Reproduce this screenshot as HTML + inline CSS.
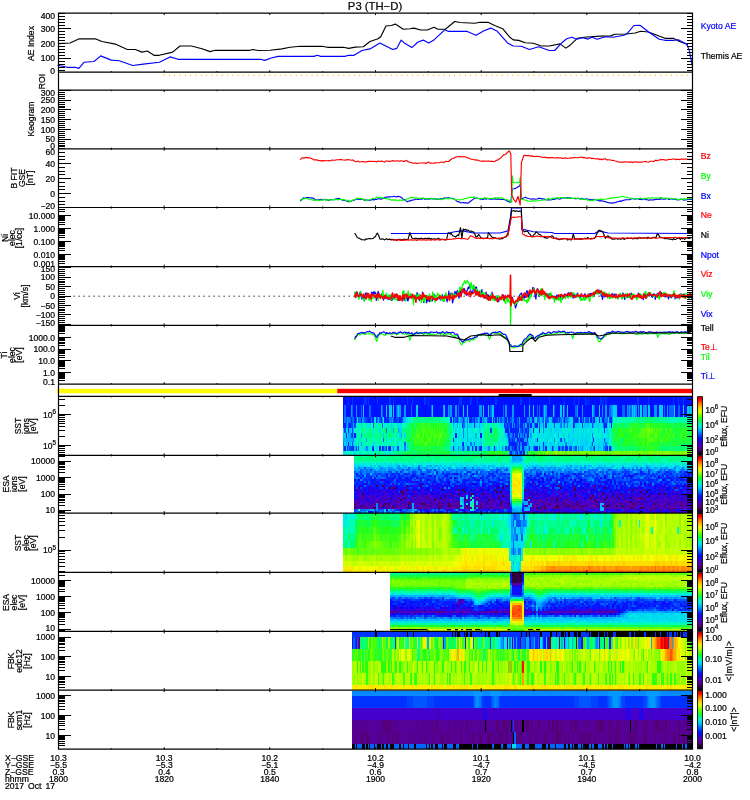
<!DOCTYPE html>
<html lang="en"><head><meta charset="utf-8"><title>P3 (TH-D) summary plot</title>
<style>html,body{margin:0;padding:0;background:#fff}#p{position:relative;width:750px;height:800px;overflow:hidden;background:#fff}#p i{position:absolute;display:block}#p svg{position:absolute;left:0;top:0}text{white-space:pre}</style></head><body>
<div id="p">
<i style="left:343px;top:396px;width:349.5px;height:9px;background:linear-gradient(90deg,#01f 0 5px,#03f 0 6.2px,#01f 0 8.8px,#03f 0 10px,#01f 0 21.2px,#03f 0 23.8px,#01f 0 25px,#03f 0 26.2px,#01f 0 33.8px,#03f 0 35px,#01f 0 46.2px,#03f 0 47.5px,#01f 0 50px,#03f 0 51.2px,#01f 0 63.8px,#03f 0 65px,#01f 0 68.8px,#03f 0 70px,#01f 0 81.2px,#03f 0 82.5px,#01f 0 85px,#03f 0 86.2px,#01f 0 116.2px,#03f 0 118.8px,#01f 0 127.5px,#03f 0 128.8px,#01f 0 133.8px,#03f 0 135px,#01f 0 152.5px,#03f 0 153.8px,#01f 0 177.5px,#03f 0 178.8px,#01f 0 186.2px,#03f 0 187.5px,#01f 0 206.2px,#03f 0 207.5px,#01f 0 221.2px,#03f 0 222.5px,#01f 0 231.2px,#03f 0 232.5px,#01f 0 235px,#03f 0 236.2px,#01f 0 242.5px,#03f 0 243.8px,#01f 0 245px,#03f 0 246.2px,#01f 0 257.5px,#03f 0 258.8px,#01f 0 260px,#03f 0 261.2px,#01f 0 262.5px,#03f 0 263.8px,#01f 0 293.8px,#03f 0 296.2px,#01f 0 305px,#03f 0 306.2px,#01f 0 330px,#03f 0 331.2px,#01f 0 335px,#03f 0 336.2px,#01f 0 340px,#03f 0 341.2px,#01f 0 349.5px)"></i>
<i style="left:343px;top:405px;width:349.5px;height:12px;background:linear-gradient(90deg,#01f 0 1.2px,#06f 0 2.5px,#01f 0 7.5px,#09f 0 8.8px,#06f 0 10px,#01f 0 12.5px,#09f 0 13.8px,#01f 0 17.5px,#06f 0 18.8px,#01f 0 20px,#0cf 0 21.2px,#01f 0 26.2px,#06f 0 27.5px,#01f 0 37.5px,#09f 0 38.8px,#06f 0 40px,#01f 0 42.5px,#0cf 0 43.8px,#01f 0 46.2px,#0cf 0 48.8px,#01f 0 50px,#0cf 0 51.2px,#01f 0 52.5px,#06f 0 53.8px,#09f 0 55px,#0cf 0 56.2px,#09f 0 57.5px,#01f 0 61.2px,#09f 0 62.5px,#01f 0 67.5px,#06f 0 68.8px,#01f 0 72.5px,#0cf 0 75px,#01f 0 87.5px,#06f 0 88.8px,#0cf 0 90px,#01f 0 100px,#09f 0 101.2px,#0cf 0 102.5px,#01f 0 105px,#09f 0 106.2px,#06f 0 107.5px,#09f 0 108.8px,#01f 0 112.5px,#09f 0 113.8px,#01f 0 115px,#06f 0 116.2px,#01f 0 120px,#0cf 0 121.2px,#01f 0 123.8px,#0cf 0 125px,#01f 0 136.2px,#09f 0 138.8px,#01f 0 140px,#0cf 0 141.2px,#01f 0 145px,#0cf 0 146.2px,#01f 0 147.5px,#06f 0 148.8px,#0cf 0 151.2px,#01f 0 160px,#06f 0 161.2px,#01f 0 162.5px,#09f 0 163.8px,#01f 0 168.8px,#09f 0 171.2px,#01f 0 181.2px,#09f 0 182.5px,#01f 0 186.2px,#0cf 0 187.5px,#01f 0 190px,#0cf 0 191.2px,#01f 0 193.8px,#06f 0 195px,#01f 0 196.2px,#06f 0 197.5px,#01f 0 200px,#06f 0 201.2px,#0cf 0 202.5px,#09f 0 203.8px,#01f 0 210px,#0cf 0 211.2px,#06f 0 212.5px,#01f 0 217.5px,#0cf 0 218.8px,#01f 0 220px,#0cf 0 221.2px,#06f 0 222.5px,#01f 0 223.8px,#0cf 0 225px,#01f 0 232.5px,#06f 0 233.8px,#09f 0 235px,#01f 0 238.8px,#09f 0 240px,#01f 0 248.8px,#0cf 0 250px,#09f 0 251.2px,#06f 0 252.5px,#01f 0 256.2px,#0cf 0 257.5px,#01f 0 258.8px,#09f 0 260px,#01f 0 262.5px,#09f 0 263.8px,#01f 0 266.2px,#06f 0 267.5px,#09f 0 270px,#0cf 0 273.8px,#01f 0 278.8px,#06f 0 282.5px,#01f 0 283.8px,#09f 0 285px,#06f 0 286.2px,#09f 0 287.5px,#06f 0 288.8px,#0cf 0 290px,#09f 0 291.2px,#0cf 0 292.5px,#09f 0 293.8px,#01f 0 295px,#09f 0 296.2px,#01f 0 297.5px,#0cf 0 298.8px,#01f 0 300px,#09f 0 303.8px,#01f 0 305px,#0cf 0 307.5px,#01f 0 311.2px,#09f 0 313.8px,#01f 0 316.2px,#0cf 0 320px,#01f 0 321.2px,#06f 0 322.5px,#01f 0 323.8px,#09f 0 325px,#01f 0 326.2px,#06f 0 331.2px,#0cf 0 332.5px,#01f 0 335px,#06f 0 337.5px,#01f 0 340px,#0cf 0 341.2px,#01f 0 343.8px,#0cf 0 346.2px,#09f 0 347.5px,#0cf 0 349.5px)"></i>
<i style="left:343px;top:417px;width:349.5px;height:6px;background:linear-gradient(90deg,#02f 0 1.2px,#07f 0 2.5px,#05f 0 3.8px,#09f 0 5px,#07f 0 7.5px,#02f 0 8.8px,#05f 0 10px,#07f 0 11.2px,#02f 0 12.5px,#05f 0 13.8px,#0de 0 15px,#05f 0 16.2px,#07f 0 17.5px,#02f 0 18.8px,#09f 0 21.2px,#05f 0 22.5px,#03f 0 25px,#02f 0 27.5px,#07f 0 28.8px,#03f 0 30px,#02f 0 31.2px,#0de 0 32.5px,#03f 0 33.8px,#07f 0 35px,#0bf 0 36.2px,#05f 0 37.5px,#02f 0 38.8px,#09f 0 40px,#0de 0 41.2px,#02f 0 42.5px,#03f 0 43.8px,#02f 0 46.2px,#07f 0 48.8px,#09f 0 50px,#05f 0 51.2px,#02f 0 52.5px,#03f 0 53.8px,#05f 0 56.2px,#02f 0 57.5px,#03f 0 58.8px,#05f 0 60px,#0bf 0 62.5px,#0de 0 65px,#0ed 0 67.5px,#0fa 0 70px,#0f9 0 71.2px,#0f7 0 73.8px,#0f9 0 75px,#0f6 0 76.2px,#0f8 0 77.5px,#0f7 0 78.8px,#0f9 0 80px,#0f8 0 81.2px,#0f7 0 82.5px,#0f8 0 83.8px,#0f7 0 86.2px,#0f8 0 87.5px,#0f7 0 88.8px,#0f6 0 90px,#0f8 0 95px,#0f7 0 96.2px,#0f6 0 97.5px,#0f9 0 100px,#0fb 0 101.2px,#0fa 0 103.8px,#0fb 0 107.5px,#02f 0 108.8px,#0de 0 110px,#02f 0 111.2px,#07f 0 112.5px,#05f 0 113.8px,#03f 0 115px,#07f 0 116.2px,#0bf 0 117.5px,#09f 0 118.8px,#07f 0 120px,#03f 0 121.2px,#07f 0 122.5px,#0bf 0 123.8px,#07f 0 125px,#0de 0 126.2px,#02f 0 128.8px,#05f 0 131.2px,#02f 0 132.5px,#07f 0 135px,#0bf 0 136.2px,#09f 0 137.5px,#02f 0 138.8px,#09f 0 140px,#07f 0 141.2px,#09f 0 142.5px,#0bf 0 143.8px,#05f 0 145px,#03f 0 147.5px,#02f 0 148.8px,#0de 0 150px,#03f 0 151.2px,#07f 0 152.5px,#02f 0 153.8px,#0bf 0 155px,#02f 0 156.2px,#09f 0 157.5px,#05f 0 158.8px,#08f 0 161.2px,#05f 0 162.5px,#02f 0 163.8px,#08f 0 165px,#02f 0 167.5px,#05f 0 168.8px,#08f 0 171.2px,#02f 0 173.8px,#05f 0 175px,#02f 0 176.2px,#0af 0 177.5px,#02f 0 183.8px,#08f 0 186.2px,#05f 0 187.5px,#0af 0 188.8px,#02f 0 191.2px,#09f 0 192.5px,#0de 0 193.8px,#05f 0 195px,#07f 0 197.5px,#0bf 0 198.8px,#07f 0 200px,#05f 0 201.2px,#0de 0 202.5px,#05f 0 205px,#07f 0 206.2px,#0de 0 207.5px,#0bf 0 208.8px,#05f 0 210px,#02f 0 212.5px,#03f 0 215px,#07f 0 216.2px,#03f 0 217.5px,#07f 0 218.8px,#0bf 0 220px,#07f 0 221.2px,#02f 0 222.5px,#07f 0 225px,#09f 0 226.2px,#0bf 0 227.5px,#0de 0 230px,#03f 0 232.5px,#02f 0 235px,#05f 0 236.2px,#0de 0 237.5px,#02f 0 238.8px,#07f 0 240px,#03f 0 241.2px,#0bf 0 242.5px,#05f 0 245px,#03f 0 246.2px,#0bf 0 247.5px,#02f 0 248.8px,#07f 0 250px,#03f 0 251.2px,#02f 0 252.5px,#0bf 0 253.8px,#0de 0 256.2px,#02f 0 257.5px,#0bf 0 258.8px,#02f 0 261.2px,#05f 0 262.5px,#07f 0 265px,#0de 0 266.2px,#03f 0 268.8px,#09f 0 270px,#0fc 0 271.2px,#0fb 0 272.5px,#0ec 0 273.8px,#0fb 0 275px,#0fc 0 276.2px,#0fa 0 280px,#0fb 0 282.5px,#0fa 0 285px,#0f9 0 286.2px,#0fa 0 288.8px,#0fb 0 290px,#0f9 0 291.2px,#0fa 0 292.5px,#0f9 0 293.8px,#0f8 0 295px,#0f7 0 297.5px,#0f9 0 298.8px,#0f7 0 300px,#0f8 0 302.5px,#0f6 0 303.8px,#0f7 0 305px,#1f4 0 306.2px,#0f7 0 307.5px,#0f6 0 308.8px,#0f7 0 310px,#0f8 0 311.2px,#0f7 0 313.8px,#0f9 0 315px,#0f7 0 316.2px,#0fa 0 317.5px,#0f8 0 320px,#0fa 0 321.2px,#0f9 0 323.8px,#0fa 0 326.2px,#0f9 0 327.5px,#0fb 0 331.2px,#0f9 0 332.5px,#0fb 0 335px,#0fa 0 337.5px,#0f9 0 338.8px,#0fa 0 343.8px,#0f9 0 345px,#0fb 0 346.2px,#0ec 0 347.5px,#0fa 0 349.5px)"></i>
<i style="left:343px;top:423px;width:349.5px;height:5px;background:linear-gradient(90deg,#02f 0 2.5px,#07f 0 3.8px,#0af 0 5px,#04f 0 6.2px,#02f 0 7.5px,#04f 0 10px,#0af 0 11.2px,#04f 0 12.5px,#0ed 0 15px,#0fb 0 16.2px,#0f9 0 17.5px,#0de 0 18.8px,#0f9 0 20px,#0fa 0 21.2px,#0fb 0 22.5px,#0de 0 23.8px,#0f9 0 25px,#0ed 0 26.2px,#0de 0 27.5px,#0fc 0 28.8px,#0fb 0 30px,#05f 0 31.2px,#0f8 0 32.5px,#0ed 0 35px,#0f8 0 36.2px,#0fa 0 38.8px,#05f 0 40px,#0fb 0 41.2px,#0ed 0 42.5px,#0fb 0 43.8px,#0ed 0 45px,#0de 0 46.2px,#0f9 0 47.5px,#0cf 0 48.8px,#0f9 0 50px,#0de 0 51.2px,#0fb 0 52.5px,#0fa 0 53.8px,#0de 0 58.8px,#0fb 0 62.5px,#0f9 0 65px,#1f5 0 66.2px,#0f7 0 67.5px,#1f4 0 68.8px,#1f3 0 70px,#1f4 0 71.2px,#1f5 0 72.5px,#2f2 0 73.8px,#1f3 0 75px,#2f2 0 76.2px,#2f3 0 77.5px,#3f1 0 78.8px,#4f1 0 81.2px,#3f1 0 82.5px,#1f5 0 83.8px,#1f4 0 85px,#5f1 0 86.2px,#2f3 0 87.5px,#3f1 0 88.8px,#1f4 0 90px,#2f1 0 91.2px,#2f3 0 92.5px,#2f1 0 93.8px,#4f1 0 95px,#1f5 0 96.2px,#3f1 0 97.5px,#2f3 0 98.8px,#2f2 0 100px,#2f3 0 101.2px,#1f3 0 102.5px,#2f3 0 103.8px,#1f4 0 105px,#0f7 0 106.2px,#0f9 0 108.8px,#0fc 0 110px,#0af 0 111.2px,#0ed 0 113.8px,#0af 0 115px,#0fc 0 116.2px,#0cf 0 117.5px,#0ed 0 118.8px,#02f 0 120px,#07f 0 122.5px,#0dd 0 123.8px,#0af 0 125px,#0de 0 126.2px,#0bf 0 127.5px,#0cf 0 128.8px,#0de 0 130px,#0ed 0 131.2px,#02f 0 132.5px,#0cf 0 133.8px,#0de 0 136.2px,#0af 0 137.5px,#0de 0 138.8px,#0ec 0 140px,#0de 0 141.2px,#0fb 0 143.8px,#0f9 0 146.2px,#0f8 0 147.5px,#0ed 0 148.8px,#0f7 0 150px,#0fa 0 153.8px,#0f9 0 155px,#0ed 0 157.5px,#0de 0 160px,#0ec 0 161.2px,#02f 0 162.5px,#05f 0 163.8px,#02f 0 165px,#05f 0 167.5px,#02f 0 168.8px,#0af 0 170px,#02f 0 171.2px,#08f 0 172.5px,#02f 0 173.8px,#05f 0 175px,#02f 0 176.2px,#08f 0 177.5px,#02f 0 180px,#08f 0 181.2px,#05f 0 182.5px,#0af 0 183.8px,#02f 0 186.2px,#08f 0 187.5px,#02f 0 188.8px,#0cf 0 191.2px,#07f 0 192.5px,#02f 0 195px,#0de 0 196.2px,#04f 0 197.5px,#0cf 0 198.8px,#0de 0 200px,#07f 0 201.2px,#0de 0 202.5px,#02f 0 203.8px,#0ed 0 205px,#0cf 0 206.2px,#0de 0 211.2px,#04f 0 212.5px,#0de 0 215px,#0cf 0 217.5px,#07f 0 218.8px,#0dd 0 220px,#0af 0 221.2px,#07f 0 222.5px,#0ce 0 223.8px,#07f 0 225px,#0de 0 226.2px,#0dd 0 227.5px,#0de 0 228.8px,#0cf 0 230px,#02f 0 231.2px,#04f 0 232.5px,#0ce 0 233.8px,#0cf 0 235px,#0de 0 236.2px,#0cf 0 237.5px,#0ed 0 238.8px,#02f 0 240px,#0de 0 241.2px,#0bf 0 242.5px,#0cf 0 243.8px,#0ce 0 246.2px,#0cf 0 247.5px,#0de 0 248.8px,#04f 0 250px,#0af 0 251.2px,#0cf 0 252.5px,#0de 0 253.8px,#0ce 0 255px,#0cf 0 256.2px,#0de 0 260px,#07f 0 261.2px,#02f 0 263.8px,#0cf 0 265px,#0ed 0 266.2px,#0de 0 267.5px,#02f 0 268.8px,#0fa 0 270px,#0f7 0 271.2px,#0f6 0 272.5px,#0f7 0 273.8px,#2f2 0 275px,#1f4 0 276.2px,#1f5 0 277.5px,#0f7 0 278.8px,#1f4 0 281.2px,#0f7 0 283.8px,#1f5 0 285px,#2f2 0 286.2px,#1f5 0 287.5px,#2f3 0 288.8px,#1f4 0 290px,#2f3 0 291.2px,#2f2 0 292.5px,#3f1 0 293.8px,#2f1 0 295px,#1f4 0 296.2px,#1f5 0 297.5px,#1f4 0 298.8px,#1f5 0 300px,#2f2 0 301.2px,#3f1 0 302.5px,#2f3 0 303.8px,#6f1 0 305px,#4f1 0 306.2px,#5f1 0 307.5px,#2f2 0 308.8px,#2f3 0 310px,#2f2 0 311.2px,#4f1 0 312.5px,#2f3 0 313.8px,#2f2 0 317.5px,#2f3 0 318.8px,#2f2 0 320px,#1f4 0 322.5px,#2f1 0 323.8px,#1f3 0 325px,#1f4 0 328.8px,#2f3 0 330px,#1f6 0 331.2px,#2f3 0 332.5px,#1f4 0 333.8px,#1f5 0 335px,#1f4 0 336.2px,#1f5 0 337.5px,#1f3 0 338.8px,#0f6 0 340px,#1f4 0 341.2px,#1f5 0 342.5px,#1f4 0 343.8px,#1f5 0 345px,#1f4 0 348.8px,#2f2 0 349.5px)"></i>
<i style="left:343px;top:428px;width:349.5px;height:5px;background:linear-gradient(90deg,#0cf 0 1.2px,#04f 0 2.5px,#0ce 0 3.8px,#0cf 0 5px,#02f 0 6.2px,#0bf 0 7.5px,#0cf 0 8.8px,#04f 0 10px,#0af 0 11.2px,#0ed 0 12.5px,#0fb 0 15px,#0de 0 16.2px,#0fa 0 18.8px,#0f6 0 20px,#0f9 0 22.5px,#0fc 0 23.8px,#0fa 0 25px,#0f9 0 26.2px,#0f8 0 27.5px,#0f9 0 30px,#0de 0 31.2px,#0fa 0 33.8px,#0f7 0 35px,#0fa 0 36.2px,#0de 0 37.5px,#0fa 0 38.8px,#0f8 0 41.2px,#0f7 0 42.5px,#05f 0 43.8px,#0f7 0 45px,#0f9 0 46.2px,#0f8 0 47.5px,#0de 0 48.8px,#0f6 0 50px,#09f 0 51.2px,#0f8 0 52.5px,#0f9 0 53.8px,#0f7 0 55px,#09f 0 56.2px,#0cf 0 57.5px,#0de 0 58.8px,#0f9 0 60px,#0f7 0 62.5px,#1f5 0 63.8px,#0f9 0 65px,#0f6 0 66.2px,#1f5 0 68.8px,#2f2 0 70px,#1f4 0 71.2px,#1f3 0 72.5px,#4f1 0 73.8px,#3f1 0 76.2px,#2f3 0 77.5px,#4f1 0 78.8px,#3f1 0 80px,#5f1 0 81.2px,#4f1 0 82.5px,#3f1 0 86.2px,#4f1 0 87.5px,#3f1 0 88.8px,#4f1 0 90px,#3f1 0 91.2px,#4f1 0 92.5px,#2f2 0 93.8px,#4f1 0 95px,#2f1 0 96.2px,#4f1 0 97.5px,#3f1 0 98.8px,#4f1 0 100px,#2f3 0 101.2px,#1f3 0 102.5px,#2f1 0 103.8px,#1f5 0 105px,#0f8 0 106.2px,#0f7 0 108.8px,#0fb 0 110px,#0ec 0 111.2px,#0ed 0 112.5px,#0de 0 113.8px,#0fc 0 115px,#0ec 0 116.2px,#0de 0 117.5px,#0ed 0 120px,#07f 0 121.2px,#0ed 0 123.8px,#0af 0 125px,#0ed 0 128.8px,#0dd 0 130px,#0ed 0 132.5px,#0fb 0 133.8px,#0ed 0 136.2px,#0de 0 137.5px,#0ed 0 138.8px,#0fb 0 141.2px,#0f7 0 142.5px,#0fa 0 143.8px,#0f7 0 145px,#0f6 0 146.2px,#0f8 0 147.5px,#04f 0 148.8px,#0f7 0 150px,#0f9 0 151.2px,#1f3 0 152.5px,#0f6 0 153.8px,#0f8 0 155px,#0fa 0 157.5px,#0fb 0 158.8px,#0ec 0 160px,#0f9 0 161.2px,#0de 0 162.5px,#02f 0 166.2px,#08f 0 167.5px,#02f 0 176.2px,#0af 0 177.5px,#05f 0 178.8px,#02f 0 180px,#05f 0 181.2px,#08f 0 182.5px,#02f 0 183.8px,#05f 0 185px,#02f 0 186.2px,#0af 0 187.5px,#0cf 0 188.8px,#0ed 0 190px,#02f 0 191.2px,#0de 0 192.5px,#0ed 0 193.8px,#0de 0 195px,#0ed 0 196.2px,#02f 0 197.5px,#0ec 0 198.8px,#0fc 0 200px,#07f 0 201.2px,#0de 0 205px,#0ec 0 207.5px,#0ce 0 208.8px,#0ed 0 210px,#0de 0 212.5px,#0cf 0 213.8px,#0de 0 220px,#0fb 0 221.2px,#0de 0 222.5px,#0ed 0 223.8px,#0ec 0 225px,#0de 0 226.2px,#0ed 0 227.5px,#0de 0 228.8px,#0dd 0 230px,#0ce 0 231.2px,#0de 0 233.8px,#0ed 0 235px,#0de 0 236.2px,#0ed 0 237.5px,#0de 0 238.8px,#0ed 0 240px,#0ce 0 241.2px,#0ed 0 242.5px,#0de 0 243.8px,#0ec 0 245px,#0ed 0 247.5px,#0de 0 250px,#0ed 0 255px,#0ce 0 256.2px,#0ec 0 257.5px,#0ed 0 258.8px,#0de 0 260px,#0ed 0 261.2px,#02f 0 262.5px,#0de 0 263.8px,#0cf 0 265px,#0ec 0 266.2px,#0ed 0 267.5px,#0f7 0 268.8px,#1f4 0 271.2px,#1f3 0 272.5px,#1f4 0 275px,#2f2 0 276.2px,#3f1 0 278.8px,#1f4 0 280px,#2f2 0 283.8px,#2f3 0 285px,#3f1 0 287.5px,#5f1 0 288.8px,#1f4 0 290px,#3f1 0 292.5px,#2f2 0 295px,#4f1 0 296.2px,#2f2 0 297.5px,#4f1 0 298.8px,#6f1 0 300px,#4f1 0 301.2px,#5f1 0 303.8px,#6f0 0 305px,#8f0 0 307.5px,#6f0 0 308.8px,#6f1 0 310px,#4f1 0 311.2px,#5f1 0 312.5px,#3f1 0 313.8px,#5f1 0 315px,#3f1 0 316.2px,#4f1 0 318.8px,#2f3 0 320px,#2f2 0 321.2px,#1f4 0 322.5px,#5f1 0 323.8px,#1f4 0 325px,#2f2 0 326.2px,#2f3 0 327.5px,#4f1 0 328.8px,#2f2 0 330px,#1f5 0 331.2px,#2f2 0 332.5px,#1f4 0 333.8px,#2f2 0 335px,#2f3 0 336.2px,#2f2 0 337.5px,#1f4 0 338.8px,#3f1 0 341.2px,#2f2 0 342.5px,#2f3 0 343.8px,#3f1 0 345px,#2f2 0 346.2px,#0f7 0 347.5px,#3f1 0 348.8px,#1f6 0 349.5px)"></i>
<i style="left:343px;top:433px;width:349.5px;height:5px;background:linear-gradient(90deg,#0cf 0 2.5px,#02f 0 3.8px,#0de 0 5px,#0af 0 7.5px,#04f 0 8.8px,#02f 0 10px,#0af 0 11.2px,#02f 0 12.5px,#0cf 0 13.8px,#0f8 0 15px,#0f9 0 16.2px,#0fa 0 17.5px,#09f 0 18.8px,#0f9 0 20px,#0fa 0 21.2px,#0f8 0 22.5px,#0f6 0 23.8px,#0fa 0 25px,#0f8 0 26.2px,#0f7 0 28.8px,#0f9 0 30px,#0ec 0 31.2px,#0f9 0 32.5px,#0fc 0 33.8px,#1f5 0 35px,#0fa 0 36.2px,#0f8 0 40px,#0cf 0 41.2px,#0f8 0 42.5px,#0de 0 43.8px,#0f8 0 45px,#0f7 0 48.8px,#0f8 0 50px,#0f9 0 51.2px,#0fa 0 52.5px,#0de 0 53.8px,#0f9 0 55px,#0f8 0 56.2px,#0de 0 57.5px,#09f 0 58.8px,#0fb 0 60px,#0f8 0 61.2px,#0de 0 62.5px,#0f8 0 63.8px,#1f3 0 65px,#0f8 0 66.2px,#1f4 0 67.5px,#1f5 0 68.8px,#3f1 0 70px,#2f2 0 71.2px,#2f3 0 72.5px,#4f1 0 75px,#6f1 0 76.2px,#3f1 0 77.5px,#2f1 0 78.8px,#4f1 0 80px,#6f1 0 81.2px,#2f1 0 82.5px,#6f1 0 83.8px,#3f1 0 85px,#2f2 0 86.2px,#3f1 0 87.5px,#5f1 0 88.8px,#3f1 0 90px,#4f1 0 92.5px,#5f1 0 93.8px,#2f1 0 95px,#4f1 0 96.2px,#5f1 0 97.5px,#6f1 0 98.8px,#2f3 0 100px,#3f1 0 102.5px,#2f3 0 103.8px,#1f5 0 105px,#1f6 0 106.2px,#1f4 0 107.5px,#0fa 0 108.8px,#0fb 0 110px,#0f9 0 111.2px,#0ed 0 112.5px,#02f 0 113.8px,#0ed 0 115px,#0de 0 116.2px,#0ec 0 117.5px,#0de 0 118.8px,#0fc 0 120px,#07f 0 121.2px,#0de 0 122.5px,#0ed 0 123.8px,#0af 0 125px,#0ed 0 126.2px,#0fc 0 127.5px,#0ed 0 130px,#0de 0 131.2px,#0fb 0 132.5px,#0af 0 133.8px,#0ed 0 135px,#0fc 0 136.2px,#0ed 0 137.5px,#02f 0 138.8px,#0fc 0 140px,#0fb 0 141.2px,#0f8 0 142.5px,#1f6 0 143.8px,#0f7 0 146.2px,#0f9 0 147.5px,#0f6 0 148.8px,#0f8 0 150px,#0f7 0 151.2px,#0f6 0 152.5px,#1f4 0 153.8px,#0f8 0 156.2px,#0fb 0 160px,#0ec 0 161.2px,#0de 0 162.5px,#0cf 0 163.8px,#08f 0 165px,#02f 0 166.2px,#05f 0 167.5px,#08f 0 168.8px,#05f 0 170px,#02f 0 171.2px,#08f 0 172.5px,#02f 0 175px,#0af 0 176.2px,#02f 0 177.5px,#08f 0 178.8px,#05f 0 180px,#08f 0 181.2px,#02f 0 182.5px,#08f 0 183.8px,#02f 0 186.2px,#0ec 0 187.5px,#09f 0 188.8px,#0ed 0 190px,#0ec 0 191.2px,#0de 0 192.5px,#0ed 0 193.8px,#0de 0 197.5px,#0ed 0 198.8px,#0de 0 201.2px,#0ed 0 203.8px,#0de 0 210px,#0ed 0 213.8px,#0de 0 215px,#0af 0 216.2px,#0ed 0 218.8px,#0de 0 222.5px,#0ec 0 223.8px,#0ed 0 225px,#0bf 0 226.2px,#0de 0 232.5px,#0ec 0 233.8px,#0de 0 236.2px,#0ed 0 237.5px,#0de 0 241.2px,#0ed 0 242.5px,#0de 0 247.5px,#0ed 0 248.8px,#07f 0 250px,#0de 0 251.2px,#0fc 0 252.5px,#0ed 0 258.8px,#0cf 0 260px,#0ed 0 263.8px,#0de 0 265px,#0ce 0 266.2px,#0fa 0 267.5px,#0f9 0 268.8px,#1f6 0 270px,#0f6 0 271.2px,#1f6 0 272.5px,#1f4 0 273.8px,#2f1 0 276.2px,#2f3 0 277.5px,#3f1 0 280px,#2f2 0 281.2px,#1f4 0 282.5px,#1f3 0 283.8px,#2f3 0 285px,#3f1 0 286.2px,#2f2 0 290px,#3f1 0 291.2px,#4f1 0 292.5px,#3f1 0 293.8px,#2f3 0 295px,#4f1 0 297.5px,#5f1 0 298.8px,#4f1 0 300px,#5f1 0 302.5px,#4f1 0 303.8px,#6f0 0 305px,#7f0 0 306.2px,#6f1 0 307.5px,#3f1 0 308.8px,#4f1 0 310px,#2f3 0 311.2px,#4f1 0 312.5px,#6f1 0 313.8px,#3f1 0 317.5px,#2f2 0 318.8px,#2f3 0 320px,#2f2 0 321.2px,#2f3 0 322.5px,#3f1 0 325px,#4f1 0 327.5px,#2f2 0 328.8px,#3f1 0 330px,#5f1 0 331.2px,#1f5 0 332.5px,#1f3 0 333.8px,#1f4 0 335px,#2f2 0 336.2px,#1f4 0 337.5px,#4f1 0 338.8px,#2f2 0 340px,#1f3 0 341.2px,#2f1 0 342.5px,#2f3 0 343.8px,#3f1 0 345px,#2f2 0 346.2px,#0f7 0 347.5px,#2f2 0 348.8px,#1f4 0 349.5px)"></i>
<i style="left:343px;top:438px;width:349.5px;height:4px;background:linear-gradient(90deg,#0af 0 1.2px,#0bf 0 2.5px,#0af 0 5px,#0bf 0 6.2px,#0af 0 10px,#07f 0 11.2px,#0de 0 12.5px,#0fb 0 15px,#0f7 0 16.2px,#0de 0 17.5px,#0fa 0 18.8px,#0f9 0 20px,#0fa 0 21.2px,#0fb 0 22.5px,#09f 0 23.8px,#0f9 0 25px,#0fa 0 26.2px,#0f9 0 27.5px,#0fa 0 28.8px,#0f9 0 31.2px,#0fa 0 33.8px,#0f8 0 35px,#0fb 0 36.2px,#0f8 0 37.5px,#0f9 0 38.8px,#0fb 0 40px,#05f 0 41.2px,#0f9 0 42.5px,#0de 0 43.8px,#0fa 0 45px,#0f9 0 46.2px,#0fb 0 47.5px,#0de 0 48.8px,#0f9 0 50px,#0de 0 51.2px,#0fc 0 52.5px,#0f8 0 53.8px,#0f9 0 56.2px,#0de 0 57.5px,#0f9 0 58.8px,#0fa 0 60px,#0f9 0 61.2px,#0f7 0 63.8px,#0f9 0 65px,#0f6 0 66.2px,#1f4 0 67.5px,#3f1 0 68.8px,#1f4 0 71.2px,#4f1 0 72.5px,#2f2 0 73.8px,#5f1 0 75px,#2f2 0 76.2px,#3f1 0 77.5px,#5f1 0 80px,#3f1 0 81.2px,#2f1 0 82.5px,#3f1 0 83.8px,#2f2 0 85px,#6f0 0 86.2px,#5f1 0 87.5px,#3f1 0 88.8px,#2f2 0 90px,#3f1 0 91.2px,#6f1 0 92.5px,#2f2 0 95px,#5f1 0 97.5px,#2f2 0 98.8px,#3f1 0 100px,#2f3 0 101.2px,#2f2 0 102.5px,#1f5 0 103.8px,#2f2 0 105px,#0f7 0 106.2px,#1f5 0 107.5px,#0f9 0 108.8px,#0fa 0 110px,#02f 0 111.2px,#0ed 0 112.5px,#0de 0 113.8px,#0fc 0 115px,#0de 0 116.2px,#0ed 0 118.8px,#0ce 0 120px,#0de 0 121.2px,#0ed 0 123.8px,#0af 0 125px,#0de 0 128.8px,#0ed 0 131.2px,#0de 0 133.8px,#0ed 0 135px,#0de 0 136.2px,#0ed 0 137.5px,#0dd 0 138.8px,#0fb 0 140px,#0ed 0 141.2px,#0fb 0 142.5px,#0f7 0 143.8px,#0f8 0 145px,#0f9 0 146.2px,#1f5 0 147.5px,#0f7 0 148.8px,#0f8 0 150px,#0f6 0 151.2px,#0f7 0 153.8px,#0f9 0 155px,#0f8 0 156.2px,#0fa 0 157.5px,#0ed 0 158.8px,#0ec 0 161.2px,#0fa 0 162.5px,#0de 0 163.8px,#0ec 0 165px,#05f 0 166.2px,#02f 0 167.5px,#05f 0 168.8px,#02f 0 170px,#05f 0 171.2px,#02f 0 172.5px,#0af 0 173.8px,#02f 0 176.2px,#05f 0 177.5px,#02f 0 181.2px,#0af 0 183.8px,#02f 0 185px,#0cf 0 186.2px,#0de 0 187.5px,#0cf 0 188.8px,#0de 0 190px,#0ed 0 192.5px,#0ce 0 193.8px,#02f 0 195px,#0de 0 196.2px,#0ed 0 198.8px,#0de 0 200px,#0ed 0 201.2px,#0de 0 203.8px,#0ce 0 205px,#0ed 0 208.8px,#0cf 0 210px,#0ed 0 211.2px,#07f 0 212.5px,#0ed 0 216.2px,#0cf 0 217.5px,#04f 0 218.8px,#0de 0 220px,#0cf 0 221.2px,#07f 0 222.5px,#0de 0 223.8px,#0ed 0 225px,#0de 0 226.2px,#0ce 0 227.5px,#0de 0 228.8px,#0cf 0 231.2px,#0de 0 233.8px,#0ce 0 235px,#0de 0 236.2px,#0ed 0 237.5px,#0de 0 238.8px,#0cf 0 240px,#0de 0 242.5px,#0cf 0 243.8px,#0de 0 247.5px,#0ed 0 248.8px,#0cf 0 250px,#02f 0 251.2px,#0de 0 252.5px,#0ed 0 253.8px,#0ce 0 255px,#0de 0 261.2px,#04f 0 262.5px,#0ce 0 263.8px,#0de 0 266.2px,#0ed 0 267.5px,#0fa 0 268.8px,#0f9 0 270px,#2f3 0 271.2px,#1f5 0 272.5px,#2f3 0 273.8px,#2f2 0 275px,#2f3 0 276.2px,#2f2 0 277.5px,#0f7 0 278.8px,#0f6 0 281.2px,#2f2 0 282.5px,#3f1 0 283.8px,#1f4 0 285px,#2f2 0 286.2px,#2f1 0 287.5px,#2f2 0 288.8px,#1f4 0 290px,#4f1 0 291.2px,#3f1 0 292.5px,#2f3 0 293.8px,#2f2 0 295px,#2f1 0 296.2px,#3f1 0 298.8px,#2f2 0 300px,#4f1 0 301.2px,#3f1 0 302.5px,#2f1 0 303.8px,#4f1 0 305px,#7f0 0 306.2px,#2f3 0 307.5px,#6f1 0 308.8px,#4f1 0 310px,#5f1 0 311.2px,#3f1 0 312.5px,#4f1 0 313.8px,#2f2 0 316.2px,#3f1 0 317.5px,#5f1 0 318.8px,#3f1 0 321.2px,#1f4 0 322.5px,#3f1 0 323.8px,#4f1 0 325px,#3f1 0 326.2px,#2f2 0 327.5px,#2f3 0 328.8px,#1f4 0 330px,#1f5 0 331.2px,#2f3 0 332.5px,#2f2 0 333.8px,#1f5 0 336.2px,#2f2 0 337.5px,#2f3 0 338.8px,#2f2 0 340px,#1f4 0 341.2px,#2f3 0 342.5px,#2f2 0 343.8px,#1f5 0 345px,#2f3 0 346.2px,#1f4 0 347.5px,#1f5 0 348.8px,#2f1 0 349.5px)"></i>
<i style="left:343px;top:442px;width:349.5px;height:4px;background:linear-gradient(90deg,#07f 0 1.2px,#0cf 0 2.5px,#0af 0 3.8px,#0cf 0 5px,#02f 0 6.2px,#0bf 0 7.5px,#0cf 0 8.8px,#04f 0 10px,#0cf 0 11.2px,#0dd 0 12.5px,#0ed 0 13.8px,#0f9 0 15px,#0cf 0 16.2px,#0f9 0 17.5px,#09f 0 18.8px,#0ed 0 20px,#0f9 0 21.2px,#0ec 0 22.5px,#0f9 0 23.8px,#0fb 0 25px,#0f9 0 26.2px,#0fa 0 28.8px,#0de 0 31.2px,#0ec 0 32.5px,#0fb 0 33.8px,#0ec 0 35px,#0fa 0 36.2px,#0ec 0 38.8px,#0fa 0 40px,#0f8 0 41.2px,#0ed 0 42.5px,#0f9 0 43.8px,#0fa 0 45px,#0fb 0 46.2px,#0f9 0 47.5px,#0ec 0 48.8px,#0fa 0 51.2px,#0f9 0 53.8px,#0de 0 56.2px,#0fc 0 57.5px,#0de 0 58.8px,#0fa 0 61.2px,#05f 0 62.5px,#0fa 0 63.8px,#0de 0 65px,#0f6 0 66.2px,#1f5 0 70px,#0f7 0 71.2px,#3f1 0 72.5px,#2f2 0 73.8px,#4f1 0 75px,#2f2 0 76.2px,#3f1 0 77.5px,#2f2 0 80px,#2f1 0 81.2px,#5f1 0 82.5px,#7f0 0 83.8px,#2f2 0 86.2px,#3f1 0 87.5px,#1f5 0 88.8px,#3f1 0 90px,#2f2 0 93.8px,#5f1 0 95px,#3f1 0 96.2px,#2f2 0 98.8px,#2f3 0 100px,#2f2 0 102.5px,#0f6 0 105px,#1f5 0 106.2px,#0f7 0 107.5px,#0fa 0 108.8px,#0fc 0 110px,#0ed 0 111.2px,#0de 0 113.8px,#0ed 0 118.8px,#04f 0 120px,#02f 0 121.2px,#0ed 0 122.5px,#0cf 0 123.8px,#0ce 0 125px,#0ed 0 126.2px,#0de 0 127.5px,#07f 0 128.8px,#0de 0 130px,#0cf 0 131.2px,#07f 0 132.5px,#0de 0 133.8px,#0ed 0 135px,#0de 0 137.5px,#0ce 0 138.8px,#0fc 0 140px,#0ec 0 141.2px,#0f9 0 142.5px,#0f8 0 143.8px,#0f9 0 145px,#0f8 0 146.2px,#0f7 0 147.5px,#0f8 0 148.8px,#0fa 0 151.2px,#0f9 0 152.5px,#0fa 0 153.8px,#0fb 0 155px,#0ed 0 156.2px,#0de 0 157.5px,#0fc 0 158.8px,#0fa 0 160px,#0ed 0 161.2px,#0fb 0 162.5px,#0ec 0 163.8px,#0ed 0 165px,#09f 0 166.2px,#02f 0 173.8px,#05f 0 175px,#08f 0 176.2px,#02f 0 177.5px,#08f 0 178.8px,#02f 0 183.8px,#09f 0 186.2px,#0de 0 190px,#0cf 0 192.5px,#0de 0 200px,#02f 0 201.2px,#0cf 0 203.8px,#0de 0 205px,#0ed 0 206.2px,#0cf 0 208.8px,#0de 0 211.2px,#0ce 0 212.5px,#0ed 0 213.8px,#0de 0 215px,#0af 0 216.2px,#0de 0 218.8px,#0ce 0 220px,#0de 0 221.2px,#0ed 0 222.5px,#07f 0 223.8px,#0de 0 225px,#0cf 0 226.2px,#0de 0 227.5px,#0cf 0 230px,#0ed 0 231.2px,#0de 0 233.8px,#0cf 0 235px,#0de 0 236.2px,#0ed 0 237.5px,#0cf 0 238.8px,#0de 0 240px,#0cf 0 241.2px,#0de 0 242.5px,#0cf 0 245px,#0de 0 246.2px,#0ed 0 247.5px,#0cf 0 248.8px,#04f 0 250px,#0ed 0 251.2px,#0cf 0 252.5px,#0de 0 253.8px,#0ed 0 255px,#0cf 0 257.5px,#0de 0 260px,#0af 0 261.2px,#0ce 0 262.5px,#07f 0 263.8px,#0bf 0 265px,#0de 0 266.2px,#0ed 0 267.5px,#0f9 0 268.8px,#0f8 0 270px,#1f6 0 271.2px,#0f6 0 273.8px,#1f6 0 276.2px,#2f2 0 277.5px,#0f6 0 278.8px,#2f3 0 280px,#1f3 0 281.2px,#2f1 0 283.8px,#2f3 0 285px,#1f4 0 286.2px,#1f3 0 287.5px,#1f4 0 288.8px,#2f2 0 290px,#1f4 0 291.2px,#2f2 0 292.5px,#3f1 0 293.8px,#1f4 0 295px,#2f1 0 296.2px,#2f3 0 297.5px,#2f1 0 298.8px,#4f1 0 301.2px,#2f1 0 302.5px,#2f2 0 303.8px,#5f1 0 305px,#3f1 0 306.2px,#2f2 0 308.8px,#2f3 0 310px,#2f2 0 312.5px,#2f3 0 313.8px,#3f1 0 315px,#2f2 0 317.5px,#1f5 0 318.8px,#1f4 0 320px,#1f5 0 321.2px,#2f2 0 322.5px,#2f3 0 323.8px,#1f4 0 326.2px,#2f3 0 327.5px,#1f5 0 328.8px,#2f3 0 331.2px,#1f4 0 332.5px,#2f2 0 333.8px,#1f5 0 336.2px,#2f2 0 337.5px,#1f5 0 338.8px,#1f6 0 340px,#0f6 0 341.2px,#1f4 0 342.5px,#1f5 0 343.8px,#1f3 0 345px,#0f6 0 346.2px,#1f4 0 347.5px,#2f3 0 349.5px)"></i>
<i style="left:343px;top:446px;width:349.5px;height:5px;background:linear-gradient(90deg,#08f 0 1.2px,#02f 0 2.5px,#0cf 0 3.8px,#02f 0 5px,#08f 0 6.2px,#04f 0 10px,#02f 0 11.2px,#0bf 0 12.5px,#02f 0 13.8px,#0de 0 15px,#04f 0 16.2px,#0ed 0 18.8px,#0de 0 20px,#0fb 0 21.2px,#0cf 0 22.5px,#08f 0 25px,#0de 0 26.2px,#0ed 0 28.8px,#04f 0 30px,#02f 0 31.2px,#0ed 0 32.5px,#0de 0 35px,#0ed 0 36.2px,#02f 0 37.5px,#0de 0 38.8px,#02f 0 40px,#04f 0 41.2px,#08f 0 42.5px,#02f 0 43.8px,#0ed 0 45px,#04f 0 46.2px,#02f 0 47.5px,#0de 0 48.8px,#0cf 0 50px,#08f 0 51.2px,#0de 0 53.8px,#04f 0 56.2px,#0ed 0 58.8px,#0ec 0 60px,#0ed 0 61.2px,#08f 0 62.5px,#0ed 0 63.8px,#0cf 0 65px,#0f8 0 66.2px,#0f7 0 68.8px,#1f4 0 70px,#0f7 0 71.2px,#1f4 0 72.5px,#1f5 0 75px,#2f2 0 76.2px,#1f5 0 77.5px,#2f3 0 78.8px,#1f3 0 80px,#2f3 0 81.2px,#1f4 0 82.5px,#2f3 0 83.8px,#1f4 0 85px,#2f2 0 86.2px,#2f3 0 87.5px,#1f4 0 88.8px,#2f3 0 90px,#1f4 0 92.5px,#0f6 0 93.8px,#1f5 0 95px,#1f4 0 97.5px,#2f3 0 98.8px,#1f5 0 100px,#0f6 0 101.2px,#1f6 0 102.5px,#0f7 0 103.8px,#0f8 0 107.5px,#0de 0 108.8px,#0ed 0 110px,#02f 0 111.2px,#0cf 0 112.5px,#0de 0 113.8px,#0ed 0 115px,#08f 0 116.2px,#0cf 0 118.8px,#08f 0 120px,#04f 0 121.2px,#0bf 0 122.5px,#0de 0 123.8px,#04f 0 126.2px,#08f 0 127.5px,#0ed 0 128.8px,#02f 0 130px,#0bf 0 131.2px,#0de 0 132.5px,#02f 0 133.8px,#0de 0 135px,#0af 0 136.2px,#04f 0 137.5px,#02f 0 138.8px,#0ed 0 140px,#0ec 0 141.2px,#0ce 0 142.5px,#0de 0 143.8px,#0cf 0 145px,#08f 0 147.5px,#0de 0 148.8px,#0fb 0 150px,#0de 0 151.2px,#02f 0 152.5px,#0ce 0 153.8px,#0ed 0 155px,#0de 0 157.5px,#0ed 0 158.8px,#08f 0 160px,#0cf 0 161.2px,#0de 0 162.5px,#04f 0 163.8px,#09f 0 165px,#02f 0 166.2px,#04f 0 167.5px,#08f 0 168.8px,#02f 0 170px,#05f 0 171.2px,#02f 0 173.8px,#08f 0 175px,#05f 0 176.2px,#02f 0 177.5px,#0af 0 178.8px,#02f 0 181.2px,#08f 0 182.5px,#0af 0 183.8px,#0cf 0 185px,#09f 0 186.2px,#04f 0 187.5px,#0cf 0 188.8px,#0de 0 190px,#08f 0 191.2px,#04f 0 192.5px,#02f 0 195px,#0de 0 196.2px,#02f 0 197.5px,#0de 0 198.8px,#0cf 0 200px,#04f 0 201.2px,#0bf 0 202.5px,#02f 0 203.8px,#0de 0 207.5px,#0ce 0 208.8px,#02f 0 210px,#08f 0 211.2px,#0de 0 212.5px,#0cf 0 213.8px,#0de 0 215px,#04f 0 216.2px,#02f 0 217.5px,#08f 0 218.8px,#04f 0 221.2px,#0bf 0 222.5px,#02f 0 223.8px,#04f 0 225px,#0cf 0 226.2px,#04f 0 228.8px,#0ce 0 230px,#0af 0 231.2px,#08f 0 232.5px,#04f 0 233.8px,#0ed 0 235px,#08f 0 236.2px,#0cf 0 237.5px,#0bf 0 238.8px,#08f 0 240px,#0cf 0 241.2px,#0de 0 243.8px,#0cf 0 245px,#0ed 0 246.2px,#0cf 0 247.5px,#0af 0 248.8px,#0ce 0 250px,#08f 0 251.2px,#02f 0 252.5px,#0de 0 255px,#0af 0 256.2px,#0cf 0 258.8px,#0ed 0 260px,#08f 0 262.5px,#04f 0 263.8px,#02f 0 265px,#0de 0 266.2px,#02f 0 267.5px,#09f 0 268.8px,#0ed 0 270px,#0f7 0 271.2px,#0f9 0 272.5px,#0f7 0 273.8px,#0f8 0 275px,#0f6 0 276.2px,#0f8 0 277.5px,#0f7 0 278.8px,#0f8 0 280px,#1f5 0 281.2px,#1f6 0 282.5px,#0f7 0 283.8px,#1f6 0 285px,#1f5 0 287.5px,#0f7 0 288.8px,#1f4 0 290px,#1f5 0 291.2px,#0f7 0 292.5px,#1f6 0 293.8px,#1f5 0 296.2px,#2f2 0 297.5px,#2f3 0 298.8px,#1f5 0 300px,#1f4 0 301.2px,#2f1 0 302.5px,#2f3 0 305px,#3f1 0 306.2px,#1f4 0 307.5px,#3f1 0 308.8px,#2f3 0 310px,#4f1 0 311.2px,#1f4 0 312.5px,#2f2 0 313.8px,#1f6 0 315px,#1f5 0 318.8px,#0f6 0 320px,#0f7 0 322.5px,#0f6 0 323.8px,#0f8 0 325px,#0f7 0 326.2px,#0f8 0 327.5px,#1f6 0 330px,#0f6 0 331.2px,#0f7 0 336.2px,#0f6 0 338.8px,#1f5 0 340px,#0f6 0 341.2px,#0f7 0 342.5px,#0f8 0 343.8px,#1f4 0 345px,#1f5 0 346.2px,#0f6 0 349.5px)"></i>
<i style="left:343px;top:451px;width:349.5px;height:4px;background:linear-gradient(90deg,#0ed 0 3.8px,#0fc 0 5px,#0fb 0 10px,#0ed 0 11.2px,#0de 0 12.5px,#0fa 0 13.8px,#0fb 0 16.2px,#0ec 0 18.8px,#0fb 0 22.5px,#0f9 0 23.8px,#0fa 0 25px,#0ed 0 26.2px,#0fc 0 27.5px,#0fa 0 28.8px,#0fc 0 30px,#0fa 0 31.2px,#0f8 0 32.5px,#0fb 0 35px,#0ec 0 36.2px,#0f7 0 37.5px,#0f9 0 38.8px,#0fb 0 40px,#0f8 0 41.2px,#0ed 0 42.5px,#0fc 0 43.8px,#0fb 0 45px,#0fa 0 46.2px,#0ed 0 47.5px,#0fb 0 48.8px,#0fa 0 51.2px,#0f9 0 52.5px,#0f7 0 53.8px,#0f8 0 55px,#0f7 0 56.2px,#0f8 0 58.8px,#0f6 0 60px,#0f7 0 61.2px,#1f5 0 65px,#1f4 0 66.2px,#1f5 0 67.5px,#0f7 0 68.8px,#0f8 0 70px,#1f6 0 71.2px,#0f6 0 72.5px,#1f5 0 73.8px,#2f3 0 75px,#1f5 0 76.2px,#0f6 0 77.5px,#1f3 0 78.8px,#1f5 0 80px,#1f4 0 81.2px,#1f5 0 83.8px,#2f3 0 85px,#1f5 0 86.2px,#1f4 0 88.8px,#1f5 0 90px,#1f4 0 91.2px,#2f3 0 92.5px,#1f5 0 95px,#0f6 0 96.2px,#2f2 0 97.5px,#1f3 0 98.8px,#1f5 0 101.2px,#1f4 0 102.5px,#2f2 0 103.8px,#1f4 0 107.5px,#0f6 0 108.8px,#1f5 0 110px,#0fa 0 111.2px,#0f8 0 112.5px,#0f9 0 113.8px,#0fa 0 115px,#0f9 0 117.5px,#1f6 0 118.8px,#0f9 0 120px,#0f8 0 122.5px,#0f6 0 123.8px,#0f8 0 125px,#0f6 0 126.2px,#1f6 0 127.5px,#0f9 0 128.8px,#0f6 0 131.2px,#0f8 0 133.8px,#0f6 0 135px,#1f5 0 136.2px,#0f9 0 137.5px,#1f6 0 138.8px,#0f7 0 141.2px,#0f6 0 142.5px,#1f4 0 145px,#2f3 0 146.2px,#2f2 0 147.5px,#3f1 0 150px,#1f3 0 151.2px,#2f2 0 152.5px,#3f1 0 153.8px,#1f3 0 155px,#4f1 0 156.2px,#2f1 0 157.5px,#2f2 0 158.8px,#2f3 0 160px,#2f2 0 161.2px,#1f5 0 163.8px,#2f3 0 166.2px,#09f 0 167.5px,#02f 0 168.8px,#08f 0 171.2px,#0af 0 172.5px,#05f 0 173.8px,#02f 0 175px,#0af 0 176.2px,#05f 0 177.5px,#02f 0 178.8px,#08f 0 180px,#02f 0 182.5px,#2f2 0 183.8px,#09f 0 185px,#2f3 0 186.2px,#3f1 0 187.5px,#2f3 0 191.2px,#3f1 0 192.5px,#2f3 0 193.8px,#3f1 0 195px,#4f1 0 196.2px,#7f0 0 197.5px,#3f1 0 198.8px,#4f1 0 200px,#7f0 0 201.2px,#3f1 0 202.5px,#6f0 0 203.8px,#9f0 0 205px,#5f1 0 206.2px,#8f0 0 207.5px,#6f1 0 208.8px,#7f0 0 210px,#6f1 0 211.2px,#6f0 0 212.5px,#af0 0 213.8px,#8f0 0 215px,#7f0 0 216.2px,#6f1 0 217.5px,#8f0 0 218.8px,#6f1 0 220px,#8f0 0 221.2px,#6f0 0 222.5px,#5f1 0 223.8px,#7f0 0 225px,#8f0 0 226.2px,#7f0 0 228.8px,#9f0 0 230px,#5f1 0 231.2px,#7f0 0 232.5px,#6f1 0 233.8px,#7f0 0 235px,#6f1 0 236.2px,#7f0 0 238.8px,#8f0 0 241.2px,#7f0 0 242.5px,#9f0 0 243.8px,#7f0 0 245px,#6f1 0 246.2px,#8f0 0 247.5px,#6f0 0 248.8px,#7f0 0 252.5px,#9f0 0 253.8px,#6f0 0 255px,#8f0 0 256.2px,#7f0 0 258.8px,#6f0 0 260px,#8f0 0 262.5px,#6f0 0 265px,#7f0 0 266.2px,#5f1 0 267.5px,#7f0 0 268.8px,#6f0 0 270px,#8f0 0 271.2px,#6f1 0 272.5px,#8f0 0 273.8px,#7f0 0 275px,#af0 0 276.2px,#7f0 0 278.8px,#6f0 0 280px,#8f0 0 282.5px,#6f0 0 283.8px,#7f0 0 285px,#8f0 0 286.2px,#7f0 0 287.5px,#9f0 0 288.8px,#5f1 0 290px,#8f0 0 292.5px,#6f0 0 293.8px,#7f0 0 298.8px,#6f1 0 300px,#7f0 0 301.2px,#5f1 0 302.5px,#7f0 0 303.8px,#5f1 0 305px,#7f0 0 307.5px,#8f0 0 310px,#7f0 0 311.2px,#5f1 0 312.5px,#8f0 0 316.2px,#6f1 0 317.5px,#9f0 0 318.8px,#5f1 0 320px,#8f0 0 321.2px,#7f0 0 322.5px,#9f0 0 325px,#8f0 0 326.2px,#9f0 0 327.5px,#7f0 0 328.8px,#6f1 0 330px,#8f0 0 331.2px,#7f0 0 335px,#6f1 0 336.2px,#7f0 0 337.5px,#9f0 0 338.8px,#6f0 0 340px,#7f0 0 341.2px,#9f0 0 343.8px,#8f0 0 345px,#7f0 0 347.5px,#8f0 0 349.5px)"></i>
<i style="left:354px;top:455px;width:338.5px;height:2px;background:linear-gradient(90deg,#0f7 0 2px,#0f9 0 4px,#0f8 0 6px,#0f7 0 8px,#0f9 0 10px,#0fa 0 12px,#0f9 0 14px,#0f6 0 18px,#0f7 0 22px,#0f6 0 24px,#0f9 0 28px,#0fa 0 30px,#0f8 0 34px,#0f7 0 36px,#0f9 0 38px,#0f7 0 42px,#0f8 0 44px,#0f7 0 46px,#0f6 0 48px,#0f9 0 50px,#0f7 0 56px,#1f5 0 58px,#0f9 0 60px,#0f7 0 62px,#0f8 0 64px,#0f7 0 70px,#0f8 0 72px,#0f7 0 78px,#0f8 0 80px,#0f6 0 82px,#0f7 0 84px,#0f8 0 90px,#1f5 0 92px,#0f6 0 94px,#0f7 0 96px,#0f8 0 98px,#0f7 0 102px,#0f6 0 104px,#0f9 0 106px,#0f7 0 108px,#0f8 0 110px,#0f7 0 112px,#0f8 0 116px,#0f9 0 118px,#1f5 0 120px,#0f7 0 124px,#1f4 0 126px,#0f8 0 128px,#0fa 0 130px,#1f5 0 134px,#1f6 0 136px,#0f6 0 138px,#1f5 0 140px,#0f9 0 142px,#0fa 0 144px,#0f8 0 146px,#1f6 0 148px,#0f7 0 150px,#0f8 0 152px,#0f7 0 154px,#0f6 0 156px,#0ed 0 158px,#09f 0 164px,#0af 0 166px,#09f 0 168px,#0ed 0 170px,#0f6 0 172px,#0f8 0 174px,#0f7 0 178px,#0f8 0 180px,#0f9 0 182px,#0f7 0 184px,#0f6 0 188px,#0f7 0 192px,#0f9 0 194px,#0f7 0 196px,#0f8 0 206px,#0f9 0 208px,#0f7 0 212px,#0f6 0 216px,#0f7 0 218px,#1f6 0 220px,#0f8 0 222px,#0fa 0 224px,#0f7 0 226px,#0f8 0 228px,#0f9 0 232px,#1f6 0 234px,#0f8 0 240px,#0f7 0 244px,#0f6 0 246px,#0f9 0 248px,#0f8 0 252px,#0f7 0 254px,#0f8 0 258px,#1f6 0 260px,#0f8 0 264px,#0f6 0 266px,#1f6 0 268px,#0fa 0 270px,#0f8 0 272px,#0f9 0 274px,#0f7 0 276px,#0f8 0 280px,#0f7 0 282px,#0f6 0 284px,#0f7 0 286px,#0f9 0 288px,#0f8 0 290px,#0f9 0 292px,#1f5 0 294px,#0f7 0 296px,#0f9 0 298px,#0f7 0 300px,#1f5 0 302px,#0f8 0 304px,#0f9 0 306px,#0f7 0 310px,#0f6 0 312px,#1f5 0 314px,#0f9 0 316px,#0f7 0 318px,#0f8 0 320px,#0f9 0 322px,#0f7 0 330px,#0f6 0 332px,#0f7 0 334px,#0f6 0 336px,#0f7 0 338.5px)"></i>
<i style="left:354px;top:457px;width:338.5px;height:2px;background:linear-gradient(90deg,#0f9 0 2px,#0f7 0 6px,#0f6 0 8px,#0f7 0 10px,#0f9 0 12px,#0f6 0 14px,#0f7 0 18px,#0f9 0 20px,#0f8 0 24px,#0f9 0 26px,#0f8 0 28px,#0f9 0 32px,#0f7 0 34px,#0f9 0 36px,#1f6 0 38px,#0f8 0 40px,#0f9 0 42px,#0f7 0 44px,#0f9 0 46px,#0f7 0 48px,#0f9 0 50px,#0f7 0 52px,#0f8 0 54px,#0f9 0 56px,#0f6 0 58px,#0f7 0 60px,#0f8 0 64px,#0f9 0 66px,#0f8 0 68px,#0f7 0 70px,#0f8 0 74px,#0fa 0 76px,#0f7 0 78px,#0f9 0 80px,#0f7 0 82px,#0f6 0 84px,#0f8 0 92px,#0f9 0 94px,#0f8 0 96px,#0fa 0 98px,#0f7 0 100px,#0f8 0 102px,#0f6 0 104px,#0f8 0 108px,#0f7 0 110px,#0f8 0 112px,#0f6 0 114px,#0f8 0 118px,#0f7 0 120px,#0f8 0 122px,#0f7 0 124px,#0f9 0 126px,#0f7 0 128px,#0fa 0 130px,#0f8 0 132px,#0f9 0 136px,#0f8 0 142px,#0f9 0 144px,#0f6 0 146px,#0f8 0 152px,#0f7 0 154px,#0f9 0 156px,#0ed 0 158px,#09f 0 160px,#0af 0 168px,#0de 0 170px,#0f9 0 172px,#0f8 0 174px,#0f7 0 180px,#0fa 0 182px,#1f6 0 184px,#0f7 0 186px,#0f6 0 188px,#0f7 0 190px,#0f8 0 192px,#0f9 0 194px,#0f8 0 196px,#0fb 0 198px,#0f8 0 200px,#0f9 0 202px,#0f8 0 204px,#0f7 0 206px,#0f8 0 212px,#0f6 0 214px,#0f9 0 216px,#0f7 0 218px,#0fa 0 220px,#0f7 0 222px,#0f8 0 228px,#0f7 0 230px,#0f8 0 234px,#0f6 0 240px,#0f9 0 242px,#0f7 0 244px,#0f8 0 250px,#0f7 0 252px,#0f8 0 254px,#0f9 0 256px,#0f8 0 258px,#0f7 0 260px,#0f9 0 262px,#0f8 0 268px,#0fa 0 270px,#0f9 0 272px,#0f8 0 274px,#0f7 0 276px,#0f8 0 280px,#0f9 0 282px,#0f8 0 284px,#0f7 0 290px,#0f9 0 292px,#0f8 0 294px,#0f6 0 296px,#0f7 0 298px,#0f8 0 306px,#0f7 0 308px,#0f9 0 312px,#0f8 0 314px,#0f9 0 316px,#0f8 0 322px,#0f7 0 326px,#0f8 0 328px,#0f7 0 330px,#0f9 0 332px,#0f7 0 334px,#0f9 0 336px,#0f6 0 338px,#0f8 0 338.5px)"></i>
<i style="left:354px;top:459px;width:338.5px;height:2px;background:linear-gradient(90deg,#0f8 0 2px,#0f9 0 4px,#0f8 0 8px,#0f9 0 12px,#0f7 0 16px,#0f9 0 18px,#0f7 0 20px,#0f9 0 26px,#0f8 0 28px,#0f6 0 30px,#0fa 0 32px,#0f8 0 34px,#0f7 0 36px,#0f9 0 38px,#0f8 0 40px,#0f6 0 42px,#0f9 0 44px,#0f7 0 46px,#0f6 0 48px,#0f7 0 50px,#0fa 0 52px,#0f8 0 58px,#0f9 0 60px,#0f8 0 62px,#0f9 0 66px,#0f8 0 68px,#0f9 0 72px,#0f6 0 74px,#0f7 0 76px,#0f8 0 78px,#0fa 0 80px,#0f9 0 82px,#0f7 0 84px,#0f9 0 88px,#0f8 0 90px,#0f9 0 92px,#0f8 0 94px,#0f7 0 96px,#0fa 0 98px,#0f8 0 100px,#0f9 0 102px,#0fa 0 106px,#0f7 0 108px,#0f9 0 110px,#0f8 0 114px,#0f6 0 118px,#0f8 0 120px,#0fa 0 122px,#0fc 0 124px,#0f7 0 126px,#0f9 0 134px,#1f6 0 136px,#0fa 0 138px,#0f7 0 140px,#0f8 0 144px,#0f7 0 146px,#0fa 0 148px,#0f8 0 150px,#0fa 0 152px,#0f8 0 154px,#0f7 0 156px,#0de 0 158px,#0af 0 160px,#09f 0 162px,#0bf 0 164px,#0af 0 166px,#09f 0 168px,#0de 0 170px,#0f8 0 172px,#0f9 0 174px,#0f8 0 178px,#0fa 0 180px,#0f6 0 182px,#0fa 0 184px,#0f7 0 186px,#0f8 0 190px,#0fa 0 192px,#0f7 0 194px,#0f9 0 196px,#0f7 0 198px,#0f8 0 200px,#0fb 0 202px,#0f7 0 204px,#0f8 0 208px,#0f9 0 210px,#0f7 0 212px,#0f6 0 214px,#0f8 0 216px,#0f7 0 218px,#0f8 0 220px,#0fa 0 222px,#0f8 0 224px,#0f9 0 226px,#0fa 0 228px,#0f9 0 232px,#0f6 0 236px,#0fa 0 240px,#0f8 0 242px,#0f7 0 244px,#0f9 0 248px,#0f8 0 250px,#0f6 0 252px,#0f7 0 256px,#0f8 0 258px,#0f7 0 260px,#0fb 0 262px,#0f7 0 264px,#0f8 0 266px,#0fa 0 268px,#0f9 0 270px,#0f8 0 272px,#0f7 0 274px,#0f8 0 280px,#0fa 0 282px,#0f7 0 284px,#0f9 0 286px,#0f8 0 288px,#0fa 0 290px,#0f8 0 292px,#0f7 0 294px,#0f8 0 296px,#0f7 0 298px,#0f8 0 300px,#0fa 0 302px,#0f8 0 306px,#0f9 0 308px,#0fa 0 310px,#0f9 0 314px,#0f8 0 316px,#0f7 0 318px,#0f8 0 320px,#0f7 0 322px,#0f8 0 324px,#0f9 0 326px,#0f8 0 328px,#0f9 0 330px,#0f7 0 332px,#0fa 0 334px,#0f9 0 336px,#0fb 0 338px,#0f6 0 338.5px)"></i>
<i style="left:354px;top:461px;width:338.5px;height:2px;background:linear-gradient(90deg,#0fb 0 2px,#0f9 0 4px,#0f8 0 6px,#0fa 0 12px,#0fb 0 14px,#0fa 0 16px,#0fb 0 18px,#0fa 0 22px,#0f8 0 24px,#0fc 0 26px,#0f9 0 28px,#0fb 0 30px,#0fa 0 32px,#0fb 0 34px,#0fa 0 36px,#0f9 0 38px,#0fb 0 42px,#0f9 0 44px,#0fa 0 50px,#0f9 0 52px,#0fa 0 54px,#0f8 0 56px,#0fa 0 58px,#0fb 0 60px,#0f9 0 64px,#0fa 0 66px,#0f8 0 68px,#0f9 0 70px,#0fb 0 72px,#0ec 0 74px,#0f9 0 76px,#0ed 0 78px,#0fa 0 80px,#0fb 0 82px,#0f9 0 84px,#0fa 0 86px,#0fb 0 88px,#0fa 0 90px,#0fb 0 92px,#0fa 0 94px,#0fb 0 100px,#0fa 0 102px,#0ec 0 104px,#0fc 0 106px,#0fa 0 108px,#0fb 0 110px,#0f9 0 112px,#0ec 0 116px,#0f9 0 118px,#0fa 0 124px,#0fb 0 126px,#0f9 0 130px,#0fa 0 134px,#0fb 0 136px,#0f9 0 138px,#0fb 0 142px,#0f9 0 144px,#0fb 0 146px,#0fa 0 148px,#0f9 0 150px,#0fa 0 156px,#0de 0 158px,#0bf 0 160px,#0ce 0 162px,#0cf 0 168px,#0ed 0 170px,#0f9 0 174px,#0fa 0 178px,#0ed 0 180px,#0fa 0 184px,#0f9 0 186px,#0f8 0 188px,#0fa 0 190px,#0fb 0 192px,#0f9 0 194px,#0fa 0 196px,#0ec 0 198px,#0fb 0 200px,#0f9 0 202px,#0fa 0 208px,#0fb 0 210px,#0f8 0 212px,#0fa 0 220px,#0fb 0 222px,#0f7 0 224px,#0fb 0 226px,#0fa 0 228px,#0fb 0 238px,#0f9 0 240px,#0fa 0 242px,#0fc 0 244px,#0fa 0 246px,#0fb 0 248px,#0fa 0 252px,#0fb 0 254px,#0f9 0 256px,#0fa 0 260px,#0fb 0 262px,#0f9 0 264px,#0fc 0 266px,#0f9 0 268px,#0fa 0 270px,#0f8 0 272px,#0fb 0 274px,#0fa 0 276px,#0f9 0 278px,#0fa 0 280px,#0ec 0 282px,#0fa 0 284px,#0f9 0 290px,#0fa 0 292px,#0fb 0 294px,#0fa 0 296px,#0f8 0 298px,#0f9 0 304px,#0f8 0 306px,#0f9 0 308px,#0fb 0 314px,#0fa 0 316px,#0f9 0 318px,#0fa 0 322px,#0f9 0 324px,#0fa 0 334px,#0fb 0 336px,#0fc 0 338px,#0f9 0 338.5px)"></i>
<i style="left:354px;top:463px;width:338.5px;height:2px;background:linear-gradient(90deg,#0ec 0 2px,#0de 0 4px,#0ed 0 8px,#0de 0 10px,#0ed 0 20px,#0fc 0 22px,#0de 0 24px,#0ed 0 30px,#0dd 0 32px,#0ed 0 34px,#0de 0 38px,#0ed 0 40px,#0ec 0 42px,#0ce 0 44px,#0ed 0 48px,#0de 0 50px,#0ec 0 52px,#0ed 0 56px,#0ec 0 58px,#0ed 0 60px,#0fc 0 62px,#0ed 0 66px,#0de 0 68px,#0ed 0 78px,#0ec 0 80px,#0ed 0 82px,#0ec 0 84px,#0ed 0 86px,#0de 0 88px,#0ed 0 96px,#0ec 0 98px,#0de 0 102px,#0ed 0 106px,#0de 0 108px,#0ed 0 110px,#0de 0 112px,#0ed 0 120px,#0ec 0 122px,#0ed 0 124px,#0fc 0 126px,#0de 0 128px,#0ed 0 134px,#0fc 0 136px,#0ed 0 144px,#0fb 0 146px,#0de 0 148px,#0ec 0 150px,#0ed 0 172px,#0fb 0 174px,#0de 0 176px,#0ed 0 192px,#0ec 0 194px,#0ed 0 214px,#0de 0 216px,#0ed 0 234px,#0ec 0 236px,#0ed 0 242px,#0ec 0 244px,#0ed 0 250px,#0de 0 252px,#0ec 0 254px,#0de 0 256px,#0ed 0 266px,#0ec 0 268px,#0ed 0 270px,#0de 0 272px,#0ed 0 278px,#0de 0 280px,#0ed 0 288px,#0ec 0 290px,#0de 0 292px,#0ec 0 294px,#0ed 0 298px,#0de 0 300px,#0ed 0 304px,#0ec 0 306px,#0de 0 308px,#0ec 0 312px,#0fc 0 314px,#0de 0 316px,#0fb 0 318px,#0ed 0 320px,#0ec 0 322px,#0ed 0 326px,#0fa 0 328px,#0de 0 330px,#0ed 0 336px,#0de 0 338px,#0ed 0 338.5px)"></i>
<i style="left:354px;top:465px;width:338.5px;height:2px;background:linear-gradient(90deg,#0de 0 4px,#0ce 0 6px,#0cf 0 8px,#0de 0 14px,#0ed 0 16px,#0cf 0 18px,#0ec 0 20px,#0ce 0 22px,#0fb 0 24px,#0af 0 26px,#0cf 0 28px,#0de 0 30px,#0ec 0 32px,#0de 0 34px,#0cf 0 36px,#0ce 0 38px,#0de 0 42px,#0bf 0 44px,#09f 0 46px,#0ed 0 48px,#0bf 0 50px,#0af 0 52px,#0cf 0 54px,#0ed 0 56px,#0de 0 58px,#0ce 0 60px,#0ed 0 62px,#0de 0 64px,#08f 0 66px,#0bf 0 68px,#0de 0 70px,#0ed 0 72px,#0bf 0 76px,#09f 0 78px,#0de 0 80px,#0bf 0 82px,#0af 0 84px,#0cf 0 86px,#0bf 0 88px,#0ed 0 90px,#0cf 0 92px,#0de 0 94px,#0ed 0 96px,#0cf 0 98px,#0fb 0 100px,#0de 0 106px,#0cf 0 108px,#0de 0 110px,#0ed 0 112px,#0bf 0 114px,#0ed 0 116px,#0de 0 120px,#0cf 0 122px,#0ce 0 124px,#0de 0 128px,#0cf 0 130px,#0bf 0 132px,#0ed 0 134px,#0af 0 136px,#0cf 0 138px,#0bf 0 140px,#0dd 0 142px,#0ed 0 148px,#0cf 0 150px,#0ec 0 152px,#0ed 0 158px,#0f9 0 164px,#0f8 0 166px,#0f9 0 168px,#0ed 0 172px,#0bf 0 174px,#0de 0 176px,#0cf 0 178px,#0bf 0 180px,#0cf 0 182px,#0bf 0 184px,#0cf 0 186px,#0ce 0 188px,#0fa 0 190px,#0cf 0 194px,#0ed 0 196px,#0ce 0 198px,#0cf 0 200px,#0ce 0 202px,#0ec 0 206px,#0de 0 208px,#0cf 0 210px,#0de 0 212px,#0af 0 214px,#0de 0 216px,#08f 0 218px,#0de 0 220px,#0cf 0 222px,#0bf 0 224px,#0ce 0 226px,#0cf 0 228px,#0ed 0 230px,#0af 0 232px,#0cf 0 234px,#0bf 0 238px,#0ed 0 240px,#0de 0 242px,#0ed 0 244px,#0bf 0 246px,#0cf 0 248px,#0de 0 250px,#0bf 0 252px,#0ed 0 256px,#0de 0 258px,#0bf 0 260px,#0de 0 262px,#0ed 0 264px,#0de 0 266px,#0ed 0 268px,#0bf 0 270px,#0ed 0 272px,#0ec 0 274px,#0ed 0 276px,#0de 0 280px,#0bf 0 284px,#0de 0 286px,#0dd 0 288px,#0ed 0 290px,#0de 0 292px,#0af 0 294px,#0cf 0 298px,#0de 0 302px,#0ec 0 304px,#0de 0 308px,#0ed 0 312px,#0cf 0 314px,#0ed 0 316px,#0de 0 318px,#0ed 0 320px,#0cf 0 322px,#0bf 0 324px,#0cf 0 326px,#0fb 0 328px,#0de 0 332px,#0ce 0 334px,#0cf 0 338px,#0ce 0 338.5px)"></i>
<i style="left:354px;top:467px;width:338.5px;height:2px;background:linear-gradient(90deg,#0af 0 2px,#0ce 0 4px,#08f 0 6px,#0af 0 10px,#05f 0 12px,#0af 0 14px,#09f 0 18px,#0af 0 20px,#0de 0 22px,#0bf 0 24px,#0cf 0 26px,#07f 0 28px,#0af 0 32px,#0bf 0 34px,#09f 0 38px,#0af 0 40px,#0de 0 42px,#0af 0 44px,#07f 0 46px,#09f 0 48px,#0bf 0 50px,#0af 0 52px,#0bf 0 54px,#05f 0 56px,#0af 0 60px,#0bf 0 62px,#0af 0 64px,#04f 0 66px,#0bf 0 68px,#0af 0 70px,#08f 0 72px,#0af 0 74px,#0cf 0 78px,#0af 0 80px,#0cf 0 82px,#0ed 0 84px,#09f 0 86px,#0de 0 88px,#0af 0 90px,#0cf 0 94px,#08f 0 96px,#0af 0 98px,#0ed 0 100px,#0de 0 102px,#0af 0 104px,#0bf 0 108px,#0af 0 110px,#05f 0 112px,#0bf 0 114px,#0af 0 116px,#0ce 0 118px,#07f 0 120px,#0cf 0 122px,#0af 0 126px,#0ce 0 128px,#0bf 0 132px,#0cf 0 134px,#0af 0 136px,#0ed 0 138px,#0bf 0 140px,#0cf 0 142px,#08f 0 144px,#0bf 0 146px,#08f 0 148px,#09f 0 150px,#0af 0 152px,#08f 0 154px,#0bf 0 156px,#0fc 0 158px,#1f4 0 160px,#2f3 0 166px,#1f3 0 168px,#0ec 0 170px,#0cf 0 172px,#0de 0 174px,#0af 0 176px,#0cf 0 178px,#0af 0 180px,#05f 0 182px,#0bf 0 186px,#09f 0 188px,#08f 0 190px,#0bf 0 192px,#0af 0 194px,#08f 0 196px,#09f 0 198px,#0af 0 200px,#08f 0 202px,#0bf 0 204px,#0af 0 208px,#0bf 0 210px,#0cf 0 212px,#09f 0 216px,#0af 0 218px,#0de 0 220px,#0af 0 222px,#0bf 0 224px,#0dd 0 226px,#08f 0 228px,#0af 0 230px,#08f 0 232px,#0cf 0 234px,#0ce 0 236px,#0de 0 238px,#0bf 0 240px,#0cf 0 242px,#09f 0 250px,#0bf 0 252px,#0af 0 254px,#0bf 0 256px,#0af 0 258px,#0dd 0 260px,#0ed 0 262px,#0bf 0 264px,#0de 0 266px,#0cf 0 268px,#06f 0 270px,#0af 0 272px,#0cf 0 274px,#0af 0 276px,#0cf 0 278px,#08f 0 280px,#0de 0 282px,#08f 0 284px,#0cf 0 286px,#08f 0 288px,#0af 0 290px,#0cf 0 292px,#07f 0 294px,#09f 0 296px,#0cf 0 298px,#0dd 0 300px,#09f 0 302px,#0af 0 304px,#0cf 0 306px,#09f 0 308px,#0af 0 310px,#09f 0 312px,#08f 0 314px,#0de 0 316px,#0cf 0 320px,#08f 0 322px,#0cf 0 324px,#0bf 0 326px,#0cf 0 328px,#07f 0 330px,#0cf 0 332px,#0de 0 334px,#0bf 0 338px,#0af 0 338.5px)"></i>
<i style="left:354px;top:469px;width:338.5px;height:2px;background:linear-gradient(90deg,#0af 0 6px,#05f 0 8px,#07f 0 10px,#08f 0 12px,#06f 0 14px,#08f 0 16px,#04f 0 18px,#08f 0 20px,#09f 0 22px,#0bf 0 24px,#09f 0 26px,#08f 0 28px,#09f 0 30px,#08f 0 32px,#0bf 0 34px,#07f 0 36px,#08f 0 42px,#0bf 0 44px,#09f 0 46px,#08f 0 48px,#04f 0 50px,#0af 0 52px,#05f 0 54px,#06f 0 56px,#0af 0 58px,#08f 0 60px,#07f 0 62px,#09f 0 64px,#05f 0 68px,#0cf 0 70px,#0bf 0 72px,#05f 0 74px,#07f 0 76px,#05f 0 78px,#09f 0 80px,#03f 0 82px,#07f 0 84px,#09f 0 86px,#0af 0 88px,#0cf 0 90px,#06f 0 92px,#0cf 0 94px,#0af 0 96px,#08f 0 98px,#07f 0 100px,#09f 0 102px,#07f 0 104px,#08f 0 108px,#07f 0 114px,#0af 0 116px,#08f 0 118px,#06f 0 120px,#08f 0 122px,#07f 0 124px,#06f 0 126px,#07f 0 130px,#09f 0 132px,#0bf 0 134px,#0cf 0 136px,#06f 0 138px,#07f 0 140px,#08f 0 142px,#05f 0 144px,#04f 0 146px,#08f 0 148px,#0af 0 150px,#06f 0 152px,#03f 0 154px,#0bf 0 156px,#0fa 0 158px,#5f1 0 162px,#6f1 0 168px,#0fb 0 170px,#09f 0 172px,#07f 0 174px,#0af 0 176px,#05f 0 178px,#07f 0 180px,#06f 0 182px,#07f 0 184px,#06f 0 186px,#09f 0 188px,#08f 0 190px,#0af 0 194px,#07f 0 196px,#0bf 0 198px,#09f 0 200px,#08f 0 202px,#0af 0 204px,#07f 0 208px,#0de 0 210px,#07f 0 212px,#09f 0 214px,#08f 0 218px,#0af 0 220px,#07f 0 224px,#0af 0 226px,#08f 0 228px,#09f 0 230px,#0af 0 234px,#06f 0 236px,#07f 0 238px,#06f 0 240px,#07f 0 242px,#05f 0 244px,#0cf 0 246px,#0bf 0 248px,#07f 0 250px,#0af 0 252px,#08f 0 254px,#04f 0 256px,#06f 0 258px,#08f 0 260px,#07f 0 262px,#09f 0 264px,#0bf 0 266px,#08f 0 268px,#07f 0 270px,#04f 0 272px,#07f 0 274px,#06f 0 276px,#0af 0 278px,#05f 0 280px,#08f 0 282px,#07f 0 284px,#06f 0 286px,#05f 0 288px,#0bf 0 290px,#08f 0 292px,#0af 0 294px,#04f 0 296px,#07f 0 298px,#08f 0 300px,#0bf 0 304px,#0af 0 306px,#05f 0 308px,#09f 0 310px,#06f 0 312px,#0af 0 314px,#05f 0 316px,#06f 0 318px,#07f 0 320px,#09f 0 322px,#0de 0 324px,#0bf 0 326px,#07f 0 328px,#06f 0 330px,#09f 0 334px,#0af 0 336px,#08f 0 338px,#05f 0 338.5px)"></i>
<i style="left:354px;top:471px;width:338.5px;height:2px;background:linear-gradient(90deg,#05f 0 2px,#09f 0 4px,#07f 0 6px,#04f 0 8px,#07f 0 10px,#08f 0 12px,#06f 0 14px,#07f 0 18px,#09f 0 20px,#05f 0 22px,#07f 0 28px,#08f 0 30px,#07f 0 32px,#08f 0 34px,#04f 0 38px,#0af 0 40px,#07f 0 42px,#03f 0 44px,#09f 0 46px,#02f 0 48px,#07f 0 50px,#09f 0 52px,#0af 0 54px,#06f 0 56px,#08f 0 58px,#03f 0 60px,#04f 0 62px,#06f 0 64px,#09f 0 66px,#04f 0 68px,#07f 0 72px,#06f 0 74px,#03f 0 76px,#07f 0 78px,#08f 0 80px,#0af 0 82px,#02f 0 84px,#07f 0 86px,#0af 0 88px,#04f 0 90px,#07f 0 92px,#05f 0 96px,#07f 0 98px,#09f 0 100px,#08f 0 102px,#06f 0 104px,#09f 0 106px,#05f 0 108px,#08f 0 110px,#0bf 0 112px,#05f 0 114px,#11f 0 116px,#05f 0 118px,#0af 0 120px,#08f 0 122px,#03f 0 124px,#0bf 0 126px,#05f 0 128px,#06f 0 130px,#07f 0 132px,#06f 0 134px,#04f 0 136px,#07f 0 138px,#05f 0 142px,#01f 0 144px,#09f 0 146px,#03f 0 148px,#08f 0 150px,#09f 0 152px,#0af 0 154px,#0bf 0 156px,#0fa 0 158px,#9f0 0 160px,#af0 0 164px,#9f0 0 168px,#0fb 0 170px,#04f 0 172px,#0af 0 174px,#08f 0 176px,#05f 0 178px,#09f 0 182px,#04f 0 184px,#07f 0 186px,#03f 0 188px,#0af 0 190px,#06f 0 192px,#07f 0 194px,#06f 0 196px,#05f 0 198px,#02f 0 200px,#08f 0 202px,#07f 0 204px,#09f 0 206px,#07f 0 208px,#09f 0 210px,#07f 0 214px,#04f 0 216px,#06f 0 218px,#07f 0 220px,#0af 0 222px,#09f 0 224px,#06f 0 226px,#05f 0 228px,#0bf 0 230px,#03f 0 232px,#06f 0 234px,#04f 0 236px,#07f 0 240px,#04f 0 242px,#0af 0 244px,#07f 0 246px,#04f 0 248px,#05f 0 250px,#08f 0 252px,#04f 0 254px,#08f 0 256px,#09f 0 258px,#03f 0 260px,#05f 0 262px,#07f 0 266px,#05f 0 268px,#04f 0 272px,#02f 0 274px,#04f 0 276px,#06f 0 278px,#08f 0 280px,#0bf 0 282px,#09f 0 284px,#07f 0 286px,#11f 0 288px,#03f 0 290px,#08f 0 294px,#02f 0 296px,#08f 0 300px,#09f 0 302px,#06f 0 304px,#01f 0 306px,#06f 0 308px,#07f 0 310px,#04f 0 312px,#02f 0 314px,#03f 0 316px,#04f 0 318px,#05f 0 322px,#0bf 0 324px,#06f 0 326px,#03f 0 328px,#06f 0 330px,#02f 0 332px,#10e 0 334px,#07f 0 336px,#05f 0 338.5px)"></i>
<i style="left:354px;top:473px;width:338.5px;height:2px;background:linear-gradient(90deg,#06f 0 2px,#01f 0 4px,#07f 0 6px,#03f 0 8px,#07f 0 10px,#08f 0 12px,#04f 0 14px,#03f 0 16px,#0cf 0 18px,#06f 0 20px,#04f 0 22px,#05f 0 24px,#04f 0 28px,#06f 0 30px,#04f 0 32px,#02f 0 34px,#07f 0 36px,#03f 0 38px,#11f 0 40px,#04f 0 42px,#03f 0 44px,#02f 0 46px,#07f 0 48px,#05f 0 50px,#02f 0 54px,#03f 0 56px,#06f 0 58px,#03f 0 60px,#02f 0 62px,#07f 0 64px,#08f 0 66px,#03f 0 68px,#01f 0 70px,#04f 0 72px,#06f 0 74px,#07f 0 76px,#09f 0 78px,#05f 0 80px,#0bf 0 82px,#03f 0 84px,#07f 0 86px,#06f 0 88px,#03f 0 90px,#04f 0 92px,#02f 0 96px,#05f 0 98px,#03f 0 100px,#11f 0 104px,#04f 0 108px,#08f 0 110px,#03f 0 112px,#04f 0 114px,#0af 0 116px,#05f 0 118px,#01f 0 120px,#05f 0 122px,#03f 0 124px,#06f 0 126px,#04f 0 128px,#06f 0 130px,#05f 0 132px,#08f 0 134px,#03f 0 136px,#11f 0 138px,#02f 0 140px,#06f 0 144px,#04f 0 146px,#03f 0 150px,#02f 0 152px,#05f 0 154px,#02f 0 156px,#0f9 0 158px,#df0 0 160px,#ef0 0 166px,#df0 0 168px,#0f9 0 170px,#04f 0 174px,#06f 0 178px,#07f 0 182px,#02f 0 188px,#09f 0 190px,#20e 0 192px,#08f 0 194px,#03f 0 196px,#0af 0 198px,#04f 0 200px,#07f 0 202px,#03f 0 204px,#08f 0 206px,#02f 0 210px,#06f 0 212px,#04f 0 216px,#05f 0 218px,#03f 0 220px,#11f 0 222px,#04f 0 224px,#11f 0 226px,#03f 0 228px,#04f 0 230px,#05f 0 232px,#07f 0 234px,#04f 0 236px,#05f 0 238px,#07f 0 240px,#06f 0 242px,#11f 0 244px,#07f 0 246px,#08f 0 248px,#04f 0 250px,#08f 0 252px,#04f 0 254px,#05f 0 256px,#08f 0 258px,#03f 0 260px,#02f 0 262px,#05f 0 264px,#02f 0 266px,#05f 0 268px,#07f 0 270px,#02f 0 272px,#05f 0 274px,#03f 0 276px,#06f 0 278px,#05f 0 280px,#02f 0 282px,#01f 0 284px,#05f 0 286px,#02f 0 292px,#05f 0 294px,#02f 0 296px,#07f 0 298px,#02f 0 300px,#06f 0 302px,#03f 0 304px,#07f 0 306px,#06f 0 308px,#04f 0 310px,#02f 0 312px,#04f 0 314px,#03f 0 316px,#02f 0 318px,#06f 0 322px,#04f 0 324px,#06f 0 326px,#04f 0 328px,#03f 0 334px,#11e 0 336px,#02f 0 338px,#05f 0 338.5px)"></i>
<i style="left:354px;top:475px;width:338.5px;height:2px;background:linear-gradient(90deg,#07f 0 2px,#04f 0 4px,#02f 0 6px,#04f 0 8px,#02f 0 10px,#0af 0 12px,#02f 0 14px,#03f 0 16px,#04f 0 18px,#05f 0 20px,#07f 0 22px,#11f 0 24px,#08f 0 26px,#05f 0 28px,#03f 0 30px,#04f 0 32px,#02f 0 34px,#06f 0 36px,#03f 0 38px,#04f 0 40px,#11f 0 42px,#05f 0 44px,#02f 0 46px,#03f 0 48px,#02f 0 50px,#05f 0 52px,#04f 0 54px,#05f 0 56px,#03f 0 58px,#10e 0 60px,#02f 0 62px,#03f 0 64px,#05f 0 68px,#03f 0 70px,#06f 0 72px,#04f 0 74px,#02f 0 76px,#11f 0 78px,#05f 0 80px,#11f 0 82px,#07f 0 84px,#05f 0 86px,#06f 0 90px,#02f 0 92px,#01f 0 94px,#05f 0 96px,#06f 0 100px,#07f 0 102px,#05f 0 104px,#07f 0 106px,#11f 0 108px,#06f 0 110px,#05f 0 114px,#07f 0 116px,#02f 0 118px,#06f 0 120px,#0af 0 122px,#08f 0 124px,#05f 0 126px,#07f 0 128px,#02f 0 130px,#07f 0 132px,#03f 0 134px,#02f 0 136px,#05f 0 138px,#02f 0 142px,#07f 0 144px,#05f 0 146px,#04f 0 148px,#05f 0 150px,#04f 0 152px,#06f 0 154px,#05f 0 156px,#0f8 0 158px,#fe0 0 162px,#ef0 0 166px,#fe0 0 168px,#0f9 0 170px,#05f 0 172px,#04f 0 174px,#06f 0 176px,#11f 0 178px,#06f 0 180px,#04f 0 182px,#02f 0 184px,#11f 0 186px,#07f 0 190px,#03f 0 196px,#04f 0 198px,#02f 0 200px,#06f 0 202px,#04f 0 204px,#07f 0 206px,#04f 0 208px,#02f 0 212px,#01f 0 214px,#11f 0 216px,#05f 0 218px,#07f 0 220px,#05f 0 222px,#11f 0 224px,#04f 0 228px,#0af 0 230px,#03f 0 234px,#04f 0 238px,#03f 0 240px,#06f 0 242px,#04f 0 246px,#07f 0 248px,#06f 0 250px,#10e 0 252px,#04f 0 254px,#07f 0 256px,#09f 0 258px,#02f 0 260px,#08f 0 262px,#05f 0 266px,#07f 0 268px,#03f 0 270px,#02f 0 274px,#11f 0 276px,#20e 0 278px,#11e 0 280px,#04f 0 282px,#06f 0 286px,#04f 0 288px,#06f 0 290px,#07f 0 292px,#03f 0 294px,#05f 0 296px,#02f 0 298px,#04f 0 300px,#02f 0 302px,#06f 0 304px,#11f 0 306px,#04f 0 308px,#11f 0 310px,#08f 0 312px,#11f 0 314px,#04f 0 318px,#03f 0 320px,#06f 0 322px,#03f 0 324px,#06f 0 326px,#11f 0 328px,#04f 0 330px,#11f 0 332px,#02f 0 334px,#01f 0 336px,#04f 0 338px,#05f 0 338.5px)"></i>
<i style="left:354px;top:477px;width:338.5px;height:2px;background:linear-gradient(90deg,#06f 0 2px,#08f 0 4px,#06f 0 6px,#01f 0 8px,#06f 0 10px,#03f 0 12px,#04f 0 14px,#03f 0 16px,#02f 0 18px,#07f 0 20px,#02f 0 22px,#06f 0 24px,#05f 0 26px,#06f 0 32px,#02f 0 38px,#11f 0 40px,#02f 0 42px,#05f 0 44px,#01f 0 46px,#11f 0 48px,#05f 0 50px,#02f 0 52px,#01f 0 54px,#03f 0 56px,#11e 0 58px,#03f 0 60px,#05f 0 62px,#11e 0 64px,#03f 0 66px,#02f 0 68px,#03f 0 82px,#08f 0 84px,#03f 0 86px,#05f 0 88px,#02f 0 90px,#06f 0 92px,#03f 0 94px,#04f 0 96px,#10e 0 98px,#07f 0 100px,#01f 0 102px,#03f 0 104px,#07f 0 106px,#05f 0 108px,#06f 0 110px,#05f 0 112px,#07f 0 114px,#04f 0 116px,#03f 0 118px,#02f 0 122px,#05f 0 126px,#10e 0 128px,#03f 0 130px,#04f 0 132px,#02f 0 134px,#04f 0 136px,#07f 0 138px,#02f 0 140px,#06f 0 142px,#03f 0 144px,#02f 0 146px,#08f 0 148px,#04f 0 154px,#02f 0 156px,#0f9 0 158px,#ee0 0 164px,#ef0 0 166px,#fe0 0 168px,#0f9 0 170px,#08f 0 172px,#02f 0 174px,#01f 0 176px,#03f 0 178px,#04f 0 180px,#11f 0 182px,#05f 0 184px,#04f 0 186px,#01f 0 188px,#11e 0 190px,#07f 0 192px,#02f 0 194px,#04f 0 196px,#11f 0 198px,#02f 0 200px,#04f 0 202px,#03f 0 204px,#06f 0 206px,#02f 0 208px,#11f 0 210px,#04f 0 212px,#02f 0 214px,#06f 0 216px,#03f 0 218px,#08f 0 220px,#05f 0 222px,#04f 0 224px,#11f 0 226px,#02f 0 228px,#05f 0 234px,#06f 0 236px,#08f 0 238px,#05f 0 240px,#04f 0 242px,#02f 0 244px,#05f 0 246px,#01f 0 248px,#04f 0 250px,#10e 0 252px,#04f 0 254px,#06f 0 256px,#08f 0 258px,#11e 0 260px,#04f 0 262px,#03f 0 264px,#04f 0 268px,#02f 0 270px,#07f 0 272px,#03f 0 274px,#06f 0 276px,#01f 0 278px,#04f 0 280px,#07f 0 282px,#04f 0 286px,#08f 0 290px,#02f 0 292px,#04f 0 294px,#03f 0 296px,#05f 0 298px,#07f 0 300px,#05f 0 302px,#03f 0 304px,#10e 0 306px,#03f 0 312px,#02f 0 314px,#11e 0 316px,#02f 0 318px,#03f 0 324px,#11e 0 326px,#11f 0 328px,#03f 0 330px,#07f 0 332px,#02f 0 334px,#09f 0 336px,#11f 0 338px,#06f 0 338.5px)"></i>
<i style="left:354px;top:479px;width:338.5px;height:2px;background:linear-gradient(90deg,#01f 0 2px,#04f 0 4px,#10e 0 6px,#09f 0 8px,#04f 0 10px,#02f 0 12px,#03f 0 16px,#11f 0 20px,#11e 0 22px,#03f 0 26px,#20e 0 28px,#30d 0 30px,#01f 0 32px,#02f 0 36px,#11f 0 40px,#07f 0 42px,#20e 0 44px,#02f 0 46px,#11f 0 48px,#02f 0 50px,#11e 0 54px,#01f 0 56px,#02f 0 58px,#06f 0 60px,#04f 0 62px,#06f 0 64px,#04f 0 66px,#11e 0 68px,#08f 0 70px,#04f 0 72px,#01f 0 76px,#03f 0 80px,#02f 0 82px,#07f 0 84px,#03f 0 86px,#11e 0 88px,#04f 0 90px,#07f 0 92px,#11f 0 94px,#02f 0 96px,#07f 0 98px,#06f 0 100px,#03f 0 104px,#08f 0 106px,#07f 0 108px,#02f 0 110px,#01f 0 112px,#02f 0 116px,#04f 0 118px,#03f 0 120px,#11f 0 124px,#01f 0 126px,#06f 0 128px,#11f 0 130px,#04f 0 132px,#05f 0 134px,#02f 0 136px,#05f 0 142px,#04f 0 144px,#02f 0 146px,#11f 0 148px,#02f 0 150px,#03f 0 152px,#06f 0 154px,#04f 0 156px,#0f8 0 158px,#ee0 0 160px,#fe0 0 162px,#fd0 0 164px,#fe0 0 168px,#0f9 0 170px,#04f 0 172px,#03f 0 176px,#01f 0 178px,#20e 0 180px,#10e 0 182px,#02f 0 184px,#11f 0 186px,#04f 0 188px,#10e 0 190px,#05f 0 192px,#11e 0 194px,#02f 0 196px,#20e 0 198px,#07f 0 200px,#05f 0 202px,#01f 0 204px,#11f 0 206px,#02f 0 208px,#01f 0 210px,#04f 0 214px,#05f 0 216px,#11e 0 218px,#05f 0 220px,#10e 0 222px,#05f 0 224px,#04f 0 226px,#10e 0 228px,#02f 0 230px,#11e 0 232px,#04f 0 234px,#08f 0 236px,#07f 0 238px,#0af 0 240px,#02f 0 242px,#03f 0 244px,#11f 0 246px,#04f 0 248px,#05f 0 252px,#11f 0 254px,#10e 0 256px,#02f 0 258px,#03f 0 260px,#02f 0 262px,#05f 0 264px,#04f 0 268px,#05f 0 270px,#06f 0 272px,#04f 0 274px,#05f 0 276px,#03f 0 278px,#02f 0 280px,#11f 0 282px,#03f 0 284px,#02f 0 286px,#03f 0 288px,#02f 0 290px,#04f 0 292px,#03f 0 294px,#11e 0 296px,#02f 0 298px,#11f 0 300px,#04f 0 302px,#02f 0 304px,#07f 0 306px,#09f 0 308px,#10e 0 310px,#01f 0 312px,#05f 0 314px,#07f 0 316px,#11f 0 320px,#05f 0 322px,#11e 0 324px,#04f 0 326px,#01f 0 330px,#11f 0 334px,#02f 0 336px,#01f 0 338px,#06f 0 338.5px)"></i>
<i style="left:354px;top:481px;width:338.5px;height:2px;background:linear-gradient(90deg,#04f 0 2px,#11e 0 4px,#03f 0 6px,#02f 0 10px,#06f 0 12px,#11e 0 14px,#05f 0 16px,#02f 0 18px,#01f 0 20px,#02f 0 22px,#11f 0 24px,#02f 0 26px,#04f 0 30px,#11f 0 32px,#10e 0 36px,#02f 0 38px,#04f 0 40px,#05f 0 42px,#02f 0 46px,#03f 0 48px,#02f 0 50px,#03f 0 52px,#11f 0 54px,#02f 0 56px,#11f 0 58px,#30d 0 60px,#02f 0 62px,#20e 0 64px,#02f 0 68px,#04f 0 70px,#02f 0 72px,#03f 0 74px,#06f 0 76px,#03f 0 78px,#02f 0 80px,#10e 0 82px,#04f 0 84px,#05f 0 86px,#02f 0 88px,#11f 0 90px,#03f 0 92px,#11f 0 94px,#10e 0 96px,#03f 0 98px,#07f 0 100px,#04f 0 102px,#02f 0 104px,#11f 0 106px,#07f 0 108px,#11f 0 112px,#04f 0 116px,#02f 0 118px,#05f 0 120px,#07f 0 122px,#02f 0 124px,#03f 0 126px,#0af 0 128px,#02f 0 130px,#05f 0 134px,#11f 0 136px,#02f 0 140px,#01f 0 142px,#02f 0 144px,#03f 0 146px,#07f 0 148px,#04f 0 152px,#03f 0 154px,#11f 0 156px,#0f9 0 158px,#fe0 0 164px,#fd0 0 166px,#ee0 0 168px,#0f9 0 170px,#04f 0 174px,#02f 0 176px,#06f 0 178px,#10e 0 180px,#04f 0 184px,#10e 0 186px,#11f 0 188px,#01f 0 190px,#02f 0 192px,#04f 0 194px,#11f 0 196px,#05f 0 200px,#04f 0 202px,#30d 0 204px,#0af 0 206px,#02f 0 208px,#04f 0 210px,#01f 0 212px,#02f 0 214px,#03f 0 216px,#07f 0 218px,#11e 0 220px,#02f 0 222px,#11f 0 224px,#20d 0 226px,#01f 0 228px,#03f 0 230px,#02f 0 232px,#03f 0 234px,#04f 0 236px,#02f 0 238px,#05f 0 240px,#03f 0 242px,#04f 0 244px,#01f 0 246px,#02f 0 250px,#10e 0 252px,#01f 0 254px,#03f 0 256px,#10e 0 258px,#05f 0 260px,#01f 0 262px,#04f 0 264px,#02f 0 266px,#11f 0 268px,#03f 0 270px,#02f 0 272px,#04f 0 274px,#02f 0 278px,#04f 0 280px,#06f 0 282px,#07f 0 284px,#05f 0 286px,#02f 0 288px,#04f 0 290px,#02f 0 292px,#07f 0 294px,#03f 0 296px,#02f 0 298px,#04f 0 300px,#03f 0 302px,#04f 0 304px,#06f 0 306px,#11f 0 308px,#03f 0 312px,#11f 0 316px,#04f 0 318px,#07f 0 320px,#03f 0 322px,#05f 0 324px,#03f 0 326px,#05f 0 328px,#04f 0 330px,#06f 0 332px,#02f 0 334px,#05f 0 336px,#03f 0 338px,#02f 0 338.5px)"></i>
<i style="left:354px;top:483px;width:338.5px;height:2px;background:linear-gradient(90deg,#03f 0 2px,#11f 0 4px,#03f 0 6px,#02f 0 8px,#11f 0 10px,#10e 0 12px,#11f 0 14px,#04f 0 16px,#02f 0 18px,#11f 0 22px,#02f 0 24px,#11f 0 26px,#02f 0 30px,#01f 0 32px,#02f 0 34px,#11f 0 36px,#05f 0 38px,#40c 0 40px,#04f 0 42px,#02f 0 44px,#06f 0 46px,#01f 0 48px,#03f 0 50px,#04f 0 52px,#07f 0 54px,#05f 0 56px,#04f 0 60px,#03f 0 64px,#01f 0 66px,#30d 0 68px,#10e 0 70px,#03f 0 72px,#11e 0 74px,#02f 0 76px,#04f 0 78px,#11f 0 80px,#03f 0 82px,#11e 0 84px,#11f 0 88px,#04f 0 90px,#11f 0 92px,#02f 0 94px,#10e 0 96px,#06f 0 98px,#02f 0 102px,#04f 0 104px,#05f 0 106px,#02f 0 110px,#11e 0 112px,#04f 0 114px,#11f 0 118px,#10e 0 122px,#01f 0 124px,#03f 0 126px,#08f 0 128px,#11f 0 132px,#03f 0 134px,#04f 0 136px,#06f 0 138px,#02f 0 142px,#30d 0 144px,#11e 0 146px,#02f 0 148px,#01f 0 150px,#04f 0 152px,#08f 0 154px,#11f 0 156px,#0f9 0 158px,#fd0 0 162px,#fe0 0 164px,#fd0 0 166px,#fe0 0 168px,#0f9 0 170px,#05f 0 172px,#01f 0 174px,#11e 0 180px,#50a 0 182px,#06f 0 184px,#11f 0 188px,#02f 0 190px,#03f 0 192px,#11f 0 194px,#03f 0 198px,#11f 0 200px,#11e 0 202px,#03f 0 206px,#20e 0 208px,#05f 0 210px,#20e 0 212px,#03f 0 214px,#02f 0 218px,#20e 0 220px,#05f 0 222px,#11f 0 224px,#02f 0 226px,#01f 0 230px,#20e 0 232px,#30c 0 234px,#10e 0 236px,#03f 0 238px,#02f 0 240px,#03f 0 244px,#04f 0 246px,#02f 0 248px,#05f 0 250px,#11f 0 254px,#02f 0 256px,#11f 0 258px,#05f 0 260px,#01f 0 262px,#05f 0 264px,#11e 0 266px,#11f 0 268px,#05f 0 270px,#20e 0 272px,#08f 0 274px,#02f 0 276px,#04f 0 278px,#02f 0 280px,#03f 0 282px,#01f 0 284px,#05f 0 286px,#10e 0 288px,#04f 0 290px,#10e 0 292px,#03f 0 294px,#11e 0 296px,#20e 0 298px,#09f 0 300px,#02f 0 302px,#11e 0 304px,#11f 0 308px,#03f 0 310px,#20e 0 312px,#02f 0 314px,#03f 0 316px,#04f 0 318px,#06f 0 322px,#11f 0 324px,#04f 0 326px,#02f 0 328px,#05f 0 330px,#11f 0 332px,#04f 0 334px,#03f 0 336px,#11e 0 338px,#01f 0 338.5px)"></i>
<i style="left:354px;top:485px;width:338.5px;height:2px;background:linear-gradient(90deg,#01f 0 2px,#03f 0 4px,#11f 0 6px,#30d 0 8px,#01f 0 10px,#07f 0 12px,#02f 0 14px,#11f 0 16px,#30d 0 18px,#03f 0 20px,#11f 0 22px,#405 0 24px,#02f 0 28px,#405 0 30px,#20e 0 32px,#11e 0 34px,#02f 0 36px,#11f 0 40px,#30c 0 42px,#01f 0 44px,#02f 0 48px,#11f 0 50px,#03f 0 52px,#405 0 54px,#11f 0 58px,#10e 0 60px,#11f 0 64px,#01f 0 66px,#405 0 68px,#04f 0 70px,#03f 0 72px,#07f 0 74px,#01f 0 76px,#11f 0 78px,#20e 0 80px,#11e 0 82px,#20e 0 84px,#11f 0 86px,#11e 0 88px,#20e 0 90px,#11e 0 92px,#20e 0 94px,#11f 0 96px,#02f 0 98px,#05f 0 100px,#11e 0 102px,#20e 0 104px,#11e 0 106px,#40c 0 108px,#01f 0 112px,#11f 0 114px,#02f 0 116px,#01f 0 118px,#04f 0 120px,#11f 0 124px,#02f 0 126px,#05f 0 128px,#20e 0 130px,#30d 0 132px,#04f 0 134px,#01f 0 136px,#20e 0 138px,#40c 0 140px,#10e 0 146px,#06f 0 148px,#10e 0 150px,#11f 0 152px,#405 0 154px,#11f 0 156px,#0fa 0 158px,#fd0 0 164px,#fe0 0 168px,#0fa 0 170px,#03f 0 172px,#02f 0 174px,#11f 0 176px,#01f 0 178px,#11f 0 184px,#01f 0 186px,#06f 0 188px,#20e 0 190px,#02f 0 192px,#05f 0 194px,#04f 0 196px,#20e 0 200px,#11f 0 202px,#20e 0 204px,#405 0 206px,#11e 0 208px,#02f 0 212px,#01f 0 216px,#03f 0 218px,#20e 0 220px,#30d 0 222px,#11f 0 224px,#07f 0 226px,#10e 0 228px,#03f 0 230px,#11e 0 232px,#20e 0 234px,#01f 0 236px,#04f 0 238px,#30d 0 240px,#405 0 242px,#02f 0 244px,#20e 0 246px,#30d 0 248px,#20e 0 250px,#11f 0 252px,#03f 0 254px,#20e 0 256px,#11f 0 258px,#01f 0 260px,#04f 0 262px,#20e 0 264px,#03f 0 266px,#11e 0 268px,#11f 0 270px,#02f 0 274px,#07f 0 276px,#11f 0 278px,#01f 0 280px,#05f 0 284px,#11f 0 286px,#02f 0 288px,#06f 0 290px,#11f 0 294px,#20e 0 296px,#11f 0 298px,#04f 0 300px,#10e 0 302px,#01f 0 304px,#11e 0 306px,#20e 0 308px,#11f 0 310px,#20e 0 312px,#04f 0 314px,#20e 0 316px,#02f 0 322px,#20e 0 324px,#01f 0 326px,#11e 0 328px,#20e 0 330px,#10e 0 332px,#50a 0 334px,#405 0 336px,#03f 0 338px,#02f 0 338.5px)"></i>
<i style="left:354px;top:487px;width:338.5px;height:2px;background:linear-gradient(90deg,#20e 0 2px,#04f 0 4px,#405 0 6px,#04f 0 8px,#11f 0 10px,#20e 0 12px,#11f 0 14px,#20e 0 20px,#11f 0 22px,#10e 0 24px,#11f 0 26px,#03f 0 28px,#11e 0 30px,#20e 0 32px,#04f 0 34px,#405 0 36px,#30d 0 38px,#405 0 42px,#10e 0 44px,#11f 0 46px,#01f 0 48px,#11f 0 50px,#20e 0 52px,#11f 0 54px,#02f 0 56px,#04f 0 58px,#01f 0 60px,#20e 0 62px,#01f 0 64px,#06f 0 66px,#20e 0 70px,#02f 0 72px,#10e 0 74px,#20e 0 76px,#02f 0 78px,#11f 0 80px,#30d 0 82px,#01f 0 84px,#20d 0 86px,#11f 0 88px,#11e 0 90px,#08f 0 92px,#11e 0 94px,#08f 0 96px,#01f 0 98px,#20e 0 104px,#02f 0 106px,#01f 0 110px,#20d 0 112px,#01f 0 114px,#11e 0 116px,#02f 0 118px,#01f 0 120px,#02f 0 122px,#11f 0 126px,#20e 0 128px,#11e 0 130px,#02f 0 134px,#20e 0 136px,#02f 0 138px,#20e 0 140px,#03f 0 142px,#20d 0 144px,#405 0 146px,#11f 0 148px,#405 0 150px,#11e 0 152px,#02f 0 154px,#11e 0 156px,#0fb 0 158px,#fe0 0 168px,#0fb 0 170px,#03f 0 172px,#01f 0 174px,#11e 0 176px,#02f 0 178px,#11e 0 180px,#20e 0 182px,#30d 0 184px,#03f 0 186px,#20d 0 188px,#30d 0 190px,#20d 0 192px,#01f 0 194px,#11f 0 196px,#05f 0 198px,#10e 0 200px,#04f 0 202px,#06f 0 204px,#05f 0 206px,#405 0 208px,#11f 0 210px,#01f 0 212px,#02f 0 214px,#20e 0 216px,#11f 0 218px,#20e 0 220px,#405 0 222px,#02f 0 224px,#10e 0 226px,#20e 0 228px,#10e 0 230px,#11f 0 232px,#11e 0 234px,#40c 0 236px,#11f 0 240px,#50b 0 242px,#02f 0 244px,#11f 0 246px,#02f 0 248px,#10e 0 250px,#405 0 252px,#10e 0 256px,#11f 0 260px,#04f 0 262px,#02f 0 264px,#05f 0 266px,#10e 0 268px,#11f 0 270px,#11e 0 272px,#11f 0 274px,#02f 0 276px,#20e 0 278px,#11f 0 280px,#10e 0 282px,#20e 0 290px,#04f 0 292px,#02f 0 298px,#30d 0 300px,#10e 0 302px,#02f 0 304px,#30d 0 306px,#20e 0 308px,#20d 0 310px,#11f 0 312px,#10e 0 316px,#11f 0 318px,#03f 0 320px,#405 0 322px,#40c 0 324px,#02f 0 326px,#04f 0 328px,#11e 0 330px,#11f 0 332px,#20e 0 336px,#04f 0 338px,#20e 0 338.5px)"></i>
<i style="left:354px;top:489px;width:338.5px;height:2px;background:linear-gradient(90deg,#20e 0 4px,#50a 0 6px,#11e 0 8px,#11f 0 10px,#10e 0 12px,#11f 0 14px,#20e 0 16px,#30d 0 22px,#11e 0 24px,#30d 0 26px,#20e 0 28px,#11f 0 30px,#30d 0 32px,#20e 0 36px,#30d 0 38px,#20e 0 44px,#11f 0 46px,#20e 0 48px,#30d 0 52px,#405 0 54px,#20e 0 56px,#11f 0 58px,#20e 0 62px,#01f 0 66px,#20e 0 68px,#40c 0 70px,#20e 0 74px,#10e 0 76px,#05f 0 78px,#10e 0 80px,#11e 0 82px,#11f 0 86px,#20e 0 88px,#405 0 90px,#30d 0 92px,#11e 0 94px,#10e 0 96px,#30d 0 98px,#11f 0 100px,#20e 0 102px,#11e 0 104px,#405 0 106px,#20e 0 108px,#405 0 110px,#10e 0 114px,#02f 0 116px,#10e 0 118px,#02f 0 120px,#20e 0 122px,#40c 0 124px,#30d 0 126px,#10e 0 128px,#20e 0 130px,#11e 0 132px,#20e 0 134px,#10e 0 136px,#03f 0 138px,#02f 0 140px,#405 0 142px,#20e 0 144px,#11f 0 146px,#11e 0 148px,#10e 0 150px,#30d 0 152px,#02f 0 154px,#11f 0 156px,#0fc 0 158px,#fe0 0 160px,#ee0 0 162px,#fe0 0 164px,#ee0 0 168px,#0fb 0 170px,#405 0 172px,#50b 0 174px,#20e 0 176px,#30d 0 178px,#11f 0 180px,#11e 0 182px,#20e 0 186px,#03f 0 188px,#20e 0 190px,#40c 0 192px,#20e 0 194px,#11e 0 198px,#30d 0 200px,#20e 0 202px,#03f 0 204px,#10e 0 206px,#11f 0 208px,#02f 0 210px,#20e 0 212px,#10e 0 214px,#11f 0 216px,#11e 0 218px,#20d 0 220px,#405 0 222px,#10e 0 224px,#30d 0 226px,#10e 0 228px,#40c 0 230px,#20e 0 234px,#40c 0 236px,#20e 0 238px,#10e 0 240px,#20e 0 242px,#01f 0 244px,#04f 0 246px,#11f 0 248px,#11e 0 250px,#01f 0 252px,#11e 0 254px,#02f 0 256px,#10e 0 258px,#02f 0 260px,#20e 0 262px,#10e 0 264px,#20e 0 266px,#01f 0 268px,#11e 0 270px,#20e 0 276px,#30d 0 278px,#405 0 280px,#20e 0 282px,#30d 0 286px,#11f 0 288px,#50b 0 290px,#30d 0 292px,#10e 0 296px,#20e 0 298px,#02f 0 300px,#11e 0 304px,#30d 0 308px,#50a 0 310px,#11f 0 312px,#10e 0 314px,#01f 0 316px,#11f 0 318px,#20d 0 320px,#04f 0 322px,#06f 0 324px,#11f 0 326px,#10e 0 328px,#20e 0 330px,#11e 0 332px,#20e 0 334px,#11e 0 336px,#20e 0 338px,#11f 0 338.5px)"></i>
<i style="left:354px;top:491px;width:338.5px;height:2px;background:linear-gradient(90deg,#02f 0 2px,#20e 0 4px,#30d 0 6px,#11f 0 8px,#30d 0 10px,#20e 0 12px,#11f 0 14px,#20d 0 16px,#20e 0 20px,#30d 0 22px,#20e 0 24px,#10e 0 26px,#40c 0 28px,#30d 0 30px,#40c 0 32px,#20e 0 38px,#40b 0 40px,#11f 0 42px,#20d 0 44px,#03f 0 46px,#405 0 50px,#30d 0 52px,#40c 0 54px,#11e 0 56px,#11f 0 58px,#30d 0 60px,#50a 0 62px,#40c 0 64px,#01f 0 66px,#20e 0 68px,#40c 0 70px,#11f 0 72px,#20e 0 74px,#11f 0 76px,#20e 0 80px,#30d 0 82px,#01f 0 84px,#20e 0 86px,#02f 0 88px,#11f 0 92px,#01f 0 94px,#30d 0 96px,#20e 0 98px,#11e 0 100px,#20e 0 102px,#40c 0 106px,#10e 0 108px,#11e 0 110px,#405 0 112px,#02f 0 114px,#20e 0 116px,#02f 0 118px,#30d 0 122px,#11f 0 124px,#20e 0 126px,#01f 0 128px,#30d 0 130px,#20e 0 134px,#11f 0 136px,#01f 0 138px,#10e 0 140px,#40c 0 142px,#405 0 144px,#20e 0 146px,#405 0 148px,#30c 0 150px,#40c 0 152px,#20e 0 154px,#10e 0 156px,#0ed 0 158px,#fd0 0 160px,#fe0 0 166px,#ee0 0 168px,#0ec 0 170px,#30d 0 172px,#11e 0 174px,#30d 0 178px,#01f 0 180px,#50b 0 182px,#30d 0 184px,#11e 0 186px,#10e 0 188px,#20e 0 192px,#11e 0 194px,#03f 0 196px,#20e 0 198px,#30d 0 200px,#02f 0 202px,#40b 0 204px,#50b 0 206px,#11f 0 208px,#30d 0 210px,#20e 0 212px,#30d 0 214px,#11e 0 216px,#20e 0 218px,#40c 0 220px,#30d 0 228px,#20e 0 230px,#30d 0 234px,#04f 0 236px,#10e 0 238px,#20e 0 240px,#11f 0 242px,#20d 0 244px,#30d 0 246px,#10e 0 248px,#20e 0 250px,#11e 0 252px,#11f 0 254px,#40c 0 256px,#20e 0 258px,#01f 0 260px,#40c 0 264px,#11f 0 268px,#02f 0 270px,#20e 0 274px,#04f 0 276px,#20e 0 278px,#20d 0 280px,#02f 0 282px,#40c 0 284px,#20e 0 286px,#405 0 288px,#11e 0 290px,#11f 0 292px,#405 0 294px,#11e 0 296px,#20e 0 298px,#01f 0 300px,#20e 0 302px,#11f 0 306px,#11e 0 308px,#20e 0 310px,#40c 0 312px,#02f 0 314px,#20e 0 316px,#11f 0 318px,#30d 0 320px,#50b 0 322px,#20e 0 324px,#30d 0 326px,#20e 0 328px,#11f 0 330px,#04f 0 332px,#30d 0 334px,#40c 0 336px,#20e 0 338px,#50b 0 338.5px)"></i>
<i style="left:354px;top:493px;width:338.5px;height:2px;background:linear-gradient(90deg,#11f 0 2px,#20d 0 4px,#30d 0 6px,#40c 0 8px,#405 0 10px,#20e 0 16px,#11f 0 18px,#20e 0 20px,#40c 0 22px,#11f 0 24px,#30c 0 26px,#11e 0 28px,#20e 0 30px,#40c 0 32px,#11f 0 34px,#11e 0 36px,#20e 0 38px,#10e 0 40px,#40c 0 44px,#10e 0 46px,#30d 0 48px,#405 0 50px,#20e 0 54px,#30d 0 56px,#10e 0 58px,#20e 0 62px,#30d 0 64px,#11f 0 66px,#11e 0 68px,#20e 0 70px,#30d 0 72px,#20e 0 74px,#50a 0 76px,#20e 0 78px,#10e 0 80px,#30d 0 82px,#10e 0 84px,#20d 0 86px,#40c 0 88px,#20e 0 90px,#20d 0 92px,#50a 0 94px,#11e 0 96px,#508 0 98px,#10e 0 100px,#30d 0 102px,#11f 0 104px,#405 0 106px,#20e 0 108px,#40c 0 110px,#20e 0 112px,#30d 0 114px,#20e 0 116px,#405 0 120px,#11e 0 122px,#40c 0 124px,#02f 0 126px,#40c 0 128px,#405 0 130px,#40c 0 132px,#30d 0 134px,#30c 0 136px,#40c 0 138px,#20d 0 140px,#11e 0 144px,#20e 0 146px,#40c 0 148px,#30d 0 150px,#11f 0 152px,#30d 0 154px,#50a 0 156px,#0ed 0 158px,#ee0 0 160px,#ef0 0 166px,#ee0 0 168px,#0ed 0 170px,#20e 0 172px,#30d 0 174px,#20e 0 178px,#405 0 180px,#30d 0 182px,#20e 0 184px,#40c 0 186px,#30d 0 190px,#20e 0 192px,#30d 0 194px,#30c 0 196px,#02f 0 198px,#30d 0 200px,#20e 0 202px,#03f 0 204px,#30d 0 206px,#509 0 208px,#10e 0 210px,#50b 0 214px,#02f 0 216px,#20e 0 218px,#30d 0 220px,#20d 0 222px,#50b 0 224px,#11e 0 226px,#11f 0 228px,#20e 0 230px,#01f 0 232px,#20e 0 234px,#30d 0 236px,#40c 0 238px,#20e 0 240px,#03f 0 242px,#20e 0 244px,#40c 0 246px,#30d 0 248px,#405 0 250px,#30d 0 252px,#40c 0 254px,#50b 0 256px,#02f 0 258px,#20e 0 260px,#30d 0 262px,#40c 0 264px,#20e 0 266px,#405 0 268px,#30d 0 270px,#20e 0 274px,#40b 0 276px,#11e 0 278px,#40c 0 280px,#30d 0 282px,#20d 0 284px,#20e 0 286px,#30d 0 288px,#508 0 290px,#10e 0 292px,#11e 0 294px,#30d 0 296px,#10e 0 298px,#20e 0 302px,#30d 0 304px,#405 0 306px,#30d 0 308px,#20d 0 310px,#405 0 312px,#30d 0 314px,#20e 0 318px,#10e 0 320px,#30d 0 322px,#10e 0 324px,#30d 0 326px,#11e 0 328px,#20e 0 330px,#30c 0 332px,#20e 0 334px,#01f 0 336px,#10e 0 338px,#30c 0 338.5px)"></i>
<i style="left:354px;top:495px;width:338.5px;height:2px;background:linear-gradient(90deg,#11e 0 4px,#40c 0 8px,#30d 0 10px,#20d 0 12px,#40c 0 18px,#20d 0 20px,#50b 0 22px,#10e 0 24px,#30d 0 30px,#50b 0 32px,#40c 0 36px,#01f 0 38px,#50a 0 40px,#30d 0 42px,#40c 0 44px,#20e 0 46px,#40c 0 48px,#50b 0 50px,#50a 0 52px,#30d 0 54px,#03f 0 56px,#30d 0 60px,#508 0 62px,#30d 0 64px,#50b 0 66px,#509 0 68px,#20e 0 70px,#509 0 72px,#50b 0 74px,#30d 0 76px,#40c 0 78px,#30d 0 80px,#20e 0 84px,#40c 0 86px,#20e 0 88px,#20d 0 90px,#405 0 92px,#30d 0 94px,#20e 0 96px,#30d 0 98px,#405 0 100px,#40c 0 104px,#20e 0 106px,#50a 0 108px,#40c 0 110px,#11f 0 112px,#0ce 0 114px,#30d 0 116px,#11f 0 118px,#0ec 0 120px,#20e 0 122px,#11f 0 124px,#20e 0 126px,#30d 0 128px,#40c 0 130px,#30d 0 132px,#20e 0 134px,#40c 0 138px,#10e 0 140px,#11e 0 142px,#30d 0 144px,#509 0 146px,#30d 0 148px,#405 0 150px,#30c 0 152px,#50b 0 154px,#30d 0 156px,#0dd 0 158px,#ef0 0 160px,#df0 0 162px,#ef0 0 166px,#df0 0 168px,#0de 0 170px,#40c 0 172px,#11e 0 174px,#20e 0 176px,#40b 0 178px,#20e 0 182px,#50a 0 184px,#40c 0 186px,#30d 0 190px,#20e 0 196px,#30d 0 200px,#50b 0 202px,#20e 0 204px,#30d 0 206px,#40c 0 210px,#20e 0 212px,#40c 0 214px,#11f 0 216px,#20e 0 220px,#405 0 222px,#40c 0 224px,#50b 0 228px,#11f 0 230px,#30d 0 232px,#11f 0 234px,#20e 0 236px,#50b 0 238px,#405 0 240px,#50b 0 242px,#02f 0 244px,#50a 0 246px,#20d 0 248px,#40c 0 250px,#11f 0 252px,#30c 0 254px,#11e 0 256px,#40c 0 258px,#405 0 260px,#11e 0 262px,#508 0 264px,#30d 0 266px,#40c 0 268px,#30c 0 270px,#30d 0 272px,#11e 0 274px,#30d 0 276px,#20e 0 280px,#40c 0 282px,#20e 0 284px,#30d 0 288px,#50b 0 290px,#30d 0 292px,#30c 0 294px,#405 0 296px,#40c 0 298px,#50b 0 300px,#40c 0 302px,#30d 0 306px,#40c 0 308px,#50a 0 310px,#40c 0 312px,#11e 0 314px,#10e 0 316px,#40c 0 322px,#50a 0 324px,#11e 0 326px,#50b 0 328px,#20e 0 330px,#40c 0 332px,#11f 0 334px,#30d 0 336px,#50b 0 338.5px)"></i>
<i style="left:354px;top:497px;width:338.5px;height:2px;background:linear-gradient(90deg,#11e 0 2px,#20e 0 4px,#30d 0 6px,#50b 0 8px,#508 0 10px,#40c 0 12px,#20e 0 14px,#30d 0 16px,#50a 0 18px,#40c 0 20px,#30d 0 26px,#40c 0 28px,#40b 0 30px,#20e 0 32px,#50b 0 34px,#509 0 36px,#10e 0 38px,#20e 0 40px,#40c 0 42px,#30d 0 44px,#508 0 46px,#50b 0 48px,#20e 0 50px,#405 0 52px,#50b 0 54px,#11f 0 56px,#40c 0 58px,#508 0 60px,#11f 0 62px,#40c 0 66px,#50b 0 68px,#40c 0 72px,#508 0 74px,#50a 0 76px,#30d 0 78px,#50a 0 80px,#30c 0 82px,#30d 0 84px,#20d 0 86px,#405 0 88px,#20e 0 90px,#30d 0 92px,#40c 0 94px,#20e 0 98px,#40c 0 100px,#11e 0 104px,#40c 0 106px,#0de 0 108px,#0ce 0 110px,#30d 0 112px,#0ec 0 114px,#30d 0 116px,#0f7 0 118px,#20d 0 120px,#50b 0 122px,#50a 0 124px,#50b 0 126px,#30d 0 128px,#01f 0 130px,#10e 0 132px,#30d 0 134px,#40c 0 136px,#50b 0 138px,#20e 0 142px,#30d 0 144px,#405 0 146px,#40c 0 148px,#20e 0 152px,#30d 0 154px,#508 0 156px,#0de 0 158px,#bf0 0 160px,#af0 0 162px,#bf0 0 164px,#cf0 0 166px,#bf0 0 168px,#0de 0 170px,#40c 0 172px,#40b 0 174px,#405 0 176px,#509 0 178px,#20e 0 180px,#30d 0 182px,#20e 0 186px,#11f 0 188px,#30d 0 190px,#20e 0 192px,#50a 0 194px,#50b 0 196px,#509 0 198px,#40c 0 200px,#30d 0 202px,#405 0 204px,#40c 0 208px,#20e 0 210px,#30d 0 214px,#50b 0 216px,#40c 0 218px,#30d 0 222px,#20e 0 228px,#30c 0 230px,#10e 0 232px,#20d 0 234px,#40c 0 236px,#405 0 238px,#50b 0 240px,#20e 0 244px,#40c 0 246px,#30d 0 248px,#509 0 250px,#20e 0 252px,#405 0 254px,#40c 0 260px,#50b 0 262px,#30d 0 264px,#405 0 266px,#11f 0 268px,#509 0 270px,#20d 0 272px,#30c 0 274px,#11e 0 276px,#405 0 278px,#50a 0 282px,#50b 0 284px,#50a 0 286px,#509 0 288px,#405 0 290px,#40c 0 292px,#30d 0 294px,#11e 0 296px,#40c 0 298px,#30d 0 300px,#20e 0 302px,#30d 0 308px,#20e 0 310px,#50b 0 312px,#40c 0 314px,#30d 0 316px,#30c 0 318px,#50b 0 320px,#40c 0 322px,#20e 0 324px,#509 0 326px,#20e 0 328px,#40c 0 330px,#50a 0 332px,#20e 0 334px,#30d 0 336px,#20e 0 338px,#30d 0 338.5px)"></i>
<i style="left:354px;top:499px;width:338.5px;height:2px;background:linear-gradient(90deg,#30d 0 2px,#40c 0 4px,#50a 0 6px,#20e 0 8px,#50b 0 10px,#30d 0 12px,#20e 0 16px,#40c 0 18px,#30d 0 20px,#40c 0 22px,#50a 0 24px,#30d 0 28px,#40c 0 30px,#509 0 32px,#40c 0 36px,#20e 0 38px,#50b 0 40px,#509 0 42px,#40c 0 44px,#40b 0 46px,#405 0 48px,#50b 0 50px,#20e 0 52px,#50b 0 54px,#40c 0 56px,#20e 0 58px,#40c 0 60px,#40b 0 62px,#50b 0 64px,#30d 0 66px,#40c 0 68px,#509 0 70px,#30d 0 72px,#50b 0 74px,#40c 0 76px,#50a 0 78px,#30d 0 80px,#405 0 82px,#50b 0 84px,#509 0 86px,#20e 0 88px,#50b 0 90px,#509 0 92px,#30c 0 94px,#50b 0 98px,#30d 0 100px,#50b 0 102px,#30d 0 104px,#11e 0 106px,#0ce 0 108px,#0af 0 110px,#405 0 112px,#50a 0 114px,#30d 0 116px,#50a 0 118px,#0fc 0 120px,#40c 0 122px,#50b 0 124px,#30c 0 126px,#30d 0 128px,#40c 0 132px,#11e 0 134px,#405 0 136px,#50a 0 138px,#509 0 140px,#30d 0 142px,#50b 0 144px,#30d 0 146px,#20e 0 148px,#40c 0 150px,#11f 0 152px,#20e 0 154px,#50a 0 156px,#0bf 0 158px,#5f1 0 164px,#4f1 0 166px,#6f0 0 168px,#0af 0 170px,#20e 0 172px,#50b 0 174px,#0af 0 176px,#20e 0 178px,#40c 0 180px,#50a 0 182px,#30d 0 184px,#509 0 186px,#50b 0 190px,#40c 0 194px,#10e 0 196px,#509 0 198px,#50a 0 200px,#30d 0 202px,#405 0 204px,#30d 0 206px,#10e 0 208px,#50a 0 210px,#40c 0 212px,#508 0 214px,#30d 0 218px,#11e 0 220px,#30d 0 222px,#20e 0 224px,#40c 0 226px,#50a 0 228px,#50b 0 230px,#10e 0 232px,#50b 0 236px,#50a 0 240px,#405 0 242px,#50a 0 244px,#50b 0 246px,#30d 0 248px,#40c 0 250px,#405 0 252px,#40c 0 254px,#30d 0 256px,#50b 0 260px,#508 0 262px,#11e 0 264px,#50a 0 266px,#30d 0 270px,#40c 0 272px,#50b 0 274px,#20e 0 276px,#11f 0 278px,#50a 0 280px,#40c 0 282px,#50b 0 286px,#50a 0 288px,#40c 0 290px,#509 0 292px,#30d 0 296px,#50a 0 298px,#40c 0 300px,#30d 0 302px,#509 0 304px,#50b 0 306px,#20e 0 308px,#40c 0 310px,#50b 0 314px,#50a 0 316px,#30d 0 318px,#40c 0 320px,#30d 0 324px,#40c 0 326px,#20e 0 330px,#40c 0 334px,#405 0 336px,#40c 0 338px,#10e 0 338.5px)"></i>
<i style="left:354px;top:501px;width:338.5px;height:2px;background:linear-gradient(90deg,#50b 0 2px,#50a 0 4px,#30d 0 6px,#40c 0 12px,#30d 0 14px,#20e 0 16px,#30d 0 20px,#40c 0 22px,#509 0 24px,#508 0 26px,#40c 0 30px,#30d 0 32px,#40c 0 34px,#20e 0 36px,#20d 0 38px,#40c 0 40px,#50a 0 42px,#509 0 44px,#50b 0 46px,#40c 0 48px,#30d 0 50px,#40c 0 54px,#507 0 56px,#40c 0 60px,#50b 0 62px,#50a 0 64px,#30d 0 66px,#509 0 68px,#50b 0 70px,#40c 0 72px,#20e 0 74px,#30d 0 76px,#508 0 78px,#40c 0 80px,#50b 0 84px,#508 0 86px,#50a 0 88px,#20d 0 90px,#40c 0 92px,#30d 0 94px,#40b 0 96px,#40c 0 98px,#50b 0 100px,#40c 0 102px,#508 0 104px,#50a 0 106px,#0de 0 108px,#0af 0 110px,#40c 0 112px,#30d 0 114px,#11e 0 116px,#0ed 0 118px,#0ec 0 120px,#40c 0 122px,#0bf 0 124px,#50a 0 126px,#40c 0 128px,#50a 0 130px,#40c 0 132px,#20d 0 134px,#509 0 136px,#50b 0 138px,#40b 0 140px,#50b 0 142px,#40c 0 144px,#30d 0 146px,#405 0 148px,#50a 0 150px,#50b 0 152px,#40c 0 156px,#08f 0 158px,#2f3 0 160px,#2f2 0 162px,#1f5 0 164px,#1f4 0 166px,#1f5 0 168px,#09f 0 170px,#0af 0 174px,#50b 0 176px,#509 0 178px,#50b 0 180px,#20e 0 182px,#50b 0 186px,#50a 0 188px,#508 0 190px,#50b 0 196px,#30d 0 198px,#509 0 200px,#30d 0 202px,#40b 0 204px,#509 0 206px,#40c 0 208px,#50a 0 212px,#40c 0 214px,#50b 0 216px,#40b 0 218px,#50a 0 220px,#40c 0 222px,#508 0 224px,#30d 0 228px,#40c 0 230px,#50b 0 232px,#30d 0 234px,#50b 0 236px,#40c 0 238px,#50b 0 240px,#40c 0 242px,#405 0 244px,#30d 0 246px,#50b 0 248px,#40c 0 252px,#30d 0 254px,#509 0 256px,#40c 0 262px,#30d 0 264px,#50b 0 268px,#20e 0 270px,#50a 0 272px,#50b 0 274px,#508 0 276px,#405 0 278px,#30d 0 280px,#50a 0 282px,#20e 0 284px,#507 0 286px,#20e 0 288px,#30d 0 290px,#40b 0 292px,#30d 0 294px,#40c 0 296px,#20e 0 298px,#30c 0 300px,#50a 0 302px,#30d 0 304px,#40c 0 306px,#50a 0 308px,#30c 0 310px,#50a 0 312px,#30d 0 314px,#50b 0 316px,#40c 0 318px,#30d 0 320px,#50a 0 322px,#50b 0 324px,#50a 0 326px,#508 0 328px,#509 0 330px,#30d 0 332px,#40c 0 334px,#50a 0 336px,#40c 0 338px,#30d 0 338.5px)"></i>
<i style="left:354px;top:503px;width:338.5px;height:2px;background:linear-gradient(90deg,#507 0 2px,#509 0 4px,#30c 0 6px,#50b 0 8px,#40c 0 10px,#30d 0 12px,#50b 0 14px,#508 0 16px,#40c 0 18px,#508 0 20px,#50a 0 22px,#08f 0 24px,#50a 0 26px,#40c 0 30px,#405 0 32px,#508 0 34px,#405 0 36px,#40c 0 42px,#40b 0 44px,#50b 0 46px,#20d 0 48px,#509 0 50px,#508 0 52px,#50b 0 54px,#305 0 56px,#50b 0 58px,#0af 0 60px,#50a 0 62px,#40c 0 64px,#509 0 66px,#508 0 68px,#405 0 72px,#50a 0 74px,#508 0 76px,#30d 0 78px,#509 0 80px,#50a 0 82px,#20e 0 84px,#508 0 86px,#509 0 90px,#40c 0 92px,#508 0 94px,#405 0 96px,#50a 0 98px,#50b 0 100px,#50a 0 102px,#509 0 104px,#507 0 106px,#0ec 0 108px,#0cf 0 110px,#30d 0 112px,#0ed 0 114px,#40c 0 116px,#0ec 0 118px,#0f8 0 120px,#40b 0 122px,#0cf 0 124px,#30d 0 126px,#509 0 128px,#50b 0 130px,#50a 0 132px,#507 0 134px,#30d 0 136px,#50b 0 138px,#40c 0 140px,#50b 0 142px,#30d 0 146px,#405 0 148px,#50b 0 150px,#10e 0 152px,#30d 0 154px,#405 0 156px,#06f 0 158px,#0f8 0 160px,#0f9 0 162px,#0f8 0 164px,#0f9 0 168px,#05f 0 170px,#0af 0 174px,#50b 0 176px,#0af 0 178px,#50b 0 180px,#50a 0 182px,#509 0 184px,#50b 0 186px,#40c 0 188px,#20e 0 190px,#50b 0 192px,#50a 0 194px,#508 0 196px,#50b 0 198px,#50a 0 200px,#40c 0 202px,#50a 0 204px,#509 0 206px,#30d 0 208px,#507 0 210px,#509 0 212px,#40c 0 214px,#50a 0 218px,#40c 0 220px,#40b 0 222px,#405 0 224px,#50b 0 226px,#30d 0 228px,#50b 0 230px,#40c 0 232px,#50b 0 236px,#30d 0 238px,#50a 0 240px,#509 0 242px,#50a 0 244px,#40c 0 246px,#0bf 0 250px,#509 0 252px,#40c 0 254px,#509 0 256px,#40b 0 258px,#50a 0 260px,#40b 0 262px,#50b 0 264px,#50a 0 266px,#405 0 268px,#50a 0 270px,#30d 0 272px,#50b 0 278px,#405 0 280px,#508 0 282px,#509 0 284px,#50a 0 286px,#508 0 288px,#50a 0 290px,#30d 0 292px,#40c 0 296px,#20e 0 298px,#40c 0 300px,#405 0 302px,#509 0 304px,#40c 0 306px,#50b 0 312px,#40c 0 314px,#405 0 316px,#30d 0 318px,#50a 0 320px,#509 0 322px,#40c 0 324px,#50a 0 326px,#508 0 328px,#50a 0 330px,#40c 0 332px,#507 0 334px,#30d 0 336px,#20e 0 338px,#509 0 338.5px)"></i>
<i style="left:354px;top:505px;width:338.5px;height:2px;background:linear-gradient(90deg,#508 0 2px,#50b 0 4px,#40c 0 6px,#406 0 8px,#509 0 12px,#50b 0 14px,#40c 0 16px,#50b 0 18px,#50a 0 20px,#40c 0 22px,#08f 0 24px,#508 0 28px,#406 0 30px,#50a 0 32px,#509 0 34px,#40b 0 36px,#50b 0 38px,#405 0 40px,#30d 0 42px,#509 0 44px,#50a 0 48px,#50b 0 50px,#509 0 54px,#10e 0 56px,#509 0 58px,#0af 0 60px,#50b 0 62px,#40c 0 68px,#50b 0 72px,#507 0 74px,#509 0 76px,#508 0 78px,#50b 0 80px,#50a 0 82px,#40c 0 84px,#508 0 86px,#507 0 88px,#30c 0 90px,#40c 0 92px,#50b 0 94px,#405 0 96px,#507 0 98px,#509 0 100px,#507 0 102px,#40c 0 104px,#50a 0 106px,#509 0 108px,#0af 0 110px,#40c 0 112px,#405 0 114px,#40c 0 116px,#1f5 0 118px,#0fb 0 120px,#50a 0 122px,#50b 0 124px,#508 0 126px,#406 0 128px,#50a 0 130px,#20d 0 132px,#50b 0 136px,#50a 0 138px,#40c 0 140px,#50b 0 142px,#30c 0 144px,#40c 0 146px,#508 0 148px,#50b 0 150px,#40c 0 154px,#508 0 156px,#04f 0 158px,#0ed 0 166px,#0ec 0 168px,#04f 0 170px,#20e 0 172px,#50a 0 174px,#0af 0 178px,#50a 0 180px,#509 0 182px,#40c 0 184px,#30d 0 186px,#50a 0 188px,#30c 0 190px,#406 0 192px,#50b 0 194px,#30d 0 196px,#50b 0 202px,#304 0 204px,#509 0 206px,#40c 0 208px,#50a 0 210px,#507 0 212px,#508 0 214px,#405 0 216px,#509 0 218px,#508 0 220px,#509 0 222px,#50a 0 224px,#507 0 226px,#509 0 228px,#507 0 230px,#40b 0 232px,#508 0 234px,#50a 0 236px,#50b 0 238px,#50a 0 242px,#508 0 246px,#0bf 0 248px,#50a 0 250px,#509 0 252px,#304 0 254px,#405 0 256px,#30d 0 258px,#50a 0 260px,#50b 0 262px,#406 0 264px,#50b 0 266px,#11e 0 268px,#405 0 270px,#40c 0 272px,#50a 0 274px,#508 0 276px,#50a 0 278px,#508 0 280px,#50a 0 282px,#50b 0 284px,#20e 0 286px,#50b 0 288px,#50a 0 290px,#11e 0 292px,#50a 0 294px,#40c 0 296px,#20e 0 298px,#50a 0 302px,#40c 0 304px,#507 0 306px,#50a 0 308px,#50b 0 310px,#508 0 312px,#40c 0 314px,#50b 0 316px,#50a 0 318px,#40b 0 320px,#50b 0 324px,#40c 0 326px,#509 0 330px,#50b 0 334px,#509 0 336px,#507 0 338px,#509 0 338.5px)"></i>
<i style="left:354px;top:507px;width:338.5px;height:2px;background:linear-gradient(90deg,#405 0 2px,#50b 0 4px,#509 0 6px,#40c 0 8px,#508 0 12px,#509 0 14px,#50a 0 16px,#50b 0 18px,#405 0 22px,#08f 0 24px,#50a 0 26px,#509 0 28px,#20e 0 30px,#30d 0 32px,#508 0 34px,#50a 0 36px,#50b 0 38px,#508 0 40px,#50a 0 42px,#509 0 46px,#40c 0 52px,#50a 0 54px,#405 0 56px,#50a 0 58px,#0af 0 60px,#50b 0 62px,#509 0 66px,#508 0 68px,#50b 0 70px,#508 0 72px,#40c 0 74px,#50a 0 76px,#40c 0 80px,#30d 0 82px,#40c 0 84px,#304 0 86px,#508 0 88px,#40c 0 90px,#40b 0 92px,#30d 0 94px,#50b 0 96px,#509 0 98px,#50b 0 102px,#40b 0 104px,#508 0 106px,#0ce 0 108px,#0de 0 110px,#50b 0 112px,#509 0 114px,#40b 0 116px,#508 0 118px,#0ed 0 120px,#508 0 122px,#09f 0 124px,#50a 0 126px,#508 0 128px,#50a 0 130px,#20e 0 132px,#509 0 136px,#508 0 138px,#50b 0 140px,#40c 0 142px,#50a 0 144px,#40c 0 146px,#50b 0 150px,#50a 0 152px,#509 0 154px,#20e 0 156px,#02f 0 158px,#0cf 0 164px,#0ce 0 168px,#02f 0 170px,#0af 0 176px,#30d 0 178px,#509 0 180px,#40c 0 182px,#405 0 184px,#20e 0 186px,#508 0 188px,#507 0 190px,#405 0 192px,#50b 0 194px,#30d 0 196px,#50b 0 198px,#508 0 204px,#506 0 206px,#50b 0 208px,#40c 0 210px,#30d 0 212px,#40c 0 214px,#30d 0 216px,#509 0 220px,#508 0 222px,#50a 0 224px,#50b 0 226px,#508 0 228px,#40c 0 232px,#30d 0 234px,#50b 0 236px,#40c 0 240px,#50b 0 242px,#50a 0 244px,#30d 0 246px,#0bf 0 250px,#508 0 252px,#50a 0 254px,#50b 0 256px,#40c 0 258px,#50b 0 260px,#40c 0 262px,#509 0 264px,#50b 0 266px,#509 0 272px,#50b 0 276px,#405 0 278px,#509 0 280px,#50a 0 282px,#30d 0 286px,#405 0 290px,#40c 0 294px,#50b 0 296px,#40c 0 298px,#509 0 300px,#508 0 302px,#30d 0 304px,#50a 0 306px,#50b 0 308px,#20e 0 310px,#50a 0 312px,#50b 0 314px,#508 0 316px,#50a 0 318px,#509 0 320px,#508 0 322px,#40c 0 324px,#30d 0 326px,#50a 0 328px,#509 0 330px,#50b 0 332px,#40c 0 336px,#304 0 338px,#50b 0 338.5px)"></i>
<i style="left:354px;top:509px;width:338.5px;height:2px;background:linear-gradient(90deg,#04f 0 2px,#05f 0 4px,#0fb 0 6px,#06f 0 10px,#07f 0 16px,#0af 0 18px,#0bf 0 20px,#04f 0 22px,#08f 0 24px,#05f 0 28px,#06f 0 30px,#0ce 0 32px,#20e 0 34px,#0bf 0 36px,#06f 0 38px,#08f 0 40px,#03f 0 42px,#02f 0 46px,#10e 0 48px,#05f 0 50px,#07f 0 52px,#04f 0 54px,#06f 0 56px,#07f 0 58px,#0af 0 62px,#07f 0 64px,#03f 0 66px,#30d 0 68px,#02f 0 70px,#11e 0 72px,#01f 0 74px,#40c 0 76px,#03f 0 78px,#06f 0 80px,#03f 0 82px,#06f 0 84px,#02f 0 86px,#05f 0 90px,#03f 0 92px,#50a 0 94px,#20e 0 98px,#11f 0 100px,#05f 0 102px,#09f 0 104px,#02f 0 106px,#11f 0 108px,#20e 0 112px,#04f 0 114px,#40c 0 116px,#0ed 0 118px,#0fb 0 120px,#06f 0 122px,#11f 0 124px,#11e 0 126px,#02f 0 128px,#11f 0 134px,#11e 0 136px,#03f 0 138px,#11f 0 140px,#10e 0 142px,#02f 0 144px,#01f 0 146px,#02f 0 150px,#06f 0 152px,#03f 0 154px,#02f 0 156px,#11f 0 158px,#09f 0 160px,#0af 0 164px,#0cf 0 166px,#0af 0 168px,#11f 0 170px,#0af 0 176px,#20e 0 178px,#30d 0 182px,#40b 0 184px,#509 0 188px,#40c 0 190px,#30d 0 192px,#509 0 194px,#02f 0 196px,#20e 0 206px,#30c 0 208px,#40c 0 210px,#20e 0 212px,#40b 0 214px,#20e 0 216px,#11e 0 218px,#40c 0 220px,#30d 0 222px,#20e 0 224px,#30d 0 226px,#508 0 230px,#40c 0 232px,#50b 0 234px,#11f 0 238px,#11e 0 240px,#20e 0 244px,#11f 0 246px,#0bf 0 250px,#40b 0 252px,#20e 0 256px,#30d 0 258px,#11e 0 260px,#30d 0 264px,#20e 0 266px,#11e 0 268px,#03f 0 270px,#40c 0 272px,#30c 0 274px,#40c 0 276px,#20e 0 278px,#11f 0 280px,#20e 0 282px,#50a 0 284px,#10e 0 286px,#30d 0 288px,#01f 0 290px,#30d 0 292px,#10e 0 294px,#50b 0 296px,#507 0 298px,#40c 0 300px,#30d 0 302px,#11e 0 304px,#10e 0 306px,#509 0 308px,#30d 0 310px,#40c 0 312px,#20e 0 314px,#20d 0 316px,#509 0 318px,#20e 0 320px,#30d 0 322px,#11f 0 324px,#30d 0 326px,#11f 0 328px,#30d 0 330px,#05f 0 332px,#50a 0 334px,#10e 0 336px,#11f 0 338px,#20e 0 338.5px)"></i>
<i style="left:354px;top:511px;width:338.5px;height:2px;background:linear-gradient(90deg,#05f 0 2px,#07f 0 4px,#05f 0 6px,#07f 0 8px,#0af 0 10px,#07f 0 12px,#0de 0 14px,#11f 0 16px,#10e 0 18px,#04f 0 20px,#0bf 0 22px,#03f 0 24px,#05f 0 26px,#08f 0 28px,#04f 0 30px,#0de 0 32px,#05f 0 36px,#0af 0 38px,#04f 0 40px,#07f 0 42px,#0bf 0 44px,#08f 0 46px,#04f 0 50px,#03f 0 52px,#07f 0 56px,#08f 0 58px,#0de 0 60px,#02f 0 64px,#0af 0 66px,#40c 0 68px,#05f 0 70px,#02f 0 72px,#20e 0 74px,#01f 0 76px,#04f 0 78px,#05f 0 80px,#30d 0 82px,#04f 0 84px,#11e 0 86px,#10e 0 88px,#02f 0 90px,#06f 0 92px,#11e 0 94px,#05f 0 96px,#02f 0 98px,#20e 0 100px,#30d 0 102px,#20e 0 104px,#05f 0 106px,#07f 0 108px,#02f 0 110px,#10e 0 112px,#50b 0 114px,#05f 0 116px,#02f 0 118px,#11e 0 120px,#01f 0 122px,#02f 0 124px,#04f 0 126px,#20e 0 128px,#04f 0 130px,#05f 0 132px,#10e 0 134px,#07f 0 136px,#11e 0 138px,#11f 0 140px,#03f 0 142px,#05f 0 144px,#02f 0 146px,#11f 0 150px,#04f 0 152px,#03f 0 154px,#20e 0 156px,#02f 0 158px,#0af 0 166px,#09f 0 168px,#02f 0 170px,#50b 0 172px,#30d 0 174px,#20d 0 176px,#40c 0 178px,#50b 0 180px,#30d 0 182px,#10e 0 184px,#20d 0 186px,#20e 0 188px,#50b 0 190px,#20d 0 192px,#50a 0 194px,#40c 0 196px,#11e 0 198px,#50a 0 200px,#30d 0 202px,#20e 0 204px,#508 0 206px,#40c 0 208px,#11e 0 210px,#50b 0 212px,#20e 0 216px,#11e 0 218px,#20e 0 220px,#02f 0 222px,#30d 0 224px,#40c 0 226px,#01f 0 228px,#30d 0 230px,#20e 0 238px,#40c 0 242px,#03f 0 244px,#30d 0 248px,#11f 0 250px,#40c 0 252px,#30d 0 254px,#03f 0 256px,#11f 0 258px,#40c 0 260px,#11f 0 262px,#11e 0 264px,#20e 0 266px,#40c 0 270px,#40b 0 272px,#40c 0 274px,#01f 0 276px,#20e 0 278px,#10e 0 280px,#02f 0 282px,#20e 0 284px,#02f 0 286px,#203 0 288px,#20e 0 290px,#40c 0 292px,#11e 0 294px,#20e 0 296px,#11f 0 298px,#509 0 300px,#30d 0 306px,#10e 0 308px,#11f 0 310px,#30d 0 312px,#10e 0 314px,#11f 0 316px,#40b 0 318px,#509 0 320px,#507 0 322px,#30d 0 324px,#10e 0 326px,#30d 0 328px,#40c 0 330px,#30d 0 332px,#20d 0 334px,#50b 0 336px,#30d 0 338px,#20e 0 338.5px)"></i>
<i style="left:343px;top:513px;width:349.5px;height:7px;background:linear-gradient(90deg,#0ed 0 1.8px,#0de 0 3.5px,#0ed 0 5.2px,#0fb 0 7px,#0ed 0 12.2px,#0f9 0 14px,#0f7 0 15.8px,#1f4 0 17.5px,#1f5 0 19.2px,#0f7 0 22.8px,#0f6 0 24.5px,#0f7 0 26.2px,#1f5 0 28px,#0f6 0 29.8px,#1f4 0 31.5px,#4f1 0 33.2px,#1f4 0 35px,#1f5 0 36.8px,#1f6 0 38.5px,#0f6 0 40.2px,#1f5 0 42px,#0f7 0 43.8px,#1f4 0 45.5px,#0f6 0 47.2px,#0f8 0 49px,#0f6 0 50.8px,#0f8 0 52.5px,#0f7 0 54.2px,#0f8 0 56px,#1f6 0 57.8px,#3f1 0 59.5px,#1f4 0 61.2px,#1f5 0 63px,#2f2 0 66.5px,#af0 0 68.2px,#8f0 0 70px,#af0 0 73.5px,#bf0 0 75.2px,#cf0 0 77px,#bf0 0 78.8px,#cf0 0 82.2px,#af0 0 85.8px,#bf0 0 87.5px,#af0 0 89.2px,#9f0 0 91px,#bf0 0 92.8px,#9f0 0 98px,#af0 0 99.8px,#bf0 0 101.5px,#cf0 0 103.2px,#af0 0 105px,#9f0 0 106.8px,#4f1 0 108.5px,#0fb 0 110.2px,#0f9 0 112px,#0f8 0 115.5px,#0fa 0 117.2px,#0f9 0 119px,#0fa 0 120.8px,#0f9 0 122.5px,#0f7 0 124.2px,#0f9 0 126px,#0fb 0 127.8px,#0f9 0 129.5px,#0fa 0 131.2px,#0fb 0 134.8px,#0f8 0 136.5px,#0f9 0 138.2px,#0ed 0 141.8px,#0f8 0 143.5px,#0f9 0 147px,#0fa 0 148.8px,#0fb 0 150.5px,#0ec 0 152.2px,#0fa 0 154px,#0fb 0 157.5px,#0fc 0 159.2px,#0ed 0 161px,#0fc 0 162.8px,#0fb 0 164.5px,#0de 0 168px,#09f 0 169.8px,#07f 0 171.5px,#05f 0 173.2px,#07f 0 176.8px,#0de 0 180.2px,#05f 0 182px,#0de 0 183.8px,#0ed 0 185.5px,#0fb 0 187.2px,#0f8 0 189px,#0f9 0 190.8px,#0f8 0 192.5px,#0fb 0 194.2px,#0fa 0 196px,#0fb 0 197.8px,#0f7 0 199.5px,#0fb 0 201.2px,#0ec 0 203px,#0f8 0 204.8px,#0ed 0 206.5px,#0fa 0 208.2px,#0fb 0 210px,#0ed 0 211.8px,#0ec 0 213.5px,#0fa 0 215.2px,#0f7 0 217px,#0fb 0 218.8px,#0fa 0 220.5px,#0f9 0 222.2px,#0f8 0 224px,#0f9 0 227.5px,#0f8 0 229.2px,#0fa 0 231px,#0f8 0 232.8px,#0f9 0 234.5px,#0fa 0 236.2px,#0ed 0 238px,#0ec 0 239.8px,#0f9 0 241.5px,#0f8 0 243.2px,#0fb 0 245px,#1f6 0 246.8px,#0fa 0 248.5px,#0fb 0 250.2px,#0fa 0 252px,#0f9 0 253.8px,#0ed 0 255.5px,#0f9 0 257.2px,#0ed 0 259px,#0fa 0 260.8px,#1f5 0 262.5px,#0f8 0 264.2px,#0fa 0 267.8px,#1f5 0 269.5px,#4f1 0 271.2px,#7f0 0 273px,#9f0 0 276.5px,#af0 0 283.5px,#8f0 0 285.2px,#cf0 0 287px,#9f0 0 288.8px,#af0 0 290.5px,#bf0 0 292.2px,#af0 0 294px,#bf0 0 297.5px,#cf0 0 299.2px,#bf0 0 301px,#cf0 0 302.8px,#ef0 0 306.2px,#cf0 0 308px,#bf0 0 309.8px,#9f0 0 311.5px,#df0 0 313.2px,#af0 0 315px,#bf0 0 316.8px,#af0 0 318.5px,#bf0 0 320.2px,#cf0 0 322px,#8f0 0 323.8px,#cf0 0 325.5px,#bf0 0 329px,#af0 0 330.8px,#bf0 0 334.2px,#cf0 0 336px,#8f0 0 337.8px,#bf0 0 346.5px,#af0 0 349.5px)"></i>
<i style="left:343px;top:520px;width:349.5px;height:7px;background:linear-gradient(90deg,#0ed 0 5.2px,#0fa 0 7px,#0fb 0 10.5px,#0fc 0 12.2px,#0f6 0 14px,#1f4 0 15.8px,#2f2 0 19.2px,#1f4 0 22.8px,#1f3 0 24.5px,#1f4 0 26.2px,#1f5 0 28px,#2f2 0 29.8px,#2f1 0 31.5px,#4f1 0 33.2px,#2f2 0 35px,#2f3 0 36.8px,#1f4 0 38.5px,#2f2 0 40.2px,#1f4 0 43.8px,#2f1 0 45.5px,#1f3 0 47.2px,#1f5 0 52.5px,#1f4 0 54.2px,#1f6 0 56px,#2f3 0 57.8px,#5f1 0 59.5px,#3f1 0 61.2px,#2f2 0 63px,#4f1 0 66.5px,#af0 0 68.2px,#9f0 0 70px,#bf0 0 71.8px,#8f0 0 73.5px,#df0 0 75.2px,#ef0 0 77px,#af0 0 78.8px,#cf0 0 80.5px,#bf0 0 82.2px,#9f0 0 84px,#af0 0 85.8px,#bf0 0 87.5px,#af0 0 89.2px,#8f0 0 91px,#cf0 0 92.8px,#9f0 0 94.5px,#af0 0 96.2px,#9f0 0 98px,#bf0 0 103.2px,#af0 0 105px,#9f0 0 106.8px,#5f1 0 110.2px,#1f3 0 112px,#1f5 0 115.5px,#0fb 0 117.2px,#0f7 0 120.8px,#0ed 0 122.5px,#0f6 0 124.2px,#0f7 0 126px,#0f8 0 127.8px,#0ed 0 129.5px,#0f9 0 131.2px,#0f8 0 134.8px,#0f6 0 136.5px,#0f7 0 138.2px,#0fb 0 140px,#0f7 0 141.8px,#0f9 0 145.2px,#0f8 0 147px,#0f9 0 148.8px,#0ed 0 150.5px,#0f9 0 152.2px,#0f7 0 154px,#0fa 0 155.8px,#0f8 0 157.5px,#0f9 0 161px,#0fa 0 162.8px,#0ed 0 166.2px,#0de 0 168px,#09f 0 169.8px,#05f 0 171.5px,#0de 0 173.2px,#05f 0 178.5px,#09f 0 180.2px,#07f 0 182px,#09f 0 183.8px,#0ed 0 185.5px,#0fb 0 187.2px,#1f6 0 189px,#0f6 0 192.5px,#0f8 0 196px,#0fb 0 197.8px,#1f5 0 199.5px,#0f8 0 201.2px,#0fb 0 203px,#0f8 0 204.8px,#0f9 0 206.5px,#0f8 0 208.2px,#0f9 0 211.8px,#0f8 0 213.5px,#0f9 0 215.2px,#0f7 0 217px,#0f9 0 218.8px,#0f7 0 220.5px,#0f8 0 222.2px,#1f6 0 224px,#0f7 0 225.8px,#0f9 0 227.5px,#0fb 0 229.2px,#0f9 0 231px,#0fb 0 232.8px,#0f7 0 234.5px,#0f8 0 238px,#0f9 0 239.8px,#0f7 0 241.5px,#0f9 0 245px,#1f3 0 246.8px,#0f8 0 248.5px,#0fb 0 250.2px,#0f8 0 252px,#0f6 0 255.5px,#0f8 0 257.2px,#0ed 0 259px,#0f8 0 260.8px,#0f9 0 262.5px,#1f6 0 264.2px,#0f8 0 266px,#0f6 0 267.8px,#2f3 0 269.5px,#2f2 0 271.2px,#8f0 0 273px,#9f0 0 276.5px,#0fb 0 278.2px,#af0 0 281.8px,#9f0 0 285.2px,#bf0 0 287px,#8f0 0 288.8px,#9f0 0 290.5px,#bf0 0 292.2px,#8f0 0 294px,#bf0 0 295.8px,#0ed 0 297.5px,#bf0 0 299.2px,#af0 0 301px,#cf0 0 302.8px,#df0 0 306.2px,#cf0 0 308px,#df0 0 309.8px,#af0 0 311.5px,#ef0 0 313.2px,#cf0 0 315px,#bf0 0 316.8px,#af0 0 320.2px,#df0 0 322px,#9f0 0 323.8px,#bf0 0 329px,#af0 0 332.5px,#bf0 0 336px,#8f0 0 337.8px,#cf0 0 339.5px,#bf0 0 341.2px,#af0 0 343px,#9f0 0 344.8px,#bf0 0 346.5px,#af0 0 349.5px)"></i>
<i style="left:343px;top:527px;width:349.5px;height:7px;background:linear-gradient(90deg,#0f9 0 1.8px,#0fb 0 3.5px,#0fc 0 5.2px,#0f9 0 7px,#0fb 0 10.5px,#0fa 0 12.2px,#1f4 0 15.8px,#3f1 0 19.2px,#2f1 0 21px,#2f3 0 22.8px,#2f1 0 24.5px,#3f1 0 26.2px,#2f3 0 28px,#2f2 0 29.8px,#5f1 0 31.5px,#6f0 0 33.2px,#3f1 0 36.8px,#2f2 0 40.2px,#2f1 0 47.2px,#2f3 0 49px,#2f1 0 50.8px,#2f2 0 52.5px,#3f1 0 54.2px,#2f2 0 56px,#3f1 0 57.8px,#5f1 0 59.5px,#4f1 0 61.2px,#3f1 0 63px,#7f0 0 64.8px,#6f0 0 66.5px,#9f0 0 68.2px,#7f0 0 70px,#af0 0 73.5px,#cf0 0 75.2px,#df0 0 77px,#af0 0 78.8px,#cf0 0 80.5px,#bf0 0 82.2px,#af0 0 85.8px,#cf0 0 87.5px,#bf0 0 89.2px,#8f0 0 91px,#cf0 0 92.8px,#af0 0 96.2px,#7f0 0 98px,#9f0 0 99.8px,#cf0 0 101.5px,#bf0 0 103.2px,#af0 0 105px,#8f0 0 106.8px,#6f1 0 108.5px,#3f1 0 110.2px,#0fb 0 112px,#0f9 0 113.8px,#1f5 0 117.2px,#1f4 0 119px,#0fb 0 120.8px,#1f4 0 122.5px,#0ed 0 124.2px,#0f7 0 126px,#0f6 0 127.8px,#0f7 0 129.5px,#0ed 0 131.2px,#0f7 0 133px,#0f9 0 134.8px,#1f5 0 136.5px,#0f9 0 138.2px,#0fb 0 140px,#1f3 0 141.8px,#0ed 0 143.5px,#0f7 0 145.2px,#0fb 0 147px,#0f6 0 150.5px,#0f7 0 152.2px,#0f6 0 154px,#0f7 0 155.8px,#0fb 0 161px,#0f9 0 164.5px,#0fb 0 166.2px,#0ed 0 168px,#09f 0 169.8px,#0cf 0 171.5px,#07f 0 173.2px,#0de 0 175px,#0cf 0 176.8px,#09f 0 180.2px,#0cf 0 182px,#0ed 0 183.8px,#0f6 0 185.5px,#0f7 0 187.2px,#1f5 0 190.8px,#0f9 0 192.5px,#0f7 0 194.2px,#0fb 0 196px,#0f8 0 197.8px,#0f9 0 199.5px,#0f8 0 201.2px,#0ed 0 203px,#0fb 0 204.8px,#0f7 0 206.5px,#0f6 0 211.8px,#0f7 0 215.2px,#0f9 0 217px,#0f7 0 218.8px,#0f6 0 220.5px,#0f7 0 222.2px,#0fb 0 225.8px,#1f6 0 227.5px,#1f4 0 229.2px,#0fb 0 231px,#1f4 0 234.5px,#0f6 0 236.2px,#1f5 0 238px,#0f9 0 239.8px,#0fb 0 243.2px,#0f6 0 245px,#2f3 0 246.8px,#1f6 0 248.5px,#1f5 0 250.2px,#0f9 0 252px,#0f6 0 253.8px,#1f5 0 255.5px,#1f6 0 257.2px,#0f9 0 259px,#1f5 0 260.8px,#3f1 0 262.5px,#1f5 0 264.2px,#0f6 0 266px,#0f7 0 267.8px,#0fb 0 269.5px,#3f1 0 271.2px,#7f0 0 273px,#af0 0 274.8px,#9f0 0 276.5px,#af0 0 278.2px,#9f0 0 280px,#bf0 0 281.8px,#af0 0 283.5px,#9f0 0 285.2px,#bf0 0 287px,#9f0 0 290.5px,#af0 0 292.2px,#9f0 0 294px,#af0 0 297.5px,#bf0 0 299.2px,#9f0 0 301px,#cf0 0 302.8px,#df0 0 306.2px,#bf0 0 308px,#0fb 0 309.8px,#af0 0 311.5px,#ef0 0 313.2px,#cf0 0 315px,#af0 0 318.5px,#bf0 0 320.2px,#df0 0 322px,#af0 0 323.8px,#bf0 0 325.5px,#af0 0 329px,#bf0 0 334.2px,#0fb 0 336px,#9f0 0 337.8px,#bf0 0 339.5px,#af0 0 341.2px,#bf0 0 343px,#af0 0 344.8px,#bf0 0 346.5px,#af0 0 349.5px)"></i>
<i style="left:343px;top:534px;width:349.5px;height:7px;background:linear-gradient(90deg,#0f9 0 1.8px,#0fb 0 3.5px,#0f9 0 5.2px,#1f4 0 7px,#0f9 0 8.8px,#0f8 0 12.2px,#1f4 0 14px,#3f1 0 15.8px,#6f1 0 17.5px,#3f1 0 22.8px,#4f1 0 28px,#3f1 0 29.8px,#6f1 0 31.5px,#8f0 0 33.2px,#5f1 0 36.8px,#3f1 0 38.5px,#4f1 0 42px,#3f1 0 43.8px,#5f1 0 45.5px,#2f2 0 47.2px,#3f1 0 54.2px,#4f1 0 56px,#5f1 0 57.8px,#8f0 0 59.5px,#6f1 0 61.2px,#5f1 0 63px,#9f0 0 64.8px,#8f0 0 66.5px,#bf0 0 68.2px,#9f0 0 70px,#bf0 0 71.8px,#9f0 0 73.5px,#df0 0 75.2px,#ef0 0 77px,#af0 0 78.8px,#df0 0 80.5px,#bf0 0 82.2px,#9f0 0 84px,#af0 0 85.8px,#cf0 0 87.5px,#bf0 0 89.2px,#8f0 0 91px,#cf0 0 92.8px,#af0 0 96.2px,#7f0 0 98px,#af0 0 99.8px,#bf0 0 103.2px,#af0 0 106.8px,#6f1 0 108.5px,#4f1 0 110.2px,#3f1 0 112px,#2f3 0 115.5px,#1f4 0 117.2px,#1f6 0 119px,#1f4 0 120.8px,#2f3 0 122.5px,#2f2 0 124.2px,#1f4 0 126px,#1f5 0 127.8px,#0fb 0 129.5px,#1f4 0 131.2px,#1f5 0 136.5px,#2f2 0 138.2px,#0f7 0 140px,#3f1 0 141.8px,#1f4 0 147px,#1f5 0 148.8px,#1f4 0 150.5px,#0f6 0 152.2px,#1f6 0 154px,#0fb 0 155.8px,#1f5 0 157.5px,#0ed 0 161px,#0f9 0 162.8px,#0fa 0 164.5px,#0fb 0 168px,#09f 0 173.2px,#05f 0 175px,#0de 0 178.5px,#05f 0 180.2px,#0fb 0 183.8px,#1f5 0 185.5px,#1f6 0 187.2px,#2f1 0 189px,#2f2 0 190.8px,#2f3 0 192.5px,#1f4 0 196px,#0f7 0 197.8px,#2f3 0 199.5px,#0f7 0 201.2px,#0f6 0 203px,#1f4 0 208.2px,#1f3 0 210px,#1f4 0 211.8px,#0f6 0 213.5px,#1f6 0 215.2px,#1f3 0 217px,#1f5 0 218.8px,#2f2 0 220.5px,#1f5 0 222.2px,#2f3 0 224px,#1f4 0 227.5px,#2f3 0 229.2px,#1f5 0 231px,#2f3 0 236.2px,#1f3 0 238px,#0f6 0 239.8px,#2f1 0 241.5px,#1f3 0 243.2px,#0fb 0 245px,#2f2 0 246.8px,#1f4 0 248.5px,#2f3 0 252px,#1f4 0 253.8px,#0f9 0 255.5px,#1f4 0 260.8px,#2f2 0 262.5px,#2f3 0 264.2px,#1f4 0 266px,#1f5 0 267.8px,#4f1 0 269.5px,#3f1 0 271.2px,#6f1 0 273px,#af0 0 276.5px,#bf0 0 278.2px,#9f0 0 280px,#bf0 0 281.8px,#af0 0 283.5px,#9f0 0 285.2px,#bf0 0 287px,#8f0 0 288.8px,#bf0 0 292.2px,#9f0 0 294px,#bf0 0 295.8px,#af0 0 297.5px,#cf0 0 299.2px,#bf0 0 301px,#df0 0 304.5px,#ef0 0 306.2px,#bf0 0 308px,#cf0 0 309.8px,#bf0 0 311.5px,#df0 0 313.2px,#af0 0 315px,#bf0 0 316.8px,#cf0 0 320.2px,#bf0 0 322px,#9f0 0 323.8px,#af0 0 325.5px,#bf0 0 327.2px,#af0 0 329px,#bf0 0 330.8px,#af0 0 332.5px,#bf0 0 336px,#af0 0 337.8px,#cf0 0 339.5px,#bf0 0 341.2px,#9f0 0 343px,#af0 0 344.8px,#bf0 0 346.5px,#8f0 0 348.2px,#af0 0 349.5px)"></i>
<i style="left:343px;top:541px;width:349.5px;height:7px;background:linear-gradient(90deg,#0f7 0 1.8px,#0f8 0 3.5px,#0f7 0 5.2px,#0fb 0 7px,#0f6 0 8.8px,#0f7 0 10.5px,#0f8 0 12.2px,#2f1 0 14px,#4f1 0 15.8px,#6f1 0 17.5px,#4f1 0 21px,#3f1 0 22.8px,#6f0 0 24.5px,#5f1 0 26.2px,#6f1 0 28px,#7f0 0 31.5px,#af0 0 33.2px,#7f0 0 36.8px,#6f1 0 38.5px,#7f0 0 40.2px,#5f1 0 45.5px,#4f1 0 47.2px,#3f1 0 49px,#6f1 0 50.8px,#4f1 0 52.5px,#6f0 0 54.2px,#4f1 0 56px,#6f1 0 57.8px,#8f0 0 59.5px,#7f0 0 63px,#af0 0 64.8px,#9f0 0 66.5px,#af0 0 68.2px,#7f0 0 70px,#bf0 0 71.8px,#8f0 0 73.5px,#cf0 0 75.2px,#ef0 0 77px,#af0 0 78.8px,#cf0 0 82.2px,#bf0 0 84px,#af0 0 85.8px,#cf0 0 87.5px,#bf0 0 89.2px,#7f0 0 91px,#bf0 0 92.8px,#af0 0 94.5px,#bf0 0 96.2px,#af0 0 99.8px,#cf0 0 101.5px,#bf0 0 103.2px,#af0 0 105px,#8f0 0 106.8px,#6f0 0 108.5px,#4f1 0 113.8px,#2f3 0 115.5px,#2f2 0 117.2px,#2f1 0 119px,#2f3 0 120.8px,#2f2 0 122.5px,#3f1 0 124.2px,#2f2 0 126px,#1f4 0 127.8px,#1f3 0 129.5px,#1f5 0 131.2px,#1f3 0 133px,#1f4 0 134.8px,#2f2 0 136.5px,#1f4 0 140px,#3f1 0 141.8px,#0f9 0 143.5px,#2f3 0 145.2px,#2f2 0 147px,#1f4 0 148.8px,#2f3 0 150.5px,#1f3 0 152.2px,#2f2 0 154px,#1f5 0 155.8px,#1f4 0 157.5px,#0f7 0 159.2px,#0f9 0 161px,#0fa 0 162.8px,#0fb 0 164.5px,#0f8 0 166.2px,#0ed 0 168px,#0cf 0 169.8px,#05f 0 171.5px,#0de 0 180.2px,#0ec 0 182px,#1f4 0 183.8px,#1f5 0 185.5px,#2f3 0 187.2px,#0ed 0 189px,#3f1 0 192.5px,#1f4 0 194.2px,#2f2 0 196px,#1f4 0 197.8px,#4f1 0 199.5px,#1f5 0 201.2px,#1f6 0 203px,#2f1 0 204.8px,#2f2 0 206.5px,#2f1 0 208.2px,#2f2 0 210px,#0fb 0 211.8px,#1f4 0 215.2px,#2f2 0 217px,#1f4 0 218.8px,#2f3 0 220.5px,#1f4 0 222.2px,#2f1 0 224px,#2f2 0 229.2px,#2f1 0 231px,#2f3 0 232.8px,#2f2 0 236.2px,#1f3 0 238px,#0fb 0 239.8px,#3f1 0 241.5px,#2f1 0 243.2px,#2f2 0 245px,#4f1 0 246.8px,#2f3 0 248.5px,#3f1 0 250.2px,#1f3 0 252px,#2f1 0 253.8px,#0fb 0 255.5px,#2f3 0 257.2px,#2f1 0 259px,#2f2 0 260.8px,#6f1 0 262.5px,#3f1 0 264.2px,#2f3 0 266px,#2f2 0 267.8px,#5f1 0 269.5px,#2f2 0 271.2px,#7f0 0 273px,#af0 0 274.8px,#8f0 0 276.5px,#cf0 0 278.2px,#9f0 0 280px,#bf0 0 281.8px,#af0 0 283.5px,#9f0 0 285.2px,#cf0 0 287px,#9f0 0 288.8px,#af0 0 290.5px,#bf0 0 292.2px,#9f0 0 294px,#af0 0 297.5px,#bf0 0 299.2px,#af0 0 301px,#cf0 0 302.8px,#df0 0 304.5px,#ef0 0 306.2px,#bf0 0 308px,#df0 0 309.8px,#bf0 0 311.5px,#df0 0 313.2px,#bf0 0 315px,#9f0 0 316.8px,#af0 0 318.5px,#cf0 0 320.2px,#df0 0 322px,#9f0 0 323.8px,#af0 0 325.5px,#9f0 0 327.2px,#bf0 0 330.8px,#9f0 0 332.5px,#bf0 0 334.2px,#cf0 0 336px,#8f0 0 337.8px,#cf0 0 339.5px,#bf0 0 343px,#9f0 0 344.8px,#bf0 0 346.5px,#9f0 0 348.2px,#af0 0 349.5px)"></i>
<i style="left:343px;top:548px;width:349.5px;height:7px;background:linear-gradient(90deg,#7f0 0 1.8px,#5f1 0 3.5px,#6f0 0 5.2px,#8f0 0 7px,#6f0 0 10.5px,#5f1 0 12.2px,#6f1 0 14px,#4f1 0 15.8px,#6f0 0 17.5px,#5f1 0 19.2px,#6f1 0 21px,#5f1 0 22.8px,#6f0 0 24.5px,#6f1 0 28px,#5f1 0 29.8px,#6f0 0 31.5px,#7f0 0 33.2px,#6f1 0 35px,#6f0 0 36.8px,#6f1 0 38.5px,#7f0 0 40.2px,#6f0 0 45.5px,#6f1 0 47.2px,#6f0 0 49px,#6f1 0 52.5px,#7f0 0 54.2px,#6f1 0 56px,#7f0 0 57.8px,#8f0 0 59.5px,#7f0 0 63px,#8f0 0 64.8px,#7f0 0 66.5px,#8f0 0 68.2px,#6f1 0 70px,#8f0 0 71.8px,#7f0 0 73.5px,#8f0 0 77px,#7f0 0 78.8px,#9f0 0 82.2px,#7f0 0 84px,#8f0 0 85.8px,#9f0 0 89.2px,#8f0 0 91px,#af0 0 92.8px,#8f0 0 94.5px,#9f0 0 96.2px,#8f0 0 98px,#af0 0 101.5px,#bf0 0 103.2px,#af0 0 105px,#9f0 0 106.8px,#af0 0 113.8px,#9f0 0 117.2px,#cf0 0 119px,#df0 0 122.5px,#ee0 0 124.2px,#ef0 0 126px,#df0 0 127.8px,#ef0 0 131.2px,#df0 0 134.8px,#ef0 0 140px,#ee0 0 141.8px,#ef0 0 143.5px,#df0 0 145.2px,#ef0 0 147px,#df0 0 148.8px,#ef0 0 150.5px,#df0 0 152.2px,#ef0 0 154px,#df0 0 155.8px,#ef0 0 161px,#df0 0 162.8px,#ef0 0 164.5px,#df0 0 166.2px,#0ed 0 168px,#09f 0 169.8px,#05f 0 171.5px,#09f 0 173.2px,#0cf 0 175px,#07f 0 178.5px,#0ec 0 180.2px,#bf0 0 182px,#8f0 0 183.8px,#9f0 0 185.5px,#8f0 0 187.2px,#9f0 0 189px,#8f0 0 190.8px,#9f0 0 192.5px,#8f0 0 194.2px,#9f0 0 196px,#7f0 0 197.8px,#9f0 0 199.5px,#8f0 0 201.2px,#6f1 0 203px,#9f0 0 206.5px,#8f0 0 210px,#9f0 0 211.8px,#8f0 0 215.2px,#9f0 0 217px,#8f0 0 222.2px,#9f0 0 224px,#8f0 0 227.5px,#9f0 0 229.2px,#8f0 0 231px,#9f0 0 236.2px,#8f0 0 238px,#7f0 0 239.8px,#9f0 0 243.2px,#8f0 0 245px,#af0 0 246.8px,#9f0 0 250.2px,#8f0 0 252px,#9f0 0 253.8px,#8f0 0 255.5px,#9f0 0 257.2px,#8f0 0 260.8px,#af0 0 262.5px,#9f0 0 264.2px,#8f0 0 267.8px,#9f0 0 271.2px,#af0 0 273px,#cf0 0 274.8px,#bf0 0 280px,#cf0 0 281.8px,#bf0 0 283.5px,#af0 0 285.2px,#cf0 0 287px,#af0 0 288.8px,#bf0 0 290.5px,#cf0 0 292.2px,#bf0 0 299.2px,#af0 0 301px,#cf0 0 308px,#bf0 0 311.5px,#df0 0 313.2px,#bf0 0 315px,#cf0 0 316.8px,#bf0 0 318.5px,#cf0 0 322px,#bf0 0 327.2px,#cf0 0 329px,#bf0 0 330.8px,#cf0 0 334.2px,#bf0 0 339.5px,#df0 0 341.2px,#cf0 0 343px,#bf0 0 344.8px,#cf0 0 346.5px,#bf0 0 349.5px)"></i>
<i style="left:343px;top:555px;width:349.5px;height:6px;background:linear-gradient(90deg,#bf0 0 1.8px,#9f0 0 3.5px,#af0 0 5.2px,#bf0 0 7px,#af0 0 8.8px,#9f0 0 10.5px,#af0 0 12.2px,#9f0 0 15.8px,#bf0 0 17.5px,#af0 0 21px,#8f0 0 22.8px,#9f0 0 26.2px,#af0 0 29.8px,#bf0 0 33.2px,#9f0 0 35px,#af0 0 36.8px,#9f0 0 38.5px,#af0 0 45.5px,#9f0 0 47.2px,#af0 0 49px,#9f0 0 52.5px,#af0 0 54.2px,#9f0 0 56px,#af0 0 57.8px,#bf0 0 61.2px,#af0 0 63px,#bf0 0 64.8px,#af0 0 66.5px,#bf0 0 68.2px,#af0 0 73.5px,#bf0 0 77px,#af0 0 78.8px,#bf0 0 82.2px,#af0 0 85.8px,#cf0 0 87.5px,#bf0 0 89.2px,#af0 0 91px,#cf0 0 92.8px,#bf0 0 96.2px,#af0 0 98px,#bf0 0 99.8px,#cf0 0 105px,#bf0 0 110.2px,#cf0 0 112px,#df0 0 115.5px,#ef0 0 117.2px,#ee0 0 119px,#ef0 0 120.8px,#ee0 0 122.5px,#fe0 0 126px,#ef0 0 127.8px,#ee0 0 131.2px,#ef0 0 133px,#ee0 0 136.5px,#fe0 0 138.2px,#ef0 0 140px,#fd0 0 141.8px,#ee0 0 145.2px,#fe0 0 147px,#ee0 0 150.5px,#ef0 0 152.2px,#ee0 0 154px,#ef0 0 155.8px,#ee0 0 157.5px,#ef0 0 159.2px,#ee0 0 161px,#ef0 0 162.8px,#fe0 0 164.5px,#ef0 0 166.2px,#0ec 0 168px,#0ed 0 169.8px,#0fb 0 171.5px,#0de 0 173.2px,#0fb 0 176.8px,#0af 0 178.5px,#0fa 0 180.2px,#fe0 0 182px,#ef0 0 187.2px,#fe0 0 189px,#ee0 0 190.8px,#fe0 0 192.5px,#ef0 0 197.8px,#fe0 0 199.5px,#ef0 0 201.2px,#df0 0 203px,#ee0 0 204.8px,#ef0 0 215.2px,#ee0 0 217px,#ef0 0 220.5px,#ee0 0 225.8px,#ef0 0 227.5px,#ee0 0 234.5px,#ef0 0 239.8px,#ee0 0 241.5px,#ef0 0 245px,#fe0 0 246.8px,#ee0 0 250.2px,#ef0 0 252px,#ee0 0 255.5px,#ef0 0 260.8px,#fd0 0 262.5px,#ef0 0 267.8px,#ee0 0 269.5px,#df0 0 271.2px,#ef0 0 273px,#fe0 0 274.8px,#ef0 0 278.2px,#ee0 0 280px,#fe0 0 281.8px,#ef0 0 285.2px,#fe0 0 287px,#ef0 0 290.5px,#ee0 0 292.2px,#ef0 0 294px,#ee0 0 295.8px,#ef0 0 297.5px,#ee0 0 299.2px,#ef0 0 304.5px,#ee0 0 306.2px,#ef0 0 311.5px,#fe0 0 313.2px,#ee0 0 315px,#fe0 0 316.8px,#ef0 0 318.5px,#ee0 0 320.2px,#fe0 0 322px,#ef0 0 325.5px,#ee0 0 329px,#fe0 0 330.8px,#ef0 0 332.5px,#ee0 0 334.2px,#fe0 0 336px,#ef0 0 339.5px,#fe0 0 341.2px,#ee0 0 343px,#fe0 0 346.5px,#ef0 0 348.2px,#ee0 0 349.5px)"></i>
<i style="left:343px;top:561px;width:349.5px;height:5px;background:linear-gradient(90deg,#df0 0 1.8px,#cf0 0 5.2px,#df0 0 7px,#cf0 0 8.8px,#bf0 0 14px,#cf0 0 15.8px,#df0 0 17.5px,#cf0 0 24.5px,#bf0 0 26.2px,#cf0 0 28px,#bf0 0 29.8px,#cf0 0 31.5px,#df0 0 33.2px,#bf0 0 35px,#cf0 0 38.5px,#df0 0 40.2px,#bf0 0 42px,#cf0 0 43.8px,#df0 0 45.5px,#bf0 0 49px,#cf0 0 50.8px,#bf0 0 52.5px,#cf0 0 57.8px,#ef0 0 59.5px,#df0 0 61.2px,#cf0 0 63px,#df0 0 64.8px,#cf0 0 66.5px,#df0 0 68.2px,#cf0 0 70px,#df0 0 71.8px,#cf0 0 73.5px,#df0 0 77px,#cf0 0 78.8px,#df0 0 80.5px,#cf0 0 84px,#df0 0 89.2px,#cf0 0 91px,#df0 0 96.2px,#cf0 0 98px,#df0 0 110.2px,#ef0 0 117.2px,#fe0 0 122.5px,#fd0 0 124.2px,#fe0 0 134.8px,#fd0 0 136.5px,#fe0 0 138.2px,#ee0 0 140px,#fd0 0 141.8px,#fe0 0 148.8px,#fd0 0 150.5px,#fe0 0 152.2px,#fd0 0 154px,#fe0 0 159.2px,#fd0 0 161px,#ee0 0 162.8px,#fe0 0 168px,#0ed 0 169.8px,#0af 0 171.5px,#0fb 0 173.2px,#0ed 0 175px,#0de 0 176.8px,#0ed 0 178.5px,#fe0 0 182px,#ee0 0 183.8px,#fe0 0 187.2px,#fd0 0 189px,#fe0 0 190.8px,#fd0 0 192.5px,#fe0 0 194.2px,#fd0 0 196px,#fe0 0 197.8px,#fd0 0 201.2px,#fe0 0 203px,#fc0 0 206.5px,#fd0 0 210px,#fc0 0 211.8px,#fd0 0 215.2px,#fc0 0 217px,#fd0 0 227.5px,#fc0 0 229.2px,#fd0 0 245px,#fc0 0 246.8px,#fd0 0 248.5px,#fc0 0 250.2px,#fd0 0 253.8px,#fc0 0 255.5px,#fd0 0 260.8px,#fc0 0 262.5px,#fd0 0 267.8px,#fc0 0 269.5px,#fd0 0 274.8px,#fc0 0 276.5px,#fd0 0 280px,#fc0 0 281.8px,#fd0 0 311.5px,#fc0 0 316.8px,#fd0 0 320.2px,#fc0 0 322px,#fd0 0 327.2px,#fc0 0 329px,#fd0 0 332.5px,#fc0 0 334.2px,#fd0 0 339.5px,#fc0 0 341.2px,#fd0 0 344.8px,#fc0 0 346.5px,#fd0 0 348.2px,#fc0 0 349.5px)"></i>
<i style="left:343px;top:566px;width:349.5px;height:4px;background:linear-gradient(90deg,#fe0 0 1.8px,#ee0 0 5.2px,#fe0 0 7px,#ee0 0 10.5px,#ef0 0 15.8px,#ee0 0 17.5px,#ef0 0 31.5px,#ee0 0 33.2px,#ef0 0 35px,#ee0 0 40.2px,#ef0 0 43.8px,#ee0 0 45.5px,#ef0 0 50.8px,#df0 0 52.5px,#ef0 0 54.2px,#df0 0 56px,#ef0 0 57.8px,#fe0 0 61.2px,#ef0 0 63px,#fe0 0 64.8px,#ef0 0 66.5px,#ee0 0 68.2px,#df0 0 70px,#ee0 0 71.8px,#ef0 0 73.5px,#ee0 0 75.2px,#fe0 0 77px,#ef0 0 78.8px,#ee0 0 80.5px,#fe0 0 82.2px,#ef0 0 84px,#ee0 0 85.8px,#fe0 0 89.2px,#df0 0 91px,#ee0 0 94.5px,#ef0 0 98px,#fe0 0 103.2px,#ee0 0 105px,#ef0 0 108.5px,#fe0 0 119px,#fd0 0 127.8px,#fe0 0 129.5px,#fd0 0 138.2px,#fe0 0 140px,#fc0 0 141.8px,#fd0 0 154px,#fe0 0 155.8px,#fd0 0 157.5px,#fe0 0 162.8px,#fd0 0 164.5px,#fe0 0 166.2px,#fd0 0 168px,#0de 0 169.8px,#0ed 0 175px,#0de 0 176.8px,#0ed 0 178.5px,#fd0 0 190.8px,#fc0 0 197.8px,#fa0 0 199.5px,#fb0 0 203px,#f90 0 208.2px,#f80 0 211.8px,#f90 0 227.5px,#f80 0 229.2px,#f90 0 231px,#f80 0 232.8px,#f90 0 239.8px,#f80 0 241.5px,#f90 0 245px,#f70 0 246.8px,#f80 0 250.2px,#f90 0 255.5px,#f80 0 257.2px,#fa0 0 259px,#f90 0 260.8px,#f70 0 262.5px,#f90 0 264.2px,#fa0 0 266px,#f90 0 269.5px,#fa0 0 271.2px,#f90 0 273px,#f80 0 276.5px,#f90 0 287px,#fa0 0 288.8px,#f90 0 297.5px,#f80 0 299.2px,#f90 0 304.5px,#f80 0 306.2px,#f90 0 308px,#f80 0 309.8px,#fa0 0 311.5px,#f70 0 313.2px,#f90 0 315px,#f80 0 316.8px,#f90 0 320.2px,#f70 0 322px,#f90 0 323.8px,#f80 0 327.2px,#f90 0 329px,#f80 0 332.5px,#f90 0 334.2px,#f80 0 336px,#fa0 0 337.8px,#f80 0 343px,#f90 0 344.8px,#f80 0 346.5px,#f90 0 348.2px,#f80 0 349.5px)"></i>
<i style="left:343px;top:570px;width:349.5px;height:2px;background:linear-gradient(90deg,#fd0 0 5.2px,#fc0 0 7px,#fd0 0 8.8px,#fe0 0 12.2px,#fd0 0 14px,#fe0 0 15.8px,#fd0 0 17.5px,#fe0 0 22.8px,#fd0 0 26.2px,#fe0 0 29.8px,#fd0 0 35px,#fe0 0 38.5px,#fd0 0 42px,#fe0 0 43.8px,#fd0 0 45.5px,#fe0 0 49px,#fd0 0 50.8px,#fe0 0 52.5px,#fd0 0 54.2px,#fe0 0 56px,#fd0 0 68.2px,#fe0 0 70px,#fd0 0 71.8px,#fe0 0 73.5px,#fd0 0 77px,#fe0 0 78.8px,#fd0 0 82.2px,#fe0 0 84px,#fd0 0 89.2px,#fe0 0 91px,#fd0 0 96.2px,#fe0 0 98px,#fd0 0 99.8px,#fc0 0 103.2px,#fd0 0 106.8px,#fe0 0 108.5px,#fd0 0 110.2px,#fc0 0 120.8px,#fb0 0 124.2px,#fc0 0 134.8px,#fb0 0 136.5px,#fc0 0 140px,#fb0 0 141.8px,#fc0 0 143.5px,#fb0 0 147px,#fc0 0 148.8px,#fb0 0 150.5px,#fc0 0 159.2px,#fb0 0 161px,#fc0 0 168px,#0ed 0 169.8px,#0fb 0 171.5px,#0ed 0 173.2px,#0fb 0 175px,#0af 0 176.8px,#0dd 0 178.5px,#fc0 0 180.2px,#fb0 0 182px,#fc0 0 183.8px,#fb0 0 185.5px,#fc0 0 187.2px,#fb0 0 190.8px,#fa0 0 192.5px,#fb0 0 194.2px,#fa0 0 197.8px,#f80 0 201.2px,#f90 0 203px,#f70 0 210px,#f60 0 211.8px,#f70 0 215.2px,#f60 0 217px,#f70 0 222.2px,#f60 0 224px,#f70 0 227.5px,#f60 0 229.2px,#f70 0 236.2px,#f60 0 238px,#f80 0 239.8px,#f60 0 246.8px,#f70 0 248.5px,#f60 0 250.2px,#f70 0 253.8px,#f60 0 255.5px,#f70 0 257.2px,#f80 0 259px,#f70 0 260.8px,#f60 0 262.5px,#f70 0 266px,#f80 0 267.8px,#f70 0 269.5px,#f80 0 271.2px,#f70 0 273px,#f60 0 274.8px,#f70 0 276.5px,#f60 0 280px,#f70 0 285.2px,#f60 0 287px,#f70 0 288.8px,#f80 0 290.5px,#f70 0 295.8px,#f80 0 297.5px,#f60 0 299.2px,#f70 0 309.8px,#f80 0 311.5px,#f60 0 313.2px,#f70 0 320.2px,#f60 0 322px,#f70 0 329px,#f60 0 330.8px,#f70 0 339.5px,#f60 0 341.2px,#f70 0 344.8px,#f60 0 346.5px,#f70 0 349.5px)"></i>
<i style="left:390px;top:573px;width:302.5px;height:2px;background:linear-gradient(90deg,#0f7 0 2px,#0f8 0 8px,#0f9 0 10px,#0f8 0 16px,#0f7 0 18px,#0f9 0 22px,#0f8 0 26px,#0f7 0 28px,#0f8 0 32px,#0f7 0 40px,#0f8 0 44px,#0f9 0 46px,#0f7 0 48px,#0f8 0 56px,#0f7 0 58px,#0f8 0 60px,#0f9 0 64px,#0f8 0 70px,#0f9 0 72px,#0f8 0 74px,#0f7 0 76px,#1f6 0 78px,#1f4 0 80px,#1f5 0 90px,#1f4 0 92px,#1f6 0 94px,#1f5 0 96px,#1f4 0 98px,#1f5 0 108px,#0f7 0 110px,#1f5 0 114px,#0f7 0 116px,#1f4 0 118px,#1f5 0 120px,#20e 0 122px,#303 0 126px,#405 0 128px,#203 0 130px,#304 0 132px,#10e 0 134px,#4f1 0 136px,#2f2 0 138px,#3f1 0 142px,#4f1 0 144px,#2f2 0 146px,#5f1 0 148px,#4f1 0 154px,#3f1 0 158px,#4f1 0 162px,#3f1 0 164px,#4f1 0 170px,#2f1 0 172px,#4f1 0 174px,#3f1 0 176px,#4f1 0 182px,#3f1 0 188px,#2f1 0 190px,#3f1 0 194px,#4f1 0 196px,#2f2 0 198px,#4f1 0 202px,#3f1 0 206px,#4f1 0 212px,#3f1 0 218px,#4f1 0 220px,#5f1 0 222px,#3f1 0 224px,#5f1 0 226px,#4f1 0 230px,#3f1 0 232px,#5f1 0 238px,#6f1 0 244px,#5f1 0 248px,#6f0 0 252px,#6f1 0 254px,#5f1 0 256px,#6f1 0 260px,#5f1 0 262px,#6f1 0 264px,#5f1 0 268px,#7f0 0 270px,#5f1 0 274px,#6f1 0 276px,#7f0 0 280px,#4f1 0 282px,#6f1 0 286px,#5f1 0 296px,#4f1 0 298px,#7f0 0 300px,#5f1 0 302.5px)"></i>
<i style="left:390px;top:575px;width:302.5px;height:2px;background:linear-gradient(90deg,#1f5 0 2px,#1f4 0 4px,#1f5 0 6px,#1f4 0 8px,#1f5 0 12px,#1f4 0 14px,#1f5 0 16px,#1f4 0 18px,#1f5 0 22px,#1f4 0 24px,#2f3 0 26px,#1f4 0 32px,#1f5 0 34px,#1f4 0 36px,#0f6 0 38px,#1f5 0 40px,#1f4 0 46px,#2f3 0 48px,#1f4 0 54px,#2f3 0 56px,#1f5 0 58px,#1f4 0 60px,#1f3 0 62px,#1f4 0 68px,#2f1 0 70px,#1f5 0 72px,#2f3 0 74px,#1f4 0 76px,#2f2 0 78px,#2f3 0 80px,#2f1 0 82px,#2f2 0 86px,#2f1 0 90px,#2f2 0 92px,#2f3 0 94px,#2f2 0 100px,#3f1 0 102px,#2f2 0 104px,#2f1 0 106px,#3f1 0 108px,#2f2 0 110px,#2f1 0 112px,#3f1 0 114px,#2f2 0 116px,#3f1 0 120px,#11e 0 122px,#203 0 124px,#304 0 130px,#203 0 132px,#11f 0 134px,#7f0 0 136px,#9f0 0 138px,#8f0 0 140px,#6f0 0 142px,#8f0 0 144px,#7f0 0 146px,#8f0 0 150px,#7f0 0 152px,#8f0 0 158px,#9f0 0 160px,#8f0 0 162px,#7f0 0 164px,#9f0 0 166px,#8f0 0 168px,#9f0 0 170px,#7f0 0 172px,#9f0 0 178px,#8f0 0 180px,#9f0 0 182px,#8f0 0 188px,#9f0 0 190px,#7f0 0 192px,#9f0 0 198px,#8f0 0 202px,#9f0 0 204px,#8f0 0 208px,#9f0 0 210px,#8f0 0 214px,#9f0 0 216px,#7f0 0 218px,#8f0 0 222px,#9f0 0 228px,#8f0 0 230px,#9f0 0 234px,#bf0 0 236px,#af0 0 240px,#bf0 0 242px,#af0 0 248px,#bf0 0 250px,#af0 0 252px,#9f0 0 254px,#bf0 0 256px,#af0 0 258px,#bf0 0 260px,#af0 0 262px,#cf0 0 264px,#af0 0 268px,#9f0 0 270px,#af0 0 272px,#bf0 0 274px,#af0 0 276px,#bf0 0 278px,#af0 0 282px,#9f0 0 284px,#8f0 0 286px,#9f0 0 288px,#af0 0 290px,#bf0 0 292px,#af0 0 294px,#bf0 0 296px,#af0 0 298px,#bf0 0 300px,#af0 0 302px,#bf0 0 302.5px)"></i>
<i style="left:390px;top:577px;width:302.5px;height:2px;background:linear-gradient(90deg,#2f2 0 2px,#4f1 0 4px,#3f1 0 10px,#4f1 0 12px,#2f2 0 14px,#5f1 0 16px,#3f1 0 20px,#2f1 0 22px,#3f1 0 26px,#2f1 0 30px,#3f1 0 32px,#5f1 0 34px,#4f1 0 36px,#5f1 0 38px,#3f1 0 40px,#4f1 0 42px,#3f1 0 46px,#4f1 0 48px,#2f1 0 50px,#3f1 0 52px,#4f1 0 54px,#3f1 0 58px,#4f1 0 60px,#3f1 0 62px,#4f1 0 64px,#3f1 0 66px,#4f1 0 68px,#3f1 0 70px,#2f1 0 72px,#4f1 0 74px,#3f1 0 76px,#4f1 0 78px,#6f1 0 80px,#5f1 0 84px,#7f0 0 86px,#6f1 0 88px,#7f0 0 90px,#5f1 0 92px,#6f0 0 94px,#7f0 0 96px,#5f1 0 98px,#6f0 0 100px,#6f1 0 102px,#5f1 0 104px,#6f1 0 106px,#6f0 0 108px,#6f1 0 110px,#7f0 0 112px,#5f1 0 114px,#6f0 0 116px,#5f1 0 118px,#6f1 0 120px,#02f 0 122px,#304 0 132px,#01f 0 134px,#9f0 0 138px,#8f0 0 140px,#af0 0 142px,#9f0 0 146px,#af0 0 154px,#9f0 0 156px,#af0 0 162px,#9f0 0 166px,#af0 0 168px,#9f0 0 170px,#bf0 0 172px,#af0 0 174px,#bf0 0 176px,#af0 0 182px,#9f0 0 188px,#af0 0 194px,#9f0 0 196px,#af0 0 198px,#9f0 0 200px,#af0 0 202px,#8f0 0 204px,#af0 0 206px,#9f0 0 208px,#af0 0 212px,#9f0 0 216px,#bf0 0 218px,#9f0 0 220px,#af0 0 222px,#bf0 0 224px,#af0 0 226px,#bf0 0 228px,#af0 0 230px,#bf0 0 234px,#af0 0 236px,#bf0 0 238px,#cf0 0 242px,#bf0 0 244px,#df0 0 246px,#cf0 0 248px,#bf0 0 250px,#cf0 0 252px,#bf0 0 256px,#cf0 0 262px,#bf0 0 264px,#cf0 0 266px,#bf0 0 268px,#cf0 0 270px,#bf0 0 276px,#af0 0 278px,#bf0 0 280px,#cf0 0 284px,#bf0 0 286px,#cf0 0 288px,#bf0 0 294px,#df0 0 296px,#cf0 0 300px,#bf0 0 302px,#cf0 0 302.5px)"></i>
<i style="left:390px;top:579px;width:302.5px;height:2px;background:linear-gradient(90deg,#6f1 0 2px,#8f0 0 4px,#6f0 0 6px,#6f1 0 8px,#7f0 0 10px,#6f1 0 12px,#7f0 0 14px,#5f1 0 16px,#7f0 0 18px,#5f1 0 20px,#7f0 0 24px,#4f1 0 26px,#5f1 0 28px,#7f0 0 30px,#5f1 0 32px,#6f1 0 34px,#7f0 0 36px,#5f1 0 38px,#6f0 0 40px,#6f1 0 44px,#6f0 0 46px,#8f0 0 48px,#6f0 0 50px,#5f1 0 52px,#6f1 0 54px,#7f0 0 60px,#6f0 0 62px,#5f1 0 64px,#6f0 0 66px,#6f1 0 68px,#7f0 0 70px,#6f0 0 72px,#5f1 0 76px,#af0 0 80px,#9f0 0 82px,#8f0 0 84px,#9f0 0 86px,#8f0 0 88px,#9f0 0 94px,#7f0 0 96px,#8f0 0 98px,#9f0 0 100px,#8f0 0 104px,#9f0 0 106px,#8f0 0 112px,#af0 0 114px,#8f0 0 116px,#9f0 0 120px,#02f 0 122px,#304 0 126px,#303 0 128px,#304 0 132px,#01f 0 134px,#bf0 0 136px,#9f0 0 138px,#8f0 0 140px,#af0 0 146px,#9f0 0 148px,#8f0 0 150px,#af0 0 154px,#9f0 0 158px,#8f0 0 160px,#9f0 0 162px,#bf0 0 164px,#9f0 0 166px,#bf0 0 168px,#af0 0 170px,#bf0 0 174px,#9f0 0 176px,#af0 0 178px,#9f0 0 180px,#af0 0 184px,#9f0 0 186px,#af0 0 190px,#9f0 0 192px,#bf0 0 194px,#9f0 0 202px,#af0 0 206px,#9f0 0 208px,#af0 0 210px,#9f0 0 212px,#af0 0 214px,#9f0 0 216px,#af0 0 224px,#bf0 0 226px,#af0 0 238px,#bf0 0 240px,#af0 0 244px,#bf0 0 246px,#af0 0 248px,#bf0 0 256px,#af0 0 258px,#cf0 0 260px,#af0 0 264px,#bf0 0 268px,#af0 0 270px,#bf0 0 272px,#af0 0 274px,#bf0 0 276px,#af0 0 278px,#bf0 0 282px,#af0 0 284px,#cf0 0 286px,#bf0 0 288px,#af0 0 290px,#9f0 0 292px,#bf0 0 296px,#af0 0 298px,#cf0 0 300px,#af0 0 302px,#bf0 0 302.5px)"></i>
<i style="left:390px;top:581px;width:302.5px;height:2px;background:linear-gradient(90deg,#6f0 0 2px,#8f0 0 4px,#7f0 0 8px,#8f0 0 10px,#6f0 0 12px,#8f0 0 14px,#7f0 0 22px,#8f0 0 24px,#9f0 0 26px,#7f0 0 32px,#8f0 0 34px,#7f0 0 38px,#6f0 0 40px,#8f0 0 42px,#7f0 0 46px,#6f0 0 50px,#7f0 0 52px,#8f0 0 54px,#5f1 0 56px,#8f0 0 58px,#7f0 0 66px,#8f0 0 68px,#7f0 0 70px,#8f0 0 72px,#6f0 0 74px,#7f0 0 76px,#9f0 0 80px,#bf0 0 82px,#9f0 0 84px,#af0 0 86px,#8f0 0 88px,#9f0 0 90px,#af0 0 92px,#9f0 0 110px,#af0 0 116px,#9f0 0 120px,#02f 0 122px,#304 0 124px,#305 0 126px,#304 0 130px,#406 0 132px,#02f 0 134px,#9f0 0 136px,#af0 0 138px,#bf0 0 140px,#9f0 0 142px,#af0 0 148px,#9f0 0 154px,#bf0 0 156px,#9f0 0 160px,#af0 0 162px,#9f0 0 164px,#af0 0 166px,#9f0 0 168px,#af0 0 172px,#cf0 0 174px,#af0 0 178px,#9f0 0 180px,#af0 0 186px,#8f0 0 188px,#9f0 0 190px,#af0 0 192px,#9f0 0 196px,#8f0 0 198px,#af0 0 200px,#9f0 0 202px,#af0 0 206px,#9f0 0 208px,#af0 0 210px,#bf0 0 212px,#af0 0 224px,#9f0 0 226px,#bf0 0 228px,#af0 0 230px,#8f0 0 232px,#9f0 0 238px,#af0 0 242px,#9f0 0 248px,#af0 0 252px,#9f0 0 256px,#af0 0 258px,#bf0 0 260px,#9f0 0 262px,#af0 0 266px,#9f0 0 268px,#af0 0 270px,#9f0 0 272px,#af0 0 276px,#9f0 0 278px,#af0 0 280px,#bf0 0 282px,#9f0 0 288px,#af0 0 292px,#bf0 0 294px,#9f0 0 302px,#af0 0 302.5px)"></i>
<i style="left:390px;top:583px;width:302.5px;height:2px;background:linear-gradient(90deg,#6f1 0 2px,#7f0 0 4px,#8f0 0 6px,#6f0 0 10px,#9f0 0 12px,#8f0 0 14px,#6f1 0 16px,#7f0 0 18px,#8f0 0 20px,#7f0 0 28px,#6f1 0 30px,#7f0 0 32px,#8f0 0 34px,#7f0 0 36px,#8f0 0 38px,#7f0 0 40px,#8f0 0 48px,#6f0 0 50px,#7f0 0 56px,#6f0 0 58px,#7f0 0 62px,#6f0 0 64px,#8f0 0 66px,#7f0 0 68px,#9f0 0 70px,#6f0 0 72px,#7f0 0 74px,#8f0 0 76px,#af0 0 78px,#9f0 0 80px,#af0 0 82px,#bf0 0 84px,#af0 0 86px,#bf0 0 92px,#9f0 0 94px,#af0 0 98px,#9f0 0 100px,#af0 0 102px,#bf0 0 108px,#af0 0 112px,#bf0 0 116px,#af0 0 120px,#05f 0 122px,#509 0 124px,#508 0 128px,#50a 0 130px,#509 0 132px,#05f 0 134px,#9f0 0 138px,#af0 0 140px,#9f0 0 142px,#bf0 0 144px,#af0 0 146px,#bf0 0 148px,#af0 0 150px,#8f0 0 152px,#af0 0 154px,#9f0 0 156px,#af0 0 158px,#9f0 0 162px,#bf0 0 164px,#8f0 0 166px,#9f0 0 168px,#8f0 0 170px,#af0 0 174px,#9f0 0 182px,#af0 0 186px,#9f0 0 188px,#af0 0 190px,#bf0 0 192px,#af0 0 196px,#9f0 0 198px,#bf0 0 200px,#9f0 0 202px,#af0 0 210px,#8f0 0 212px,#af0 0 216px,#bf0 0 218px,#af0 0 222px,#8f0 0 224px,#9f0 0 226px,#af0 0 228px,#9f0 0 230px,#af0 0 238px,#9f0 0 240px,#8f0 0 242px,#af0 0 248px,#9f0 0 250px,#af0 0 252px,#9f0 0 256px,#af0 0 260px,#8f0 0 264px,#af0 0 268px,#9f0 0 270px,#bf0 0 272px,#9f0 0 276px,#af0 0 278px,#9f0 0 284px,#af0 0 290px,#9f0 0 292px,#af0 0 298px,#9f0 0 300px,#af0 0 302px,#9f0 0 302.5px)"></i>
<i style="left:390px;top:585px;width:302.5px;height:2px;background:linear-gradient(90deg,#4f1 0 2px,#6f0 0 4px,#7f0 0 8px,#6f0 0 12px,#7f0 0 14px,#5f1 0 18px,#6f0 0 24px,#6f1 0 26px,#7f0 0 28px,#5f1 0 30px,#7f0 0 34px,#6f0 0 36px,#5f1 0 38px,#6f1 0 42px,#6f0 0 44px,#6f1 0 46px,#7f0 0 48px,#5f1 0 50px,#6f0 0 52px,#7f0 0 60px,#6f0 0 62px,#6f1 0 66px,#7f0 0 68px,#8f0 0 72px,#7f0 0 76px,#af0 0 82px,#9f0 0 90px,#af0 0 92px,#9f0 0 94px,#af0 0 96px,#8f0 0 98px,#af0 0 106px,#9f0 0 108px,#af0 0 112px,#bf0 0 116px,#af0 0 118px,#9f0 0 120px,#0af 0 122px,#20d 0 124px,#20e 0 128px,#20d 0 130px,#20e 0 132px,#09f 0 134px,#9f0 0 140px,#af0 0 142px,#bf0 0 144px,#9f0 0 146px,#8f0 0 148px,#af0 0 152px,#9f0 0 154px,#af0 0 160px,#9f0 0 162px,#af0 0 170px,#9f0 0 174px,#af0 0 176px,#9f0 0 180px,#af0 0 184px,#9f0 0 192px,#af0 0 194px,#9f0 0 198px,#af0 0 200px,#9f0 0 204px,#af0 0 206px,#9f0 0 214px,#bf0 0 216px,#8f0 0 218px,#af0 0 220px,#9f0 0 222px,#af0 0 224px,#9f0 0 232px,#af0 0 234px,#9f0 0 238px,#bf0 0 240px,#8f0 0 242px,#af0 0 246px,#9f0 0 254px,#af0 0 256px,#9f0 0 258px,#af0 0 260px,#bf0 0 264px,#9f0 0 266px,#af0 0 268px,#bf0 0 270px,#af0 0 274px,#9f0 0 280px,#af0 0 284px,#8f0 0 286px,#9f0 0 288px,#af0 0 302px,#9f0 0 302.5px)"></i>
<i style="left:390px;top:587px;width:302.5px;height:2px;background:linear-gradient(90deg,#3f1 0 4px,#2f2 0 6px,#2f3 0 8px,#2f1 0 10px,#2f2 0 12px,#3f1 0 16px,#2f1 0 18px,#3f1 0 20px,#2f1 0 22px,#3f1 0 26px,#2f2 0 28px,#3f1 0 30px,#2f1 0 32px,#3f1 0 38px,#2f1 0 40px,#2f2 0 42px,#2f1 0 44px,#2f2 0 50px,#2f1 0 52px,#2f2 0 54px,#3f1 0 58px,#2f2 0 60px,#3f1 0 62px,#2f2 0 64px,#5f1 0 66px,#7f0 0 68px,#5f1 0 70px,#6f0 0 72px,#7f0 0 74px,#6f0 0 76px,#af0 0 78px,#9f0 0 84px,#8f0 0 86px,#9f0 0 90px,#8f0 0 94px,#9f0 0 96px,#8f0 0 98px,#af0 0 100px,#9f0 0 104px,#af0 0 106px,#9f0 0 112px,#af0 0 114px,#8f0 0 116px,#9f0 0 118px,#af0 0 120px,#0af 0 122px,#11f 0 130px,#11e 0 132px,#0af 0 134px,#7f0 0 136px,#5f1 0 138px,#6f1 0 142px,#7f0 0 146px,#9f0 0 148px,#8f0 0 150px,#9f0 0 152px,#8f0 0 154px,#7f0 0 156px,#5f1 0 158px,#7f0 0 160px,#6f0 0 162px,#6f1 0 164px,#7f0 0 166px,#6f1 0 168px,#7f0 0 170px,#5f1 0 174px,#7f0 0 176px,#6f1 0 178px,#7f0 0 182px,#5f1 0 186px,#6f1 0 188px,#7f0 0 192px,#6f0 0 194px,#5f1 0 196px,#6f1 0 198px,#5f1 0 200px,#4f1 0 202px,#5f1 0 204px,#6f0 0 206px,#8f0 0 208px,#5f1 0 210px,#7f0 0 212px,#5f1 0 214px,#6f0 0 216px,#6f1 0 222px,#5f1 0 224px,#6f1 0 228px,#7f0 0 232px,#6f1 0 234px,#6f0 0 236px,#6f1 0 238px,#6f0 0 242px,#7f0 0 244px,#6f1 0 248px,#5f1 0 250px,#6f1 0 252px,#6f0 0 256px,#8f0 0 258px,#7f0 0 262px,#6f1 0 264px,#5f1 0 266px,#8f0 0 268px,#5f1 0 270px,#7f0 0 272px,#6f1 0 274px,#7f0 0 276px,#6f0 0 280px,#6f1 0 284px,#7f0 0 286px,#6f0 0 288px,#7f0 0 292px,#6f1 0 294px,#7f0 0 296px,#6f1 0 298px,#7f0 0 300px,#6f1 0 302px,#6f0 0 302.5px)"></i>
<i style="left:390px;top:589px;width:302.5px;height:2px;background:linear-gradient(90deg,#1f4 0 2px,#0f7 0 4px,#1f3 0 6px,#1f5 0 8px,#1f4 0 10px,#0f6 0 16px,#2f3 0 18px,#1f5 0 24px,#1f6 0 26px,#1f5 0 28px,#0f6 0 30px,#1f5 0 34px,#0f6 0 36px,#0f7 0 40px,#1f5 0 42px,#1f6 0 44px,#1f5 0 46px,#0f6 0 50px,#1f5 0 54px,#1f4 0 56px,#1f5 0 58px,#0f6 0 60px,#1f5 0 64px,#1f3 0 66px,#1f4 0 68px,#3f1 0 70px,#2f1 0 74px,#3f1 0 76px,#2f2 0 80px,#4f1 0 82px,#5f1 0 86px,#6f0 0 88px,#6f1 0 90px,#6f0 0 94px,#6f1 0 96px,#4f1 0 100px,#3f1 0 104px,#2f1 0 106px,#3f1 0 110px,#2f2 0 120px,#08f 0 122px,#11f 0 128px,#11e 0 130px,#01f 0 132px,#08f 0 134px,#2f3 0 138px,#1f4 0 140px,#2f2 0 144px,#3f1 0 146px,#4f1 0 152px,#2f1 0 156px,#2f2 0 158px,#2f3 0 160px,#2f2 0 162px,#2f3 0 170px,#2f1 0 172px,#2f3 0 174px,#1f3 0 176px,#2f2 0 178px,#2f3 0 180px,#1f3 0 182px,#2f2 0 186px,#2f1 0 188px,#2f3 0 190px,#1f3 0 192px,#2f2 0 196px,#1f3 0 198px,#2f1 0 200px,#2f2 0 202px,#1f3 0 204px,#2f2 0 206px,#2f3 0 208px,#1f4 0 212px,#2f3 0 214px,#1f4 0 216px,#2f2 0 218px,#2f3 0 220px,#2f2 0 222px,#1f3 0 224px,#2f3 0 226px,#1f4 0 228px,#2f2 0 232px,#2f1 0 234px,#2f2 0 238px,#2f3 0 246px,#2f2 0 250px,#2f3 0 252px,#1f4 0 254px,#2f2 0 260px,#2f3 0 262px,#2f2 0 264px,#1f4 0 266px,#2f3 0 268px,#1f3 0 270px,#1f4 0 272px,#2f3 0 274px,#1f3 0 276px,#2f2 0 280px,#2f3 0 284px,#2f2 0 288px,#1f3 0 290px,#2f3 0 292px,#2f1 0 294px,#2f3 0 296px,#1f3 0 298px,#2f2 0 300px,#2f3 0 302px,#2f1 0 302.5px)"></i>
<i style="left:390px;top:591px;width:302.5px;height:2px;background:linear-gradient(90deg,#0fb 0 2px,#0f9 0 4px,#0fa 0 12px,#0fb 0 14px,#0f9 0 18px,#0fb 0 20px,#0f9 0 26px,#0fa 0 30px,#0f9 0 32px,#0f8 0 34px,#0fa 0 38px,#0f9 0 40px,#0fa 0 44px,#0f9 0 46px,#0fa 0 48px,#0fb 0 52px,#0fa 0 54px,#0f9 0 56px,#0fa 0 62px,#0fb 0 64px,#0f9 0 66px,#0f8 0 68px,#0f6 0 70px,#1f4 0 74px,#1f6 0 76px,#1f4 0 78px,#1f5 0 80px,#0f7 0 82px,#1f4 0 84px,#2f3 0 86px,#4f1 0 88px,#3f1 0 90px,#2f3 0 92px,#2f2 0 96px,#1f4 0 98px,#1f5 0 100px,#0f6 0 104px,#1f5 0 108px,#1f6 0 110px,#1f5 0 114px,#1f6 0 116px,#0f6 0 118px,#1f5 0 120px,#08f 0 122px,#11e 0 124px,#11f 0 126px,#01f 0 128px,#11f 0 132px,#08f 0 134px,#0f6 0 136px,#0f8 0 138px,#1f6 0 140px,#0f7 0 142px,#0f6 0 144px,#1f3 0 146px,#2f2 0 148px,#2f1 0 150px,#2f3 0 152px,#2f2 0 154px,#2f3 0 156px,#1f5 0 158px,#0f6 0 164px,#0f8 0 166px,#0f7 0 168px,#0f6 0 170px,#0f7 0 174px,#0f8 0 176px,#0f7 0 182px,#0f6 0 186px,#0f7 0 188px,#0f9 0 190px,#0f7 0 194px,#0f8 0 196px,#1f6 0 198px,#0f7 0 200px,#0f6 0 202px,#0f7 0 204px,#1f6 0 206px,#0f7 0 208px,#0f8 0 210px,#0f7 0 212px,#0f8 0 214px,#0f7 0 220px,#0f6 0 222px,#1f6 0 224px,#0f6 0 226px,#0f7 0 230px,#0f8 0 234px,#0f7 0 238px,#1f6 0 240px,#0f7 0 242px,#0f8 0 244px,#0f7 0 248px,#1f6 0 250px,#0f7 0 252px,#0f8 0 254px,#1f6 0 256px,#0f7 0 258px,#0f6 0 260px,#0f7 0 262px,#0f8 0 264px,#0f6 0 266px,#0f7 0 268px,#0f8 0 270px,#0f7 0 272px,#1f5 0 274px,#0f8 0 276px,#1f5 0 278px,#0f7 0 284px,#0f6 0 286px,#0f7 0 288px,#0f8 0 290px,#0f7 0 292px,#0f9 0 294px,#0f6 0 296px,#0f8 0 298px,#0f7 0 300px,#0f8 0 302px,#0f7 0 302.5px)"></i>
<i style="left:390px;top:593px;width:302.5px;height:2px;background:linear-gradient(90deg,#0ed 0 2px,#0de 0 4px,#0ed 0 10px,#0de 0 12px,#0ed 0 36px,#0de 0 48px,#0ed 0 52px,#0de 0 56px,#0ed 0 58px,#0de 0 60px,#0ed 0 66px,#0ec 0 68px,#0fa 0 74px,#0fb 0 76px,#0f9 0 78px,#0fa 0 80px,#0f8 0 84px,#0f6 0 86px,#1f4 0 88px,#2f3 0 90px,#1f4 0 92px,#0f7 0 98px,#0f9 0 100px,#0f8 0 102px,#0fa 0 104px,#0f9 0 106px,#0fb 0 108px,#0fa 0 110px,#0fb 0 112px,#0f9 0 116px,#0fa 0 120px,#06f 0 122px,#11f 0 128px,#11e 0 130px,#01f 0 132px,#06f 0 134px,#0fb 0 136px,#0ed 0 138px,#0fc 0 140px,#0ed 0 142px,#0fb 0 144px,#0f9 0 146px,#1f4 0 148px,#2f3 0 150px,#1f4 0 152px,#0f7 0 154px,#0f9 0 156px,#0fa 0 158px,#0ec 0 160px,#0fc 0 164px,#0ed 0 168px,#0fc 0 170px,#0ec 0 174px,#0ed 0 176px,#0fc 0 178px,#0ed 0 180px,#0ec 0 182px,#0ed 0 184px,#0ec 0 186px,#0fb 0 188px,#0ec 0 190px,#0ed 0 192px,#0ec 0 194px,#0ed 0 198px,#0fa 0 200px,#0ed 0 210px,#0fb 0 214px,#0ed 0 216px,#0ec 0 218px,#0ed 0 224px,#0ec 0 230px,#0ed 0 260px,#0fb 0 262px,#0ed 0 268px,#0fc 0 270px,#0ec 0 272px,#0ed 0 274px,#0ec 0 276px,#0ed 0 280px,#0fb 0 282px,#0ed 0 284px,#0fb 0 286px,#0ed 0 288px,#0ec 0 290px,#0ed 0 292px,#0ec 0 294px,#0ed 0 300px,#0fc 0 302px,#0ed 0 302.5px)"></i>
<i style="left:390px;top:595px;width:302.5px;height:2px;background:linear-gradient(90deg,#0af 0 6px,#0bf 0 8px,#0af 0 16px,#0bf 0 20px,#0af 0 22px,#0bf 0 24px,#0af 0 26px,#0bf 0 30px,#0af 0 32px,#0bf 0 34px,#0af 0 36px,#0bf 0 40px,#0af 0 44px,#0bf 0 48px,#0af 0 60px,#0bf 0 64px,#0cf 0 66px,#0de 0 70px,#0ed 0 74px,#0de 0 76px,#0ed 0 82px,#0fc 0 84px,#0f7 0 86px,#1f6 0 88px,#0f6 0 92px,#0f7 0 94px,#0f9 0 96px,#0fb 0 98px,#0ec 0 100px,#0ed 0 104px,#0de 0 106px,#0ed 0 114px,#0de 0 118px,#0ed 0 120px,#07f 0 122px,#05f 0 126px,#04f 0 132px,#08f 0 134px,#0cf 0 138px,#0bf 0 140px,#0cf 0 142px,#0de 0 144px,#0ed 0 146px,#0fa 0 148px,#0f8 0 152px,#0fa 0 154px,#0ec 0 156px,#0de 0 160px,#0cf 0 162px,#0de 0 164px,#0cf 0 166px,#0de 0 168px,#0cf 0 194px,#0ce 0 196px,#0cf 0 212px,#0de 0 214px,#0cf 0 216px,#0ce 0 218px,#0de 0 220px,#0ce 0 222px,#0cf 0 238px,#0de 0 240px,#0bf 0 242px,#0ce 0 244px,#0cf 0 254px,#0de 0 256px,#0cf 0 268px,#0bf 0 270px,#0cf 0 276px,#0bf 0 278px,#0cf 0 286px,#0bf 0 288px,#0cf 0 290px,#0ce 0 292px,#0cf 0 302.5px)"></i>
<i style="left:390px;top:597px;width:302.5px;height:2px;background:linear-gradient(90deg,#06f 0 2px,#04f 0 4px,#06f 0 6px,#09f 0 8px,#05f 0 10px,#04f 0 12px,#09f 0 14px,#06f 0 16px,#05f 0 18px,#07f 0 20px,#06f 0 24px,#08f 0 26px,#0af 0 28px,#05f 0 30px,#06f 0 32px,#07f 0 34px,#04f 0 38px,#07f 0 40px,#03f 0 42px,#05f 0 44px,#06f 0 46px,#08f 0 48px,#06f 0 50px,#07f 0 52px,#03f 0 54px,#09f 0 56px,#0af 0 60px,#07f 0 66px,#08f 0 68px,#0bf 0 70px,#0af 0 74px,#0bf 0 78px,#0af 0 80px,#0bf 0 82px,#0de 0 84px,#0fa 0 88px,#0f9 0 92px,#0fb 0 94px,#0ed 0 96px,#0de 0 98px,#0ce 0 100px,#0bf 0 106px,#0af 0 110px,#09f 0 112px,#0af 0 114px,#0bf 0 116px,#0af 0 118px,#0bf 0 122px,#0de 0 132px,#0af 0 134px,#08f 0 136px,#07f 0 138px,#06f 0 140px,#0af 0 142px,#0bf 0 144px,#0de 0 146px,#0ed 0 148px,#0ec 0 150px,#0ed 0 152px,#0de 0 156px,#0bf 0 158px,#09f 0 160px,#0af 0 162px,#08f 0 164px,#05f 0 166px,#0af 0 168px,#0cf 0 170px,#07f 0 172px,#0cf 0 174px,#08f 0 176px,#0ce 0 178px,#0af 0 180px,#0bf 0 182px,#07f 0 184px,#09f 0 186px,#0af 0 190px,#06f 0 192px,#08f 0 194px,#09f 0 198px,#07f 0 202px,#0bf 0 204px,#0cf 0 206px,#0bf 0 208px,#0de 0 210px,#08f 0 214px,#0bf 0 216px,#0af 0 218px,#0cf 0 220px,#08f 0 222px,#0af 0 224px,#04f 0 226px,#07f 0 228px,#08f 0 230px,#0af 0 232px,#08f 0 234px,#09f 0 236px,#07f 0 238px,#08f 0 240px,#06f 0 242px,#0bf 0 244px,#08f 0 246px,#05f 0 248px,#04f 0 250px,#08f 0 252px,#06f 0 254px,#08f 0 258px,#09f 0 260px,#07f 0 262px,#09f 0 266px,#0cf 0 268px,#0ce 0 270px,#07f 0 272px,#0af 0 274px,#08f 0 276px,#07f 0 278px,#0af 0 280px,#08f 0 282px,#09f 0 284px,#08f 0 288px,#0af 0 290px,#09f 0 292px,#08f 0 294px,#0bf 0 296px,#07f 0 298px,#0bf 0 302px,#07f 0 302.5px)"></i>
<i style="left:390px;top:599px;width:302.5px;height:2px;background:linear-gradient(90deg,#11f 0 2px,#04f 0 4px,#05f 0 6px,#04f 0 8px,#03f 0 10px,#05f 0 12px,#11f 0 14px,#02f 0 20px,#03f 0 22px,#05f 0 24px,#04f 0 26px,#03f 0 28px,#04f 0 30px,#02f 0 34px,#01f 0 36px,#02f 0 42px,#04f 0 44px,#03f 0 46px,#01f 0 48px,#03f 0 50px,#04f 0 52px,#03f 0 54px,#06f 0 56px,#04f 0 60px,#03f 0 62px,#04f 0 64px,#03f 0 66px,#06f 0 68px,#509 0 70px,#10e 0 72px,#40c 0 74px,#04f 0 76px,#07f 0 80px,#05f 0 82px,#0af 0 84px,#0de 0 86px,#0ec 0 90px,#0ed 0 94px,#0cf 0 96px,#0af 0 98px,#09f 0 100px,#07f 0 104px,#09f 0 106px,#02f 0 108px,#05f 0 112px,#09f 0 116px,#06f 0 118px,#07f 0 120px,#1f4 0 124px,#1f5 0 126px,#1f4 0 134px,#03f 0 136px,#04f 0 138px,#06f 0 140px,#05f 0 142px,#07f 0 144px,#0af 0 146px,#0ce 0 148px,#0de 0 152px,#0cf 0 154px,#0af 0 156px,#09f 0 158px,#07f 0 160px,#05f 0 162px,#0af 0 164px,#05f 0 168px,#08f 0 170px,#07f 0 174px,#02f 0 176px,#04f 0 178px,#05f 0 184px,#06f 0 186px,#04f 0 188px,#02f 0 190px,#05f 0 192px,#04f 0 194px,#07f 0 196px,#05f 0 200px,#04f 0 202px,#08f 0 204px,#07f 0 206px,#05f 0 208px,#04f 0 210px,#05f 0 216px,#07f 0 218px,#06f 0 220px,#04f 0 222px,#06f 0 224px,#07f 0 226px,#05f 0 228px,#06f 0 230px,#05f 0 236px,#03f 0 238px,#05f 0 240px,#07f 0 244px,#06f 0 246px,#03f 0 254px,#04f 0 256px,#05f 0 258px,#06f 0 262px,#04f 0 264px,#03f 0 266px,#08f 0 268px,#06f 0 272px,#07f 0 274px,#03f 0 276px,#04f 0 278px,#05f 0 280px,#06f 0 282px,#07f 0 284px,#02f 0 286px,#05f 0 288px,#06f 0 290px,#05f 0 292px,#06f 0 294px,#05f 0 296px,#06f 0 298px,#04f 0 300px,#02f 0 302px,#04f 0 302.5px)"></i>
<i style="left:390px;top:601px;width:302.5px;height:2px;background:linear-gradient(90deg,#01f 0 4px,#02f 0 6px,#11f 0 8px,#02f 0 10px,#03f 0 12px,#06f 0 14px,#11e 0 16px,#02f 0 20px,#01f 0 26px,#02f 0 30px,#01f 0 32px,#11f 0 34px,#02f 0 40px,#11f 0 42px,#05f 0 44px,#04f 0 46px,#02f 0 50px,#03f 0 54px,#11f 0 56px,#02f 0 58px,#11f 0 60px,#02f 0 66px,#04f 0 68px,#509 0 70px,#40c 0 72px,#50b 0 74px,#01f 0 78px,#05f 0 80px,#02f 0 82px,#04f 0 84px,#0cf 0 86px,#0ed 0 88px,#0de 0 90px,#0ce 0 92px,#0bf 0 94px,#09f 0 96px,#07f 0 98px,#05f 0 100px,#02f 0 102px,#08f 0 104px,#03f 0 106px,#20e 0 108px,#02f 0 110px,#05f 0 112px,#04f 0 114px,#02f 0 116px,#01f 0 118px,#05f 0 120px,#af0 0 122px,#bf0 0 124px,#cf0 0 132px,#bf0 0 134px,#10e 0 136px,#05f 0 138px,#11f 0 140px,#02f 0 142px,#05f 0 146px,#0bf 0 148px,#0cf 0 150px,#0bf 0 152px,#09f 0 154px,#08f 0 158px,#02f 0 160px,#06f 0 162px,#07f 0 164px,#06f 0 166px,#02f 0 168px,#05f 0 170px,#20e 0 172px,#06f 0 174px,#02f 0 176px,#03f 0 178px,#05f 0 180px,#04f 0 184px,#11f 0 186px,#03f 0 188px,#02f 0 190px,#08f 0 192px,#05f 0 194px,#02f 0 198px,#04f 0 200px,#03f 0 202px,#02f 0 204px,#06f 0 206px,#02f 0 208px,#03f 0 212px,#02f 0 214px,#04f 0 216px,#03f 0 218px,#04f 0 220px,#03f 0 222px,#04f 0 224px,#01f 0 226px,#02f 0 228px,#06f 0 230px,#05f 0 232px,#02f 0 234px,#05f 0 236px,#11f 0 238px,#02f 0 242px,#04f 0 244px,#11f 0 246px,#02f 0 248px,#03f 0 250px,#04f 0 254px,#02f 0 260px,#04f 0 262px,#03f 0 264px,#10e 0 266px,#11f 0 268px,#03f 0 272px,#01f 0 274px,#11f 0 276px,#05f 0 278px,#02f 0 282px,#04f 0 284px,#02f 0 286px,#03f 0 288px,#02f 0 290px,#04f 0 292px,#03f 0 294px,#02f 0 296px,#04f 0 298px,#02f 0 300px,#04f 0 302px,#11e 0 302.5px)"></i>
<i style="left:390px;top:603px;width:302.5px;height:2px;background:linear-gradient(90deg,#01f 0 2px,#03f 0 8px,#01f 0 10px,#11f 0 12px,#10e 0 16px,#02f 0 20px,#20e 0 22px,#02f 0 28px,#20e 0 30px,#03f 0 32px,#11f 0 34px,#20e 0 36px,#06f 0 38px,#02f 0 42px,#01f 0 44px,#11f 0 46px,#02f 0 48px,#04f 0 50px,#03f 0 52px,#11f 0 58px,#02f 0 60px,#11f 0 64px,#02f 0 66px,#50a 0 68px,#50b 0 70px,#30d 0 72px,#11f 0 74px,#03f 0 78px,#11f 0 82px,#03f 0 84px,#0bf 0 86px,#0cf 0 90px,#0af 0 92px,#07f 0 94px,#05f 0 96px,#02f 0 98px,#06f 0 100px,#11f 0 102px,#02f 0 104px,#04f 0 106px,#02f 0 108px,#01f 0 112px,#02f 0 120px,#fe0 0 122px,#fb0 0 126px,#fc0 0 128px,#fb0 0 130px,#fa0 0 132px,#fe0 0 134px,#11f 0 136px,#05f 0 138px,#03f 0 142px,#06f 0 144px,#02f 0 146px,#0af 0 150px,#09f 0 152px,#07f 0 154px,#06f 0 156px,#03f 0 160px,#02f 0 162px,#11f 0 164px,#03f 0 166px,#02f 0 168px,#04f 0 170px,#02f 0 172px,#03f 0 174px,#02f 0 176px,#04f 0 178px,#03f 0 180px,#02f 0 182px,#11f 0 184px,#04f 0 188px,#03f 0 190px,#02f 0 192px,#01f 0 194px,#05f 0 196px,#11f 0 198px,#03f 0 200px,#04f 0 204px,#03f 0 206px,#11f 0 210px,#05f 0 212px,#06f 0 214px,#04f 0 216px,#06f 0 218px,#02f 0 220px,#04f 0 222px,#02f 0 224px,#01f 0 226px,#04f 0 228px,#03f 0 230px,#02f 0 234px,#01f 0 236px,#11f 0 238px,#04f 0 240px,#11e 0 242px,#04f 0 244px,#01f 0 248px,#02f 0 250px,#11f 0 252px,#01f 0 254px,#03f 0 258px,#11f 0 260px,#02f 0 266px,#03f 0 270px,#11f 0 272px,#01f 0 274px,#11f 0 278px,#01f 0 280px,#02f 0 282px,#03f 0 284px,#06f 0 286px,#04f 0 290px,#01f 0 292px,#04f 0 294px,#03f 0 296px,#02f 0 298px,#11f 0 300px,#02f 0 302.5px)"></i>
<i style="left:390px;top:605px;width:302.5px;height:2px;background:linear-gradient(90deg,#01f 0 2px,#10e 0 6px,#11e 0 8px,#11f 0 12px,#01f 0 14px,#03f 0 16px,#11e 0 20px,#01f 0 22px,#11f 0 26px,#02f 0 28px,#11e 0 30px,#03f 0 32px,#11f 0 34px,#03f 0 36px,#11f 0 38px,#02f 0 40px,#11e 0 42px,#01f 0 44px,#03f 0 46px,#01f 0 48px,#11f 0 52px,#04f 0 54px,#01f 0 56px,#04f 0 58px,#11f 0 60px,#02f 0 62px,#10e 0 64px,#20e 0 66px,#10e 0 68px,#20e 0 70px,#11f 0 76px,#02f 0 78px,#20e 0 80px,#03f 0 82px,#06f 0 84px,#03f 0 86px,#05f 0 88px,#02f 0 90px,#01f 0 92px,#11f 0 94px,#04f 0 98px,#11f 0 100px,#02f 0 104px,#11f 0 106px,#02f 0 108px,#11f 0 110px,#11e 0 112px,#01f 0 114px,#11f 0 116px,#02f 0 118px,#11f 0 120px,#fe0 0 122px,#f80 0 124px,#f60 0 128px,#f40 0 130px,#f60 0 132px,#fe0 0 134px,#04f 0 136px,#01f 0 138px,#04f 0 140px,#06f 0 142px,#0af 0 144px,#05f 0 146px,#0bf 0 148px,#0af 0 150px,#09f 0 152px,#06f 0 154px,#05f 0 156px,#03f 0 158px,#06f 0 160px,#03f 0 162px,#11f 0 164px,#02f 0 166px,#05f 0 168px,#11f 0 170px,#03f 0 174px,#02f 0 178px,#11f 0 180px,#02f 0 182px,#11e 0 184px,#11f 0 186px,#02f 0 190px,#03f 0 192px,#02f 0 196px,#04f 0 198px,#01f 0 200px,#03f 0 202px,#11f 0 204px,#01f 0 206px,#11f 0 208px,#01f 0 210px,#02f 0 214px,#05f 0 216px,#10e 0 218px,#02f 0 220px,#04f 0 222px,#10e 0 224px,#03f 0 226px,#01f 0 230px,#04f 0 232px,#11e 0 234px,#11f 0 236px,#02f 0 238px,#03f 0 242px,#05f 0 246px,#02f 0 248px,#01f 0 252px,#03f 0 254px,#10e 0 256px,#02f 0 258px,#01f 0 260px,#03f 0 262px,#02f 0 264px,#01f 0 266px,#06f 0 268px,#03f 0 270px,#02f 0 272px,#11f 0 274px,#02f 0 276px,#01f 0 278px,#11f 0 280px,#03f 0 282px,#11f 0 284px,#04f 0 290px,#11f 0 292px,#01f 0 294px,#11f 0 296px,#02f 0 298px,#01f 0 300px,#02f 0 302.5px)"></i>
<i style="left:390px;top:607px;width:302.5px;height:2px;background:linear-gradient(90deg,#02f 0 2px,#11e 0 4px,#10e 0 6px,#30d 0 8px,#30c 0 10px,#10e 0 14px,#20e 0 18px,#11f 0 20px,#10e 0 24px,#11f 0 26px,#10e 0 28px,#20e 0 30px,#30d 0 32px,#02f 0 34px,#30d 0 36px,#11e 0 38px,#20e 0 40px,#11f 0 42px,#30d 0 44px,#11f 0 46px,#03f 0 50px,#20e 0 52px,#10e 0 54px,#30d 0 56px,#20e 0 58px,#11f 0 62px,#10e 0 64px,#11e 0 66px,#30d 0 68px,#20e 0 70px,#02f 0 72px,#20e 0 82px,#10e 0 84px,#04f 0 86px,#03f 0 88px,#02f 0 90px,#11f 0 92px,#02f 0 94px,#01f 0 98px,#11f 0 100px,#03f 0 102px,#01f 0 104px,#11f 0 106px,#20e 0 108px,#11e 0 110px,#11f 0 112px,#20e 0 114px,#11e 0 116px,#20e 0 118px,#11f 0 120px,#fe0 0 122px,#f50 0 126px,#f60 0 128px,#f50 0 130px,#f40 0 132px,#fe0 0 134px,#02f 0 136px,#06f 0 138px,#11f 0 140px,#02f 0 142px,#04f 0 146px,#0bf 0 148px,#05f 0 150px,#08f 0 152px,#03f 0 154px,#04f 0 156px,#11f 0 158px,#04f 0 160px,#20e 0 162px,#03f 0 164px,#10e 0 166px,#11f 0 168px,#02f 0 172px,#11f 0 174px,#30d 0 176px,#11f 0 178px,#11e 0 180px,#20e 0 184px,#02f 0 186px,#11f 0 188px,#02f 0 190px,#11f 0 196px,#10e 0 198px,#11f 0 200px,#02f 0 202px,#11f 0 204px,#01f 0 206px,#02f 0 208px,#11e 0 210px,#11f 0 218px,#02f 0 220px,#03f 0 222px,#11e 0 224px,#04f 0 226px,#11f 0 228px,#11e 0 230px,#02f 0 232px,#01f 0 234px,#02f 0 236px,#01f 0 238px,#03f 0 240px,#02f 0 242px,#01f 0 244px,#02f 0 246px,#01f 0 248px,#02f 0 252px,#03f 0 256px,#02f 0 258px,#03f 0 260px,#04f 0 262px,#03f 0 264px,#05f 0 266px,#02f 0 272px,#01f 0 274px,#04f 0 276px,#02f 0 278px,#11f 0 280px,#04f 0 284px,#11e 0 286px,#02f 0 288px,#03f 0 290px,#06f 0 292px,#05f 0 294px,#11f 0 296px,#04f 0 298px,#03f 0 302px,#04f 0 302.5px)"></i>
<i style="left:390px;top:609px;width:302.5px;height:2px;background:linear-gradient(90deg,#30d 0 4px,#20e 0 6px,#30d 0 8px,#20d 0 10px,#30d 0 16px,#20d 0 18px,#20e 0 20px,#30d 0 22px,#20d 0 24px,#20e 0 26px,#30d 0 34px,#10e 0 36px,#30d 0 40px,#10e 0 42px,#40c 0 44px,#20e 0 46px,#30d 0 48px,#11f 0 50px,#40c 0 52px,#30d 0 54px,#20e 0 58px,#11f 0 60px,#30d 0 62px,#20e 0 66px,#30d 0 68px,#40c 0 70px,#30d 0 72px,#40c 0 74px,#30d 0 76px,#40c 0 78px,#20e 0 80px,#30d 0 82px,#02f 0 84px,#03f 0 86px,#04f 0 88px,#02f 0 92px,#03f 0 94px,#01f 0 96px,#10e 0 102px,#30d 0 104px,#40c 0 106px,#20e 0 108px,#11f 0 110px,#40c 0 112px,#20e 0 114px,#50b 0 116px,#20e 0 120px,#fe0 0 122px,#f50 0 128px,#f30 0 130px,#f50 0 132px,#fe0 0 134px,#30d 0 136px,#40c 0 138px,#30d 0 142px,#05f 0 144px,#02f 0 146px,#0bf 0 148px,#11f 0 150px,#07f 0 152px,#01f 0 154px,#03f 0 156px,#02f 0 158px,#11e 0 160px,#01f 0 162px,#11e 0 164px,#30d 0 166px,#11e 0 168px,#30d 0 172px,#20e 0 176px,#11e 0 178px,#20e 0 180px,#11e 0 182px,#50b 0 184px,#40c 0 186px,#30d 0 188px,#20e 0 192px,#30d 0 196px,#11f 0 198px,#40c 0 200px,#509 0 202px,#11e 0 204px,#20e 0 206px,#30d 0 208px,#20e 0 210px,#30d 0 214px,#40c 0 216px,#30d 0 218px,#20e 0 220px,#40c 0 222px,#30d 0 224px,#20e 0 228px,#10e 0 230px,#11f 0 232px,#01f 0 234px,#20e 0 236px,#05f 0 238px,#03f 0 242px,#11f 0 244px,#03f 0 246px,#04f 0 248px,#06f 0 252px,#03f 0 254px,#07f 0 256px,#05f 0 262px,#06f 0 264px,#08f 0 266px,#05f 0 268px,#04f 0 270px,#02f 0 272px,#04f 0 274px,#02f 0 276px,#05f 0 280px,#06f 0 282px,#01f 0 284px,#08f 0 286px,#05f 0 288px,#03f 0 290px,#11f 0 292px,#04f 0 294px,#03f 0 298px,#02f 0 300px,#05f 0 302.5px)"></i>
<i style="left:390px;top:611px;width:302.5px;height:2px;background:linear-gradient(90deg,#509 0 4px,#507 0 6px,#509 0 8px,#40c 0 10px,#50a 0 12px,#30d 0 14px,#50a 0 16px,#40c 0 18px,#30d 0 20px,#40c 0 22px,#50a 0 28px,#509 0 30px,#50a 0 32px,#50b 0 34px,#509 0 36px,#40c 0 38px,#50b 0 40px,#50a 0 42px,#508 0 44px,#40c 0 46px,#50a 0 48px,#507 0 50px,#509 0 52px,#50a 0 56px,#50b 0 58px,#30d 0 60px,#508 0 62px,#50b 0 68px,#40c 0 70px,#50b 0 72px,#509 0 74px,#50b 0 80px,#30c 0 82px,#40b 0 84px,#11e 0 86px,#40c 0 90px,#50a 0 92px,#50b 0 94px,#508 0 96px,#50a 0 98px,#50b 0 100px,#50a 0 102px,#509 0 106px,#508 0 108px,#50b 0 112px,#40c 0 114px,#50a 0 118px,#508 0 120px,#fe0 0 122px,#f40 0 124px,#f50 0 126px,#f40 0 128px,#f50 0 132px,#fe0 0 134px,#40c 0 136px,#30d 0 138px,#40c 0 140px,#50a 0 142px,#10e 0 144px,#50a 0 146px,#04f 0 148px,#50b 0 150px,#20e 0 152px,#40c 0 154px,#509 0 156px,#40c 0 158px,#50b 0 166px,#40c 0 168px,#50a 0 170px,#40c 0 172px,#50a 0 174px,#40c 0 176px,#50a 0 178px,#40c 0 180px,#50b 0 182px,#509 0 186px,#50a 0 188px,#50b 0 190px,#509 0 192px,#50a 0 194px,#509 0 196px,#50b 0 198px,#40c 0 200px,#50b 0 202px,#30d 0 204px,#50b 0 208px,#50a 0 210px,#509 0 212px,#50b 0 214px,#30d 0 216px,#50a 0 220px,#508 0 224px,#40c 0 228px,#20e 0 230px,#11e 0 232px,#03f 0 234px,#05f 0 236px,#07f 0 238px,#0af 0 242px,#09f 0 244px,#0af 0 252px,#09f 0 254px,#0af 0 258px,#09f 0 266px,#0af 0 274px,#09f 0 276px,#08f 0 278px,#0af 0 280px,#09f 0 282px,#0af 0 286px,#09f 0 288px,#0af 0 296px,#09f 0 302.5px)"></i>
<i style="left:390px;top:613px;width:302.5px;height:2px;background:linear-gradient(90deg,#40c 0 2px,#10e 0 4px,#11e 0 10px,#20e 0 14px,#30d 0 16px,#20e 0 20px,#50b 0 22px,#40c 0 24px,#20e 0 26px,#11f 0 28px,#20e 0 32px,#02f 0 34px,#20e 0 36px,#01f 0 38px,#20e 0 42px,#10e 0 44px,#20e 0 46px,#30d 0 50px,#20e 0 58px,#11e 0 60px,#10e 0 62px,#20e 0 64px,#11e 0 66px,#30d 0 70px,#10e 0 72px,#40c 0 74px,#30d 0 76px,#20e 0 78px,#11f 0 80px,#02f 0 82px,#30d 0 88px,#10e 0 90px,#20e 0 92px,#11f 0 94px,#10e 0 96px,#30d 0 98px,#11f 0 100px,#10e 0 102px,#40c 0 104px,#20e 0 106px,#30d 0 108px,#11e 0 110px,#11f 0 112px,#10e 0 116px,#30c 0 118px,#30d 0 120px,#fe0 0 122px,#f40 0 126px,#f50 0 130px,#f60 0 132px,#fe0 0 134px,#30d 0 136px,#40c 0 138px,#11f 0 140px,#10e 0 142px,#02f 0 144px,#20e 0 146px,#07f 0 148px,#20e 0 150px,#02f 0 152px,#30d 0 154px,#11f 0 156px,#20e 0 160px,#10e 0 164px,#40c 0 166px,#11e 0 168px,#20e 0 170px,#30d 0 172px,#20e 0 174px,#02f 0 176px,#20e 0 180px,#20d 0 182px,#11e 0 184px,#30d 0 186px,#20e 0 192px,#30d 0 194px,#10e 0 196px,#20e 0 198px,#10e 0 200px,#11e 0 202px,#11f 0 204px,#20e 0 206px,#11f 0 210px,#40c 0 212px,#20e 0 214px,#30d 0 216px,#11e 0 220px,#10e 0 222px,#11e 0 224px,#10e 0 226px,#02f 0 230px,#07f 0 232px,#08f 0 234px,#0af 0 236px,#0cf 0 238px,#0ce 0 240px,#0cf 0 242px,#0de 0 246px,#0ce 0 248px,#0de 0 252px,#0cf 0 256px,#0de 0 262px,#0ce 0 264px,#0cf 0 266px,#0de 0 270px,#0ce 0 274px,#0de 0 280px,#0cf 0 284px,#0de 0 290px,#0ce 0 292px,#0cf 0 294px,#0de 0 296px,#0cf 0 298px,#0de 0 302.5px)"></i>
<i style="left:390px;top:615px;width:302.5px;height:2px;background:linear-gradient(90deg,#02f 0 4px,#01f 0 6px,#05f 0 8px,#03f 0 12px,#04f 0 16px,#03f 0 18px,#05f 0 20px,#11f 0 22px,#03f 0 24px,#05f 0 28px,#03f 0 30px,#04f 0 32px,#07f 0 34px,#02f 0 38px,#05f 0 40px,#03f 0 42px,#08f 0 44px,#04f 0 46px,#03f 0 48px,#11f 0 50px,#02f 0 52px,#11f 0 56px,#02f 0 58px,#10e 0 60px,#11e 0 62px,#05f 0 64px,#06f 0 66px,#01f 0 70px,#02f 0 72px,#03f 0 74px,#02f 0 76px,#04f 0 78px,#03f 0 80px,#05f 0 82px,#06f 0 84px,#02f 0 86px,#03f 0 88px,#04f 0 90px,#08f 0 92px,#05f 0 94px,#04f 0 96px,#03f 0 100px,#02f 0 102px,#03f 0 104px,#02f 0 106px,#03f 0 108px,#01f 0 110px,#02f 0 114px,#04f 0 118px,#11f 0 120px,#fe0 0 122px,#f50 0 126px,#f60 0 128px,#f40 0 130px,#f50 0 132px,#fe0 0 134px,#03f 0 138px,#06f 0 140px,#07f 0 142px,#0af 0 144px,#05f 0 146px,#0af 0 148px,#04f 0 150px,#08f 0 152px,#04f 0 154px,#03f 0 156px,#05f 0 158px,#07f 0 160px,#06f 0 162px,#08f 0 164px,#03f 0 166px,#02f 0 168px,#06f 0 170px,#0af 0 172px,#05f 0 174px,#04f 0 176px,#07f 0 178px,#06f 0 180px,#03f 0 182px,#08f 0 184px,#02f 0 186px,#0af 0 188px,#07f 0 190px,#02f 0 192px,#08f 0 194px,#06f 0 200px,#08f 0 202px,#05f 0 204px,#03f 0 206px,#05f 0 208px,#08f 0 210px,#02f 0 212px,#06f 0 214px,#07f 0 216px,#01f 0 218px,#06f 0 220px,#04f 0 222px,#06f 0 224px,#04f 0 226px,#09f 0 228px,#06f 0 230px,#0af 0 234px,#0cf 0 236px,#0ce 0 238px,#0de 0 240px,#0ed 0 242px,#0de 0 244px,#0ed 0 248px,#0de 0 250px,#0ce 0 252px,#0de 0 290px,#0dd 0 292px,#0de 0 300px,#0ed 0 302px,#0de 0 302.5px)"></i>
<i style="left:390px;top:617px;width:302.5px;height:2px;background:linear-gradient(90deg,#08f 0 2px,#07f 0 6px,#06f 0 8px,#07f 0 10px,#05f 0 12px,#04f 0 14px,#09f 0 16px,#05f 0 18px,#07f 0 20px,#04f 0 22px,#08f 0 24px,#04f 0 26px,#0af 0 28px,#09f 0 30px,#08f 0 34px,#04f 0 36px,#07f 0 38px,#08f 0 40px,#07f 0 44px,#05f 0 46px,#08f 0 48px,#09f 0 50px,#07f 0 54px,#0af 0 56px,#09f 0 58px,#08f 0 60px,#04f 0 62px,#09f 0 64px,#07f 0 66px,#08f 0 68px,#07f 0 70px,#04f 0 72px,#0bf 0 74px,#07f 0 76px,#08f 0 78px,#09f 0 82px,#08f 0 86px,#07f 0 88px,#04f 0 90px,#07f 0 94px,#09f 0 96px,#08f 0 98px,#04f 0 100px,#0af 0 104px,#09f 0 106px,#06f 0 108px,#07f 0 110px,#0af 0 112px,#08f 0 114px,#07f 0 116px,#09f 0 118px,#06f 0 120px,#fe0 0 122px,#f80 0 126px,#f70 0 132px,#fe0 0 134px,#0bf 0 142px,#0de 0 144px,#0bf 0 146px,#0de 0 148px,#0bf 0 150px,#0cf 0 152px,#0af 0 154px,#0bf 0 166px,#0cf 0 172px,#0bf 0 174px,#0af 0 176px,#0bf 0 190px,#0af 0 192px,#0bf 0 194px,#0af 0 196px,#0bf 0 206px,#0af 0 208px,#0bf 0 212px,#0af 0 216px,#0bf 0 226px,#0cf 0 236px,#0ce 0 238px,#0de 0 258px,#0ed 0 260px,#0de 0 276px,#0cf 0 278px,#0de 0 288px,#0ed 0 290px,#0de 0 302.5px)"></i>
<i style="left:390px;top:619px;width:302.5px;height:2px;background:linear-gradient(90deg,#0bf 0 4px,#0cf 0 6px,#0bf 0 8px,#0af 0 10px,#0bf 0 18px,#0cf 0 20px,#0bf 0 22px,#0cf 0 24px,#0bf 0 30px,#0cf 0 34px,#0bf 0 38px,#0cf 0 40px,#0bf 0 46px,#0af 0 48px,#0bf 0 50px,#0de 0 52px,#0bf 0 62px,#0cf 0 64px,#0bf 0 66px,#0af 0 68px,#0cf 0 70px,#0bf 0 76px,#0cf 0 78px,#0bf 0 84px,#0af 0 88px,#0cf 0 90px,#0bf 0 108px,#0af 0 110px,#0bf 0 114px,#0cf 0 120px,#fe0 0 122px,#fb0 0 132px,#fe0 0 134px,#0bf 0 136px,#0ce 0 138px,#0de 0 140px,#0ce 0 142px,#0de 0 144px,#0bf 0 146px,#0de 0 148px,#0cf 0 150px,#0de 0 152px,#0cf 0 156px,#0de 0 158px,#0ce 0 160px,#0cf 0 172px,#0de 0 174px,#0cf 0 176px,#0ce 0 180px,#0cf 0 182px,#0de 0 188px,#0ce 0 190px,#0cf 0 194px,#0de 0 196px,#0bf 0 198px,#0cf 0 202px,#0de 0 204px,#0cf 0 222px,#0ce 0 224px,#0de 0 226px,#0cf 0 228px,#0de 0 244px,#0ed 0 246px,#0de 0 250px,#0ed 0 252px,#0de 0 254px,#0ed 0 256px,#0de 0 260px,#0ed 0 262px,#0de 0 276px,#0ed 0 278px,#0dd 0 282px,#0de 0 298px,#0ed 0 300px,#0de 0 302.5px)"></i>
<i style="left:390px;top:621px;width:302.5px;height:2px;background:linear-gradient(90deg,#0de 0 6px,#0dd 0 8px,#0ed 0 10px,#0de 0 12px,#0ed 0 14px,#0de 0 18px,#0ed 0 20px,#0de 0 24px,#0ed 0 26px,#0de 0 46px,#0ed 0 48px,#0de 0 52px,#0ed 0 54px,#0de 0 68px,#0ed 0 70px,#0de 0 72px,#0ed 0 74px,#0de 0 80px,#0ed 0 84px,#0de 0 88px,#0ed 0 90px,#0de 0 94px,#0ed 0 98px,#0de 0 100px,#0ed 0 102px,#0de 0 104px,#0ce 0 106px,#0de 0 108px,#0ed 0 110px,#0de 0 114px,#0ed 0 116px,#0de 0 120px,#ee0 0 122px,#fe0 0 126px,#ee0 0 134px,#0ed 0 142px,#0dd 0 144px,#0ed 0 150px,#0de 0 154px,#0dd 0 156px,#0ed 0 160px,#0de 0 164px,#0ed 0 166px,#0de 0 168px,#0ed 0 170px,#0de 0 174px,#0ed 0 176px,#0de 0 178px,#0ed 0 186px,#0de 0 190px,#0ed 0 198px,#0dd 0 200px,#0de 0 206px,#0ed 0 208px,#0de 0 212px,#0ed 0 214px,#0dd 0 216px,#0de 0 218px,#0ed 0 222px,#0de 0 224px,#0ed 0 228px,#0de 0 232px,#0ed 0 238px,#0de 0 240px,#0ed 0 244px,#0de 0 246px,#0ed 0 262px,#0de 0 264px,#0ed 0 266px,#0de 0 268px,#0ed 0 278px,#0de 0 280px,#0ed 0 284px,#0de 0 286px,#0ed 0 290px,#0dd 0 292px,#0ed 0 294px,#0dd 0 296px,#0ed 0 298px,#0de 0 302px,#0ed 0 302.5px)"></i>
<i style="left:390px;top:623px;width:302.5px;height:2px;background:linear-gradient(90deg,#0fa 0 4px,#0f8 0 6px,#0f9 0 10px,#0fb 0 12px,#0fa 0 14px,#0f9 0 26px,#0fa 0 28px,#0f8 0 30px,#0f9 0 32px,#0fa 0 34px,#0f8 0 36px,#0fa 0 38px,#0f9 0 46px,#0fa 0 48px,#0f9 0 52px,#0f8 0 54px,#0f9 0 56px,#0f8 0 58px,#0f9 0 60px,#0fa 0 62px,#0f8 0 64px,#0f9 0 68px,#0fa 0 74px,#0f9 0 76px,#0fa 0 78px,#0f9 0 90px,#0fa 0 96px,#0f9 0 98px,#0fa 0 100px,#0f9 0 102px,#0fa 0 106px,#0f9 0 108px,#0fa 0 110px,#0f9 0 114px,#0fa 0 116px,#0f9 0 118px,#0fa 0 120px,#bf0 0 122px,#af0 0 124px,#cf0 0 128px,#bf0 0 130px,#cf0 0 134px,#0f9 0 136px,#0fb 0 142px,#0fa 0 144px,#0f9 0 146px,#0fa 0 148px,#0f8 0 150px,#0fa 0 154px,#0fb 0 156px,#0f9 0 158px,#0fa 0 162px,#0fb 0 164px,#0fa 0 170px,#0fb 0 172px,#0f9 0 174px,#0fb 0 176px,#0fa 0 178px,#0f9 0 180px,#0f8 0 182px,#0f9 0 184px,#0fa 0 190px,#0f8 0 192px,#0fa 0 194px,#0ec 0 196px,#0fa 0 198px,#0f9 0 200px,#0fb 0 202px,#0f9 0 204px,#0fa 0 214px,#0f9 0 216px,#0fa 0 218px,#0f9 0 222px,#0fa 0 228px,#0f9 0 232px,#0fb 0 234px,#0fa 0 236px,#0fb 0 240px,#0fa 0 242px,#0f9 0 244px,#0fb 0 248px,#0f9 0 250px,#0fa 0 254px,#0fb 0 256px,#0fa 0 260px,#0fb 0 264px,#0fa 0 268px,#0fc 0 270px,#0fb 0 272px,#0fa 0 276px,#0fb 0 278px,#0fa 0 280px,#0fb 0 282px,#0fa 0 284px,#0fb 0 286px,#0fa 0 288px,#0fb 0 290px,#0fa 0 296px,#0fb 0 298px,#0f9 0 300px,#0fa 0 302px,#0fb 0 302.5px)"></i>
<i style="left:390px;top:625px;width:302.5px;height:2px;background:linear-gradient(90deg,#2f3 0 4px,#1f4 0 6px,#2f2 0 8px,#2f3 0 10px,#1f3 0 14px,#1f4 0 16px,#2f2 0 18px,#2f3 0 20px,#2f2 0 22px,#2f3 0 26px,#1f4 0 28px,#2f3 0 32px,#1f4 0 34px,#2f3 0 36px,#2f2 0 38px,#1f3 0 40px,#2f2 0 46px,#2f3 0 50px,#1f4 0 56px,#2f3 0 58px,#1f4 0 60px,#2f3 0 62px,#2f2 0 64px,#1f4 0 66px,#2f3 0 68px,#1f4 0 70px,#2f3 0 72px,#1f4 0 74px,#2f3 0 76px,#1f4 0 78px,#1f5 0 80px,#2f3 0 88px,#2f2 0 90px,#2f3 0 92px,#1f3 0 94px,#2f3 0 96px,#1f3 0 98px,#2f3 0 100px,#2f2 0 102px,#1f4 0 104px,#2f3 0 106px,#2f2 0 110px,#2f3 0 114px,#1f4 0 118px,#2f2 0 120px,#7f0 0 122px,#6f1 0 124px,#6f0 0 126px,#8f0 0 128px,#6f0 0 130px,#7f0 0 134px,#1f5 0 136px,#1f4 0 138px,#1f5 0 140px,#1f4 0 144px,#1f5 0 146px,#1f4 0 148px,#2f3 0 150px,#1f5 0 152px,#2f3 0 154px,#1f5 0 156px,#1f3 0 158px,#1f5 0 160px,#1f4 0 164px,#1f5 0 166px,#1f4 0 174px,#1f6 0 176px,#2f3 0 178px,#1f5 0 180px,#1f4 0 182px,#1f5 0 184px,#1f4 0 186px,#1f5 0 190px,#1f4 0 198px,#1f6 0 200px,#2f3 0 202px,#1f5 0 204px,#2f3 0 206px,#1f5 0 208px,#1f4 0 212px,#1f5 0 216px,#1f4 0 218px,#1f3 0 220px,#1f4 0 224px,#1f5 0 226px,#1f4 0 230px,#1f5 0 232px,#2f2 0 234px,#1f4 0 236px,#1f5 0 242px,#1f4 0 244px,#1f5 0 246px,#0f6 0 252px,#1f5 0 258px,#1f4 0 262px,#1f5 0 264px,#1f4 0 268px,#1f5 0 272px,#1f4 0 274px,#1f5 0 278px,#0f6 0 280px,#1f5 0 288px,#1f4 0 292px,#1f5 0 296px,#1f4 0 298px,#1f5 0 302.5px)"></i>
<i style="left:390px;top:627px;width:302.5px;height:2px;background:linear-gradient(90deg,#8f0 0 4px,#9f0 0 6px,#8f0 0 8px,#7f0 0 10px,#9f0 0 12px,#8f0 0 18px,#7f0 0 22px,#8f0 0 26px,#9f0 0 30px,#8f0 0 36px,#7f0 0 38px,#8f0 0 40px,#7f0 0 44px,#8f0 0 46px,#7f0 0 48px,#8f0 0 50px,#7f0 0 52px,#8f0 0 54px,#7f0 0 56px,#8f0 0 60px,#9f0 0 62px,#8f0 0 64px,#7f0 0 66px,#9f0 0 68px,#8f0 0 76px,#7f0 0 80px,#8f0 0 82px,#7f0 0 84px,#9f0 0 86px,#8f0 0 88px,#6f1 0 90px,#8f0 0 92px,#9f0 0 94px,#8f0 0 96px,#9f0 0 98px,#8f0 0 100px,#9f0 0 102px,#8f0 0 104px,#7f0 0 106px,#9f0 0 108px,#8f0 0 112px,#7f0 0 114px,#8f0 0 118px,#9f0 0 120px,#6f0 0 124px,#4f1 0 126px,#6f1 0 128px,#6f0 0 130px,#5f1 0 132px,#7f0 0 134px,#6f1 0 136px,#5f1 0 138px,#7f0 0 142px,#6f1 0 144px,#7f0 0 146px,#6f0 0 148px,#7f0 0 150px,#6f0 0 152px,#5f1 0 154px,#6f0 0 156px,#6f1 0 160px,#6f0 0 162px,#5f1 0 164px,#7f0 0 166px,#6f0 0 168px,#7f0 0 170px,#5f1 0 172px,#4f1 0 174px,#7f0 0 176px,#6f0 0 178px,#7f0 0 180px,#6f0 0 182px,#7f0 0 184px,#5f1 0 186px,#4f1 0 188px,#6f0 0 190px,#6f1 0 192px,#6f0 0 194px,#7f0 0 196px,#5f1 0 198px,#6f1 0 200px,#6f0 0 202px,#5f1 0 204px,#7f0 0 208px,#6f1 0 210px,#6f0 0 212px,#5f1 0 216px,#6f1 0 218px,#5f1 0 224px,#7f0 0 226px,#5f1 0 230px,#6f0 0 234px,#5f1 0 238px,#6f0 0 242px,#5f1 0 244px,#6f1 0 246px,#6f0 0 248px,#5f1 0 250px,#6f1 0 254px,#6f0 0 258px,#5f1 0 262px,#4f1 0 264px,#6f1 0 266px,#5f1 0 268px,#6f1 0 270px,#5f1 0 278px,#4f1 0 280px,#5f1 0 286px,#6f1 0 288px,#6f0 0 290px,#5f1 0 292px,#4f1 0 294px,#5f1 0 296px,#4f1 0 298px,#6f1 0 300px,#5f1 0 302px,#4f1 0 302.5px)"></i>
<i style="left:390px;top:629px;width:302.5px;height:2px;background:linear-gradient(90deg,#ef0 0 2px,#df0 0 4px,#ef0 0 6px,#df0 0 8px,#ef0 0 10px,#df0 0 20px,#ef0 0 22px,#df0 0 28px,#ef0 0 30px,#df0 0 38px,#ef0 0 42px,#df0 0 44px,#ef0 0 46px,#cf0 0 48px,#df0 0 50px,#ef0 0 52px,#df0 0 54px,#ef0 0 64px,#cf0 0 68px,#df0 0 72px,#ef0 0 74px,#df0 0 76px,#ef0 0 78px,#df0 0 80px,#ef0 0 82px,#ee0 0 84px,#ef0 0 86px,#df0 0 92px,#ef0 0 96px,#df0 0 112px,#ef0 0 114px,#df0 0 118px,#cf0 0 120px,#4f1 0 124px,#3f1 0 126px,#5f1 0 128px,#4f1 0 132px,#3f1 0 134px,#bf0 0 140px,#cf0 0 142px,#bf0 0 146px,#cf0 0 148px,#bf0 0 150px,#cf0 0 158px,#bf0 0 162px,#cf0 0 164px,#df0 0 166px,#cf0 0 170px,#bf0 0 176px,#df0 0 178px,#bf0 0 180px,#cf0 0 186px,#bf0 0 188px,#cf0 0 190px,#bf0 0 196px,#cf0 0 198px,#bf0 0 212px,#cf0 0 226px,#bf0 0 232px,#cf0 0 234px,#bf0 0 238px,#cf0 0 240px,#af0 0 242px,#cf0 0 244px,#bf0 0 250px,#af0 0 252px,#bf0 0 254px,#9f0 0 256px,#bf0 0 264px,#af0 0 266px,#bf0 0 268px,#af0 0 270px,#cf0 0 272px,#bf0 0 274px,#af0 0 278px,#bf0 0 280px,#af0 0 282px,#bf0 0 288px,#af0 0 296px,#bf0 0 302.5px)"></i>
<i style="left:352px;top:632px;width:340.5px;height:5px;background:linear-gradient(90deg,#03f 0 23.4px,#000 0 24.7px,#03f 0 54.6px,#000 0 55.9px,#03f 0 61.1px,#000 0 62.4px,#03f 0 100.1px,#000 0 101.4px,#03f 0 102.7px,#000 0 104px,#03f 0 105.3px,#000 0 107.9px,#03f 0 111.8px,#000 0 113.1px,#03f 0 114.4px,#000 0 115.7px,#03f 0 118.3px,#000 0 119.6px,#03f 0 132.6px,#000 0 133.9px,#03f 0 136.5px,#000 0 137.8px,#03f 0 144.3px,#000 0 145.6px,#03f 0 146.9px,#000 0 148.2px,#03f 0 169px,#000 0 170.3px,#03f 0 174.2px,#000 0 175.5px,#03f 0 176.8px,#000 0 178.1px,#03f 0 188.5px,#000 0 189.8px,#03f 0 197.6px,#000 0 200.2px,#03f 0 204.1px,#000 0 205.4px,#03f 0 209.3px,#000 0 211.9px,#03f 0 213.2px,#000 0 214.5px,#03f 0 215.8px,#000 0 218.4px,#03f 0 222.3px,#000 0 224.9px,#03f 0 226.2px,#000 0 228.8px,#03f 0 236.6px,#000 0 237.9px,#03f 0 239.2px,#000 0 245.7px,#03f 0 247px,#000 0 252.2px,#03f 0 253.5px,#000 0 254.8px,#03f 0 256.1px,#000 0 261.3px,#03f 0 263.9px,#000 0 276.9px,#03f 0 279.5px,#000 0 282.1px,#03f 0 283.4px,#000 0 292.5px,#03f 0 293.8px,#000 0 302.9px,#03f 0 304.2px,#000 0 308.1px,#03f 0 309.4px,#000 0 314.6px,#03f 0 315.9px,#000 0 317.2px,#03f 0 319.8px,#000 0 322.4px,#03f 0 323.7px,#000 0 325px,#03f 0 326.3px,#000 0 327.6px,#03f 0 328.9px,#000 0 331.5px,#03f 0 335.4px,#000 0 340.5px)"></i>
<i style="left:352px;top:637px;width:340.5px;height:12px;background:linear-gradient(90deg,#11f 0 1.3px,#06f 0 2.6px,#03f 0 3.9px,#50a 0 5.2px,#06f 0 6.5px,#50a 0 7.8px,#0f7 0 9.1px,#2f3 0 10.4px,#0f8 0 11.7px,#0fb 0 13px,#2f2 0 14.3px,#1f4 0 15.6px,#bf0 0 16.9px,#2f2 0 18.2px,#2f1 0 19.5px,#6f1 0 20.8px,#3f1 0 22.1px,#5f1 0 23.4px,#4f1 0 24.7px,#3f1 0 26px,#1f6 0 27.3px,#0f7 0 28.6px,#3f1 0 29.9px,#bf0 0 31.2px,#5f1 0 33.8px,#0f6 0 35.1px,#1f4 0 36.4px,#af0 0 37.7px,#2f2 0 39px,#0f7 0 40.3px,#1f6 0 41.6px,#1f4 0 42.9px,#03f 0 44.2px,#4f1 0 45.5px,#df0 0 46.8px,#0f6 0 48.1px,#3f1 0 49.4px,#4f1 0 50.7px,#2f2 0 52px,#bf0 0 53.3px,#0fb 0 54.6px,#1f5 0 55.9px,#0ed 0 57.2px,#bf0 0 58.5px,#5f1 0 59.8px,#8f0 0 61.1px,#4f1 0 62.4px,#2f3 0 63.7px,#0fb 0 65px,#df0 0 66.3px,#0f8 0 67.6px,#9f0 0 68.9px,#3f1 0 70.2px,#8f0 0 71.5px,#fe0 0 72.8px,#df0 0 74.1px,#af0 0 75.4px,#0af 0 76.7px,#bf0 0 78px,#fe0 0 79.3px,#6f0 0 80.6px,#bf0 0 81.9px,#5f1 0 83.2px,#0f6 0 84.5px,#1f3 0 85.8px,#5f1 0 87.1px,#9f0 0 88.4px,#6f1 0 89.7px,#1f6 0 91px,#50a 0 92.3px,#0af 0 93.6px,#2f1 0 94.9px,#7f0 0 96.2px,#2f2 0 97.5px,#0f8 0 98.8px,#2f1 0 100.1px,#2f2 0 101.4px,#0f8 0 102.7px,#1f6 0 104px,#cf0 0 105.3px,#2f3 0 106.6px,#ef0 0 107.9px,#8f0 0 109.2px,#bf0 0 110.5px,#3f1 0 111.8px,#5f1 0 113.1px,#11f 0 114.4px,#af0 0 115.7px,#4f1 0 117px,#2f3 0 118.3px,#ef0 0 119.6px,#df0 0 120.9px,#06f 0 122.2px,#6f1 0 123.5px,#2f3 0 126.1px,#0fa 0 127.4px,#0f9 0 128.7px,#0f7 0 130px,#2f3 0 131.3px,#6f1 0 132.6px,#0ed 0 133.9px,#0f8 0 135.2px,#0f9 0 136.5px,#0f6 0 137.8px,#03f 0 139.1px,#0f7 0 140.4px,#1f5 0 143px,#0fc 0 144.3px,#0fb 0 145.6px,#0dd 0 146.9px,#0fc 0 148.2px,#0bf 0 149.5px,#09f 0 150.8px,#06f 0 152.1px,#0ed 0 153.4px,#0de 0 154.7px,#50a 0 156px,#0f6 0 157.3px,#07f 0 158.6px,#0cf 0 159.9px,#50a 0 161.2px,#0af 0 162.5px,#03f 0 163.8px,#0af 0 165.1px,#03f 0 167.7px,#50a 0 169px,#06f 0 172.9px,#03f 0 174.2px,#0af 0 176.8px,#03f 0 178.1px,#11f 0 179.4px,#06f 0 182px,#0af 0 183.3px,#03f 0 185.9px,#06f 0 187.2px,#50a 0 188.5px,#0de 0 189.8px,#0af 0 191.1px,#03f 0 192.4px,#11f 0 193.7px,#0de 0 195px,#11f 0 196.3px,#508 0 198.9px,#2f2 0 200.2px,#0f9 0 201.5px,#0fb 0 202.8px,#0fa 0 204.1px,#0de 0 205.4px,#0f8 0 206.7px,#508 0 208px,#0f6 0 209.3px,#0af 0 210.6px,#0f8 0 211.9px,#50a 0 213.2px,#0af 0 214.5px,#0de 0 215.8px,#0af 0 217.1px,#1f5 0 218.4px,#0fb 0 219.7px,#0af 0 221px,#0f6 0 222.3px,#0f8 0 223.6px,#508 0 224.9px,#3f1 0 226.2px,#06f 0 228.8px,#11f 0 230.1px,#50a 0 231.4px,#1f4 0 232.7px,#6f0 0 234px,#0f9 0 235.3px,#0af 0 236.6px,#0f6 0 237.9px,#1f4 0 239.2px,#1f5 0 240.5px,#0f8 0 241.8px,#1f4 0 243.1px,#0af 0 244.4px,#08f 0 245.7px,#0cf 0 247px,#50a 0 248.3px,#0f7 0 249.6px,#1f5 0 250.9px,#0f9 0 252.2px,#11f 0 253.5px,#4f1 0 254.8px,#3f1 0 256.1px,#0f7 0 257.4px,#11f 0 258.7px,#2f2 0 260px,#0f8 0 261.3px,#fd0 0 262.6px,#6f0 0 263.9px,#5f1 0 265.2px,#2f2 0 266.5px,#bf0 0 267.8px,#5f1 0 269.1px,#bf0 0 270.4px,#df0 0 273px,#7f0 0 274.3px,#df0 0 275.6px,#6f0 0 276.9px,#fc0 0 278.2px,#df0 0 279.5px,#7f0 0 280.8px,#fd0 0 282.1px,#bf0 0 283.4px,#fc0 0 284.7px,#9f0 0 286px,#5f1 0 287.3px,#cf0 0 288.6px,#bf0 0 289.9px,#df0 0 291.2px,#bf0 0 292.5px,#df0 0 295.1px,#ee0 0 296.4px,#fe0 0 297.7px,#ee0 0 299px,#0af 0 300.3px,#fc0 0 301.6px,#fb0 0 302.9px,#f90 0 304.2px,#f70 0 305.5px,#f40 0 306.8px,#f50 0 308.1px,#f20 0 309.4px,#f00 0 310.7px,#f20 0 312px,#c00 0 313.3px,#e00 0 314.6px,#f00 0 315.9px,#03f 0 317.2px,#f60 0 318.5px,#f70 0 319.8px,#0af 0 321.1px,#f80 0 322.4px,#fa0 0 323.7px,#fc0 0 326.3px,#ef0 0 327.6px,#fe0 0 328.9px,#df0 0 330.2px,#cf0 0 332.8px,#af0 0 334.1px,#9f0 0 335.4px,#7f0 0 336.7px,#6f0 0 338px,#2f1 0 339.3px,#1f4 0 340.5px)"></i>
<i style="left:352px;top:649px;width:340.5px;height:12px;background:linear-gradient(90deg,#2f2 0 1.3px,#4f1 0 2.6px,#5f1 0 3.9px,#4f1 0 5.2px,#6f0 0 6.5px,#2f1 0 7.8px,#3f1 0 9.1px,#7f0 0 10.4px,#1f4 0 11.7px,#6f1 0 13px,#1f5 0 14.3px,#4f1 0 15.6px,#2f1 0 18.2px,#7f0 0 19.5px,#6f0 0 20.8px,#4f1 0 23.4px,#2f3 0 24.7px,#4f1 0 26px,#2f2 0 29.9px,#4f1 0 31.2px,#9f0 0 32.5px,#4f1 0 33.8px,#6f1 0 35.1px,#5f1 0 36.4px,#4f1 0 37.7px,#2f3 0 39px,#5f1 0 40.3px,#bf0 0 41.6px,#6f0 0 42.9px,#7f0 0 44.2px,#af0 0 45.5px,#8f0 0 46.8px,#ef0 0 48.1px,#af0 0 49.4px,#ef0 0 50.7px,#df0 0 53.3px,#8f0 0 54.6px,#ef0 0 55.9px,#df0 0 57.2px,#ef0 0 58.5px,#bf0 0 59.8px,#2f2 0 61.1px,#7f0 0 63.7px,#8f0 0 65px,#0f8 0 66.3px,#1f6 0 67.6px,#5f1 0 68.9px,#6f1 0 70.2px,#5f1 0 71.5px,#2f2 0 74.1px,#4f1 0 75.4px,#5f1 0 76.7px,#1f4 0 78px,#6f1 0 79.3px,#5f1 0 81.9px,#8f0 0 83.2px,#6f1 0 84.5px,#2f1 0 85.8px,#2f2 0 87.1px,#4f1 0 88.4px,#8f0 0 89.7px,#7f0 0 91px,#5f1 0 93.6px,#6f0 0 94.9px,#5f1 0 96.2px,#3f1 0 97.5px,#bf0 0 98.8px,#ee0 0 100.1px,#ef0 0 101.4px,#fe0 0 102.7px,#ee0 0 104px,#9f0 0 105.3px,#fa0 0 106.6px,#fe0 0 109.2px,#bf0 0 110.5px,#fe0 0 111.8px,#cf0 0 113.1px,#7f0 0 114.4px,#9f0 0 115.7px,#af0 0 117px,#4f1 0 118.3px,#5f1 0 119.6px,#3f1 0 120.9px,#af0 0 122.2px,#7f0 0 123.5px,#3f1 0 124.8px,#9f0 0 126.1px,#7f0 0 127.4px,#5f1 0 128.7px,#4f1 0 130px,#6f1 0 131.3px,#0f7 0 132.6px,#3f1 0 133.9px,#5f1 0 136.5px,#af0 0 137.8px,#6f0 0 139.1px,#9f0 0 140.4px,#5f1 0 141.7px,#8f0 0 143px,#7f0 0 144.3px,#4f1 0 146.9px,#5f1 0 148.2px,#1f4 0 149.5px,#4f1 0 150.8px,#3f1 0 152.1px,#5f1 0 153.4px,#6f1 0 154.7px,#3f1 0 156px,#5f1 0 157.3px,#8f0 0 158.6px,#6f1 0 159.9px,#3f1 0 161.2px,#1f5 0 162.5px,#8f0 0 163.8px,#7f0 0 165.1px,#6f1 0 166.4px,#1f4 0 167.7px,#7f0 0 169px,#6f1 0 170.3px,#3f1 0 171.6px,#1f5 0 172.9px,#3f1 0 174.2px,#9f0 0 175.5px,#4f1 0 176.8px,#ee0 0 178.1px,#fe0 0 180.7px,#fb0 0 182px,#fd0 0 183.3px,#fe0 0 184.6px,#fc0 0 185.9px,#ef0 0 187.2px,#ee0 0 188.5px,#fd0 0 189.8px,#ef0 0 191.1px,#af0 0 192.4px,#fd0 0 195px,#fc0 0 196.3px,#ee0 0 197.6px,#fb0 0 198.9px,#bf0 0 200.2px,#fe0 0 202.8px,#af0 0 204.1px,#bf0 0 205.4px,#ef0 0 206.7px,#ee0 0 208px,#fd0 0 209.3px,#ef0 0 211.9px,#bf0 0 213.2px,#9f0 0 214.5px,#bf0 0 215.8px,#cf0 0 217.1px,#8f0 0 218.4px,#af0 0 219.7px,#6f1 0 221px,#bf0 0 222.3px,#7f0 0 223.6px,#af0 0 224.9px,#7f0 0 226.2px,#bf0 0 227.5px,#af0 0 228.8px,#bf0 0 230.1px,#af0 0 231.4px,#df0 0 232.7px,#af0 0 236.6px,#9f0 0 237.9px,#5f1 0 239.2px,#df0 0 241.8px,#cf0 0 245.7px,#ef0 0 247px,#6f1 0 248.3px,#cf0 0 249.6px,#fe0 0 250.9px,#ef0 0 252.2px,#9f0 0 253.5px,#fe0 0 254.8px,#df0 0 256.1px,#bf0 0 257.4px,#8f0 0 258.7px,#df0 0 260px,#cf0 0 261.3px,#bf0 0 262.6px,#fd0 0 263.9px,#af0 0 265.2px,#bf0 0 266.5px,#ee0 0 267.8px,#df0 0 269.1px,#ee0 0 270.4px,#df0 0 273px,#cf0 0 274.3px,#df0 0 275.6px,#ef0 0 276.9px,#fe0 0 278.2px,#af0 0 279.5px,#cf0 0 280.8px,#9f0 0 282.1px,#6f1 0 283.4px,#df0 0 284.7px,#cf0 0 286px,#8f0 0 287.3px,#df0 0 288.6px,#7f0 0 289.9px,#9f0 0 291.2px,#2f1 0 292.5px,#cf0 0 293.8px,#9f0 0 295.1px,#ef0 0 296.4px,#9f0 0 297.7px,#cf0 0 299px,#7f0 0 300.3px,#af0 0 301.6px,#8f0 0 302.9px,#9f0 0 304.2px,#8f0 0 305.5px,#9f0 0 306.8px,#5f1 0 308.1px,#bf0 0 309.4px,#fe0 0 310.7px,#ee0 0 312px,#fd0 0 313.3px,#fa0 0 314.6px,#f80 0 317.2px,#f70 0 318.5px,#f50 0 319.8px,#f70 0 321.1px,#f90 0 322.4px,#fa0 0 323.7px,#fc0 0 325px,#df0 0 326.3px,#fd0 0 327.6px,#ef0 0 330.2px,#cf0 0 331.5px,#df0 0 332.8px,#6f1 0 334.1px,#fe0 0 335.4px,#cf0 0 336.7px,#af0 0 339.3px,#df0 0 340.5px)"></i>
<i style="left:352px;top:661px;width:340.5px;height:12px;background:linear-gradient(90deg,#9f0 0 1.3px,#af0 0 2.6px,#bf0 0 3.9px,#9f0 0 5.2px,#2f1 0 6.5px,#af0 0 7.8px,#2f1 0 9.1px,#bf0 0 10.4px,#2f1 0 11.7px,#9f0 0 13px,#2f1 0 15.6px,#af0 0 16.9px,#8f0 0 18.2px,#af0 0 20.8px,#8f0 0 23.4px,#af0 0 24.7px,#9f0 0 26px,#bf0 0 28.6px,#2f1 0 33.8px,#9f0 0 35.1px,#af0 0 36.4px,#2f1 0 37.7px,#9f0 0 39px,#2f1 0 40.3px,#af0 0 41.6px,#7f0 0 42.9px,#2f1 0 45.5px,#af0 0 46.8px,#2f1 0 49.4px,#7f0 0 50.7px,#8f0 0 52px,#9f0 0 53.3px,#af0 0 54.6px,#2f1 0 55.9px,#af0 0 57.2px,#8f0 0 58.5px,#9f0 0 61.1px,#cf0 0 62.4px,#af0 0 63.7px,#9f0 0 65px,#2f1 0 66.3px,#af0 0 70.2px,#2f1 0 71.5px,#bf0 0 74.1px,#2f1 0 75.4px,#8f0 0 76.7px,#af0 0 79.3px,#bf0 0 80.6px,#9f0 0 81.9px,#2f1 0 83.2px,#af0 0 84.5px,#7f0 0 85.8px,#9f0 0 87.1px,#af0 0 88.4px,#9f0 0 89.7px,#2f1 0 92.3px,#af0 0 93.6px,#bf0 0 94.9px,#9f0 0 97.5px,#af0 0 98.8px,#2f1 0 100.1px,#af0 0 101.4px,#9f0 0 102.7px,#2f1 0 104px,#7f0 0 105.3px,#bf0 0 106.6px,#af0 0 107.9px,#bf0 0 109.2px,#2f1 0 110.5px,#af0 0 111.8px,#2f1 0 114.4px,#9f0 0 115.7px,#af0 0 117px,#2f1 0 118.3px,#af0 0 119.6px,#9f0 0 120.9px,#8f0 0 122.2px,#af0 0 123.5px,#cf0 0 124.8px,#bf0 0 126.1px,#2f1 0 127.4px,#af0 0 128.7px,#bf0 0 130px,#2f1 0 131.3px,#af0 0 133.9px,#2f1 0 135.2px,#bf0 0 136.5px,#af0 0 139.1px,#bf0 0 140.4px,#2f1 0 141.7px,#af0 0 143px,#9f0 0 145.6px,#2f1 0 146.9px,#cf0 0 148.2px,#8f0 0 150.8px,#bf0 0 152.1px,#9f0 0 153.4px,#af0 0 156px,#2f1 0 157.3px,#f90 0 158.6px,#2f1 0 159.9px,#9f0 0 161.2px,#af0 0 162.5px,#2f1 0 163.8px,#9f0 0 165.1px,#2f1 0 166.4px,#8f0 0 167.7px,#9f0 0 169px,#2f1 0 170.3px,#f10 0 171.6px,#9f0 0 172.9px,#af0 0 174.2px,#9f0 0 175.5px,#2f1 0 178.1px,#af0 0 180.7px,#bf0 0 182px,#8f0 0 183.3px,#9f0 0 184.6px,#bf0 0 187.2px,#af0 0 188.5px,#2f1 0 189.8px,#bf0 0 191.1px,#9f0 0 192.4px,#2f1 0 193.7px,#8f0 0 195px,#af0 0 197.6px,#8f0 0 200.2px,#af0 0 201.5px,#9f0 0 202.8px,#bf0 0 204.1px,#2f1 0 206.7px,#af0 0 208px,#bf0 0 209.3px,#9f0 0 210.6px,#bf0 0 211.9px,#9f0 0 213.2px,#bf0 0 214.5px,#8f0 0 215.8px,#af0 0 217.1px,#9f0 0 218.4px,#7f0 0 219.7px,#2f1 0 221px,#bf0 0 222.3px,#9f0 0 223.6px,#af0 0 224.9px,#2f1 0 226.2px,#8f0 0 227.5px,#2f1 0 228.8px,#9f0 0 230.1px,#bf0 0 231.4px,#9f0 0 232.7px,#2f1 0 234px,#bf0 0 235.3px,#9f0 0 236.6px,#af0 0 237.9px,#bf0 0 241.8px,#2f1 0 243.1px,#9f0 0 244.4px,#af0 0 248.3px,#bf0 0 249.6px,#af0 0 250.9px,#9f0 0 252.2px,#8f0 0 253.5px,#af0 0 256.1px,#2f1 0 257.4px,#9f0 0 258.7px,#2f1 0 260px,#af0 0 261.3px,#9f0 0 262.6px,#2f1 0 263.9px,#9f0 0 265.2px,#bf0 0 266.5px,#9f0 0 267.8px,#2f1 0 269.1px,#af0 0 270.4px,#2f1 0 271.7px,#9f0 0 273px,#af0 0 274.3px,#bf0 0 275.6px,#af0 0 276.9px,#9f0 0 278.2px,#af0 0 279.5px,#bf0 0 280.8px,#9f0 0 282.1px,#bf0 0 283.4px,#9f0 0 284.7px,#af0 0 286px,#9f0 0 288.6px,#8f0 0 289.9px,#af0 0 292.5px,#9f0 0 295.1px,#2f1 0 296.4px,#bf0 0 297.7px,#af0 0 302.9px,#9f0 0 304.2px,#af0 0 305.5px,#2f1 0 309.4px,#8f0 0 310.7px,#af0 0 312px,#bf0 0 313.3px,#af0 0 314.6px,#9f0 0 315.9px,#7f0 0 317.2px,#bf0 0 318.5px,#9f0 0 319.8px,#af0 0 321.1px,#9f0 0 322.4px,#bf0 0 323.7px,#af0 0 325px,#9f0 0 327.6px,#af0 0 328.9px,#8f0 0 330.2px,#9f0 0 332.8px,#af0 0 336.7px,#cf0 0 338px,#af0 0 340.5px)"></i>
<i style="left:352px;top:673px;width:340.5px;height:12px;background:linear-gradient(90deg,#af0 0 1.3px,#9f0 0 2.6px,#af0 0 3.9px,#bf0 0 5.2px,#8f0 0 6.5px,#af0 0 9.1px,#9f0 0 10.4px,#cf0 0 11.7px,#9f0 0 13px,#af0 0 14.3px,#3f1 0 15.6px,#af0 0 16.9px,#8f0 0 18.2px,#af0 0 19.5px,#bf0 0 20.8px,#9f0 0 22.1px,#af0 0 23.4px,#bf0 0 24.7px,#cf0 0 26px,#3f1 0 27.3px,#af0 0 28.6px,#9f0 0 29.9px,#8f0 0 31.2px,#3f1 0 32.5px,#af0 0 33.8px,#bf0 0 36.4px,#af0 0 37.7px,#9f0 0 39px,#cf0 0 40.3px,#3f1 0 41.6px,#9f0 0 44.2px,#bf0 0 48.1px,#af0 0 49.4px,#bf0 0 50.7px,#3f1 0 53.3px,#bf0 0 54.6px,#af0 0 57.2px,#cf0 0 58.5px,#3f1 0 59.8px,#af0 0 61.1px,#bf0 0 62.4px,#3f1 0 65px,#af0 0 67.6px,#9f0 0 68.9px,#cf0 0 70.2px,#9f0 0 71.5px,#af0 0 75.4px,#9f0 0 76.7px,#3f1 0 78px,#cf0 0 79.3px,#af0 0 80.6px,#9f0 0 81.9px,#3f1 0 83.2px,#af0 0 84.5px,#bf0 0 87.1px,#af0 0 88.4px,#9f0 0 92.3px,#af0 0 93.6px,#bf0 0 94.9px,#3f1 0 96.2px,#bf0 0 97.5px,#3f1 0 98.8px,#cf0 0 100.1px,#af0 0 101.4px,#9f0 0 102.7px,#af0 0 104px,#9f0 0 105.3px,#bf0 0 106.6px,#af0 0 107.9px,#bf0 0 109.2px,#9f0 0 111.8px,#3f1 0 113.1px,#bf0 0 114.4px,#9f0 0 115.7px,#af0 0 118.3px,#3f1 0 119.6px,#af0 0 122.2px,#bf0 0 123.5px,#af0 0 124.8px,#9f0 0 128.7px,#af0 0 130px,#9f0 0 131.3px,#af0 0 133.9px,#9f0 0 135.2px,#bf0 0 136.5px,#af0 0 139.1px,#8f0 0 140.4px,#3f1 0 141.7px,#8f0 0 143px,#9f0 0 144.3px,#bf0 0 146.9px,#8f0 0 148.2px,#bf0 0 149.5px,#af0 0 150.8px,#bf0 0 152.1px,#af0 0 153.4px,#bf0 0 156px,#9f0 0 157.3px,#ee0 0 158.6px,#bf0 0 159.9px,#9f0 0 161.2px,#3f1 0 162.5px,#9f0 0 163.8px,#bf0 0 165.1px,#9f0 0 166.4px,#7f0 0 167.7px,#3f1 0 169px,#8f0 0 170.3px,#f90 0 171.6px,#af0 0 172.9px,#bf0 0 174.2px,#9f0 0 175.5px,#3f1 0 176.8px,#af0 0 178.1px,#9f0 0 179.4px,#3f1 0 182px,#af0 0 183.3px,#cf0 0 184.6px,#af0 0 185.9px,#9f0 0 187.2px,#bf0 0 189.8px,#af0 0 191.1px,#bf0 0 192.4px,#3f1 0 193.7px,#cf0 0 195px,#bf0 0 196.3px,#af0 0 197.6px,#8f0 0 198.9px,#bf0 0 200.2px,#9f0 0 201.5px,#af0 0 202.8px,#3f1 0 204.1px,#8f0 0 205.4px,#3f1 0 206.7px,#8f0 0 208px,#bf0 0 209.3px,#9f0 0 210.6px,#af0 0 211.9px,#3f1 0 213.2px,#af0 0 215.8px,#8f0 0 217.1px,#af0 0 218.4px,#bf0 0 219.7px,#af0 0 221px,#9f0 0 222.3px,#3f1 0 223.6px,#9f0 0 224.9px,#af0 0 226.2px,#bf0 0 227.5px,#af0 0 228.8px,#bf0 0 230.1px,#8f0 0 231.4px,#3f1 0 232.7px,#bf0 0 234px,#af0 0 236.6px,#8f0 0 237.9px,#3f1 0 239.2px,#af0 0 240.5px,#bf0 0 244.4px,#af0 0 245.7px,#3f1 0 247px,#bf0 0 248.3px,#af0 0 250.9px,#9f0 0 252.2px,#bf0 0 253.5px,#3f1 0 254.8px,#af0 0 256.1px,#bf0 0 257.4px,#3f1 0 258.7px,#af0 0 260px,#3f1 0 261.3px,#af0 0 262.6px,#3f1 0 263.9px,#9f0 0 266.5px,#bf0 0 267.8px,#af0 0 270.4px,#bf0 0 271.7px,#9f0 0 273px,#bf0 0 274.3px,#cf0 0 275.6px,#9f0 0 276.9px,#3f1 0 278.2px,#bf0 0 280.8px,#3f1 0 282.1px,#9f0 0 283.4px,#af0 0 287.3px,#3f1 0 288.6px,#bf0 0 291.2px,#3f1 0 292.5px,#bf0 0 293.8px,#cf0 0 295.1px,#9f0 0 296.4px,#af0 0 300.3px,#3f1 0 305.5px,#af0 0 306.8px,#8f0 0 308.1px,#cf0 0 309.4px,#3f1 0 312px,#bf0 0 313.3px,#9f0 0 314.6px,#3f1 0 315.9px,#9f0 0 318.5px,#3f1 0 319.8px,#9f0 0 321.1px,#bf0 0 322.4px,#3f1 0 323.7px,#9f0 0 325px,#8f0 0 327.6px,#af0 0 328.9px,#9f0 0 330.2px,#8f0 0 331.5px,#9f0 0 334.1px,#ef0 0 335.4px,#9f0 0 338px,#af0 0 340.5px)"></i>
<i style="left:352px;top:685px;width:340.5px;height:5px;background:linear-gradient(90deg,#fe0 0 9.1px,#ee0 0 10.4px,#fe0 0 11.7px,#ef0 0 13px,#fe0 0 15.6px,#fd0 0 16.9px,#fe0 0 19.5px,#fd0 0 22.1px,#fe0 0 24.7px,#ee0 0 28.6px,#fe0 0 29.9px,#ee0 0 31.2px,#fe0 0 32.5px,#fd0 0 33.8px,#ee0 0 35.1px,#fd0 0 36.4px,#fe0 0 39px,#fd0 0 40.3px,#ee0 0 41.6px,#fe0 0 50.7px,#ee0 0 52px,#fd0 0 53.3px,#fe0 0 55.9px,#ee0 0 57.2px,#fe0 0 59.8px,#fd0 0 61.1px,#ee0 0 62.4px,#fe0 0 63.7px,#ee0 0 66.3px,#fe0 0 78px,#ef0 0 79.3px,#fd0 0 80.6px,#ee0 0 81.9px,#fe0 0 83.2px,#ee0 0 84.5px,#fe0 0 85.8px,#ee0 0 88.4px,#fe0 0 92.3px,#ef0 0 93.6px,#fe0 0 94.9px,#ee0 0 96.2px,#fe0 0 101.4px,#fd0 0 102.7px,#ef0 0 104px,#fe0 0 106.6px,#fd0 0 107.9px,#ee0 0 109.2px,#fd0 0 110.5px,#ee0 0 111.8px,#fd0 0 113.1px,#fe0 0 114.4px,#fd0 0 115.7px,#fe0 0 117px,#ee0 0 118.3px,#ef0 0 119.6px,#fe0 0 123.5px,#ee0 0 124.8px,#fe0 0 128.7px,#fd0 0 130px,#fe0 0 131.3px,#ef0 0 132.6px,#fe0 0 137.8px,#ee0 0 139.1px,#fe0 0 143px,#ee0 0 144.3px,#fe0 0 145.6px,#ee0 0 146.9px,#fe0 0 152.1px,#ee0 0 153.4px,#fd0 0 154.7px,#fe0 0 156px,#fd0 0 157.3px,#fe0 0 162.5px,#fd0 0 163.8px,#ee0 0 165.1px,#fe0 0 166.4px,#ef0 0 167.7px,#ee0 0 169px,#ef0 0 170.3px,#fe0 0 176.8px,#ee0 0 178.1px,#fe0 0 179.4px,#fd0 0 182px,#fe0 0 187.2px,#ee0 0 189.8px,#fd0 0 191.1px,#fe0 0 192.4px,#fd0 0 193.7px,#fe0 0 196.3px,#ee0 0 197.6px,#fe0 0 202.8px,#ee0 0 204.1px,#fe0 0 206.7px,#fd0 0 208px,#fe0 0 209.3px,#ef0 0 210.6px,#ee0 0 213.2px,#fe0 0 214.5px,#ee0 0 215.8px,#fe0 0 217.1px,#ee0 0 219.7px,#fd0 0 221px,#fe0 0 224.9px,#ee0 0 228.8px,#fe0 0 230.1px,#fd0 0 231.4px,#fe0 0 232.7px,#ef0 0 234px,#fe0 0 235.3px,#fd0 0 236.6px,#fe0 0 237.9px,#ee0 0 239.2px,#fe0 0 244.4px,#ee0 0 245.7px,#fe0 0 248.3px,#ee0 0 250.9px,#ef0 0 252.2px,#fe0 0 256.1px,#ee0 0 257.4px,#fd0 0 258.7px,#fe0 0 260px,#ee0 0 261.3px,#fe0 0 265.2px,#ef0 0 266.5px,#fd0 0 267.8px,#fe0 0 269.1px,#fd0 0 270.4px,#ee0 0 271.7px,#fe0 0 273px,#ee0 0 274.3px,#fe0 0 276.9px,#ee0 0 278.2px,#fe0 0 280.8px,#ee0 0 282.1px,#ef0 0 283.4px,#fe0 0 287.3px,#ee0 0 288.6px,#ef0 0 289.9px,#fe0 0 293.8px,#ee0 0 295.1px,#fd0 0 296.4px,#fe0 0 299px,#fd0 0 300.3px,#fe0 0 301.6px,#ee0 0 302.9px,#fe0 0 304.2px,#ee0 0 306.8px,#fe0 0 310.7px,#ee0 0 312px,#fe0 0 314.6px,#ee0 0 317.2px,#fe0 0 318.5px,#fd0 0 319.8px,#fe0 0 328.9px,#ef0 0 330.2px,#fe0 0 334.1px,#fd0 0 335.4px,#ee0 0 336.7px,#fe0 0 338px,#ee0 0 340.5px)"></i>
<i style="left:352px;top:691px;width:340.5px;height:5px;background:linear-gradient(90deg,#08f 0 120.9px,#09f 0 131.3px,#08f 0 137.8px,#09f 0 149.5px,#08f 0 256.1px,#09f 0 270.4px,#08f 0 293.8px,#09f 0 308.1px,#08f 0 340.5px)"></i>
<i style="left:352px;top:696px;width:340.5px;height:12px;background:linear-gradient(90deg,#03f 0 54.6px,#04f 0 61.1px,#05f 0 75.4px,#04f 0 81.9px,#03f 0 120.9px,#04f 0 122.2px,#06f 0 123.5px,#08f 0 124.8px,#09f 0 126.1px,#08f 0 127.4px,#07f 0 128.7px,#05f 0 130px,#04f 0 131.3px,#03f 0 139.1px,#04f 0 140.4px,#06f 0 141.7px,#07f 0 143px,#08f 0 144.3px,#07f 0 145.6px,#06f 0 146.9px,#04f 0 148.2px,#03f 0 222.3px,#04f 0 227.5px,#05f 0 239.2px,#04f 0 245.7px,#03f 0 254.8px,#04f 0 256.1px,#05f 0 257.4px,#06f 0 258.7px,#07f 0 260px,#08f 0 261.3px,#09f 0 266.5px,#08f 0 267.8px,#06f 0 269.1px,#05f 0 270.4px,#04f 0 273px,#03f 0 291.2px,#04f 0 293.8px,#05f 0 295.1px,#06f 0 296.4px,#08f 0 297.7px,#09f 0 302.9px,#08f 0 304.2px,#07f 0 305.5px,#06f 0 306.8px,#05f 0 308.1px,#04f 0 309.4px,#03f 0 340.5px)"></i>
<i style="left:352px;top:708px;width:340.5px;height:12px;background:linear-gradient(90deg,#40c 0 84.5px,#40b 0 87.1px,#40c 0 131.3px,#30c 0 132.6px,#11f 0 133.9px,#20e 0 135.2px,#40c 0 274.3px,#30d 0 275.6px,#11f 0 276.9px,#20e 0 278.2px,#40c 0 287.3px,#30d 0 288.6px,#11f 0 289.9px,#20e 0 291.2px,#40c 0 340.5px)"></i>
<i style="left:352px;top:720px;width:340.5px;height:12px;background:linear-gradient(90deg,#509 0 2.6px,#507 0 3.9px,#509 0 9.1px,#507 0 10.4px,#509 0 13px,#507 0 14.3px,#509 0 31.2px,#507 0 33.8px,#509 0 35.1px,#507 0 37.7px,#509 0 39px,#507 0 40.3px,#509 0 42.9px,#507 0 44.2px,#509 0 65px,#507 0 66.3px,#509 0 70.2px,#507 0 71.5px,#509 0 76.7px,#507 0 78px,#509 0 80.6px,#507 0 81.9px,#509 0 84.5px,#507 0 85.8px,#509 0 96.2px,#507 0 97.5px,#509 0 102.7px,#507 0 104px,#509 0 109.2px,#507 0 110.5px,#509 0 114.4px,#507 0 115.7px,#509 0 132.6px,#000 0 133.9px,#507 0 135.2px,#509 0 144.3px,#507 0 146.9px,#509 0 150.8px,#507 0 156px,#509 0 158.6px,#000 0 159.9px,#509 0 161.2px,#04f 0 162.5px,#509 0 165.1px,#507 0 166.4px,#509 0 169px,#507 0 170.3px,#000 0 171.6px,#507 0 172.9px,#509 0 174.2px,#507 0 176.8px,#509 0 179.4px,#507 0 180.7px,#509 0 185.9px,#507 0 188.5px,#509 0 196.3px,#507 0 197.6px,#509 0 200.2px,#507 0 202.8px,#509 0 204.1px,#507 0 206.7px,#509 0 208px,#507 0 209.3px,#509 0 210.6px,#507 0 211.9px,#509 0 218.4px,#507 0 219.7px,#509 0 222.3px,#507 0 224.9px,#509 0 234px,#507 0 235.3px,#509 0 244.4px,#507 0 245.7px,#509 0 247px,#507 0 252.2px,#509 0 257.4px,#507 0 258.7px,#509 0 260px,#507 0 261.3px,#509 0 263.9px,#507 0 265.2px,#509 0 266.5px,#507 0 267.8px,#509 0 273px,#507 0 274.3px,#509 0 278.2px,#000 0 279.5px,#509 0 282.1px,#507 0 284.7px,#509 0 292.5px,#507 0 293.8px,#509 0 295.1px,#507 0 296.4px,#509 0 301.6px,#507 0 302.9px,#509 0 304.2px,#507 0 306.8px,#509 0 308.1px,#507 0 309.4px,#509 0 310.7px,#507 0 312px,#509 0 313.3px,#507 0 314.6px,#509 0 317.2px,#507 0 318.5px,#509 0 326.3px,#507 0 327.6px,#509 0 334.1px,#507 0 335.4px,#509 0 338px,#507 0 339.3px,#509 0 340.5px)"></i>
<i style="left:352px;top:732px;width:340.5px;height:12px;background:linear-gradient(90deg,#509 0 2.6px,#507 0 3.9px,#509 0 7.8px,#507 0 11.7px,#509 0 14.3px,#507 0 16.9px,#509 0 26px,#507 0 27.3px,#509 0 28.6px,#507 0 29.9px,#509 0 35.1px,#507 0 37.7px,#509 0 40.3px,#507 0 41.6px,#509 0 42.9px,#507 0 44.2px,#509 0 45.5px,#507 0 46.8px,#509 0 57.2px,#507 0 58.5px,#509 0 61.1px,#507 0 62.4px,#509 0 67.6px,#507 0 68.9px,#509 0 72.8px,#507 0 74.1px,#509 0 80.6px,#507 0 81.9px,#509 0 88.4px,#507 0 91px,#509 0 94.9px,#507 0 97.5px,#509 0 102.7px,#507 0 104px,#509 0 107.9px,#507 0 110.5px,#509 0 115.7px,#507 0 117px,#509 0 119.6px,#507 0 122.2px,#509 0 127.4px,#507 0 130px,#509 0 135.2px,#507 0 139.1px,#509 0 141.7px,#507 0 143px,#509 0 145.6px,#507 0 148.2px,#509 0 149.5px,#507 0 150.8px,#509 0 153.4px,#507 0 156px,#509 0 159.9px,#507 0 161.2px,#000 0 162.5px,#06f 0 163.8px,#507 0 165.1px,#509 0 166.4px,#507 0 170.3px,#509 0 176.8px,#507 0 179.4px,#509 0 183.3px,#507 0 184.6px,#509 0 192.4px,#507 0 193.7px,#509 0 195px,#507 0 196.3px,#509 0 200.2px,#507 0 201.5px,#509 0 202.8px,#507 0 209.3px,#509 0 210.6px,#507 0 211.9px,#509 0 213.2px,#507 0 214.5px,#509 0 215.8px,#507 0 217.1px,#509 0 219.7px,#507 0 221px,#509 0 227.5px,#507 0 230.1px,#509 0 231.4px,#507 0 232.7px,#509 0 235.3px,#507 0 239.2px,#509 0 241.8px,#507 0 244.4px,#509 0 245.7px,#507 0 247px,#509 0 252.2px,#507 0 253.5px,#509 0 257.4px,#507 0 258.7px,#509 0 260px,#507 0 261.3px,#509 0 262.6px,#507 0 265.2px,#509 0 266.5px,#507 0 267.8px,#509 0 271.7px,#507 0 273px,#509 0 275.6px,#507 0 276.9px,#509 0 278.2px,#507 0 282.1px,#509 0 283.4px,#507 0 284.7px,#509 0 291.2px,#507 0 295.1px,#509 0 297.7px,#507 0 299px,#509 0 302.9px,#507 0 304.2px,#509 0 306.8px,#507 0 308.1px,#509 0 312px,#507 0 313.3px,#509 0 314.6px,#507 0 315.9px,#509 0 321.1px,#507 0 323.7px,#509 0 326.3px,#507 0 327.6px,#509 0 330.2px,#507 0 332.8px,#509 0 336.7px,#507 0 338px,#509 0 339.3px,#507 0 340.5px)"></i>
<i style="left:352px;top:744px;width:340.5px;height:5px;background:linear-gradient(90deg,#000 0 2.6px,#06f 0 3.9px,#000 0 5.2px,#06f 0 10.4px,#000 0 13px,#06f 0 14.3px,#000 0 15.6px,#06f 0 16.9px,#000 0 18.2px,#06f 0 22.1px,#000 0 23.4px,#06f 0 24.7px,#000 0 28.6px,#06f 0 29.9px,#000 0 32.5px,#06f 0 33.8px,#000 0 36.4px,#06f 0 37.7px,#000 0 41.6px,#06f 0 46.8px,#000 0 49.4px,#06f 0 50.7px,#000 0 52px,#06f 0 55.9px,#000 0 57.2px,#06f 0 62.4px,#000 0 63.7px,#06f 0 74.1px,#000 0 75.4px,#06f 0 76.7px,#000 0 78px,#06f 0 79.3px,#000 0 80.6px,#06f 0 83.2px,#000 0 85.8px,#06f 0 89.7px,#000 0 91px,#06f 0 92.3px,#000 0 94.9px,#06f 0 101.4px,#000 0 104px,#06f 0 106.6px,#000 0 119.6px,#06f 0 120.9px,#000 0 124.8px,#06f 0 126.1px,#000 0 140.4px,#06f 0 141.7px,#000 0 149.5px,#06f 0 150.8px,#000 0 154.7px,#06f 0 158.6px,#000 0 159.9px,#0de 0 163.8px,#06f 0 170.3px,#000 0 172.9px,#06f 0 176.8px,#000 0 183.3px,#06f 0 189.8px,#000 0 193.7px,#06f 0 196.3px,#000 0 197.6px,#06f 0 202.8px,#000 0 204.1px,#06f 0 211.9px,#000 0 214.5px,#06f 0 215.8px,#000 0 218.4px,#06f 0 219.7px,#000 0 221px,#06f 0 222.3px,#000 0 226.2px,#06f 0 228.8px,#000 0 230.1px,#06f 0 231.4px,#000 0 236.6px,#06f 0 239.2px,#000 0 240.5px,#06f 0 241.8px,#000 0 245.7px,#06f 0 249.6px,#000 0 252.2px,#06f 0 253.5px,#000 0 254.8px,#06f 0 256.1px,#000 0 260px,#06f 0 261.3px,#000 0 271.7px,#06f 0 273px,#000 0 274.3px,#06f 0 275.6px,#000 0 276.9px,#06f 0 278.2px,#000 0 283.4px,#06f 0 284.7px,#000 0 286px,#06f 0 287.3px,#000 0 304.2px,#06f 0 305.5px,#000 0 309.4px,#06f 0 310.7px,#000 0 312px,#06f 0 313.3px,#000 0 323.7px,#06f 0 325px,#000 0 330.2px,#06f 0 331.5px,#000 0 332.8px,#06f 0 335.4px,#000 0 340.5px)"></i>
<svg width="750" height="800" viewBox="0 0 750 800">
<defs><linearGradient id="cb" x1="0" y1="0" x2="0" y2="1"><stop offset="0.000" stop-color="#be0000"/><stop offset="0.050" stop-color="#ff0000"/><stop offset="0.100" stop-color="#ff5a00"/><stop offset="0.150" stop-color="#ffa100"/><stop offset="0.200" stop-color="#fbd800"/><stop offset="0.250" stop-color="#e7fb00"/><stop offset="0.300" stop-color="#a4fe00"/><stop offset="0.350" stop-color="#57ff0b"/><stop offset="0.400" stop-color="#1bff35"/><stop offset="0.450" stop-color="#00fd88"/><stop offset="0.500" stop-color="#00f5d7"/><stop offset="0.550" stop-color="#00d0f8"/><stop offset="0.600" stop-color="#009aff"/><stop offset="0.650" stop-color="#005eff"/><stop offset="0.700" stop-color="#001eff"/><stop offset="0.750" stop-color="#1905f2"/><stop offset="0.800" stop-color="#3b00d3"/><stop offset="0.850" stop-color="#5100aa"/><stop offset="0.900" stop-color="#550078"/><stop offset="0.950" stop-color="#30003e"/><stop offset="1.000" stop-color="#000000"/></linearGradient></defs><rect x="697.6" y="396.7" width="4.8" height="58.2" fill="url(#cb)" stroke="#000" stroke-width="0.9"/><rect x="697.6" y="455.7" width="4.8" height="57" fill="url(#cb)" stroke="#000" stroke-width="0.9"/><rect x="697.6" y="513.5" width="4.8" height="58.5" fill="url(#cb)" stroke="#000" stroke-width="0.9"/><rect x="697.6" y="572.8" width="4.8" height="58.1" fill="url(#cb)" stroke="#000" stroke-width="0.9"/><rect x="697.6" y="631.7" width="4.8" height="58" fill="url(#cb)" stroke="#000" stroke-width="0.9"/><rect x="697.6" y="690.5" width="4.8" height="58.3" fill="url(#cb)" stroke="#000" stroke-width="0.9"/>
<rect x="57" y="388.8" width="280.3" height="4.4" fill="#ffff00"/>
<rect x="337.3" y="388.8" width="355.7" height="4.4" fill="#ff0000"/>
<rect x="498.7" y="394" width="33" height="2.4" fill="#000"/>
<path d="M511.3 384.9h2M520.3 384.9h2.4" stroke="#000" stroke-width="1"/>
<path d="M390 629.6H427.5M447 629.6h4M455 629.6h3M461 629.6h2M466 629.6h6M475 629.6h5M507.5 629.6h2.5M528 629.6h5M536 629.6h4" stroke="#000" stroke-width="1.1"/>
<g fill="none" stroke-linejoin="round">
<path d="M58.5 43.6L70 43L79.3 38.8L95.3 38.8L102 41.5L115.3 44.1L127.3 49.5L135.3 49.5L142 52.1L147.3 51L154 55.3L159.3 55.3L172.7 52.1L180 46L191.3 46L202 48.7L210 51.6L215.3 50.3L250 50.3L252.7 49.5L258 50.5L270 50.3L282 48.9L290 47.3L300.7 46.3L322 46.3L327.3 47.3L343.3 47.3L348.7 48.4L355.3 47.1L363.3 46.8L370 41.5L378 38.8L380.7 36.7L386 26L391.3 25.5L395.3 24.1L403.3 29.2L410 28.7L414 28.1L420.7 30L427.3 30L434 27.3L438 29.2L445.3 29.2L454.7 21.5L460 22.5L474.7 23.3L480 22.3L488 22.3L494.7 25.5L502.7 28.7L509.3 36.7L513.3 39.9L518.7 40.4L525.3 42.8L533.3 43.3L541.3 46L549.3 46L560 43.9L565.9 48.1L570.7 44.7L577.3 38.3L584 37.2L600 36.1L610.7 35.9L614.7 34.3L626.7 34L635 33L640.8 31.2L648.3 32L665 38.3L673.3 38.3L680 41.7L685.8 43.7L688 44.5" stroke="#000" stroke-width="1.15"/>
<path d="M57.5 65.2L67.3 67.3L75.3 67.3L78.8 68.4L84 62.3L94 61.5L100.7 55.9L111.3 60.1L119.3 60.7L132.7 65.5L143.3 64.1L159.3 62.3L170 56.9L178 59.3L260.7 59.3L264.7 60.4L271.3 58L278 56.4L314 56.4L317.2 55.3L320.7 56.4L344.7 56.4L348.7 55.3L354 55.3L362 50.5L370 48.9L379.9 43.1L392.7 49.5L396.7 48.4L401.2 40.1L404.7 43.3L411.9 47.6L418 42L423.3 40.1L428.7 43.1L434 39.9L444.7 29.8L448 31.3L466.7 31.3L476 35.3L484 30.8L490.7 28.1L497.3 31.3L504 38.8L508 43.3L513.3 46L521.3 46.3L529.3 49.5L538.7 46.8L549.3 50.5L554.7 50.5L561.3 43.3L566.7 38.8L572 37.2L576.5 39.3L582.7 37.7L588 39.1L592 37.2L597.3 39.3L605.3 36.7L613.3 37.2L624 35.3L628 32.7L633.9 25.5L640 25.3L648.3 31.7L659.2 39.2L665 40.3L674.2 40.3L678.3 39.7L686.7 44.2L689.2 50L692.5 66.7" stroke="#0000ff" stroke-width="1.15"/>
<path d="M163.7 75.3h1M168.9 75.3h1M174.2 75.3h1M179.5 75.3h1M184.8 75.3h1M190.1 75.3h1M195.4 75.3h1M200.7 75.3h1M205.9 75.3h1M211.2 75.3h1M216.5 75.3h1M221.8 75.3h1M227.1 75.3h1M232.3 75.3h1M237.6 75.3h1M242.9 75.3h1M248.2 75.3h1M253.5 75.3h1M258.8 75.3h1M264 75.3h1M269.3 75.3h1M274.6 75.3h1M279.9 75.3h1M285.2 75.3h1M290.5 75.3h1M295.8 75.3h1M301 75.3h1M306.3 75.3h1M311.6 75.3h1M316.9 75.3h1M322.2 75.3h1M327.4 75.3h1M332.7 75.3h1M338 75.3h1M343.3 75.3h1M348.6 75.3h1M353.9 75.3h1M359.1 75.3h1M364.4 75.3h1M369.7 75.3h1M375 75.3h1M380.3 75.3h1M385.6 75.3h1M390.8 75.3h1M396.1 75.3h1M401.4 75.3h1M406.7 75.3h1M412 75.3h1M417.3 75.3h1M422.6 75.3h1M427.8 75.3h1M433.1 75.3h1M438.4 75.3h1M443.7 75.3h1M449 75.3h1M454.2 75.3h1M459.5 75.3h1M464.8 75.3h1M470.1 75.3h1M475.4 75.3h1M480.7 75.3h1M485.9 75.3h1M491.2 75.3h1M496.5 75.3h1M501.8 75.3h1M507.1 75.3h1M512.4 75.3h1M517.6 75.3h1M522.9 75.3h1M528.2 75.3h1M533.5 75.3h1M538.8 75.3h1M544.1 75.3h1M549.3 75.3h1M554.6 75.3h1M559.9 75.3h1M565.2 75.3h1M570.5 75.3h1M575.8 75.3h1M581 75.3h1M586.3 75.3h1M591.6 75.3h1M596.9 75.3h1M602.2 75.3h1M607.5 75.3h1M612.8 75.3h1M618 75.3h1M623.3 75.3h1M628.6 75.3h1M633.9 75.3h1M639.2 75.3h1M644.4 75.3h1M649.7 75.3h1M655 75.3h1M660.3 75.3h1M665.6 75.3h1M670.9 75.3h1M676.1 75.3h1M681.4 75.3h1M686.7 75.3h1M692 75.3h1" stroke="#ffb400" stroke-width="1.2"/>
<path d="M300.1 201L301.7 199.8L303.3 197.8L304.6 198.2L306 197.8L307.3 197.6L308.6 197.5L310 197.8L311.3 197.8L312.6 198.1L314 198.6L315.3 199.7L316.6 199.8L318 199.7L319.3 199.9L320.7 199.4L322 199.7L323.3 199.7L324.7 199.2L326 199.9L327.3 199.8L328.7 200.4L330 199.8L331.4 199.7L332.7 199.7L334 199.7L335.4 199.1L336.7 198.9L338 198.3L339.3 198.6L340.7 199.2L342 199.9L343.4 200.3L344.7 200.5L346 200.6L347.4 201.5L348.7 201.8L350 201.4L351.4 201.1L352.7 200.5L354 200.3L355.4 199.5L356.7 199.1L358 199.3L359.4 199.5L360.7 199.1L362 199.4L363.4 199.5L364.7 200.4L366 199.8L367.3 200.2L368.7 200.3L370 200.2L371.3 199.9L372.7 199.4L374 199.9L375.3 199.3L376.6 199.5L378 198.7L379.3 198.7L380.6 199.1L382 198.9L383.3 198.3L384.6 197.5L386 197.1L387.4 197.1L388.7 196.7L390 196.9L391.4 196.7L392.7 196.7L394 196.3L395.3 196.8L396.6 196.9L398 196.4L399.3 196.5L400.6 197L402 198L403.3 199.4L404.6 199.5L406 200.9L407.3 201.8L408.6 201.1L410 200.9L411.3 200.4L412.6 200L414 200L415.3 199.1L416.6 199.2L418 199.5L419.3 199.1L420.6 199L422 199.2L423.3 198.2L424.6 199.1L426 199.1L427.3 198.7L428.6 199.2L430 198.9L431.3 198.4L432.6 199L434 198.8L435.3 198.9L436.6 199.1L438 199.5L439.3 199.1L440.6 198.9L442 198.7L443.3 198.6L444.6 197.7L446 198.4L447.3 197.8L448.6 197.7L450 198.5L451.3 198.2L452.7 198.5L454 199.1L455.3 199.7L456.7 201.2L458 201.6L459.4 202L460.7 202.9L462 202.8L463.4 202.6L464.7 202.9L466 202.7L467.4 203.1L468.7 202.9L470 201.5L471.3 200.8L472.7 199.6L474 198.6L475.3 197.8L476.6 198.3L478 198.4L479.3 198.8L480.7 199.2L482 199.1L483.3 199.4L484.7 198.6L486 199.2L487.3 198.4L488.7 198.9L490 198.9L491.4 199.5L492.7 198.9L494.1 198.9L495.4 199.1L496.8 199.1L498.1 199.1L499.4 199L500.8 199.5L502.1 199.5L503.5 199.3L505 199.8L506.4 200.6L507.9 201.2L509.3 201.9L510.8 202.2L512.3 189L513.8 188.8L515.2 188.4L516.7 187.8L518.1 186.8L519.6 186.1L520.5 183.1L521.4 199.3L522.8 198.3L524.1 197.8L525.5 197.2L527 198L528.4 198.5L529.8 198.8L531.3 199.3L532.8 198.9L534.3 199L535.7 199.3L537.2 199L538.7 198.4L540.2 198.4L541.6 198.9L543.1 198.7L544.6 199.1L546 199.7L547.5 199.9L548.9 199.7L550.2 199.9L551.6 199.8L552.9 199.5L554.3 199.5L555.6 198.8L557 198.4L558.3 198.8L559.7 199.2L561 198.4L562.4 197.8L563.7 198L565.1 197.8L566.5 198.3L567.8 197.6L569.2 198.2L570.5 197.9L571.9 198.5L573.2 198.5L574.6 198.4L575.9 199L577.3 198.3L578.6 198.3L580 199.1L581.3 198.4L582.7 198.7L584 199.5L585.4 199L586.7 198.8L588 199.2L589.3 199.4L590.7 199.6L592 199.6L593.3 200.1L594.6 199.2L596 199.9L597.3 200.2L598.6 200.4L600 201.3L601.3 200.4L602.6 201.2L604 201.2L605.3 201.6L606.7 202.2L608 202.4L609.3 203L610.7 202.7L612 203.1L613.3 202.9L614.6 202.8L615.9 202.4L617.2 201.7L618.5 201.8L619.8 200.9L621.1 201.4L622.4 200.6L623.7 200.2L625.2 199.9L626.6 199.8L628.1 199.7L629.6 199.7L631 198.9L632.5 198.7L633.9 198.7L635.2 199.1L636.6 198.7L637.9 198.6L639.3 199.4L640.6 199.1L642 199.7L643.3 199.1L644.7 198.7L646 199.7L647.4 199.8L648.7 200.3L650.1 199.9L651.5 200L652.8 199.8L654.2 199.8L655.5 199.4L656.9 199.5L658.2 198.9L659.6 199.4L660.9 198.9L662.3 198.9L663.6 199.2L665 199.2L666.3 198.5L667.7 198.7L669.1 199.4L670.4 198.7L671.8 199.2L673.1 199.4L674.5 199.2L675.8 199.3L677.2 199.9L678.5 199.7L679.9 199.7L681.2 199.1L682.6 199.5L683.9 200.2L685.3 199.9L686.7 199.8L688.2 199.4L689.6 199.3L691.1 199.3L692.5 199.3" stroke="#0000ff" stroke-width="1.15"/>
<path d="M300.1 199.7L301.6 200.1L303.1 198.8L304.5 198.8L306 198.3L307.3 198.7L308.7 199.3L310 199L311.3 199.6L312.7 199.9L314 200.5L315.3 200.1L316.7 200.1L318 200.2L319.3 200.2L320.7 200L322 200.3L323.3 200L324.7 199.1L326 200.4L327.3 199.9L328.6 199.7L330 200L331.3 199.9L332.6 199.8L334 199.5L335.3 199.8L336.6 199.2L338 200L339.3 199.2L340.6 199.4L342 199.5L343.3 199.4L344.6 199.9L346 200.3L347.3 201L348.7 200.2L350 201.8L351.3 201L352.7 200.3L354 199.5L355.4 199.4L356.7 198.3L358 198.2L359.4 198.7L360.7 198.4L362 199.3L363.3 199L364.6 199.2L366 200.6L367.3 200.2L368.6 200L370 199.5L371.3 199.2L372.6 198.4L374 198.2L375.3 198.3L376.7 197.2L378 197.5L379.3 197.7L380.7 197.2L382 197.9L383.3 197.7L384.7 198.7L386 198.3L387.3 199L388.6 199.1L390 199.1L391.3 200.2L392.6 199.9L394 200.1L395.3 199.9L396.7 200.2L398 200.5L399.3 200.1L400.7 200L402 200.4L403.4 200.1L404.7 200.2L406 199.7L407.4 198.7L408.7 198.6L410 197.5L411.3 197.5L412.7 197.4L414 197.9L415.3 197.8L416.7 197.8L418 198.3L419.3 198.3L420.7 198.6L422 197.8L423.3 198.4L424.7 198.5L426 198.5L427.3 198.9L428.6 198.3L430 198.9L431.3 198.7L432.6 198.8L434 198.8L435.3 198.8L436.6 198.8L438 199.1L439.3 199.1L440.6 199.6L442 199.2L443.3 199L444.6 198.8L446 198.4L447.3 198.7L448.7 199L450 198.3L451.3 198.1L452.7 199L454 199.3L455.3 199.3L456.7 199.7L458 199.7L459.3 199.8L460.7 199.8L462 199.3L463.3 199.2L464.7 198.5L466 198.4L467.3 198L468.7 197.8L470 197.3L471.3 197.4L472.7 197.4L474 196.7L475.4 197.4L476.7 198.3L478 198.4L479.4 198.5L480.7 198.3L482 198.6L483.4 198.4L484.7 197.9L486 198L487.3 198.5L488.7 198.5L490 198.3L491.3 198.6L492.6 198.2L493.9 198.2L495.2 197.6L496.6 198.4L497.9 197.6L499.2 198.2L500.5 197.8L502 197.9L503.4 198.6L504.9 199.3L506.4 199.6L507.8 200L509.3 200.7L511.7 202.2L512.3 175.8L513.1 182.5L514.4 182.8L515.7 182.7L517 182.6L518.3 182.4L519.6 182.5L520.2 177.3L521.1 199.3L522.6 199.4L524 199.8L525.5 200.1L527 200.6L528.4 201.2L529.9 201.3L531.4 201.1L532.8 200.9L534.3 200.8L535.8 201.3L537.2 200.8L538.7 200.7L540.1 200.5L541.4 200.3L542.8 200.2L544.1 199.8L545.5 199.9L546.8 199.6L548.2 198.3L549.5 198.9L550.9 199.6L552.2 198.1L553.6 198.3L554.9 198.3L556.3 197.8L557.7 197.8L559 198.3L560.4 197.5L561.8 197.6L563.1 197.9L564.5 197.8L565.9 197.8L567.2 198.3L568.6 198.2L570 198.2L571.3 198.1L572.7 198.4L574.1 198.3L575.4 198.1L576.8 198.4L578.1 198.7L579.5 198.8L580.8 198.9L582.1 199.3L583.5 198.9L584.8 199.3L586.2 199.4L587.5 200.1L588.8 200L590.2 200.7L591.5 200.2L592.9 200.6L594.2 199.9L595.6 199.5L596.9 199.9L598.3 199.5L599.6 199.5L601 199.1L602.3 199.5L603.7 199.2L605 199.2L606.4 199L607.7 198.5L609.1 198.7L610.4 197.8L611.7 198.1L613.1 197.8L614.4 197.6L615.7 197.8L617 197.2L618.3 197.5L619.7 196.8L621 196.7L622.3 196.3L623.8 196.8L625.2 197.2L626.7 197L628.1 198L629.6 198L631 198.1L632.5 198.7L633.8 198.8L635.1 198.7L636.4 198.9L637.7 198.7L639 198.6L640.3 197.9L641.6 198.9L642.9 198.7L644.2 198.5L645.6 198.3L646.9 198.5L648.2 197.8L649.5 198.3L650.8 198L652.1 197.6L653.4 198L654.7 198L656 197.8L657.3 198.4L658.6 198.2L659.9 197.6L661.2 197.5L662.5 198.2L663.8 198.2L665.1 198.1L666.4 198L667.8 198.5L669.1 198.3L670.4 198.5L671.7 199.1L673 199L674.3 198.7L675.6 198.7L676.9 199.1L678.2 199.7L679.5 199.3L680.8 199.1L682.1 199.6L683.4 198.8L684.7 198.9L686 199.1L687.3 198.5L688.6 198.7L689.9 198.2L691.2 198.7L692.5 198.4" stroke="#00ff00" stroke-width="1.15"/>
<path d="M300.1 159.7L302 157.8L303.3 157.8L304.7 158.1L306 157.3L307.4 157.9L308.7 157.5L310 158L311.4 158.5L312.7 159.1L314 159.9L315.3 159.7L316.7 159.9L318 160.4L319.3 160.5L320.6 160.9L322 160.6L323.3 160.9L324.6 160.5L326 160.7L327.3 160.7L328.7 160.5L330 161L331.3 160.3L332.7 160.1L334 160.3L335.3 160.1L336.7 159.8L338 159.7L339.3 159.8L340.7 159.4L342 159.8L343.3 160L344.6 160.2L346 159.7L347.3 159.9L348.6 159.5L350 160L351.3 160.2L352.6 159.9L354 160.6L355.4 161.7L356.7 161.8L358 161.1L359.4 162L360.7 161.8L362 161.6L363.3 161.8L364.7 161.8L366 162L367.3 161.6L368.7 161.4L370 161.4L371.3 161.3L372.6 161.5L374 161.3L375.3 161.5L376.6 161.9L378 161L379.3 161.3L380.6 161.4L382 161.1L383.3 161.8L384.6 162.2L386 160.8L387.3 161.3L388.6 161.1L390 161.6L391.3 161L392.6 160.4L394 161.3L395.3 160.8L396.6 161L398 160.8L399.3 161.2L400.6 160.7L402 161L403.3 161.1L404.6 161.6L406 160.3L407.3 161L408.6 162L410 162.3L411.4 162.4L412.7 163.1L414 163.2L415.4 163L416.7 163.6L418 163.2L419.4 163L420.7 163L422 163L423.4 163L424.7 162.8L426 163.7L427.3 162.5L428.7 162L430 163.1L431.3 163.1L432.7 163.2L434 163.1L435.3 162.9L436.7 162.7L438 162.7L439.3 162.8L440.6 162.2L442 162L443.3 162.6L444.6 162L446 161.4L447.3 161.5L448.6 161.5L450 160.3L451.3 159.2L452.6 158.3L454 158.1L455.3 157.3L456.6 156.9L458 156.7L459.3 156.5L460.6 156.6L462 157L463.3 156.5L464.6 156.8L466 156.9L467.3 157.9L468.6 158.1L470 158.8L471.3 159.3L472.7 159.2L474 159.7L475.3 159.9L476.7 160.1L478 160L479.3 160.8L480.7 161.2L482 161L483.4 161.1L484.8 161.1L486.2 161.2L487.6 161.1L489.1 161.1L490.5 161.3L491.9 161.3L493.3 161.5L494.7 161.7L496.1 160.4L497.6 160.1L499.1 159.1L500.5 158.2L502 156.6L503.4 155.1L504.9 154.5L506.4 153.7L507.8 151.9L509.3 150.9L510.8 153.8L511.7 194.9L513.7 199.3L515.8 202.2L518.1 196.3L520.2 205.1L521.4 162.6L522.7 158.8L524 155.3L525.5 155.3L526.9 155.8L528.4 155.4L529.9 156.1L531.3 155.9L532.8 156.1L534.1 156.5L535.5 156.4L536.8 156.4L538.1 156.2L539.5 156.6L540.8 156.8L542.2 157.3L543.5 157.3L544.8 157.1L546.2 157.6L547.5 157.6L548.9 157.9L550.2 157.6L551.6 157.6L553 157.6L554.3 158L555.7 158L557.1 157.6L558.4 158L559.8 157.8L561.2 157.8L562.5 158.4L563.9 158.3L565.3 157.9L566.6 158.2L568 158.2L569.3 158.3L570.6 157.8L571.9 157.9L573.2 158L574.5 157.2L575.8 157.7L577.1 157.7L578.4 157.6L579.7 157.3L581.1 157L582.4 157.6L583.8 157.4L585.1 157.9L586.5 158.1L587.8 158.1L589.2 157.9L590.5 158L591.9 158.6L593.2 158.2L594.6 158.7L595.9 158.8L597.3 158.8L598.6 158.8L599.9 159.7L601.2 159.1L602.5 159.8L603.9 158.7L605.2 158.7L606.5 159.8L607.8 159.8L609.1 159.7L610.6 160L612 160.5L613.5 160.3L615 161L616.4 161.3L617.9 162L619.2 161.9L620.6 162.3L621.9 162L623.2 162.1L624.6 161.8L625.9 161.9L627.2 162L628.6 161.9L629.9 162.4L631.2 161.7L632.5 162.6L633.9 161.7L635.2 162.3L636.5 161.8L637.9 162.5L639.2 162L640.5 162.1L641.9 162.2L643.2 161.8L644.5 161.7L645.9 161.4L647.2 162L648.5 162.2L649.9 161.4L651.2 161.2L652.5 161.2L653.9 161.6L655.2 160.2L656.6 160.6L657.9 160.2L659.2 160.3L660.6 159.4L661.9 159.7L663.3 159.5L664.7 159.9L666 160.1L667.4 160L668.8 159.3L670.2 159.5L671.5 159.4L672.9 159L674.3 159L675.7 159.6L677 159.4L678.4 159.2L679.8 159.6L681.2 158.9L682.5 159.3L683.9 159.1L685.3 159.1L686.7 159.1L688.2 159.2L689.6 159.2L691.1 159.2L692.5 159.1" stroke="#ff0000" stroke-width="1.15"/>
<path d="M390.7 233.5L446.7 233.5L454.7 231.7L462.7 230.9L473.3 233L500 233L508 230.9L510.7 215.7L511.5 207.9L521.3 207.9L522.1 229L533.3 231.7L552 232.5L554.7 233.5L594.7 233.5L598.7 230.9L608 233L692.5 233.5" stroke="#0000ff" stroke-width="1.15"/>
<path d="M354.7 233L356 235.3L357.3 237.5L358.4 238.1L359.5 238.2L360.5 239L361.6 239.7L362.7 239.7L363.8 239.7L364.8 240.1L365.9 238.9L366.9 239.2L368 238.7L369.1 238.5L370.1 238.6L371.2 238.7L372.2 238.6L373.3 238.3L374.3 237.2L375.3 236.7L376.3 234.7L377.3 233L378.6 235.3L380 239.1L381.1 239.3L382.1 238.9L383.2 239L384.3 239.9L385.4 239.3L386.4 238.6L387.5 239.7L388.6 239.4L389.6 239.1L390.7 239.7L391.7 239.3L392.7 239.4L393.8 239.7L394.8 239.5L395.8 239.7L396.8 240.5L397.8 239.3L398.8 239.3L399.9 239.6L400.9 240.2L401.9 239.4L402.9 240.3L403.9 239.1L404.9 239.2L406 239.7L407 239.3L408 239.7L409.9 232.5L410.9 235.1L412 238.3L413 238.5L414 238.7L415.1 238.4L416.1 238.3L417.1 239L418.1 238.6L419.1 238.4L420.2 239L421.2 238.1L422.2 238.6L423.2 238.9L424.2 238.6L425.3 238.3L426.3 238.8L427.3 238.4L428.3 238.4L429.4 238.2L430.4 239.3L431.4 238.5L432.4 239.3L433.4 239L434.5 238.7L435.5 239.1L436.5 239L437.5 238.9L438.5 238.3L439.6 239L440.6 239.4L441.6 239.2L442.6 239.5L443.6 239.7L444.7 239.2L445.7 240L446.7 239.1L448 233L449.1 232.9L450.2 234.1L451.4 233.6L452.5 235.7L453.6 236L454.7 236.5L455.7 237.1L456.7 235.9L457.7 235L458.7 235.7L460.5 227.7L461.9 238.3L463.2 229L464.4 230L465.5 229.3L466.7 230.3L467.8 230L468.9 230.7L470 231.3L471.1 231L472.2 231.6L473.3 231.7L474.6 233.5L476 237L477.4 236.4L478.7 234.3L480 236.3L481.3 238.3L482.3 238.4L483.4 238.6L484.4 238.4L485.4 238.4L486.5 237.9L487.5 238.3L488.3 232.5L489.5 233.9L490.8 235.7L492 237L493 237.7L494 237.5L495 237.8L496 238.2L497 238.6L498 238.7L499 238.7L500 239.1L501.1 238.5L502.1 238.8L503.2 238L504.2 237.4L505.3 237L506.4 236.8L507.4 233.9L508.5 231.7L509.6 225.4L510.7 218.3L511.5 210.9L512.6 211L513.7 210.4L514.8 211.4L515.9 210.9L516.9 210.9L518 211.4L519.1 211.4L520.2 211L521.3 210.9L522.1 230.3L523.3 230.6L524.5 231.8L525.6 231.4L526.8 231L528 231.7L529 233.4L530 234.4L531 235.7L532 237L533 236L534 234.5L535 233.9L536 231.7L537.1 232.6L538.1 233.4L539.2 234.6L540.2 234.6L541.3 235.7L542.4 236.7L543.5 236.7L544.5 237.8L545.6 237.4L546.7 238.3L547.8 238L548.8 236.5L549.9 236.5L550.9 236.2L552 235.7L553.1 236.6L554.1 237.9L555.2 238.6L556.2 237.8L557.3 239.1L558.3 238.8L559.4 239.7L560.4 239.3L561.5 238.5L562.5 239.3L563.6 238.6L564.6 238.7L565.7 238.5L566.8 239L567.8 240.1L568.9 239.3L569.9 239.1L571 240.2L572 239.1L573.3 233.8L574.7 239.1L575.7 238.9L576.7 239L577.7 238.9L578.7 239.1L579.7 238.8L580.7 239.5L581.7 238.7L582.7 239L583.7 238.8L584.7 238.3L585.7 238.2L586.7 238.6L587.7 237.5L588.7 238.5L589.7 238.5L590.7 238.5L591.7 238.4L592.7 238.5L593.7 238.2L594.7 238.3L595.7 236.6L596.7 233.6L597.7 232.7L598.7 230.3L599.7 230.3L600.7 231.2L601.7 231.1L602.7 231.7L604 234.8L605.3 238.3L606.6 236.6L608 235.7L609 237.2L610 236.9L611 237.7L612 239.1L613 239.2L614 239.1L615 239L616 238.5L617 238.6L618 239.3L619 238.4L620 239.1L621 239.1L622 238.8L623 238.2L624 239.5L625 238.7L626 238.7L627 238.4L628 238.1L629 238.4L630 238.5L631 238L632 238.4L633 238.9L634 238.5L635 238.2L636 238.7L637 238.6L638 238.6L639 237.8L640 237.3L641 238.4L642 238L643 237.8L644 238.2L645 237.7L646 237.6L647 238.6L648 237.1L649 238.1L650 238.2L651 238.5L652 237.8L653 237.8L654 237.2L655 237.6L656 237.5L657.3 233.8L658.6 234.7L660 237.5L661 237.4L662.1 237.8L663.1 238L664.1 238L665.2 238.9L666.2 237.9L667.2 238.8L668.3 238.7L669.3 239.1L670.3 239.1L671.3 239L672.4 239.9L673.4 238.5L674.4 239.5L675.4 239.5L676.4 238.8L677.5 238.5L678.5 238.2L679.5 238.3L680.5 239.6L681.5 237.7L682.5 238.8L683.6 238.3L684.6 239.4L685.6 238.6L686.6 237.8L687.6 238.2L688.7 238.5L689.7 238.4L690.7 238.3" stroke="#000" stroke-width="1.15"/>
<path d="M390.7 240.2L392 240L393.3 239.9L394.6 240.3L395.9 239.7L397.2 240.1L398.5 239.7L399.8 240.3L401.1 240.1L402.4 240.4L403.7 240L405 240.2L406.3 240L407.6 239.9L408.9 240.1L410.2 239.8L411.5 239.9L412.8 240.1L414.1 240L415.4 239.9L416.7 240.4L418 240L419.4 239.8L420.7 240L422 239.8L423.3 239.8L424.6 239.8L425.9 240.3L427.2 239.9L428.5 239.9L429.8 240L431.1 240.2L432.4 239.8L433.7 239.7L435 240.3L436.3 239.5L437.6 239.7L438.9 239.9L440.2 240.2L441.5 239.6L442.8 239.2L444.1 239.9L445.4 239.6L446.7 239.7L448 239.4L449.4 239.4L450.7 239.2L452 239.1L453.3 238.7L454.6 238.9L456 238.8L457.3 238.3L458.6 238.4L460 238.4L461.3 238.7L462.6 238.8L464 238.6L465.3 238.8L466.7 239.2L468 239.1L469.4 237.4L470.7 235.7L472 236.3L473.4 237L474.7 237.6L476 238.3L477.3 238.3L478.7 237.9L480 238.6L481.3 238.3L482.7 238.1L484 238.5L485.3 238.4L486.7 238.3L488 238.5L489.3 238.8L490.7 238.4L492 238.6L493.3 238.7L494.7 238.1L496 238.2L497.3 238.5L498.7 238L500 238.3L501.3 237.8L502.7 237.7L504 237.2L505.3 236.7L506.7 235.8L508 235.7L510.1 223.7L511.5 217L512.9 217.5L514.3 217.1L515.7 217.2L517.1 217.1L518.5 216.7L519.9 216.7L521.3 217L522.7 234.3L524 234.6L525.4 235.8L526.7 235.8L528 236.5L529.3 236.5L530.7 236.4L532 236.6L533.3 236.6L534.7 236.6L536 236.2L537.4 235.9L538.7 236.5L540 236.6L541.4 236.7L542.7 236.5L544 236.4L545.4 236.6L546.7 236.5L548 236.5L549.4 236.9L550.7 237.2L552 237.8L553.3 238.4L554.6 238.5L556 238.8L557.3 238.9L558.6 238.9L560 239L561.3 238.8L562.6 238.8L564 238.4L565.3 238.7L566.6 238.6L568 239.1L569.3 239L570.6 239.1L572 239.2L573.3 238.8L574.6 239.1L576 239.3L577.3 238.9L578.7 239.1L580 238.9L581.3 238.6L582.7 238.9L584 238.7L585.3 238.9L586.7 238.8L588 239L589.3 238.5L590.7 239.3L592 238.9L593.3 238.6L594.6 237.6L596 236.9L597.3 236.5L598.6 236.5L600 236.6L601.3 236.6L602.6 236.6L604 236.1L605.3 236.5L606.6 236.7L608 237.7L609.4 237.9L610.7 238.3L612 238L613.3 238.1L614.7 238L616 238L617.3 238.5L618.6 238.2L619.9 238.4L621.3 238.2L622.6 237.9L623.9 238L625.2 238.6L626.5 238L627.9 237.9L629.2 238.4L630.5 238.1L631.8 238.1L633.1 238.4L634.4 237.7L635.8 238.1L637.1 237.8L638.4 237.7L639.7 237.9L641 238.2L642.4 238L643.7 237.6L645 237.7L646.3 238.3L647.6 238.1L649 237.7L650.3 238.4L651.6 237.8L652.9 237.6L654.2 237.8L655.6 238.1L656.9 238.2L658.2 238L659.5 237.7L660.8 237.7L662.2 237.5L663.5 237.8L664.8 237.6L666.1 237.8L667.4 237.5L668.8 237.6L670.1 237.5L671.4 237.5L672.7 237.5L674 237.5L675.3 237.4L676.7 237.8L678 237.7L679.3 237.4L680.6 237.7L681.9 237.7L683.3 237.9L684.6 237.5L685.9 237.5L687.2 237.4L688.5 237.6L689.9 237.6L691.2 237.5L692.5 237.5" stroke="#ff0000" stroke-width="1.15"/>
<path d="M73.5 296.2h1.2M78.5 296.2h1.2M83.5 296.2h1.2M88.5 296.2h1.2M93.5 296.2h1.2M98.5 296.2h1.2M103.5 296.2h1.2M108.5 296.2h1.2M113.5 296.2h1.2M118.5 296.2h1.2M123.5 296.2h1.2M128.5 296.2h1.2M133.5 296.2h1.2M138.5 296.2h1.2M143.5 296.2h1.2M148.5 296.2h1.2M153.5 296.2h1.2M158.5 296.2h1.2M163.5 296.2h1.2M168.5 296.2h1.2M173.5 296.2h1.2M178.5 296.2h1.2M183.5 296.2h1.2M188.5 296.2h1.2M193.5 296.2h1.2M198.5 296.2h1.2M203.5 296.2h1.2M208.5 296.2h1.2M213.5 296.2h1.2M218.5 296.2h1.2M223.5 296.2h1.2M228.5 296.2h1.2M233.5 296.2h1.2M238.5 296.2h1.2M243.5 296.2h1.2M248.5 296.2h1.2M253.5 296.2h1.2M258.5 296.2h1.2M263.5 296.2h1.2M268.5 296.2h1.2M273.5 296.2h1.2M278.5 296.2h1.2M283.5 296.2h1.2M288.5 296.2h1.2M293.5 296.2h1.2M298.5 296.2h1.2M303.5 296.2h1.2M308.5 296.2h1.2M313.5 296.2h1.2M318.5 296.2h1.2M323.5 296.2h1.2M328.5 296.2h1.2M333.5 296.2h1.2M338.5 296.2h1.2M343.5 296.2h1.2M348.5 296.2h1.2M353.5 296.2h1.2M358.5 296.2h1.2M363.5 296.2h1.2M368.5 296.2h1.2M373.5 296.2h1.2M378.5 296.2h1.2M383.5 296.2h1.2M388.5 296.2h1.2M393.5 296.2h1.2M398.5 296.2h1.2M403.5 296.2h1.2M408.5 296.2h1.2M413.5 296.2h1.2M418.5 296.2h1.2M423.5 296.2h1.2M428.5 296.2h1.2M433.5 296.2h1.2M438.5 296.2h1.2M443.5 296.2h1.2M448.5 296.2h1.2M453.5 296.2h1.2M458.5 296.2h1.2M463.5 296.2h1.2M468.5 296.2h1.2M473.5 296.2h1.2M478.5 296.2h1.2M483.5 296.2h1.2M488.5 296.2h1.2M493.5 296.2h1.2M498.5 296.2h1.2M503.5 296.2h1.2M508.5 296.2h1.2M513.5 296.2h1.2M518.5 296.2h1.2M523.5 296.2h1.2M528.5 296.2h1.2M533.5 296.2h1.2M538.5 296.2h1.2M543.5 296.2h1.2M548.5 296.2h1.2M553.5 296.2h1.2M558.5 296.2h1.2M563.5 296.2h1.2M568.5 296.2h1.2M573.5 296.2h1.2M578.5 296.2h1.2M583.5 296.2h1.2M588.5 296.2h1.2M593.5 296.2h1.2M598.5 296.2h1.2M603.5 296.2h1.2M608.5 296.2h1.2M613.5 296.2h1.2M618.5 296.2h1.2M623.5 296.2h1.2M628.5 296.2h1.2M633.5 296.2h1.2M638.5 296.2h1.2M643.5 296.2h1.2M648.5 296.2h1.2M653.5 296.2h1.2M658.5 296.2h1.2M663.5 296.2h1.2M668.5 296.2h1.2M673.5 296.2h1.2M678.5 296.2h1.2M683.5 296.2h1.2M688.5 296.2h1.2" stroke="#000" stroke-width="1"/>
<path d="M354.7 292.3L355.3 295.2L355.9 297.3L356.5 294.5L357.1 292.1L357.7 294.2L358.3 296L358.9 297.8L359.5 293.2L360.1 292L360.7 296L361.3 296.5L361.9 299L362.5 298.4L363.1 295.9L363.7 295L364.3 300.9L364.9 296.2L365.5 294L366.1 292.7L366.7 295.1L367.3 295.8L367.9 295L368.5 295.4L369.1 296.3L369.7 297.4L370.3 298.6L370.9 297L371.5 292.2L372.1 296.4L372.7 292.7L373.3 294.3L373.9 291.5L374.5 293.7L375.1 292.2L375.7 293.6L376.3 300.5L376.9 294.9L377.5 295.5L378.1 291.3L378.7 292.9L379.3 295.7L379.9 295.2L380.5 296.4L381.1 296.3L381.7 294L382.3 297L382.9 294.8L383.5 300.1L384.1 296.3L384.7 297.9L385.3 296.9L385.9 298.7L386.5 295.8L387.1 298.6L387.7 296.8L388.3 299.4L388.9 298.7L389.5 297.5L390.1 295.2L390.7 298L391.3 298.1L391.9 300.6L392.5 296.9L393.1 298L393.7 298.2L394.3 297.8L394.9 297.5L395.5 297.4L396.1 295.7L396.7 294.4L397.3 295.4L397.9 297.8L398.5 300.5L399.1 300L399.7 300L400.3 299.4L400.9 299L401.5 297.7L402.1 298.6L402.7 300.9L403.3 296.9L403.9 295L404.5 300.2L405.1 297.7L405.7 298.6L406.3 298.6L406.9 294.1L407.5 300.7L408.1 300.9L408.7 297.3L409.3 297.7L409.9 296.3L410.5 293.8L411.1 295L411.7 296.4L412.3 298.4L412.9 298.1L413.5 296.7L414.1 299.2L414.7 295.3L415.3 297.8L415.9 299.2L416.5 296.5L417.1 292.7L417.7 293.7L418.3 296.5L418.9 297.9L419.5 300.6L420.1 295.7L420.7 296.7L421.3 298.4L421.9 297.1L422.5 292L423.1 297.6L423.7 302.3L424.3 300.7L424.9 296.1L425.5 296.1L426.1 297.5L426.7 302.8L427.3 300.1L427.9 298.3L428.5 301L429.1 298.2L429.7 301.7L430.3 297.1L430.9 296.4L431.5 298.9L432.1 301L432.7 299.9L433.3 298.9L433.9 294L434.5 295.3L435.1 295.8L435.7 296.1L436.3 298.7L436.9 297.3L437.5 299.5L438.1 298.5L438.7 297.4L439.3 298.1L439.9 299L440.5 300L441.1 297.3L441.7 297.1L442.3 294.6L442.9 300.3L443.5 301.4L444.1 298L444.7 296.5L445.3 294.4L445.9 296.9L446.5 297.5L447.1 301.9L447.7 298.7L448.3 295.6L448.9 291.2L449.5 298.4L450.1 297.5L450.7 293.3L451.3 296.1L451.9 292.8L452.5 303L453.1 300.4L453.7 298.4L454.3 296.3L454.9 291.4L455.5 294.3L456.1 291.8L456.7 295.6L457.3 290.5L457.9 291.6L458.5 296.4L459.1 298.2L459.7 292.3L460.3 289.8L460.9 294.1L461.5 294.9L462.1 290.8L462.7 290.2L463.3 289.9L463.9 288.5L464.5 289L465.1 293.1L465.7 292.7L466.3 295.3L466.9 291.1L467.5 289.7L468.1 287.4L468.7 288.6L469.3 286.2L469.9 284.6L470.5 289.6L471.1 292.5L471.7 292L472.3 293.1L472.9 291.1L473.5 288.7L474.1 290.1L474.7 289.6L475.3 288.2L475.9 286.9L476.5 287.3L477.1 290.9L477.7 292.4L478.3 291.7L478.9 295.9L479.5 294.4L480.1 295.1L480.7 296.9L481.3 293L481.9 289.7L482.5 295.2L483.1 293.5L483.7 297.6L484.3 296.7L484.9 298.1L485.5 298.1L486.1 292.1L486.7 296.8L487.3 295.2L487.9 294.7L488.5 295.5L489.1 298.5L489.7 299.6L490.3 300.3L490.9 294.7L491.5 295.6L492.1 292L492.7 296.1L493.3 298.7L493.9 296.5L494.5 298.1L495.1 298.6L495.7 300.4L496.3 296.9L496.9 296.1L497.5 296.1L498.1 301.6L498.7 301.6L499.3 299L499.9 299.1L500.5 298.8L501.1 298.8L501.7 297.8L502.3 297.1L502.9 294.8L503.5 295.5L504.1 300.5L504.7 299.3L505.3 297.8L505.9 296.7L506.5 296.9L507.1 297.4L507.7 295.2L508.3 296.4L508.9 296.6L509.5 295.2L510.1 295.7L510.7 296.1L511.3 297L511.9 302.4L512.5 297.4L513.1 301.4L513.7 302.4L514.3 303.1L514.9 305.2L515.5 308L516.1 306.1L516.7 303.9L517.3 301.1L517.9 300.4L518.5 301.5L519.1 298.2L519.7 295.4L520.3 294L520.9 293.8L521.5 292.9L522.1 297.9L522.7 297.3L523.3 295.7L523.9 298.8L524.5 294.9L525.1 296.8L525.7 297.3L526.3 292.2L526.9 290.7L527.5 291.6L528.1 295.7L528.7 297.2L529.3 291.8L529.9 295.2L530.5 292.6L531.1 291.7L531.7 290.8L532.3 290.9L532.9 287.3L533.5 288.4L534.1 288.2L534.7 292L535.3 296.5L535.9 299.1L536.5 293.2L537.1 288.8L537.7 290.6L538.3 290L538.9 296.3L539.5 294.9L540.1 291.8L540.7 294.8L541.3 294.8L541.9 290.3L542.5 291.7L543.1 292.8L543.7 293.8L544.3 294.4L544.9 293.7L545.5 294.7L546.1 293.9L546.7 293.3L547.3 297.1L547.9 296.4L548.5 296.5L549.1 293.5L549.7 295.1L550.3 297.1L550.9 294.3L551.5 297.4L552.1 295.9L552.7 296.8L553.3 296.3L553.9 296.7L554.5 298.4L555.1 296.4L555.7 299L556.3 296L556.9 295.1L557.5 297.5L558.1 295.3L558.7 295.9L559.3 298.1L559.9 299.2L560.5 294.6L561.1 297L561.7 299.6L562.3 299L562.9 296.6L563.5 295.3L564.1 295.3L564.7 293.8L565.3 294.8L565.9 295L566.5 295L567.1 297L567.7 295.2L568.3 292.7L568.9 295.9L569.5 293.2L570.1 293.5L570.7 294.1L571.3 294L571.9 293L572.5 294.1L573.1 298.2L573.7 294.9L574.3 294.9L574.9 296.9L575.5 296.9L576.1 297L576.7 297.3L577.3 293L577.9 293.7L578.5 295.5L579.1 296.6L579.7 298.2L580.3 297.3L580.9 295.9L581.5 295.9L582.1 295.5L582.7 296L583.3 296.8L583.9 295.4L584.5 294.2L585.1 293.8L585.7 296.7L586.3 297.7L586.9 297.4L587.5 297.1L588.1 297L588.7 295.6L589.3 296.2L589.9 293.6L590.5 294.2L591.1 293.3L591.7 295.2L592.3 293.5L592.9 293.6L593.5 294.3L594.1 295.8L594.7 292.6L595.3 291.5L595.9 293.8L596.5 291.2L597.1 292.8L597.7 291.8L598.3 292.3L598.9 289.9L599.5 293.3L600.1 292.3L600.7 291.5L601.3 296.1L601.9 295.1L602.5 299.4L603.1 295.7L603.7 293.8L604.3 294.3L604.9 297L605.5 295.3L606.1 295.9L606.7 296.4L607.3 294.5L607.9 295.9L608.5 295.4L609.1 294.4L609.7 297.7L610.3 298.2L610.9 297.4L611.5 295.6L612.1 293.4L612.7 296.7L613.3 296.6L613.9 294.1L614.5 295.9L615.1 294.1L615.7 295.9L616.3 296.6L616.9 297.1L617.5 297L618.1 296.8L618.7 294.7L619.3 295.4L619.9 295.3L620.5 295.7L621.1 296.5L621.7 297.3L622.3 299L622.9 292.8L623.5 295.9L624.1 295.7L624.7 299.5L625.3 298.3L625.9 294L626.5 296.2L627.1 295.3L627.7 297.4L628.3 294.8L628.9 295.6L629.5 295.8L630.1 295.9L630.7 295.1L631.3 293L631.9 296.1L632.5 297.7L633.1 296.4L633.7 294.7L634.3 296.1L634.9 297.1L635.5 296.2L636.1 296.2L636.7 298.4L637.3 295L637.9 295.1L638.5 293L639.1 294.4L639.7 294.7L640.3 294.4L640.9 294.7L641.5 298.6L642.1 296.5L642.7 296.1L643.3 299.6L643.9 296.9L644.5 293.5L645.1 296L645.7 294.5L646.3 298.2L646.9 294.6L647.5 294.7L648.1 293.1L648.7 295.3L649.3 294.1L649.9 295.3L650.5 295.1L651.1 294.6L651.7 296.9L652.3 297.4L652.9 296.2L653.5 294.3L654.1 293.6L654.7 295.5L655.3 299.3L655.9 295.7L656.5 294.3L657.1 294.1L657.7 293.4L658.3 293.3L658.9 294.5L659.5 297.4L660.1 295.8L660.7 294.7L661.3 292.6L661.9 295L662.5 295.3L663.1 293.5L663.7 293.2L664.3 294.8L664.9 296.9L665.5 296.8L666.1 296.2L666.7 295.2L667.3 296L667.9 295.7L668.5 299L669.1 294.7L669.7 294.8L670.3 297.4L670.9 295.7L671.5 297.9L672.1 296.2L672.7 296.1L673.3 295.3L673.9 293.5L674.5 293.7L675.1 298.8L675.7 297.6L676.3 297.3L676.9 297.7L677.5 297.3L678.1 297.9L678.7 296L679.3 295.6L679.9 297.5L680.5 295.8L681.1 293.8L681.7 295L682.3 294.8L682.9 296.6L683.5 294.9L684.1 293.9L684.7 294.8L685.3 298L685.9 296.2L686.5 296.1L687.1 295.8L687.7 296.2L688.3 297.2L688.9 298.2L689.5 293.7L690.1 297.2L690.7 296L691.3 295.1L691.9 299.2" stroke="#0000ff" stroke-width="1.2"/>
<path d="M354.7 291.6L355.3 294.7L355.9 294.3L356.5 293.8L357.1 297L357.7 295.8L358.3 294.7L358.9 299.3L359.5 295.1L360.1 292.3L360.7 291.4L361.3 293.1L361.9 296.3L362.5 297.6L363.1 298.6L363.7 300.5L364.3 300.8L364.9 298.4L365.5 299.4L366.1 298.1L366.7 295L367.3 297.5L367.9 296.4L368.5 295.5L369.1 300.5L369.7 298.9L370.3 295.6L370.9 295.8L371.5 301.5L372.1 296.9L372.7 298.1L373.3 298.1L373.9 297.9L374.5 298L375.1 295.6L375.7 295L376.3 295.6L376.9 295.3L377.5 298L378.1 300.4L378.7 295.3L379.3 297.5L379.9 294.4L380.5 294.3L381.1 295.4L381.7 296.5L382.3 295.5L382.9 290.2L383.5 298.3L384.1 296.4L384.7 295.1L385.3 297.9L385.9 295.6L386.5 293.1L387.1 297L387.7 297.8L388.3 295.1L388.9 298.4L389.5 298.1L390.1 294.5L390.7 300.4L391.3 298.4L391.9 294.6L392.5 297.4L393.1 297.4L393.7 299.4L394.3 294.4L394.9 298.8L395.5 299.7L396.1 299.3L396.7 299.1L397.3 300.7L397.9 299.7L398.5 298.1L399.1 295.4L399.7 299.3L400.3 300L400.9 298.5L401.5 297.7L402.1 298.7L402.7 291.3L403.3 296.1L403.9 290.5L404.5 295.5L405.1 298.7L405.7 301.3L406.3 296.4L406.9 297.2L407.5 296.1L408.1 290.7L408.7 296.3L409.3 295.8L409.9 295.8L410.5 293.5L411.1 295.2L411.7 295.9L412.3 299L412.9 297.5L413.5 304.8L414.1 297.4L414.7 296L415.3 296.2L415.9 294.6L416.5 299.7L417.1 299L417.7 294.4L418.3 296.5L418.9 299.6L419.5 294.4L420.1 296.8L420.7 296.5L421.3 302.6L421.9 299.6L422.5 296.9L423.1 295.9L423.7 301.4L424.3 297.3L424.9 302.8L425.5 295.1L426.1 296.4L426.7 296.7L427.3 295.6L427.9 296.6L428.5 299L429.1 296.4L429.7 293.9L430.3 299.9L430.9 301.7L431.5 297.1L432.1 298.3L432.7 291.9L433.3 298.8L433.9 294.9L434.5 295.8L435.1 302.5L435.7 296.1L436.3 297.6L436.9 295.4L437.5 293L438.1 294.1L438.7 297.7L439.3 294.9L439.9 296L440.5 299.2L441.1 297.9L441.7 294.8L442.3 300.6L442.9 298.7L443.5 301.2L444.1 296L444.7 301.1L445.3 295.2L445.9 292.7L446.5 295.1L447.1 295.8L447.7 297.4L448.3 295.8L448.9 298.1L449.5 300.3L450.1 296.1L450.7 293.3L451.3 294.8L451.9 297.9L452.5 298.6L453.1 295.9L453.7 293.6L454.3 295.1L454.9 297.7L455.5 294L456.1 297.5L456.7 295.4L457.3 294.5L457.9 291.7L458.5 295L459.1 292.1L459.7 287.1L460.3 290.5L460.9 287.7L461.5 289.7L462.1 287.3L462.7 284.2L463.3 284.6L463.9 282.6L464.5 280.7L465.1 281.9L465.7 283.7L466.3 282.2L466.9 281.4L467.5 280.2L468.1 282.7L468.7 283L469.3 285.1L469.9 284.7L470.5 289.4L471.1 282.4L471.7 284.9L472.3 287.6L472.9 289.7L473.5 285.1L474.1 285.3L474.7 288.6L475.3 292.5L475.9 294.1L476.5 288.8L477.1 291.7L477.7 295.2L478.3 293.7L478.9 291.1L479.5 291.4L480.1 290.2L480.7 296L481.3 294.2L481.9 293.4L482.5 292.4L483.1 294.1L483.7 292.9L484.3 292.6L484.9 294.9L485.5 295.2L486.1 297.1L486.7 297L487.3 299.5L487.9 297.5L488.5 297.8L489.1 298L489.7 295.8L490.3 300L490.9 297L491.5 293.9L492.1 299.8L492.7 299.9L493.3 297.1L493.9 300.1L494.5 300.9L495.1 300.5L495.7 296L496.3 298.1L496.9 295.8L497.5 296.3L498.1 296.6L498.7 296L499.3 299.1L499.9 296.9L500.5 299.5L501.1 299L501.7 296.9L502.3 298.1L502.9 299.5L503.5 300.8L504.1 297.8L504.7 301.6L505.3 302.7L505.9 303.7L506.5 297.7L507.1 296.7L507.7 301.6L508.3 299.4L508.9 300.3L509.5 302.9L510.3 300L510.6 324.7L511 300L511.9 303L512.5 301.3L513.1 302.2L513.7 301.4L514.3 303.2L514.9 305.1L515.5 302.2L516.1 303.4L516.7 302.3L517.3 302.4L517.9 302.1L518.5 296.9L519.1 300.3L519.7 300.4L520.3 296.6L520.9 297.6L521.5 295.4L522.1 298.1L522.7 300.7L523.3 298.5L523.9 299.5L524.5 300L525.1 300.8L525.7 300.9L526.3 300L526.9 303.1L527.5 301.4L528.1 298.6L528.7 301.1L529.3 297L529.9 298.5L530.5 293L531.1 297L531.7 293.1L532.3 290.4L532.9 292.5L533.5 288.7L534.1 288.5L534.7 291.7L535.3 290.9L535.9 292.8L536.5 292.8L537.1 293.1L537.7 293L538.3 294.4L538.9 293.2L539.5 295.5L540.1 295.8L540.7 289.3L541.3 288.3L541.9 295.9L542.5 293.3L543.1 294.2L543.7 293.9L544.3 294.9L544.9 299.8L545.5 294.8L546.1 295L546.7 295.1L547.3 293.4L547.9 293.5L548.5 294.7L549.1 295.5L549.7 296.6L550.3 293L550.9 292.7L551.5 298.2L552.1 296.5L552.7 297.8L553.3 298.6L553.9 297.7L554.5 302.3L555.1 297.8L555.7 297.3L556.3 299.9L556.9 299.5L557.5 296.6L558.1 299L558.7 300.6L559.3 297.2L559.9 298.1L560.5 300.4L561.1 302.8L561.7 296.1L562.3 297.1L562.9 298.4L563.5 297.1L564.1 296.6L564.7 297.1L565.3 298.8L565.9 296.4L566.5 296.5L567.1 297L567.7 297L568.3 298.1L568.9 294.7L569.5 294.6L570.1 296.2L570.7 297.2L571.3 297L571.9 294.7L572.5 294.1L573.1 292.6L573.7 293.8L574.3 293.4L574.9 294L575.5 294.4L576.1 296.7L576.7 297.3L577.3 296L577.9 293.9L578.5 295.3L579.1 296.5L579.7 297.6L580.3 299.8L580.9 300.5L581.5 298.2L582.1 299.8L582.7 300.3L583.3 298.5L583.9 297.4L584.5 300.4L585.1 297.3L585.7 299.4L586.3 298.2L586.9 297.7L587.5 297.7L588.1 297.4L588.7 297.9L589.3 301.1L589.9 301.3L590.5 295.5L591.1 295.6L591.7 296.2L592.3 294L592.9 297.1L593.5 294.6L594.1 294.9L594.7 292.1L595.3 291L595.9 290.7L596.5 291.1L597.1 293.9L597.7 292.5L598.3 294.2L598.9 292.6L599.5 291.3L600.1 293L600.7 292.5L601.3 290.3L601.9 292.7L602.5 295.3L603.1 293.7L603.7 291.9L604.3 292.5L604.9 292.1L605.5 293.8L606.1 293.3L606.7 294.8L607.3 295.9L607.9 298.3L608.5 295L609.1 292.8L609.7 298.7L610.3 298.2L610.9 296.7L611.5 297.7L612.1 295.6L612.7 296L613.3 297.8L613.9 296.5L614.5 296.9L615.1 297.5L615.7 297.1L616.3 296.4L616.9 297.4L617.5 299L618.1 299.3L618.7 295.7L619.3 297.5L619.9 293.5L620.5 293.3L621.1 296.2L621.7 297.2L622.3 298.8L622.9 294L623.5 297.4L624.1 295.5L624.7 295.2L625.3 296.6L625.9 298.6L626.5 295.2L627.1 293L627.7 294.4L628.3 295.5L628.9 298L629.5 297.2L630.1 295.9L630.7 295.3L631.3 295.2L631.9 297.6L632.5 293.8L633.1 294.5L633.7 294.3L634.3 297.7L634.9 296.8L635.5 295.3L636.1 297.3L636.7 299.8L637.3 298.9L637.9 294.8L638.5 295.6L639.1 298.1L639.7 293.8L640.3 293.7L640.9 295L641.5 296.8L642.1 295L642.7 296.2L643.3 295.9L643.9 296.6L644.5 294.2L645.1 291.9L645.7 291.4L646.3 295.2L646.9 297.4L647.5 297.1L648.1 293.6L648.7 292.4L649.3 294.5L649.9 294L650.5 292.3L651.1 293.9L651.7 294L652.3 295.1L652.9 296.2L653.5 296.1L654.1 296.1L654.7 296.6L655.3 295.7L655.9 294.8L656.5 294.8L657.1 297.3L657.7 295.4L658.3 296.8L658.9 298.5L659.5 299.1L660.1 292.7L660.7 295L661.3 296.9L661.9 295L662.5 294.1L663.1 292.7L663.7 293.7L664.3 295L664.9 292.2L665.5 294.7L666.1 293.9L666.7 295.2L667.3 293.7L667.9 295.3L668.5 295.8L669.1 294.5L669.7 294.3L670.3 296.9L670.9 297.1L671.5 294.8L672.1 296.2L672.7 294L673.3 294.5L673.9 290.6L674.5 293.6L675.1 296.4L675.7 295.2L676.3 296.7L676.9 295.1L677.5 296.2L678.1 295.8L678.7 294.3L679.3 299.1L679.9 295.4L680.5 293.6L681.1 295.6L681.7 296.7L682.3 296.7L682.9 295.9L683.5 296.7L684.1 297.6L684.7 297.3L685.3 293.9L685.9 298.2L686.5 296.3L687.1 292.5L687.7 296.3L688.3 295.6L688.9 296.1L689.5 299.1L690.1 295.6L690.7 294.5L691.3 293.7L691.9 295.4" stroke="#00ff00" stroke-width="1.2"/>
<path d="M354.7 294.9L355.3 297.4L355.9 294.4L356.5 292.1L357.1 294.8L357.7 296.1L358.3 296.1L358.9 296.3L359.5 295.4L360.1 294.5L360.7 294L361.3 294.8L361.9 294.8L362.5 296.8L363.1 296.9L363.7 294L364.3 296.4L364.9 295.8L365.5 297.5L366.1 298.6L366.7 297.4L367.3 293.4L367.9 296.3L368.5 293.6L369.1 297.9L369.7 295.4L370.3 295.6L370.9 298.9L371.5 294L372.1 295.7L372.7 294.4L373.3 295L373.9 294.7L374.5 297L375.1 296L375.7 296.8L376.3 297.5L376.9 294L377.5 298L378.1 296.5L378.7 293.8L379.3 294.8L379.9 297.5L380.5 298.4L381.1 295.9L381.7 296.6L382.3 297L382.9 298.4L383.5 296.9L384.1 298.3L384.7 295.7L385.3 295.3L385.9 297.5L386.5 298.1L387.1 297.1L387.7 297.9L388.3 297.4L388.9 298.3L389.5 299.1L390.1 298.3L390.7 298.6L391.3 296.7L391.9 296L392.5 293L393.1 296.7L393.7 297L394.3 297.9L394.9 294.3L395.5 295.6L396.1 295.8L396.7 293.9L397.3 297.8L397.9 299.3L398.5 295.7L399.1 297.6L399.7 300.1L400.3 296L400.9 298.4L401.5 299.9L402.1 300.6L402.7 295.6L403.3 294.7L403.9 296.5L404.5 298.5L405.1 294.9L405.7 294.8L406.3 294.1L406.9 297.4L407.5 295.5L408.1 296.8L408.7 297.2L409.3 298L409.9 297L410.5 296.7L411.1 298L411.7 297.3L412.3 294.4L412.9 294.9L413.5 297.4L414.1 296.9L414.7 296L415.3 296.8L415.9 302.1L416.5 298L417.1 297.9L417.7 297.9L418.3 296.8L418.9 299L419.5 299L420.1 298.4L420.7 295.4L421.3 298.9L421.9 299L422.5 297.6L423.1 293.1L423.7 296.3L424.3 295.2L424.9 296.6L425.5 296.5L426.1 295.9L426.7 298.8L427.3 298.1L427.9 299.8L428.5 296.6L429.1 297.1L429.7 299.8L430.3 298.8L430.9 296.9L431.5 296.2L432.1 296.5L432.7 297.4L433.3 298.9L433.9 298.4L434.5 299.3L435.1 299.7L435.7 298.6L436.3 300.3L436.9 299.8L437.5 298.3L438.1 297.9L438.7 298.1L439.3 297L439.9 295.8L440.5 297.6L441.1 297.1L441.7 298.7L442.3 297.1L442.9 297.8L443.5 298.1L444.1 297L444.7 297.8L445.3 296.4L445.9 296.5L446.5 298.4L447.1 298.2L447.7 297.4L448.3 295.9L448.9 297.9L449.5 300.4L450.1 294.2L450.7 297.8L451.3 297.3L451.9 298.6L452.5 298.9L453.1 295.4L453.7 299L454.3 296L454.9 295.8L455.5 296.9L456.1 295.9L456.7 296.1L457.3 294.7L457.9 293.3L458.5 294.5L459.1 292.9L459.7 296.3L460.3 295.2L460.9 296.6L461.5 292.5L462.1 290L462.7 289.1L463.3 291.9L463.9 291.1L464.5 293.6L465.1 291.2L465.7 290.8L466.3 293.3L466.9 292.8L467.5 294.4L468.1 295L468.7 294.4L469.3 291.7L469.9 291.6L470.5 296.6L471.1 293.8L471.7 293.9L472.3 293.7L472.9 293.3L473.5 293L474.1 292.3L474.7 292.2L475.3 289.8L475.9 295.2L476.5 293.8L477.1 291.6L477.7 294.1L478.3 295.1L478.9 292L479.5 292.8L480.1 296.4L480.7 295.8L481.3 295.6L481.9 296.6L482.5 295.2L483.1 294.7L483.7 297.8L484.3 295.9L484.9 295.8L485.5 297.1L486.1 296.6L486.7 294.6L487.3 299.3L487.9 297.5L488.5 300.2L489.1 299L489.7 296.5L490.3 300L490.9 298.1L491.5 296.6L492.1 297.6L492.7 294.4L493.3 297.8L493.9 296.9L494.5 297.5L495.1 296.6L495.7 299L496.3 299.1L496.9 300.3L497.5 301.6L498.1 299.8L498.7 299.1L499.3 299.3L499.9 297.6L500.5 297.4L501.1 299.4L501.7 297.1L502.3 294.7L502.9 296.6L503.5 297.9L504.1 300.1L504.7 297L505.3 295.7L505.9 297L506.5 296.7L507.1 297.2L507.7 295.9L508.3 296.6L508.9 295.4L509.5 298.2L510.2 296L510.5 275.3L510.9 306L511.5 302L511.9 297.7L512.5 299.9L513.1 300.5L513.7 302.8L514.3 303.4L514.9 302.1L515.5 302L516.1 300.5L516.7 300.8L517.3 300.7L517.9 299.1L518.5 297L519.1 299.7L519.7 296.8L520.3 299.9L520.9 299.8L521.5 300.1L522.1 296.1L522.7 297.2L523.3 294.1L523.9 294.9L524.5 293L525.1 293.7L525.7 294.1L526.3 296.4L526.9 297.1L527.5 294.8L528.1 294.2L528.7 292.7L529.3 291.7L529.9 290.1L530.5 292L531.1 293.5L531.7 291.4L532.3 292.4L532.9 290L533.5 289.7L534.1 290.5L534.7 293.1L535.3 291.5L535.9 293.3L536.5 292L537.1 290.6L537.7 288.9L538.3 291L538.9 290.8L539.5 293.9L540.1 294L540.7 290.8L541.3 294.1L541.9 294.6L542.5 289.4L543.1 291.2L543.7 293.9L544.3 291.7L544.9 292.7L545.5 294.8L546.1 295.2L546.7 295.7L547.3 296.1L547.9 294.7L548.5 298.2L549.1 297.1L549.7 298.8L550.3 296.5L550.9 297L551.5 296.8L552.1 296.3L552.7 296.7L553.3 296.8L553.9 297.5L554.5 297.2L555.1 296.9L555.7 297.3L556.3 298.6L556.9 297.3L557.5 297.7L558.1 297.3L558.7 294.8L559.3 295.5L559.9 295.7L560.5 295L561.1 295.6L561.7 294.4L562.3 296.3L562.9 295.7L563.5 297.5L564.1 296.8L564.7 294.7L565.3 295.2L565.9 295.6L566.5 294.7L567.1 294.7L567.7 293.8L568.3 293.9L568.9 294.9L569.5 294.4L570.1 295.9L570.7 292.6L571.3 293.4L571.9 294.1L572.5 296.5L573.1 296.7L573.7 296.4L574.3 296.7L574.9 297.5L575.5 296.7L576.1 295.6L576.7 295.8L577.3 294.9L577.9 295.3L578.5 296.2L579.1 295.5L579.7 296L580.3 295.6L580.9 294.4L581.5 293.9L582.1 296.2L582.7 295.9L583.3 296.7L583.9 295.8L584.5 295.7L585.1 295.9L585.7 295.2L586.3 296.9L586.9 296.9L587.5 296.2L588.1 294.3L588.7 294.4L589.3 295.2L589.9 296.4L590.5 295.2L591.1 294.7L591.7 295.1L592.3 294.5L592.9 293.9L593.5 292.5L594.1 294.7L594.7 293.6L595.3 292.6L595.9 292.7L596.5 291.2L597.1 290.3L597.7 290.1L598.3 292.5L598.9 291.3L599.5 292.7L600.1 291.7L600.7 290.8L601.3 292L601.9 292.2L602.5 292.4L603.1 295.3L603.7 294.5L604.3 293.7L604.9 295.3L605.5 294.6L606.1 296.4L606.7 293.9L607.3 296.6L607.9 295L608.5 295.2L609.1 296.5L609.7 295.7L610.3 294.8L610.9 296L611.5 296.3L612.1 294.9L612.7 297.4L613.3 296L613.9 295.9L614.5 296.2L615.1 296.6L615.7 297.8L616.3 294.4L616.9 296L617.5 297.4L618.1 297L618.7 296.5L619.3 295.1L619.9 296.4L620.5 295.8L621.1 296.3L621.7 295L622.3 295.5L622.9 295.8L623.5 294.3L624.1 296.8L624.7 296.1L625.3 294.6L625.9 295.4L626.5 296L627.1 295.7L627.7 294.8L628.3 295.5L628.9 294.4L629.5 293.8L630.1 296.9L630.7 298.2L631.3 298.8L631.9 299.4L632.5 298.5L633.1 295.7L633.7 295.4L634.3 297.2L634.9 295.9L635.5 295.7L636.1 296.1L636.7 296.7L637.3 294.8L637.9 295.9L638.5 296.7L639.1 294.1L639.7 297L640.3 297.3L640.9 295.6L641.5 298.1L642.1 297.1L642.7 296.9L643.3 298.1L643.9 293.7L644.5 295.5L645.1 297.1L645.7 297.9L646.3 296.4L646.9 295.9L647.5 295L648.1 295.3L648.7 294.7L649.3 292.8L649.9 294.4L650.5 294.3L651.1 294.7L651.7 294.9L652.3 294.9L652.9 295.6L653.5 295.5L654.1 295.2L654.7 294.8L655.3 295.2L655.9 295.1L656.5 295.2L657.1 296.9L657.7 296.1L658.3 295.1L658.9 293L659.5 293.1L660.1 291.4L660.7 295.3L661.3 296.6L661.9 295.2L662.5 294.8L663.1 295.8L663.7 296.2L664.3 293.7L664.9 294.7L665.5 294.9L666.1 293.9L666.7 296.7L667.3 296.7L667.9 295.2L668.5 295.4L669.1 295L669.7 294.9L670.3 295L670.9 296.7L671.5 296L672.1 295.2L672.7 294.8L673.3 295.8L673.9 294.8L674.5 293.7L675.1 295.1L675.7 297.5L676.3 295.5L676.9 296L677.5 295.7L678.1 297.3L678.7 296.8L679.3 294.8L679.9 297.7L680.5 296.4L681.1 295L681.7 295.1L682.3 295.8L682.9 297.1L683.5 295.8L684.1 295L684.7 297.1L685.3 297.9L685.9 295.9L686.5 295.9L687.1 296.2L687.7 295.5L688.3 294.6L688.9 296.6L689.5 294.6L690.1 293.3L690.7 295.6L691.3 296.9L691.9 296.8" stroke="#ff0000" stroke-width="1.6"/>
<path d="M354.7 340.1L355.7 338.5L356.7 335.3L357.7 333.6L358.7 334.2L359.7 335.2L360.7 334.7L361.7 333.5L362.7 333.4L363.7 333.8L364.7 334.5L365.7 334.1L366.7 333.8L367.7 333.7L368.7 333.9L369.7 333.4L370.7 333.7L371.7 333.9L372.7 334.8L373.7 334.6L374.7 336.8L375.7 338.7L376.7 341.5L377.7 338.1L378.7 335.3L379.7 334L380.7 334.3L381.7 333.7L382.7 334.4L383.7 334.9L384.7 335.1L385.7 335.1L386.7 333.4L387.7 333.8L388.7 333.3L389.7 334.2L390.7 333.9L391.7 333.9L392.7 334.1L393.7 333.5L394.7 333.7L395.7 333.3L396.7 334.9L397.7 333.8L398.7 333.8L399.7 332.6L400.7 332.5L401.7 332.8L402.7 334L403.7 334.3L404.7 334.1L405.7 333.4L406.7 334.8L407.7 333.4L408.7 333.5L409.7 340.3L410.7 337.5L411.7 334.5L412.7 334.8L413.7 334.3L414.7 334.5L415.7 334.3L416.7 333.8L417.7 332.1L418.7 332.8L419.7 333.7L420.7 333L421.7 333.4L422.7 334L423.7 334.9L424.7 333.4L425.7 333.5L426.7 334L427.7 334.3L428.7 333.2L429.7 334.9L430.7 333.7L431.7 334.6L432.7 334L433.7 334.2L434.7 335L435.7 334.7L436.7 334.2L437.7 333.3L438.7 333.3L439.7 332.8L440.7 334.8L441.7 333.1L442.7 332.1L443.7 336L444.7 335.6L445.7 333.8L446.7 334.3L447.7 333.6L448.7 333.6L449.7 334.4L450.7 334.7L451.7 334.4L452.7 335.8L453.7 335.9L454.7 337.2L455.7 335.6L456.7 335.4L457.7 336.1L458.7 338.2L459.7 341.6L460.7 344.1L461.7 344.8L462.7 343.3L463.7 342L464.7 342.7L465.7 340.2L466.7 340.5L467.7 339.7L468.7 340.1L469.7 341.7L470.7 339.5L471.7 339.5L472.7 340L473.7 339.5L474.7 339.2L475.7 337.1L476.7 337.5L477.7 335.9L478.7 334.7L479.7 335.5L480.7 335.6L481.7 334.7L482.7 334.3L483.7 334.4L484.7 334.5L485.7 334.3L486.7 333.5L487.7 333.5L488.7 337.8L489.7 339.1L490.7 335.1L491.7 333L492.7 333L493.7 333.2L494.7 332.1L495.7 333.9L496.7 333.7L497.7 333.1L498.7 333.3L499.7 333.2L500.7 334.2L501.7 334.6L502.7 335.9L503.7 337.1L504.7 336.8L505.7 337.2L506.7 337.6L507.7 340.4L508.7 342.7L509.7 345.6L510.7 346.7L511.7 347.3L512.7 346.8L513.7 348L514.7 347.3L515.7 347.1L516.7 346.7L517.7 345.5L518.7 346.4L519.7 345.3L520.7 346.7L521.7 345.6L522.7 344.5L523.7 342.2L524.7 341L525.7 340.6L526.7 339.1L527.7 339L528.7 337.4L529.7 336.6L530.7 335.3L531.7 336.8L532.7 338.1L533.7 338.4L534.7 338.8L535.7 338.6L536.7 338.3L537.7 337.3L538.7 336L539.7 335.2L540.7 335.1L541.7 333.5L542.7 334.2L543.7 335.5L544.7 334L545.7 334.1L546.7 334.9L547.7 334.6L548.7 334.6L549.7 334L550.7 333.2L551.7 334.8L552.7 334.1L553.7 333.8L554.7 334.2L555.7 333.9L556.7 333.4L557.7 332.7L558.7 332.8L559.7 332.8L560.7 332.6L561.7 332.5L562.7 332.5L563.7 332.9L564.7 332.9L565.7 333.4L566.7 333.9L567.7 333.8L568.7 333.7L569.7 334.4L570.7 334.3L571.7 335.4L572.7 338.9L573.7 334.3L574.7 333.3L575.7 333.9L576.7 333L577.7 332.6L578.7 333.8L579.7 334L580.7 333.1L581.7 333.5L582.7 334.3L583.7 333.4L584.7 333.1L585.7 333L586.7 333L587.7 332.7L588.7 333.2L589.7 332.9L590.7 333.5L591.7 334.6L592.7 333.5L593.7 334.1L594.7 334.4L595.7 334.4L596.7 337L597.7 339.5L598.7 341.7L599.7 341.7L600.7 340.1L601.7 339.3L602.7 338.5L603.7 337.4L604.7 336L605.7 336.2L606.7 334.4L607.7 333.5L608.7 334.5L609.7 334.4L610.7 333.4L611.7 332.7L612.7 332.5L613.7 333.4L614.7 332.9L615.7 332.6L616.7 333.3L617.7 333L618.7 333L619.7 333.9L620.7 333.7L621.7 333.8L622.7 333.5L623.7 333.8L624.7 333.3L625.7 333.6L626.7 333.8L627.7 333.2L628.7 332.6L629.7 333.3L630.7 333.2L631.7 333.5L632.7 333.1L633.7 333.5L634.7 333.8L635.7 334.5L636.7 334.5L637.7 333.9L638.7 334.2L639.7 333.4L640.7 333.9L641.7 333.7L642.7 334.1L643.7 333.8L644.7 333.5L645.7 333.2L646.7 334L647.7 333.7L648.7 333.9L649.7 333.9L650.7 332.8L651.7 333.6L652.7 333.5L653.7 333.8L654.7 333.9L655.7 333L656.7 333.8L657.7 337.3L658.7 335.3L659.7 334.2L660.7 333.5L661.7 333.5L662.7 333.9L663.7 332.8L664.7 334.2L665.7 333.3L666.7 334L667.7 333.7L668.7 334.4L669.7 334.2L670.7 333.6L671.7 332.7L672.7 333.2L673.7 333.4L674.7 333.6L675.7 332.8L676.7 332.7L677.7 332.7L678.7 333.2L679.7 332.8L680.7 333L681.7 333.5L682.7 333L683.7 333.7L684.7 333.4L685.7 333L686.7 333.5L687.7 333.3L688.7 332.9L689.7 332.7L690.7 332.8" stroke="#00ff00" stroke-width="1.15"/>
<path d="M354.7 338.7L355.7 336.3L356.7 336.3L357.7 333.9L358.7 333.3L359.7 333.3L360.7 332.7L361.7 332.4L362.7 333L363.7 332.6L364.7 333.2L365.7 332.7L366.7 331.7L367.7 331.6L368.7 331.8L369.7 331.2L370.7 332.1L371.7 332.2L372.7 333L373.7 332.7L374.7 334.3L375.7 336.3L376.7 337.4L377.7 335.1L378.7 335L379.7 332.8L380.7 333.2L381.7 332.5L382.7 332.3L383.7 331.7L384.7 332.2L385.7 333.8L386.7 332.5L387.7 333.4L388.7 333.6L389.7 332.6L390.7 333.2L391.7 333.5L392.7 332.6L393.7 332.2L394.7 333.1L395.7 332.9L396.7 333.9L397.7 333.2L398.7 332L399.7 332.3L400.7 331.8L401.7 332.7L402.7 333L403.7 332.4L404.7 332L405.7 332.9L406.7 332.4L407.7 333.2L408.7 332.1L409.7 333.5L410.7 333.7L411.7 332.5L412.7 334.4L413.7 334.4L414.7 333L415.7 333.4L416.7 332L417.7 333.4L418.7 333.7L419.7 332.9L420.7 332.7L421.7 332.9L422.7 333.1L423.7 332.7L424.7 332.3L425.7 332.5L426.7 332.4L427.7 333.1L428.7 332.9L429.7 332.9L430.7 331.8L431.7 332.2L432.7 332.3L433.7 332.3L434.7 332.5L435.7 332.4L436.7 331.7L437.7 332.9L438.7 333.2L439.7 332.5L440.7 332.9L441.7 332.1L442.7 331.7L443.7 332.2L444.7 333.3L445.7 332.7L446.7 331.7L447.7 332.6L448.7 332.5L449.7 332.5L450.7 333.3L451.7 332.4L452.7 332.2L453.7 332.5L454.7 334.2L455.7 334.3L456.7 334L457.7 334.6L458.7 337L459.7 339.3L460.7 340L461.7 341.2L462.7 342.1L463.7 341.1L464.7 340L465.7 339.9L466.7 339.6L467.7 339.8L468.7 339.5L469.7 338.8L470.7 338.7L471.7 338.9L472.7 338.2L473.7 338.1L474.7 336.8L475.7 337.2L476.7 337L477.7 335L478.7 334.9L479.7 334.5L480.7 334.2L481.7 333.8L482.7 333.9L483.7 334.2L484.7 332.9L485.7 333.7L486.7 333L487.7 333.2L488.7 334.5L489.7 335.2L490.7 334L491.7 333.2L492.7 332.5L493.7 332.2L494.7 332.9L495.7 331.9L496.7 332.6L497.7 332.4L498.7 331.8L499.7 331.6L500.7 332.1L501.7 333L502.7 333.8L503.7 334.6L504.7 334.3L505.7 334.7L506.7 336.8L507.7 339.1L508.7 341.6L509.7 344.3L510.7 344.7L511.7 346.5L512.7 346.4L513.7 346.3L514.7 345.6L515.7 346.4L516.7 346.4L517.7 346.7L518.7 346.3L519.7 345.1L520.7 344.3L521.7 344.8L522.7 342.1L523.7 340.2L524.7 339.1L525.7 338.7L526.7 338L527.7 336.3L528.7 335.5L529.7 334.1L530.7 334.4L531.7 335.3L532.7 335.4L533.7 337.7L534.7 338.5L535.7 337.1L536.7 336.5L537.7 335.7L538.7 335.4L539.7 334.8L540.7 334L541.7 334.2L542.7 332.4L543.7 333L544.7 333.7L545.7 333.7L546.7 333.5L547.7 332.6L548.7 332L549.7 332.4L550.7 333.5L551.7 332.9L552.7 332.2L553.7 331.6L554.7 332.1L555.7 331.9L556.7 332.2L557.7 332.1L558.7 330.9L559.7 331.4L560.7 332L561.7 331.7L562.7 331.4L563.7 331.4L564.7 331.3L565.7 332.8L566.7 333L567.7 332.3L568.7 332.9L569.7 332.2L570.7 332.2L571.7 332.1L572.7 332.3L573.7 332.7L574.7 333.4L575.7 333.1L576.7 332.7L577.7 332.6L578.7 332.5L579.7 332.7L580.7 332.2L581.7 332.5L582.7 332.7L583.7 333L584.7 332.3L585.7 332.6L586.7 332.7L587.7 332.2L588.7 331.6L589.7 332L590.7 332.7L591.7 332.5L592.7 333.4L593.7 333L594.7 332.4L595.7 333.9L596.7 335.5L597.7 337L598.7 338.2L599.7 338.2L600.7 339.1L601.7 338.4L602.7 337.7L603.7 336.2L604.7 334.5L605.7 334L606.7 332.8L607.7 332.7L608.7 332.3L609.7 332.5L610.7 332.6L611.7 331.7L612.7 331.1L613.7 331.7L614.7 332.3L615.7 332.1L616.7 332.1L617.7 331.3L618.7 331.5L619.7 332L620.7 332.1L621.7 332L622.7 332.2L623.7 332.4L624.7 332.1L625.7 331.7L626.7 331.3L627.7 331.9L628.7 331.9L629.7 331.9L630.7 332.5L631.7 331.9L632.7 331.9L633.7 332.3L634.7 331.8L635.7 331.2L636.7 331.7L637.7 332.4L638.7 332L639.7 332.1L640.7 331.4L641.7 332.5L642.7 331.6L643.7 331.8L644.7 332.1L645.7 333.1L646.7 332.6L647.7 332.2L648.7 331.7L649.7 332.1L650.7 331.8L651.7 332L652.7 332.3L653.7 332.9L654.7 332.2L655.7 333L656.7 331.9L657.7 333.1L658.7 332.4L659.7 332.3L660.7 332.3L661.7 332.5L662.7 332.4L663.7 332.3L664.7 332.1L665.7 332L666.7 332.3L667.7 332.1L668.7 331.9L669.7 331.6L670.7 332L671.7 332.4L672.7 331.8L673.7 332.5L674.7 332.2L675.7 332.2L676.7 331.4L677.7 332.1L678.7 332.6L679.7 333L680.7 332L681.7 331.9L682.7 332.2L683.7 332.2L684.7 331.7L685.7 331.8L686.7 332.2L687.7 332.1L688.7 331.8L689.7 332.2L690.7 331.2" stroke="#0000ff" stroke-width="1.15"/>
<path d="M390.7 336L394.7 337.3L404 337.3L410.7 335.5L446.7 336L457.3 338.1L464 340L470.7 336L481.3 334.7L489.3 335.5L500 334.7L506.7 339.2L509.3 342.7L509.9 351.5L522.7 351.5L522.9 345.3L526.7 341.3L532 337.3L535.2 341.3L538.7 337.3L546.7 335.2L560 334.7L594.7 333.9L598.7 336L605.3 334.7L612 333.3L690.7 332.8" stroke="#000" stroke-width="1.15"/>
</g>
<g fill="none" stroke="#000" stroke-width="1.2">
<path d="M58 13.1H693M58 72.2H693M58 90.1H693M58 148.8H693M58 207.5H693M58 266.6H693M58 325.3H693M58 384.2H693M58 396.3H693M58 455.3H693M58 513.1H693M58 572.4H693M58 631.3H693M58 690.1H693M58 749.2H693M58.5 12.6V749.7M692.5 12.6V749.7"/>
<path d="M58.5 70.5h6M692.5 70.5h-6M58.5 67.5h6M692.5 67.5h-6M58.5 64.5h6M692.5 64.5h-6M58.5 61.5h6M692.5 61.5h-6M58.5 58.5h12M692.5 58.5h-12M58.5 55.5h6M692.5 55.5h-6M58.5 52.5h6M692.5 52.5h-6M58.5 49.5h6M692.5 49.5h-6M58.5 46.5h6M692.5 46.5h-6M58.5 43.5h6M692.5 43.5h-6M58.5 40.5h6M692.5 40.5h-6M58.5 37.5h6M692.5 37.5h-6M58.5 34.5h6M692.5 34.5h-6M58.5 31.5h6M692.5 31.5h-6M58.5 28.5h12M692.5 28.5h-12M58.5 25.5h6M692.5 25.5h-6M58.5 22.5h6M692.5 22.5h-6M58.5 19.5h6M692.5 19.5h-6M58.5 16.5h6M692.5 16.5h-6M58.5 13.5h6M692.5 13.5h-6M58.5 148.5h6M692.5 148.5h-6M58.5 146.5h6M692.5 146.5h-6M58.5 145.5h6M692.5 145.5h-6M58.5 143.5h6M692.5 143.5h-6M58.5 141.5h6M692.5 141.5h-6M58.5 139.5h12M692.5 139.5h-12M58.5 137.5h6M692.5 137.5h-6M58.5 135.5h6M692.5 135.5h-6M58.5 133.5h6M692.5 133.5h-6M58.5 131.5h6M692.5 131.5h-6M58.5 129.5h12M692.5 129.5h-12M58.5 127.5h6M692.5 127.5h-6M58.5 125.5h6M692.5 125.5h-6M58.5 123.5h6M692.5 123.5h-6M58.5 121.5h6M692.5 121.5h-6M58.5 119.5h12M692.5 119.5h-12M58.5 117.5h6M692.5 117.5h-6M58.5 115.5h6M692.5 115.5h-6M58.5 113.5h6M692.5 113.5h-6M58.5 111.5h6M692.5 111.5h-6M58.5 109.5h12M692.5 109.5h-12M58.5 107.5h6M692.5 107.5h-6M58.5 106.5h6M692.5 106.5h-6M58.5 104.5h6M692.5 104.5h-6M58.5 102.5h6M692.5 102.5h-6M58.5 100.5h12M692.5 100.5h-12M58.5 98.5h6M692.5 98.5h-6M58.5 96.5h6M692.5 96.5h-6M58.5 94.5h6M692.5 94.5h-6M58.5 92.5h6M692.5 92.5h-6M58.5 90.5h12M692.5 90.5h-12M58.5 204.5h6M692.5 204.5h-6M58.5 201.5h6M692.5 201.5h-6M58.5 197.5h6M692.5 197.5h-6M58.5 193.5h12M692.5 193.5h-12M58.5 189.5h6M692.5 189.5h-6M58.5 186.5h6M692.5 186.5h-6M58.5 182.5h6M692.5 182.5h-6M58.5 178.5h12M692.5 178.5h-12M58.5 174.5h6M692.5 174.5h-6M58.5 171.5h6M692.5 171.5h-6M58.5 167.5h6M692.5 167.5h-6M58.5 163.5h12M692.5 163.5h-12M58.5 159.5h6M692.5 159.5h-6M58.5 156.5h6M692.5 156.5h-6M58.5 152.5h6M692.5 152.5h-6M58.5 263.5h6M692.5 263.5h-6M58.5 261.5h6M692.5 261.5h-6M58.5 259.5h6M692.5 259.5h-6M58.5 258.5h6M692.5 258.5h-6M58.5 257.5h6M692.5 257.5h-6M58.5 256.5h6M692.5 256.5h-6M58.5 255.5h6M692.5 255.5h-6M58.5 255.5h6M692.5 255.5h-6M58.5 254.5h12M692.5 254.5h-12M58.5 250.5h6M692.5 250.5h-6M58.5 248.5h6M692.5 248.5h-6M58.5 246.5h6M692.5 246.5h-6M58.5 245.5h6M692.5 245.5h-6M58.5 244.5h6M692.5 244.5h-6M58.5 243.5h6M692.5 243.5h-6M58.5 242.5h6M692.5 242.5h-6M58.5 242.5h6M692.5 242.5h-6M58.5 241.5h12M692.5 241.5h-12M58.5 237.5h6M692.5 237.5h-6M58.5 235.5h6M692.5 235.5h-6M58.5 233.5h6M692.5 233.5h-6M58.5 232.5h6M692.5 232.5h-6M58.5 231.5h6M692.5 231.5h-6M58.5 230.5h6M692.5 230.5h-6M58.5 229.5h6M692.5 229.5h-6M58.5 229.5h6M692.5 229.5h-6M58.5 228.5h12M692.5 228.5h-12M58.5 224.5h6M692.5 224.5h-6M58.5 222.5h6M692.5 222.5h-6M58.5 220.5h6M692.5 220.5h-6M58.5 219.5h6M692.5 219.5h-6M58.5 218.5h6M692.5 218.5h-6M58.5 217.5h6M692.5 217.5h-6M58.5 216.5h6M692.5 216.5h-6M58.5 216.5h6M692.5 216.5h-6M58.5 215.5h12M692.5 215.5h-12M58.5 211.5h6M692.5 211.5h-6M58.5 209.5h6M692.5 209.5h-6M58.5 324.5h12M692.5 324.5h-12M58.5 322.5h6M692.5 322.5h-6M58.5 320.5h6M692.5 320.5h-6M58.5 318.5h6M692.5 318.5h-6M58.5 316.5h6M692.5 316.5h-6M58.5 314.5h12M692.5 314.5h-12M58.5 312.5h6M692.5 312.5h-6M58.5 310.5h6M692.5 310.5h-6M58.5 309.5h6M692.5 309.5h-6M58.5 307.5h6M692.5 307.5h-6M58.5 305.5h12M692.5 305.5h-12M58.5 303.5h6M692.5 303.5h-6M58.5 301.5h6M692.5 301.5h-6M58.5 299.5h6M692.5 299.5h-6M58.5 297.5h6M692.5 297.5h-6M58.5 296.5h12M692.5 296.5h-12M58.5 294.5h6M692.5 294.5h-6M58.5 292.5h6M692.5 292.5h-6M58.5 290.5h6M692.5 290.5h-6M58.5 288.5h6M692.5 288.5h-6M58.5 286.5h12M692.5 286.5h-12M58.5 284.5h6M692.5 284.5h-6M58.5 282.5h6M692.5 282.5h-6M58.5 281.5h6M692.5 281.5h-6M58.5 279.5h6M692.5 279.5h-6M58.5 277.5h12M692.5 277.5h-12M58.5 275.5h6M692.5 275.5h-6M58.5 273.5h6M692.5 273.5h-6M58.5 271.5h6M692.5 271.5h-6M58.5 269.5h6M692.5 269.5h-6M58.5 267.5h12M692.5 267.5h-12M58.5 380.5h6M692.5 380.5h-6M58.5 378.5h6M692.5 378.5h-6M58.5 377.5h6M692.5 377.5h-6M58.5 376.5h6M692.5 376.5h-6M58.5 375.5h6M692.5 375.5h-6M58.5 374.5h6M692.5 374.5h-6M58.5 373.5h6M692.5 373.5h-6M58.5 373.5h6M692.5 373.5h-6M58.5 372.5h12M692.5 372.5h-12M58.5 368.5h6M692.5 368.5h-6M58.5 366.5h6M692.5 366.5h-6M58.5 365.5h6M692.5 365.5h-6M58.5 364.5h6M692.5 364.5h-6M58.5 363.5h6M692.5 363.5h-6M58.5 362.5h6M692.5 362.5h-6M58.5 361.5h6M692.5 361.5h-6M58.5 361.5h6M692.5 361.5h-6M58.5 360.5h12M692.5 360.5h-12M58.5 357.5h6M692.5 357.5h-6M58.5 355.5h6M692.5 355.5h-6M58.5 353.5h6M692.5 353.5h-6M58.5 352.5h6M692.5 352.5h-6M58.5 351.5h6M692.5 351.5h-6M58.5 350.5h6M692.5 350.5h-6M58.5 350.5h6M692.5 350.5h-6M58.5 349.5h6M692.5 349.5h-6M58.5 349.5h12M692.5 349.5h-12M58.5 345.5h6M692.5 345.5h-6M58.5 343.5h6M692.5 343.5h-6M58.5 342.5h6M692.5 342.5h-6M58.5 340.5h6M692.5 340.5h-6M58.5 339.5h6M692.5 339.5h-6M58.5 339.5h6M692.5 339.5h-6M58.5 338.5h6M692.5 338.5h-6M58.5 337.5h6M692.5 337.5h-6M58.5 337.5h12M692.5 337.5h-12M58.5 333.5h6M692.5 333.5h-6M58.5 331.5h6M692.5 331.5h-6M58.5 330.5h6M692.5 330.5h-6M58.5 329.5h6M692.5 329.5h-6M58.5 328.5h6M692.5 328.5h-6M58.5 327.5h6M692.5 327.5h-6M58.5 326.5h6M692.5 326.5h-6M58.5 326.5h6M692.5 326.5h-6M58.5 325.5h12M692.5 325.5h-12M58.5 454.5h6M692.5 454.5h-6M58.5 452.5h6M692.5 452.5h-6M58.5 450.5h6M692.5 450.5h-6M58.5 448.5h6M692.5 448.5h-6M58.5 446.5h6M692.5 446.5h-6M58.5 445.5h12M692.5 445.5h-12M58.5 436.5h6M692.5 436.5h-6M58.5 430.5h6M692.5 430.5h-6M58.5 426.5h6M692.5 426.5h-6M58.5 423.5h6M692.5 423.5h-6M58.5 421.5h6M692.5 421.5h-6M58.5 419.5h6M692.5 419.5h-6M58.5 417.5h6M692.5 417.5h-6M58.5 415.5h6M692.5 415.5h-6M58.5 414.5h12M692.5 414.5h-12M58.5 405.5h6M692.5 405.5h-6M58.5 399.5h6M692.5 399.5h-6M58.5 512.5h6M692.5 512.5h-6M58.5 511.5h6M692.5 511.5h-6M58.5 510.5h12M692.5 510.5h-12M58.5 505.5h6M692.5 505.5h-6M58.5 502.5h6M692.5 502.5h-6M58.5 500.5h6M692.5 500.5h-6M58.5 499.5h6M692.5 499.5h-6M58.5 497.5h6M692.5 497.5h-6M58.5 496.5h6M692.5 496.5h-6M58.5 495.5h6M692.5 495.5h-6M58.5 494.5h6M692.5 494.5h-6M58.5 494.5h12M692.5 494.5h-12M58.5 489.5h6M692.5 489.5h-6M58.5 486.5h6M692.5 486.5h-6M58.5 484.5h6M692.5 484.5h-6M58.5 482.5h6M692.5 482.5h-6M58.5 481.5h6M692.5 481.5h-6M58.5 480.5h6M692.5 480.5h-6M58.5 479.5h6M692.5 479.5h-6M58.5 478.5h6M692.5 478.5h-6M58.5 477.5h12M692.5 477.5h-12M58.5 472.5h6M692.5 472.5h-6M58.5 469.5h6M692.5 469.5h-6M58.5 467.5h6M692.5 467.5h-6M58.5 466.5h6M692.5 466.5h-6M58.5 464.5h6M692.5 464.5h-6M58.5 463.5h6M692.5 463.5h-6M58.5 462.5h6M692.5 462.5h-6M58.5 462.5h6M692.5 462.5h-6M58.5 461.5h12M692.5 461.5h-12M58.5 456.5h6M692.5 456.5h-6M58.5 571.5h6M692.5 571.5h-6M58.5 566.5h6M692.5 566.5h-6M58.5 562.5h6M692.5 562.5h-6M58.5 559.5h6M692.5 559.5h-6M58.5 556.5h6M692.5 556.5h-6M58.5 553.5h6M692.5 553.5h-6M58.5 551.5h6M692.5 551.5h-6M58.5 550.5h12M692.5 550.5h-12M58.5 537.5h6M692.5 537.5h-6M58.5 530.5h6M692.5 530.5h-6M58.5 525.5h6M692.5 525.5h-6M58.5 521.5h6M692.5 521.5h-6M58.5 518.5h6M692.5 518.5h-6M58.5 515.5h6M692.5 515.5h-6M58.5 630.5h6M692.5 630.5h-6M58.5 629.5h6M692.5 629.5h-6M58.5 629.5h12M692.5 629.5h-12M58.5 624.5h6M692.5 624.5h-6M58.5 621.5h6M692.5 621.5h-6M58.5 619.5h6M692.5 619.5h-6M58.5 617.5h6M692.5 617.5h-6M58.5 616.5h6M692.5 616.5h-6M58.5 615.5h6M692.5 615.5h-6M58.5 614.5h6M692.5 614.5h-6M58.5 613.5h6M692.5 613.5h-6M58.5 612.5h12M692.5 612.5h-12M58.5 608.5h6M692.5 608.5h-6M58.5 605.5h6M692.5 605.5h-6M58.5 603.5h6M692.5 603.5h-6M58.5 601.5h6M692.5 601.5h-6M58.5 600.5h6M692.5 600.5h-6M58.5 599.5h6M692.5 599.5h-6M58.5 598.5h6M692.5 598.5h-6M58.5 597.5h6M692.5 597.5h-6M58.5 596.5h12M692.5 596.5h-12M58.5 591.5h6M692.5 591.5h-6M58.5 589.5h6M692.5 589.5h-6M58.5 586.5h6M692.5 586.5h-6M58.5 585.5h6M692.5 585.5h-6M58.5 584.5h6M692.5 584.5h-6M58.5 583.5h6M692.5 583.5h-6M58.5 582.5h6M692.5 582.5h-6M58.5 581.5h6M692.5 581.5h-6M58.5 580.5h12M692.5 580.5h-12M58.5 575.5h6M692.5 575.5h-6M58.5 572.5h6M692.5 572.5h-6M58.5 687.5h6M692.5 687.5h-6M58.5 684.5h6M692.5 684.5h-6M58.5 682.5h6M692.5 682.5h-6M58.5 681.5h6M692.5 681.5h-6M58.5 679.5h6M692.5 679.5h-6M58.5 678.5h6M692.5 678.5h-6M58.5 677.5h6M692.5 677.5h-6M58.5 676.5h12M692.5 676.5h-12M58.5 670.5h6M692.5 670.5h-6M58.5 667.5h6M692.5 667.5h-6M58.5 664.5h6M692.5 664.5h-6M58.5 662.5h6M692.5 662.5h-6M58.5 661.5h6M692.5 661.5h-6M58.5 659.5h6M692.5 659.5h-6M58.5 658.5h6M692.5 658.5h-6M58.5 657.5h6M692.5 657.5h-6M58.5 656.5h12M692.5 656.5h-12M58.5 650.5h6M692.5 650.5h-6M58.5 647.5h6M692.5 647.5h-6M58.5 644.5h6M692.5 644.5h-6M58.5 643.5h6M692.5 643.5h-6M58.5 641.5h6M692.5 641.5h-6M58.5 640.5h6M692.5 640.5h-6M58.5 639.5h6M692.5 639.5h-6M58.5 638.5h6M692.5 638.5h-6M58.5 637.5h12M692.5 637.5h-12M58.5 745.5h6M692.5 745.5h-6M58.5 743.5h6M692.5 743.5h-6M58.5 741.5h6M692.5 741.5h-6M58.5 739.5h6M692.5 739.5h-6M58.5 738.5h6M692.5 738.5h-6M58.5 737.5h6M692.5 737.5h-6M58.5 736.5h6M692.5 736.5h-6M58.5 735.5h12M692.5 735.5h-12M58.5 729.5h6M692.5 729.5h-6M58.5 725.5h6M692.5 725.5h-6M58.5 723.5h6M692.5 723.5h-6M58.5 721.5h6M692.5 721.5h-6M58.5 719.5h6M692.5 719.5h-6M58.5 718.5h6M692.5 718.5h-6M58.5 717.5h6M692.5 717.5h-6M58.5 716.5h6M692.5 716.5h-6M58.5 715.5h12M692.5 715.5h-12M58.5 709.5h6M692.5 709.5h-6M58.5 706.5h6M692.5 706.5h-6M58.5 703.5h6M692.5 703.5h-6M58.5 701.5h6M692.5 701.5h-6M58.5 700.5h6M692.5 700.5h-6M58.5 698.5h6M692.5 698.5h-6M58.5 697.5h6M692.5 697.5h-6M58.5 696.5h6M692.5 696.5h-6M58.5 695.5h12M692.5 695.5h-12" stroke-width="1" shape-rendering="crispEdges"/>
<path d="M111.3 13.1v1.1M111.3 72.2v-1.1M164.2 13.1v2.0M164.2 72.2v-2.0M217 13.1v1.1M217 72.2v-1.1M269.8 13.1v2.0M269.8 72.2v-2.0M322.7 13.1v1.1M322.7 72.2v-1.1M375.5 13.1v2.0M375.5 72.2v-2.0M428.3 13.1v1.1M428.3 72.2v-1.1M481.2 13.1v2.0M481.2 72.2v-2.0M534 13.1v1.1M534 72.2v-1.1M586.8 13.1v2.0M586.8 72.2v-2.0M639.7 13.1v1.1M639.7 72.2v-1.1M111.3 90.1v1.1M111.3 148.8v-1.1M164.2 90.1v2.0M164.2 148.8v-2.0M217 90.1v1.1M217 148.8v-1.1M269.8 90.1v2.0M269.8 148.8v-2.0M322.7 90.1v1.1M322.7 148.8v-1.1M375.5 90.1v2.0M375.5 148.8v-2.0M428.3 90.1v1.1M428.3 148.8v-1.1M481.2 90.1v2.0M481.2 148.8v-2.0M534 90.1v1.1M534 148.8v-1.1M586.8 90.1v2.0M586.8 148.8v-2.0M639.7 90.1v1.1M639.7 148.8v-1.1M111.3 148.8v1.1M111.3 207.5v-1.1M164.2 148.8v2.0M164.2 207.5v-2.0M217 148.8v1.1M217 207.5v-1.1M269.8 148.8v2.0M269.8 207.5v-2.0M322.7 148.8v1.1M322.7 207.5v-1.1M375.5 148.8v2.0M375.5 207.5v-2.0M428.3 148.8v1.1M428.3 207.5v-1.1M481.2 148.8v2.0M481.2 207.5v-2.0M534 148.8v1.1M534 207.5v-1.1M586.8 148.8v2.0M586.8 207.5v-2.0M639.7 148.8v1.1M639.7 207.5v-1.1M111.3 207.5v1.1M111.3 266.6v-1.1M164.2 207.5v2.0M164.2 266.6v-2.0M217 207.5v1.1M217 266.6v-1.1M269.8 207.5v2.0M269.8 266.6v-2.0M322.7 207.5v1.1M322.7 266.6v-1.1M375.5 207.5v2.0M375.5 266.6v-2.0M428.3 207.5v1.1M428.3 266.6v-1.1M481.2 207.5v2.0M481.2 266.6v-2.0M534 207.5v1.1M534 266.6v-1.1M586.8 207.5v2.0M586.8 266.6v-2.0M639.7 207.5v1.1M639.7 266.6v-1.1M111.3 266.6v1.1M111.3 325.3v-1.1M164.2 266.6v2.0M164.2 325.3v-2.0M217 266.6v1.1M217 325.3v-1.1M269.8 266.6v2.0M269.8 325.3v-2.0M322.7 266.6v1.1M322.7 325.3v-1.1M375.5 266.6v2.0M375.5 325.3v-2.0M428.3 266.6v1.1M428.3 325.3v-1.1M481.2 266.6v2.0M481.2 325.3v-2.0M534 266.6v1.1M534 325.3v-1.1M586.8 266.6v2.0M586.8 325.3v-2.0M639.7 266.6v1.1M639.7 325.3v-1.1M111.3 325.3v1.1M111.3 384.2v-1.1M164.2 325.3v2.0M164.2 384.2v-2.0M217 325.3v1.1M217 384.2v-1.1M269.8 325.3v2.0M269.8 384.2v-2.0M322.7 325.3v1.1M322.7 384.2v-1.1M375.5 325.3v2.0M375.5 384.2v-2.0M428.3 325.3v1.1M428.3 384.2v-1.1M481.2 325.3v2.0M481.2 384.2v-2.0M534 325.3v1.1M534 384.2v-1.1M586.8 325.3v2.0M586.8 384.2v-2.0M639.7 325.3v1.1M639.7 384.2v-1.1M111.3 396.3v1.1M111.3 455.3v-1.1M164.2 396.3v2.0M164.2 455.3v-2.0M217 396.3v1.1M217 455.3v-1.1M269.8 396.3v2.0M269.8 455.3v-2.0M322.7 396.3v1.1M322.7 455.3v-1.1M375.5 396.3v2.0M375.5 455.3v-2.0M428.3 396.3v1.1M428.3 455.3v-1.1M481.2 396.3v2.0M481.2 455.3v-2.0M534 396.3v1.1M534 455.3v-1.1M586.8 396.3v2.0M586.8 455.3v-2.0M639.7 396.3v1.1M639.7 455.3v-1.1M111.3 455.3v1.1M111.3 513.1v-1.1M164.2 455.3v2.0M164.2 513.1v-2.0M217 455.3v1.1M217 513.1v-1.1M269.8 455.3v2.0M269.8 513.1v-2.0M322.7 455.3v1.1M322.7 513.1v-1.1M375.5 455.3v2.0M375.5 513.1v-2.0M428.3 455.3v1.1M428.3 513.1v-1.1M481.2 455.3v2.0M481.2 513.1v-2.0M534 455.3v1.1M534 513.1v-1.1M586.8 455.3v2.0M586.8 513.1v-2.0M639.7 455.3v1.1M639.7 513.1v-1.1M111.3 513.1v1.1M111.3 572.4v-1.1M164.2 513.1v2.0M164.2 572.4v-2.0M217 513.1v1.1M217 572.4v-1.1M269.8 513.1v2.0M269.8 572.4v-2.0M322.7 513.1v1.1M322.7 572.4v-1.1M375.5 513.1v2.0M375.5 572.4v-2.0M428.3 513.1v1.1M428.3 572.4v-1.1M481.2 513.1v2.0M481.2 572.4v-2.0M534 513.1v1.1M534 572.4v-1.1M586.8 513.1v2.0M586.8 572.4v-2.0M639.7 513.1v1.1M639.7 572.4v-1.1M111.3 572.4v1.1M111.3 631.3v-1.1M164.2 572.4v2.0M164.2 631.3v-2.0M217 572.4v1.1M217 631.3v-1.1M269.8 572.4v2.0M269.8 631.3v-2.0M322.7 572.4v1.1M322.7 631.3v-1.1M375.5 572.4v2.0M375.5 631.3v-2.0M428.3 572.4v1.1M428.3 631.3v-1.1M481.2 572.4v2.0M481.2 631.3v-2.0M534 572.4v1.1M534 631.3v-1.1M586.8 572.4v2.0M586.8 631.3v-2.0M639.7 572.4v1.1M639.7 631.3v-1.1M111.3 631.3v1.1M111.3 690.1v-1.1M164.2 631.3v2.0M164.2 690.1v-2.0M217 631.3v1.1M217 690.1v-1.1M269.8 631.3v2.0M269.8 690.1v-2.0M322.7 631.3v1.1M322.7 690.1v-1.1M375.5 631.3v2.0M375.5 690.1v-2.0M428.3 631.3v1.1M428.3 690.1v-1.1M481.2 631.3v2.0M481.2 690.1v-2.0M534 631.3v1.1M534 690.1v-1.1M586.8 631.3v2.0M586.8 690.1v-2.0M639.7 631.3v1.1M639.7 690.1v-1.1M111.3 690.1v1.1M111.3 749.2v-1.1M164.2 690.1v2.0M164.2 749.2v-2.0M217 690.1v1.1M217 749.2v-1.1M269.8 690.1v2.0M269.8 749.2v-2.0M322.7 690.1v1.1M322.7 749.2v-1.1M375.5 690.1v2.0M375.5 749.2v-2.0M428.3 690.1v1.1M428.3 749.2v-1.1M481.2 690.1v2.0M481.2 749.2v-2.0M534 690.1v1.1M534 749.2v-1.1M586.8 690.1v2.0M586.8 749.2v-2.0M639.7 690.1v1.1M639.7 749.2v-1.1" stroke-width="1"/>
</g>
<g font-family="'Liberation Sans','DejaVu Sans',sans-serif" font-size="8.6" fill="#000" stroke="#000" stroke-width="0.22">
<text x="375" y="10.2" text-anchor="middle" font-size="11.3" letter-spacing="0">P3 (TH−D)</text>
<text x="55" y="19.3" text-anchor="end">400</text>
<text x="55" y="32.3" text-anchor="end">300</text>
<text x="55" y="47.1" text-anchor="end">200</text>
<text x="55" y="61.3" text-anchor="end">100</text>
<text x="55" y="73.6" text-anchor="end">0</text>
<text x="34" y="43.5" text-anchor="middle" transform="rotate(-90 34 43.5)">AE Index</text>
<text x="45" y="81.5" text-anchor="middle" transform="rotate(-90 45 81.5)">ROI</text>
<text x="55" y="95.7" text-anchor="end">300</text>
<text x="55" y="103.2" text-anchor="end">250</text>
<text x="55" y="113" text-anchor="end">200</text>
<text x="55" y="122.8" text-anchor="end">150</text>
<text x="55" y="132.5" text-anchor="end">100</text>
<text x="55" y="142.2" text-anchor="end">50</text>
<text x="55" y="148.9" text-anchor="end">0</text>
<text x="34" y="119" text-anchor="middle" transform="rotate(-90 34 119)">Keogram</text>
<text x="55" y="154.6" text-anchor="end">60</text>
<text x="55" y="166.6" text-anchor="end">40</text>
<text x="55" y="181.6" text-anchor="end">20</text>
<text x="55" y="196.6" text-anchor="end">0</text>
<text x="55" y="208.6" text-anchor="end">−20</text>
<text x="17" y="178" text-anchor="middle" transform="rotate(-90 17 178)">B FIT</text>
<text x="24.5" y="178" text-anchor="middle" transform="rotate(-90 24.5 178)">GSE</text>
<text x="32.5" y="178" text-anchor="middle" transform="rotate(-90 32.5 178)">[nT]</text>
<text x="55" y="218.7" text-anchor="end">10.000</text>
<text x="55" y="231.7" text-anchor="end">1.000</text>
<text x="55" y="244.7" text-anchor="end">0.100</text>
<text x="55" y="257.7" text-anchor="end">0.010</text>
<text x="55" y="266.9" text-anchor="end">0.001</text>
<text x="8" y="238" text-anchor="middle" transform="rotate(-90 8 238)">Ni</text>
<text x="14.5" y="238" text-anchor="middle" transform="rotate(-90 14.5 238)">elec</text>
<text x="22" y="238" text-anchor="middle" transform="rotate(-90 22 238)">[1/cc]</text>
<text x="55" y="272.4" text-anchor="end">150</text>
<text x="55" y="280.4" text-anchor="end">100</text>
<text x="55" y="289.8" text-anchor="end">50</text>
<text x="55" y="299.1" text-anchor="end">0</text>
<text x="55" y="308.5" text-anchor="end">−50</text>
<text x="55" y="317.8" text-anchor="end">−100</text>
<text x="55" y="326.3" text-anchor="end">−150</text>
<text x="19.5" y="296" text-anchor="middle" transform="rotate(-90 19.5 296)">Vi</text>
<text x="27.5" y="296" text-anchor="middle" transform="rotate(-90 27.5 296)">[km/s]</text>
<text x="55" y="340.5" text-anchor="end">1000.0</text>
<text x="55" y="352.2" text-anchor="end">100.0</text>
<text x="55" y="363.9" text-anchor="end">10.0</text>
<text x="55" y="375.7" text-anchor="end">1.0</text>
<text x="55" y="384.6" text-anchor="end">0.1</text>
<text x="6.5" y="355" text-anchor="middle" transform="rotate(-90 6.5 355)">Ti</text>
<text x="14.5" y="355" text-anchor="middle" transform="rotate(-90 14.5 355)">elec</text>
<text x="22" y="355" text-anchor="middle" transform="rotate(-90 22 355)">[eV]</text>
<text x="56" y="417.6" text-anchor="end">10<tspan dy="-3.2" font-size="6.3">6</tspan></text>
<text x="56" y="448.6" text-anchor="end">10<tspan dy="-3.2" font-size="6.3">5</tspan></text>
<text x="20.5" y="426" text-anchor="middle" transform="rotate(-90 20.5 426)">SST</text>
<text x="28.5" y="426" text-anchor="middle" transform="rotate(-90 28.5 426)">ions</text>
<text x="36" y="426" text-anchor="middle" transform="rotate(-90 36 426)">[eV]</text>
<text x="55" y="464.4" text-anchor="end">10000</text>
<text x="55" y="480.8" text-anchor="end">1000</text>
<text x="55" y="497.2" text-anchor="end">100</text>
<text x="55" y="513" text-anchor="end">10</text>
<text x="8.7" y="484" text-anchor="middle" transform="rotate(-90 8.7 484)">ESA</text>
<text x="16.5" y="484" text-anchor="middle" transform="rotate(-90 16.5 484)">ions</text>
<text x="25" y="484" text-anchor="middle" transform="rotate(-90 25 484)">[eV]</text>
<text x="56" y="553.1" text-anchor="end">10<tspan dy="-3.2" font-size="6.3">5</tspan></text>
<text x="20.5" y="543" text-anchor="middle" transform="rotate(-90 20.5 543)">SST</text>
<text x="28.5" y="543" text-anchor="middle" transform="rotate(-90 28.5 543)">elec</text>
<text x="36" y="543" text-anchor="middle" transform="rotate(-90 36 543)">[eV]</text>
<text x="55" y="583.6" text-anchor="end">10000</text>
<text x="55" y="599.8" text-anchor="end">1000</text>
<text x="55" y="616" text-anchor="end">100</text>
<text x="55" y="631.1" text-anchor="end">10</text>
<text x="8.7" y="602.5" text-anchor="middle" transform="rotate(-90 8.7 602.5)">ESA</text>
<text x="16.5" y="602.5" text-anchor="middle" transform="rotate(-90 16.5 602.5)">elec</text>
<text x="25" y="602.5" text-anchor="middle" transform="rotate(-90 25 602.5)">[eV]</text>
<text x="55" y="640.3" text-anchor="end">1000</text>
<text x="55" y="660.1" text-anchor="end">100</text>
<text x="55" y="679.9" text-anchor="end">10</text>
<text x="14.3" y="661" text-anchor="middle" transform="rotate(-90 14.3 661)">FBK</text>
<text x="22" y="661" text-anchor="middle" transform="rotate(-90 22 661)">edc12</text>
<text x="30" y="661" text-anchor="middle" transform="rotate(-90 30 661)">[Hz]</text>
<text x="55" y="699.1" text-anchor="end">1000</text>
<text x="55" y="718.9" text-anchor="end">100</text>
<text x="55" y="738.7" text-anchor="end">10</text>
<text x="14.3" y="720" text-anchor="middle" transform="rotate(-90 14.3 720)">FBK</text>
<text x="22" y="720" text-anchor="middle" transform="rotate(-90 22 720)">scm1</text>
<text x="30" y="720" text-anchor="middle" transform="rotate(-90 30 720)">[Hz]</text>
<text x="700.8" y="29.1" fill="#0000ff" stroke="#0000ff">Kyoto AE</text>
<text x="700.8" y="58.9" fill="#000" stroke="#000">Themis AE</text>
<text x="700.8" y="159.1" fill="#ff0000" stroke="#ff0000">Bz</text>
<text x="700.8" y="179.1" fill="#00ff00" stroke="#00ff00">By</text>
<text x="700.8" y="198.6" fill="#0000ff" stroke="#0000ff">Bx</text>
<text x="700.8" y="218.1" fill="#ff0000" stroke="#ff0000">Ne</text>
<text x="700.8" y="238.1" fill="#000" stroke="#000">Ni</text>
<text x="700.8" y="257.6" fill="#0000ff" stroke="#0000ff">Npot</text>
<text x="700.8" y="277.1" fill="#ff0000" stroke="#ff0000">Viz</text>
<text x="700.8" y="296.6" fill="#00ff00" stroke="#00ff00">Viy</text>
<text x="700.8" y="316.6" fill="#0000ff" stroke="#0000ff">Vix</text>
<text x="700.8" y="331.1" fill="#000" stroke="#000">Tell</text>
<text x="700.8" y="349.6" fill="#ff0000" stroke="#ff0000">Te⊥</text>
<text x="700.8" y="359.6" fill="#00ff00" stroke="#00ff00">Til</text>
<text x="700.8" y="379.1" fill="#0000ff" stroke="#0000ff">Ti⊥</text>
<text x="705.3" y="412.6">10<tspan dy="-3.2" font-size="6.3">6</tspan></text>
<text x="705.3" y="427.8">10<tspan dy="-3.2" font-size="6.3">4</tspan></text>
<text x="705.3" y="443">10<tspan dy="-3.2" font-size="6.3">2</tspan></text>
<text x="705.3" y="455.3">10<tspan dy="-3.2" font-size="6.3">0</tspan></text>
<text x="705.3" y="466.6">10<tspan dy="-3.2" font-size="6.3">8</tspan></text>
<text x="705.3" y="476.7">10<tspan dy="-3.2" font-size="6.3">7</tspan></text>
<text x="705.3" y="486.9">10<tspan dy="-3.2" font-size="6.3">6</tspan></text>
<text x="705.3" y="497">10<tspan dy="-3.2" font-size="6.3">5</tspan></text>
<text x="705.3" y="505.4">10<tspan dy="-3.2" font-size="6.3">4</tspan></text>
<text x="705.3" y="513.1">10<tspan dy="-3.2" font-size="6.3">3</tspan></text>
<text x="705.3" y="530.1">10<tspan dy="-3.2" font-size="6.3">6</tspan></text>
<text x="705.3" y="544.4">10<tspan dy="-3.2" font-size="6.3">4</tspan></text>
<text x="705.3" y="560.4">10<tspan dy="-3.2" font-size="6.3">2</tspan></text>
<text x="705.3" y="573.1">10<tspan dy="-3.2" font-size="6.3">0</tspan></text>
<text x="705.3" y="586.1">10<tspan dy="-3.2" font-size="6.3">8</tspan></text>
<text x="705.3" y="598.4">10<tspan dy="-3.2" font-size="6.3">7</tspan></text>
<text x="705.3" y="610.6">10<tspan dy="-3.2" font-size="6.3">6</tspan></text>
<text x="705.3" y="622.9">10<tspan dy="-3.2" font-size="6.3">5</tspan></text>
<text x="705.3" y="632.5">10<tspan dy="-3.2" font-size="6.3">4</tspan></text>
<text x="727" y="426.3" text-anchor="middle" transform="rotate(-90 727 426.3)">Eflux, EFU</text>
<text x="727" y="484.2" text-anchor="middle" transform="rotate(-90 727 484.2)">Eflux, EFU</text>
<text x="727" y="543.4" text-anchor="middle" transform="rotate(-90 727 543.4)">Eflux, EFU</text>
<text x="727" y="602.5" text-anchor="middle" transform="rotate(-90 727 602.5)">Eflux, EFU</text>
<text x="705.3" y="641.3">1.00</text>
<text x="705.3" y="662.3">0.10</text>
<text x="705.3" y="682.5">0.01</text>
<text x="705.3" y="697.9">1.000</text>
<text x="705.3" y="711.2">0.100</text>
<text x="705.3" y="724.9">0.010</text>
<text x="705.3" y="738.8">0.001</text>
<text x="732.3" y="661" text-anchor="middle" transform="rotate(-90 732.3 661)" letter-spacing="0.5">&lt;|mV/m|&gt;</text>
<text x="737" y="719.6" text-anchor="middle" transform="rotate(-90 737 719.6)">&lt;|nT|&gt;</text>
<text x="5" y="760.8">X−GSE</text>
<text x="5" y="767.8">Y−GSE</text>
<text x="5" y="774.9">Z−GSE</text>
<text x="5" y="781.9">hhmm</text>
<text x="5" y="789.3" word-spacing="1.6">2017 Oct 17</text>
<text x="58.5" y="760.8" text-anchor="middle">10.3</text>
<text x="58.5" y="767.8" text-anchor="middle">−5.5</text>
<text x="58.5" y="774.9" text-anchor="middle">0.3</text>
<text x="58.5" y="781.9" text-anchor="middle">1800</text>
<text x="164.2" y="760.8" text-anchor="middle">10.3</text>
<text x="164.2" y="767.8" text-anchor="middle">−5.3</text>
<text x="164.2" y="774.9" text-anchor="middle">0.4</text>
<text x="164.2" y="781.9" text-anchor="middle">1820</text>
<text x="269.8" y="760.8" text-anchor="middle">10.2</text>
<text x="269.8" y="767.8" text-anchor="middle">−5.1</text>
<text x="269.8" y="774.9" text-anchor="middle">0.5</text>
<text x="269.8" y="781.9" text-anchor="middle">1840</text>
<text x="375.5" y="760.8" text-anchor="middle">10.2</text>
<text x="375.5" y="767.8" text-anchor="middle">−4.9</text>
<text x="375.5" y="774.9" text-anchor="middle">0.6</text>
<text x="375.5" y="781.9" text-anchor="middle">1900</text>
<text x="481.2" y="760.8" text-anchor="middle">10.1</text>
<text x="481.2" y="767.8" text-anchor="middle">−4.7</text>
<text x="481.2" y="774.9" text-anchor="middle">0.7</text>
<text x="481.2" y="781.9" text-anchor="middle">1920</text>
<text x="586.8" y="760.8" text-anchor="middle">10.1</text>
<text x="586.8" y="767.8" text-anchor="middle">−4.5</text>
<text x="586.8" y="774.9" text-anchor="middle">0.7</text>
<text x="586.8" y="781.9" text-anchor="middle">1940</text>
<text x="692.5" y="760.8" text-anchor="middle">10.0</text>
<text x="692.5" y="767.8" text-anchor="middle">−4.2</text>
<text x="692.5" y="774.9" text-anchor="middle">0.8</text>
<text x="692.5" y="781.9" text-anchor="middle">2000</text>
</g>
</svg>
</div>
</body></html>
